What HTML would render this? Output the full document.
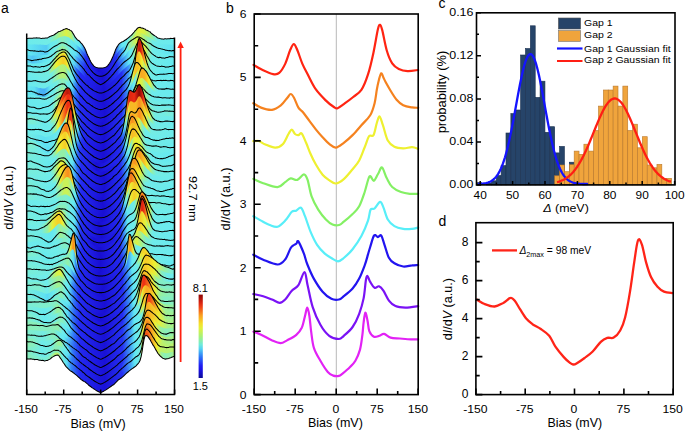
<!DOCTYPE html>
<html><head><meta charset="utf-8"><style>
html,body{margin:0;padding:0;background:#fff;overflow:hidden}
svg{display:block;font-family:"Liberation Sans",sans-serif}
</style></head><body>
<svg width="685" height="432" viewBox="0 0 685 432">
<rect width="685" height="432" fill="#fff"/>
<defs><linearGradient id="g0" gradientUnits="userSpaceOnUse" x1="26.7" y1="0" x2="174.6" y2="0"><stop offset="0.000" stop-color="#6cebec"/><stop offset="0.153" stop-color="#72ece5"/><stop offset="0.200" stop-color="#93f0a6"/><stop offset="0.220" stop-color="#aff17d"/><stop offset="0.267" stop-color="#dcf145"/><stop offset="0.300" stop-color="#bcf26b"/><stop offset="0.327" stop-color="#71ece8"/><stop offset="0.360" stop-color="#63e8f1"/><stop offset="0.380" stop-color="#42a5f6"/><stop offset="0.407" stop-color="#242cf2"/><stop offset="0.487" stop-color="#180ed2"/><stop offset="0.567" stop-color="#1e19e4"/><stop offset="0.593" stop-color="#242ef2"/><stop offset="0.627" stop-color="#52c6f4"/><stop offset="0.647" stop-color="#63e8f2"/><stop offset="0.693" stop-color="#70ecea"/><stop offset="0.727" stop-color="#a6f189"/><stop offset="0.753" stop-color="#e7f139"/><stop offset="0.793" stop-color="#daf146"/><stop offset="0.833" stop-color="#aaf185"/><stop offset="0.867" stop-color="#7bedd5"/><stop offset="0.887" stop-color="#6debec"/><stop offset="1.000" stop-color="#6bebed"/></linearGradient><linearGradient id="g1" gradientUnits="userSpaceOnUse" x1="26.7" y1="0" x2="174.6" y2="0"><stop offset="0.000" stop-color="#64e9f1"/><stop offset="0.087" stop-color="#59d5f3"/><stop offset="0.133" stop-color="#54caf4"/><stop offset="0.160" stop-color="#65e9f0"/><stop offset="0.207" stop-color="#73ece3"/><stop offset="0.240" stop-color="#89efb9"/><stop offset="0.300" stop-color="#6bebed"/><stop offset="0.333" stop-color="#5ee0f2"/><stop offset="0.360" stop-color="#3f9ef6"/><stop offset="0.400" stop-color="#232af1"/><stop offset="0.513" stop-color="#180ed3"/><stop offset="0.607" stop-color="#2531f2"/><stop offset="0.640" stop-color="#3f9df6"/><stop offset="0.667" stop-color="#64e9f1"/><stop offset="0.680" stop-color="#72ece5"/><stop offset="0.693" stop-color="#8eefb0"/><stop offset="0.740" stop-color="#d5f14d"/><stop offset="0.767" stop-color="#d3f14f"/><stop offset="0.807" stop-color="#99f09c"/><stop offset="0.853" stop-color="#6fecea"/><stop offset="0.993" stop-color="#5fe2f2"/><stop offset="1.000" stop-color="#62e8f2"/></linearGradient><linearGradient id="g2" gradientUnits="userSpaceOnUse" x1="26.7" y1="0" x2="174.6" y2="0"><stop offset="0.000" stop-color="#5ddcf3"/><stop offset="0.040" stop-color="#51c5f4"/><stop offset="0.133" stop-color="#64e9f1"/><stop offset="0.187" stop-color="#70ecea"/><stop offset="0.213" stop-color="#88efbb"/><stop offset="0.240" stop-color="#9af09a"/><stop offset="0.273" stop-color="#87eebd"/><stop offset="0.293" stop-color="#6cebec"/><stop offset="0.320" stop-color="#5cdbf3"/><stop offset="0.367" stop-color="#2d62f6"/><stop offset="0.400" stop-color="#2226f0"/><stop offset="0.520" stop-color="#1910d6"/><stop offset="0.613" stop-color="#2535f3"/><stop offset="0.660" stop-color="#42a4f6"/><stop offset="0.693" stop-color="#63e8f2"/><stop offset="0.713" stop-color="#6eebeb"/><stop offset="0.727" stop-color="#93f0a6"/><stop offset="0.740" stop-color="#d7f14a"/><stop offset="0.747" stop-color="#f2f02d"/><stop offset="0.767" stop-color="#f4e02a"/><stop offset="0.793" stop-color="#e5f13b"/><stop offset="0.813" stop-color="#b3f178"/><stop offset="0.847" stop-color="#70ece9"/><stop offset="1.000" stop-color="#66e9f0"/></linearGradient><linearGradient id="g3" gradientUnits="userSpaceOnUse" x1="26.7" y1="0" x2="174.6" y2="0"><stop offset="0.000" stop-color="#65e9f0"/><stop offset="0.160" stop-color="#6cebec"/><stop offset="0.173" stop-color="#76edde"/><stop offset="0.207" stop-color="#b7f172"/><stop offset="0.227" stop-color="#def143"/><stop offset="0.253" stop-color="#f2f02d"/><stop offset="0.267" stop-color="#dbf146"/><stop offset="0.293" stop-color="#77eddd"/><stop offset="0.307" stop-color="#65e9f0"/><stop offset="0.333" stop-color="#2f6ef7"/><stop offset="0.360" stop-color="#242bf2"/><stop offset="0.520" stop-color="#190fd4"/><stop offset="0.640" stop-color="#242cf2"/><stop offset="0.693" stop-color="#40a0f6"/><stop offset="0.707" stop-color="#5fe2f2"/><stop offset="0.720" stop-color="#6eebeb"/><stop offset="0.727" stop-color="#87eebd"/><stop offset="0.740" stop-color="#f0f02f"/><stop offset="0.753" stop-color="#f7ba24"/><stop offset="0.773" stop-color="#f7bb24"/><stop offset="0.800" stop-color="#f0f030"/><stop offset="0.827" stop-color="#8aefb8"/><stop offset="0.840" stop-color="#6fecea"/><stop offset="1.000" stop-color="#65e9f0"/></linearGradient><linearGradient id="g4" gradientUnits="userSpaceOnUse" x1="26.7" y1="0" x2="174.6" y2="0"><stop offset="0.000" stop-color="#6cebec"/><stop offset="0.147" stop-color="#74ece1"/><stop offset="0.180" stop-color="#baf16d"/><stop offset="0.200" stop-color="#eef031"/><stop offset="0.247" stop-color="#f6cc27"/><stop offset="0.267" stop-color="#f4dd2a"/><stop offset="0.273" stop-color="#f2ed2c"/><stop offset="0.287" stop-color="#b2f178"/><stop offset="0.300" stop-color="#76eddf"/><stop offset="0.313" stop-color="#64e9f1"/><stop offset="0.340" stop-color="#2e6af6"/><stop offset="0.367" stop-color="#242bf1"/><stop offset="0.520" stop-color="#190fd4"/><stop offset="0.640" stop-color="#242cf2"/><stop offset="0.687" stop-color="#40a0f6"/><stop offset="0.713" stop-color="#65e9f0"/><stop offset="0.720" stop-color="#6debec"/><stop offset="0.727" stop-color="#8eefaf"/><stop offset="0.733" stop-color="#e8f038"/><stop offset="0.740" stop-color="#f8b724"/><stop offset="0.747" stop-color="#f4631a"/><stop offset="0.753" stop-color="#d82411"/><stop offset="0.760" stop-color="#bd190c"/><stop offset="0.773" stop-color="#dd2611"/><stop offset="0.787" stop-color="#f5711b"/><stop offset="0.807" stop-color="#f3e82c"/><stop offset="0.820" stop-color="#a0f092"/><stop offset="0.833" stop-color="#75ece1"/><stop offset="0.907" stop-color="#65e9f0"/><stop offset="1.000" stop-color="#67eaef"/></linearGradient><linearGradient id="g5" gradientUnits="userSpaceOnUse" x1="26.7" y1="0" x2="174.6" y2="0"><stop offset="0.000" stop-color="#69eaee"/><stop offset="0.167" stop-color="#72ece6"/><stop offset="0.227" stop-color="#b3f178"/><stop offset="0.253" stop-color="#b4f176"/><stop offset="0.267" stop-color="#a1f090"/><stop offset="0.287" stop-color="#72ece6"/><stop offset="0.307" stop-color="#60e4f2"/><stop offset="0.327" stop-color="#368bf7"/><stop offset="0.360" stop-color="#242bf2"/><stop offset="0.527" stop-color="#1910d5"/><stop offset="0.640" stop-color="#242cf2"/><stop offset="0.680" stop-color="#3992f7"/><stop offset="0.693" stop-color="#5ee0f2"/><stop offset="0.707" stop-color="#78edda"/><stop offset="0.720" stop-color="#e1f13f"/><stop offset="0.733" stop-color="#f6c426"/><stop offset="0.753" stop-color="#f7bf25"/><stop offset="0.780" stop-color="#f1f02e"/><stop offset="0.807" stop-color="#8defb2"/><stop offset="0.827" stop-color="#6feceb"/><stop offset="1.000" stop-color="#69eaee"/></linearGradient><linearGradient id="g6" gradientUnits="userSpaceOnUse" x1="26.7" y1="0" x2="174.6" y2="0"><stop offset="0.000" stop-color="#64e9f1"/><stop offset="0.053" stop-color="#5ee0f2"/><stop offset="0.093" stop-color="#49b3f5"/><stop offset="0.120" stop-color="#46adf5"/><stop offset="0.160" stop-color="#64e9f1"/><stop offset="0.207" stop-color="#77eddc"/><stop offset="0.240" stop-color="#8defb1"/><stop offset="0.260" stop-color="#83eec4"/><stop offset="0.273" stop-color="#6feceb"/><stop offset="0.293" stop-color="#63e8f1"/><stop offset="0.327" stop-color="#3073f7"/><stop offset="0.360" stop-color="#242af1"/><stop offset="0.527" stop-color="#1910d5"/><stop offset="0.640" stop-color="#242cf2"/><stop offset="0.693" stop-color="#43a6f6"/><stop offset="0.720" stop-color="#64e9f1"/><stop offset="0.733" stop-color="#71ece8"/><stop offset="0.747" stop-color="#b7f172"/><stop offset="0.753" stop-color="#e9f037"/><stop offset="0.773" stop-color="#f9a721"/><stop offset="0.800" stop-color="#f8b323"/><stop offset="0.827" stop-color="#f3ea2c"/><stop offset="0.847" stop-color="#a9f186"/><stop offset="0.867" stop-color="#77eddc"/><stop offset="0.887" stop-color="#6bebed"/><stop offset="1.000" stop-color="#6aeaed"/></linearGradient><linearGradient id="g7" gradientUnits="userSpaceOnUse" x1="26.7" y1="0" x2="174.6" y2="0"><stop offset="0.000" stop-color="#67e9ef"/><stop offset="0.180" stop-color="#71ece7"/><stop offset="0.240" stop-color="#9ef095"/><stop offset="0.273" stop-color="#81eec8"/><stop offset="0.287" stop-color="#6debeb"/><stop offset="0.300" stop-color="#63e8f1"/><stop offset="0.333" stop-color="#2e6bf6"/><stop offset="0.360" stop-color="#242ef2"/><stop offset="0.513" stop-color="#180fd3"/><stop offset="0.640" stop-color="#242cf2"/><stop offset="0.680" stop-color="#3a92f7"/><stop offset="0.700" stop-color="#63e8f2"/><stop offset="0.713" stop-color="#72ece7"/><stop offset="0.733" stop-color="#d3f14e"/><stop offset="0.747" stop-color="#f2f02d"/><stop offset="0.780" stop-color="#d3f14e"/><stop offset="0.813" stop-color="#88efbb"/><stop offset="0.847" stop-color="#6eebeb"/><stop offset="1.000" stop-color="#69eaee"/></linearGradient><linearGradient id="g8" gradientUnits="userSpaceOnUse" x1="26.7" y1="0" x2="174.6" y2="0"><stop offset="0.000" stop-color="#6aeaed"/><stop offset="0.140" stop-color="#67eaef"/><stop offset="0.173" stop-color="#71ece8"/><stop offset="0.220" stop-color="#a9f186"/><stop offset="0.253" stop-color="#cbf257"/><stop offset="0.273" stop-color="#bef268"/><stop offset="0.300" stop-color="#76edde"/><stop offset="0.313" stop-color="#66e9f0"/><stop offset="0.320" stop-color="#5ad7f3"/><stop offset="0.333" stop-color="#3487f8"/><stop offset="0.367" stop-color="#242af1"/><stop offset="0.527" stop-color="#1910d5"/><stop offset="0.640" stop-color="#2531f2"/><stop offset="0.673" stop-color="#3487f8"/><stop offset="0.687" stop-color="#58d4f3"/><stop offset="0.700" stop-color="#6cebec"/><stop offset="0.707" stop-color="#7dedd0"/><stop offset="0.713" stop-color="#97f09f"/><stop offset="0.720" stop-color="#caf258"/><stop offset="0.727" stop-color="#e9f036"/><stop offset="0.753" stop-color="#f4e02a"/><stop offset="0.773" stop-color="#f1f02e"/><stop offset="0.800" stop-color="#abf182"/><stop offset="0.833" stop-color="#74ece1"/><stop offset="1.000" stop-color="#6bebed"/></linearGradient><linearGradient id="g9" gradientUnits="userSpaceOnUse" x1="26.7" y1="0" x2="174.6" y2="0"><stop offset="0.000" stop-color="#6eebeb"/><stop offset="0.173" stop-color="#70ecea"/><stop offset="0.207" stop-color="#b5f175"/><stop offset="0.227" stop-color="#eff030"/><stop offset="0.267" stop-color="#f6c726"/><stop offset="0.293" stop-color="#f3e22b"/><stop offset="0.300" stop-color="#ecf033"/><stop offset="0.307" stop-color="#cbf257"/><stop offset="0.313" stop-color="#98f09d"/><stop offset="0.320" stop-color="#7cedd2"/><stop offset="0.327" stop-color="#6cebec"/><stop offset="0.333" stop-color="#64e8f1"/><stop offset="0.353" stop-color="#2e6cf6"/><stop offset="0.373" stop-color="#242bf1"/><stop offset="0.520" stop-color="#190fd4"/><stop offset="0.627" stop-color="#232af1"/><stop offset="0.660" stop-color="#3076f7"/><stop offset="0.673" stop-color="#58d3f3"/><stop offset="0.680" stop-color="#6aeaee"/><stop offset="0.687" stop-color="#8aefb7"/><stop offset="0.693" stop-color="#d1f250"/><stop offset="0.700" stop-color="#f4df2a"/><stop offset="0.713" stop-color="#f6c626"/><stop offset="0.740" stop-color="#f7ba24"/><stop offset="0.760" stop-color="#f9961f"/><stop offset="0.807" stop-color="#e7f139"/><stop offset="0.833" stop-color="#8befb5"/><stop offset="0.867" stop-color="#74ece2"/><stop offset="0.920" stop-color="#73ece4"/><stop offset="0.953" stop-color="#78edda"/><stop offset="1.000" stop-color="#74ece3"/></linearGradient><linearGradient id="g10" gradientUnits="userSpaceOnUse" x1="26.7" y1="0" x2="174.6" y2="0"><stop offset="0.000" stop-color="#7bedd5"/><stop offset="0.040" stop-color="#7bedd5"/><stop offset="0.120" stop-color="#6aeaed"/><stop offset="0.153" stop-color="#71ece8"/><stop offset="0.173" stop-color="#90efac"/><stop offset="0.193" stop-color="#e4f13c"/><stop offset="0.220" stop-color="#faa220"/><stop offset="0.247" stop-color="#ef3415"/><stop offset="0.273" stop-color="#bb180c"/><stop offset="0.293" stop-color="#cc1f0f"/><stop offset="0.300" stop-color="#eb2c14"/><stop offset="0.320" stop-color="#f6c426"/><stop offset="0.327" stop-color="#f2f02d"/><stop offset="0.333" stop-color="#a9f186"/><stop offset="0.340" stop-color="#76eddf"/><stop offset="0.347" stop-color="#66e9ef"/><stop offset="0.360" stop-color="#317ff8"/><stop offset="0.373" stop-color="#273cf3"/><stop offset="0.400" stop-color="#2120ed"/><stop offset="0.520" stop-color="#190fd4"/><stop offset="0.633" stop-color="#242ff2"/><stop offset="0.647" stop-color="#2f72f7"/><stop offset="0.653" stop-color="#4fc1f4"/><stop offset="0.660" stop-color="#6cebec"/><stop offset="0.667" stop-color="#b1f17a"/><stop offset="0.673" stop-color="#f5d128"/><stop offset="0.687" stop-color="#f04016"/><stop offset="0.693" stop-color="#de2712"/><stop offset="0.713" stop-color="#e42912"/><stop offset="0.727" stop-color="#ee2d14"/><stop offset="0.760" stop-color="#8f0605"/><stop offset="0.773" stop-color="#aa110a"/><stop offset="0.787" stop-color="#e62a13"/><stop offset="0.813" stop-color="#f7bf25"/><stop offset="0.827" stop-color="#eef032"/><stop offset="0.847" stop-color="#92f0a7"/><stop offset="0.867" stop-color="#71ece8"/><stop offset="1.000" stop-color="#6cebec"/></linearGradient><linearGradient id="g11" gradientUnits="userSpaceOnUse" x1="26.7" y1="0" x2="174.6" y2="0"><stop offset="0.000" stop-color="#6feceb"/><stop offset="0.167" stop-color="#6debec"/><stop offset="0.193" stop-color="#94f0a5"/><stop offset="0.213" stop-color="#f1f02e"/><stop offset="0.247" stop-color="#f7811d"/><stop offset="0.273" stop-color="#ee3014"/><stop offset="0.287" stop-color="#ee2d14"/><stop offset="0.293" stop-color="#f03b16"/><stop offset="0.313" stop-color="#f6ca27"/><stop offset="0.320" stop-color="#e6f13a"/><stop offset="0.327" stop-color="#9af09b"/><stop offset="0.333" stop-color="#6eeceb"/><stop offset="0.340" stop-color="#63e8f1"/><stop offset="0.353" stop-color="#3076f7"/><stop offset="0.373" stop-color="#242bf1"/><stop offset="0.520" stop-color="#190fd4"/><stop offset="0.633" stop-color="#242bf1"/><stop offset="0.653" stop-color="#2d65f6"/><stop offset="0.660" stop-color="#3384f8"/><stop offset="0.667" stop-color="#50c2f4"/><stop offset="0.673" stop-color="#6aeaee"/><stop offset="0.680" stop-color="#8defb2"/><stop offset="0.687" stop-color="#e4f13c"/><stop offset="0.700" stop-color="#f7ba24"/><stop offset="0.740" stop-color="#f8b824"/><stop offset="0.760" stop-color="#f88b1e"/><stop offset="0.780" stop-color="#f9ac22"/><stop offset="0.807" stop-color="#e9f037"/><stop offset="0.827" stop-color="#8eefb0"/><stop offset="0.840" stop-color="#74ece3"/><stop offset="1.000" stop-color="#6debec"/></linearGradient><linearGradient id="g12" gradientUnits="userSpaceOnUse" x1="26.7" y1="0" x2="174.6" y2="0"><stop offset="0.000" stop-color="#74ece2"/><stop offset="0.120" stop-color="#5ee0f2"/><stop offset="0.247" stop-color="#6feceb"/><stop offset="0.253" stop-color="#7bedd4"/><stop offset="0.260" stop-color="#94f0a4"/><stop offset="0.267" stop-color="#d1f250"/><stop offset="0.273" stop-color="#f5d529"/><stop offset="0.293" stop-color="#ed2d14"/><stop offset="0.300" stop-color="#e22812"/><stop offset="0.307" stop-color="#f14c17"/><stop offset="0.313" stop-color="#f9ac22"/><stop offset="0.320" stop-color="#daf146"/><stop offset="0.327" stop-color="#70ece9"/><stop offset="0.333" stop-color="#58d4f3"/><stop offset="0.340" stop-color="#3588f8"/><stop offset="0.360" stop-color="#2636f3"/><stop offset="0.473" stop-color="#1910d5"/><stop offset="0.633" stop-color="#242bf2"/><stop offset="0.647" stop-color="#2b55f5"/><stop offset="0.660" stop-color="#45abf6"/><stop offset="0.667" stop-color="#64e9f1"/><stop offset="0.673" stop-color="#70ecea"/><stop offset="0.680" stop-color="#a1f090"/><stop offset="0.687" stop-color="#f0f02f"/><stop offset="0.700" stop-color="#f9a721"/><stop offset="0.713" stop-color="#f88d1e"/><stop offset="0.740" stop-color="#f7bd25"/><stop offset="0.760" stop-color="#e3f13d"/><stop offset="0.780" stop-color="#8fefad"/><stop offset="0.800" stop-color="#6fecea"/><stop offset="1.000" stop-color="#6eebeb"/></linearGradient><linearGradient id="g13" gradientUnits="userSpaceOnUse" x1="26.7" y1="0" x2="174.6" y2="0"><stop offset="0.000" stop-color="#7cedd2"/><stop offset="0.040" stop-color="#7eedcf"/><stop offset="0.080" stop-color="#6eebeb"/><stop offset="0.147" stop-color="#5dddf3"/><stop offset="0.187" stop-color="#70ecea"/><stop offset="0.200" stop-color="#92f0a7"/><stop offset="0.213" stop-color="#d8f149"/><stop offset="0.220" stop-color="#f2ed2d"/><stop offset="0.260" stop-color="#f67c1c"/><stop offset="0.273" stop-color="#f67a1c"/><stop offset="0.293" stop-color="#f6cc27"/><stop offset="0.300" stop-color="#e9f037"/><stop offset="0.313" stop-color="#77eddd"/><stop offset="0.327" stop-color="#5bdaf3"/><stop offset="0.340" stop-color="#317df8"/><stop offset="0.367" stop-color="#242cf2"/><stop offset="0.520" stop-color="#190fd4"/><stop offset="0.633" stop-color="#242cf2"/><stop offset="0.660" stop-color="#3179f7"/><stop offset="0.673" stop-color="#62e7f2"/><stop offset="0.680" stop-color="#6cebec"/><stop offset="0.687" stop-color="#8eefaf"/><stop offset="0.693" stop-color="#d2f24f"/><stop offset="0.700" stop-color="#f4e02a"/><stop offset="0.713" stop-color="#f7bb24"/><stop offset="0.740" stop-color="#f6cb27"/><stop offset="0.760" stop-color="#ebf034"/><stop offset="0.787" stop-color="#8eefb0"/><stop offset="0.807" stop-color="#74ece1"/><stop offset="1.000" stop-color="#69eaee"/></linearGradient><linearGradient id="g14" gradientUnits="userSpaceOnUse" x1="26.7" y1="0" x2="174.6" y2="0"><stop offset="0.000" stop-color="#7bedd5"/><stop offset="0.140" stop-color="#6aeaee"/><stop offset="0.173" stop-color="#75ede0"/><stop offset="0.193" stop-color="#96f0a0"/><stop offset="0.213" stop-color="#dcf144"/><stop offset="0.227" stop-color="#f3e92c"/><stop offset="0.260" stop-color="#f6cc27"/><stop offset="0.280" stop-color="#e9f037"/><stop offset="0.300" stop-color="#7dedd0"/><stop offset="0.307" stop-color="#6cebec"/><stop offset="0.313" stop-color="#65e9f0"/><stop offset="0.333" stop-color="#3485f8"/><stop offset="0.367" stop-color="#242bf1"/><stop offset="0.527" stop-color="#1910d5"/><stop offset="0.633" stop-color="#242bf2"/><stop offset="0.667" stop-color="#3283f8"/><stop offset="0.687" stop-color="#63e8f2"/><stop offset="0.700" stop-color="#70ecea"/><stop offset="0.720" stop-color="#cef254"/><stop offset="0.733" stop-color="#f2f02d"/><stop offset="0.760" stop-color="#e4f13c"/><stop offset="0.780" stop-color="#c1f263"/><stop offset="0.807" stop-color="#81eec8"/><stop offset="0.847" stop-color="#6cebec"/><stop offset="0.960" stop-color="#67e9ef"/><stop offset="1.000" stop-color="#6debec"/></linearGradient><linearGradient id="g15" gradientUnits="userSpaceOnUse" x1="26.7" y1="0" x2="174.6" y2="0"><stop offset="0.000" stop-color="#74ece2"/><stop offset="0.033" stop-color="#75ede0"/><stop offset="0.167" stop-color="#65e9f0"/><stop offset="0.193" stop-color="#6feceb"/><stop offset="0.220" stop-color="#90efac"/><stop offset="0.253" stop-color="#94f0a5"/><stop offset="0.273" stop-color="#7dedd1"/><stop offset="0.287" stop-color="#6cebec"/><stop offset="0.307" stop-color="#60e4f2"/><stop offset="0.340" stop-color="#2f6ff7"/><stop offset="0.367" stop-color="#242bf2"/><stop offset="0.520" stop-color="#190fd4"/><stop offset="0.640" stop-color="#2530f2"/><stop offset="0.673" stop-color="#3a93f7"/><stop offset="0.693" stop-color="#63e8f1"/><stop offset="0.707" stop-color="#74ece2"/><stop offset="0.713" stop-color="#91f0a9"/><stop offset="0.720" stop-color="#c3f261"/><stop offset="0.727" stop-color="#ebf035"/><stop offset="0.747" stop-color="#f6cc27"/><stop offset="0.787" stop-color="#eef031"/><stop offset="0.813" stop-color="#a5f18b"/><stop offset="0.840" stop-color="#70ecea"/><stop offset="1.000" stop-color="#6aeaed"/></linearGradient><linearGradient id="g16" gradientUnits="userSpaceOnUse" x1="26.7" y1="0" x2="174.6" y2="0"><stop offset="0.000" stop-color="#78eddb"/><stop offset="0.080" stop-color="#76eddf"/><stop offset="0.160" stop-color="#6feceb"/><stop offset="0.193" stop-color="#9ef095"/><stop offset="0.227" stop-color="#e4f13c"/><stop offset="0.253" stop-color="#d3f14e"/><stop offset="0.267" stop-color="#aef17f"/><stop offset="0.287" stop-color="#71ece8"/><stop offset="0.307" stop-color="#63e8f2"/><stop offset="0.340" stop-color="#2f6ff7"/><stop offset="0.367" stop-color="#242cf2"/><stop offset="0.513" stop-color="#180ed3"/><stop offset="0.640" stop-color="#2532f2"/><stop offset="0.673" stop-color="#388ef7"/><stop offset="0.693" stop-color="#60e4f2"/><stop offset="0.707" stop-color="#6debec"/><stop offset="0.713" stop-color="#82eec6"/><stop offset="0.727" stop-color="#dff141"/><stop offset="0.740" stop-color="#f7be25"/><stop offset="0.760" stop-color="#f9921f"/><stop offset="0.793" stop-color="#f7bf25"/><stop offset="0.813" stop-color="#f2eb2c"/><stop offset="0.847" stop-color="#91efaa"/><stop offset="0.873" stop-color="#74ece2"/><stop offset="1.000" stop-color="#6debec"/></linearGradient><linearGradient id="g17" gradientUnits="userSpaceOnUse" x1="26.7" y1="0" x2="174.6" y2="0"><stop offset="0.000" stop-color="#75ede0"/><stop offset="0.167" stop-color="#6eebeb"/><stop offset="0.180" stop-color="#7cedd3"/><stop offset="0.200" stop-color="#aaf185"/><stop offset="0.220" stop-color="#f0f02f"/><stop offset="0.267" stop-color="#f6cc27"/><stop offset="0.287" stop-color="#ecf033"/><stop offset="0.300" stop-color="#9bf09a"/><stop offset="0.307" stop-color="#7cedd3"/><stop offset="0.313" stop-color="#6cebec"/><stop offset="0.320" stop-color="#66e9f0"/><stop offset="0.333" stop-color="#44a8f6"/><stop offset="0.353" stop-color="#2a50f5"/><stop offset="0.367" stop-color="#242bf2"/><stop offset="0.520" stop-color="#180fd3"/><stop offset="0.633" stop-color="#242bf2"/><stop offset="0.660" stop-color="#317bf8"/><stop offset="0.673" stop-color="#60e3f2"/><stop offset="0.680" stop-color="#6beaed"/><stop offset="0.687" stop-color="#87eebd"/><stop offset="0.693" stop-color="#caf258"/><stop offset="0.700" stop-color="#f4df2a"/><stop offset="0.713" stop-color="#faa120"/><stop offset="0.733" stop-color="#f9931f"/><stop offset="0.767" stop-color="#f3e82c"/><stop offset="0.780" stop-color="#c4f260"/><stop offset="0.800" stop-color="#87eebd"/><stop offset="0.833" stop-color="#6eebeb"/><stop offset="1.000" stop-color="#6eebeb"/></linearGradient><linearGradient id="g18" gradientUnits="userSpaceOnUse" x1="26.7" y1="0" x2="174.6" y2="0"><stop offset="0.000" stop-color="#7aedd6"/><stop offset="0.173" stop-color="#68eaef"/><stop offset="0.193" stop-color="#70ece9"/><stop offset="0.213" stop-color="#a7f189"/><stop offset="0.227" stop-color="#e6f13a"/><stop offset="0.260" stop-color="#faa521"/><stop offset="0.280" stop-color="#f88d1e"/><stop offset="0.300" stop-color="#f8b924"/><stop offset="0.307" stop-color="#f4da29"/><stop offset="0.313" stop-color="#dbf145"/><stop offset="0.320" stop-color="#94f0a3"/><stop offset="0.327" stop-color="#6feceb"/><stop offset="0.333" stop-color="#64e8f1"/><stop offset="0.347" stop-color="#327ff8"/><stop offset="0.367" stop-color="#242bf2"/><stop offset="0.513" stop-color="#180ed2"/><stop offset="0.633" stop-color="#242cf2"/><stop offset="0.653" stop-color="#317ef8"/><stop offset="0.667" stop-color="#66e9f0"/><stop offset="0.673" stop-color="#75ede0"/><stop offset="0.687" stop-color="#ebf034"/><stop offset="0.700" stop-color="#f8b624"/><stop offset="0.720" stop-color="#f9a921"/><stop offset="0.753" stop-color="#f2eb2c"/><stop offset="0.767" stop-color="#c8f25a"/><stop offset="0.787" stop-color="#86eec0"/><stop offset="0.807" stop-color="#70ece9"/><stop offset="0.980" stop-color="#69eaee"/><stop offset="1.000" stop-color="#6cebec"/></linearGradient><linearGradient id="g19" gradientUnits="userSpaceOnUse" x1="26.7" y1="0" x2="174.6" y2="0"><stop offset="0.000" stop-color="#7cedd2"/><stop offset="0.080" stop-color="#73ece5"/><stop offset="0.193" stop-color="#73ece4"/><stop offset="0.253" stop-color="#caf257"/><stop offset="0.280" stop-color="#c8f25a"/><stop offset="0.293" stop-color="#abf183"/><stop offset="0.313" stop-color="#6feceb"/><stop offset="0.327" stop-color="#62e8f2"/><stop offset="0.347" stop-color="#2f72f7"/><stop offset="0.367" stop-color="#242ef2"/><stop offset="0.487" stop-color="#180ed2"/><stop offset="0.627" stop-color="#2327f0"/><stop offset="0.633" stop-color="#242bf2"/><stop offset="0.647" stop-color="#2e69f6"/><stop offset="0.660" stop-color="#64e9f1"/><stop offset="0.667" stop-color="#77eddc"/><stop offset="0.673" stop-color="#baf16e"/><stop offset="0.680" stop-color="#f3e32b"/><stop offset="0.693" stop-color="#f88f1e"/><stop offset="0.707" stop-color="#f6761c"/><stop offset="0.753" stop-color="#f3e52b"/><stop offset="0.767" stop-color="#ccf255"/><stop offset="0.780" stop-color="#95f0a2"/><stop offset="0.807" stop-color="#72ece7"/><stop offset="1.000" stop-color="#6bebed"/></linearGradient><linearGradient id="g20" gradientUnits="userSpaceOnUse" x1="26.7" y1="0" x2="174.6" y2="0"><stop offset="0.000" stop-color="#6debec"/><stop offset="0.200" stop-color="#6fecea"/><stop offset="0.233" stop-color="#82eec6"/><stop offset="0.267" stop-color="#7feecc"/><stop offset="0.307" stop-color="#68eaef"/><stop offset="0.320" stop-color="#62e8f2"/><stop offset="0.353" stop-color="#2c5df5"/><stop offset="0.367" stop-color="#242bf2"/><stop offset="0.507" stop-color="#180ed2"/><stop offset="0.633" stop-color="#242cf2"/><stop offset="0.660" stop-color="#3d98f7"/><stop offset="0.667" stop-color="#56cff3"/><stop offset="0.673" stop-color="#66e9f0"/><stop offset="0.680" stop-color="#6fecea"/><stop offset="0.700" stop-color="#e9f037"/><stop offset="0.727" stop-color="#f6cd27"/><stop offset="0.767" stop-color="#e8f037"/><stop offset="0.807" stop-color="#89efb9"/><stop offset="0.833" stop-color="#77eddb"/><stop offset="1.000" stop-color="#6eebeb"/></linearGradient><linearGradient id="g21" gradientUnits="userSpaceOnUse" x1="26.7" y1="0" x2="174.6" y2="0"><stop offset="0.000" stop-color="#75ece1"/><stop offset="0.040" stop-color="#73ece4"/><stop offset="0.180" stop-color="#70ece9"/><stop offset="0.213" stop-color="#8befb6"/><stop offset="0.260" stop-color="#88efbb"/><stop offset="0.293" stop-color="#6eebeb"/><stop offset="0.327" stop-color="#5ee1f2"/><stop offset="0.353" stop-color="#2e67f6"/><stop offset="0.367" stop-color="#2532f2"/><stop offset="0.453" stop-color="#1910d6"/><stop offset="0.587" stop-color="#1d18e2"/><stop offset="0.633" stop-color="#242df2"/><stop offset="0.660" stop-color="#388ff7"/><stop offset="0.680" stop-color="#61e5f2"/><stop offset="0.727" stop-color="#72ece5"/><stop offset="0.740" stop-color="#97f09e"/><stop offset="0.747" stop-color="#c8f25a"/><stop offset="0.753" stop-color="#f3eb2c"/><stop offset="0.773" stop-color="#f99a1f"/><stop offset="0.787" stop-color="#fa9b20"/><stop offset="0.820" stop-color="#f3e92c"/><stop offset="0.833" stop-color="#bbf16c"/><stop offset="0.847" stop-color="#89efb9"/><stop offset="0.860" stop-color="#6fecea"/><stop offset="1.000" stop-color="#6debec"/></linearGradient><linearGradient id="g22" gradientUnits="userSpaceOnUse" x1="26.7" y1="0" x2="174.6" y2="0"><stop offset="0.000" stop-color="#77eddc"/><stop offset="0.127" stop-color="#6fecea"/><stop offset="0.160" stop-color="#8aefb8"/><stop offset="0.200" stop-color="#d4f14d"/><stop offset="0.227" stop-color="#e1f140"/><stop offset="0.247" stop-color="#b9f170"/><stop offset="0.273" stop-color="#7feecc"/><stop offset="0.293" stop-color="#6debec"/><stop offset="0.320" stop-color="#63e8f2"/><stop offset="0.340" stop-color="#42a4f6"/><stop offset="0.367" stop-color="#242cf2"/><stop offset="0.493" stop-color="#180ed2"/><stop offset="0.627" stop-color="#2328f0"/><stop offset="0.640" stop-color="#2843f4"/><stop offset="0.667" stop-color="#4ab5f5"/><stop offset="0.680" stop-color="#62e8f2"/><stop offset="0.727" stop-color="#70ecea"/><stop offset="0.740" stop-color="#8defb2"/><stop offset="0.753" stop-color="#f2ee2d"/><stop offset="0.773" stop-color="#f5701b"/><stop offset="0.780" stop-color="#f36019"/><stop offset="0.793" stop-color="#f67b1c"/><stop offset="0.827" stop-color="#eaf035"/><stop offset="0.847" stop-color="#86eebf"/><stop offset="0.860" stop-color="#6eeceb"/><stop offset="1.000" stop-color="#6aeaee"/></linearGradient><linearGradient id="g23" gradientUnits="userSpaceOnUse" x1="26.7" y1="0" x2="174.6" y2="0"><stop offset="0.000" stop-color="#6eebeb"/><stop offset="0.100" stop-color="#74ece2"/><stop offset="0.140" stop-color="#93f0a5"/><stop offset="0.173" stop-color="#e3f13d"/><stop offset="0.207" stop-color="#f5d228"/><stop offset="0.227" stop-color="#f5d328"/><stop offset="0.240" stop-color="#f2ec2c"/><stop offset="0.267" stop-color="#93f0a6"/><stop offset="0.293" stop-color="#70ecea"/><stop offset="0.320" stop-color="#64e9f1"/><stop offset="0.353" stop-color="#2e67f6"/><stop offset="0.373" stop-color="#2329f1"/><stop offset="0.500" stop-color="#180ed2"/><stop offset="0.633" stop-color="#242bf1"/><stop offset="0.660" stop-color="#3b96f7"/><stop offset="0.680" stop-color="#63e8f2"/><stop offset="0.733" stop-color="#73ece5"/><stop offset="0.740" stop-color="#81eec9"/><stop offset="0.747" stop-color="#a3f18e"/><stop offset="0.753" stop-color="#eaf035"/><stop offset="0.767" stop-color="#f5731b"/><stop offset="0.773" stop-color="#ee2d14"/><stop offset="0.780" stop-color="#d62310"/><stop offset="0.793" stop-color="#ef3515"/><stop offset="0.820" stop-color="#f5d529"/><stop offset="0.827" stop-color="#e8f038"/><stop offset="0.840" stop-color="#8fefad"/><stop offset="0.853" stop-color="#6feceb"/><stop offset="1.000" stop-color="#6aeaee"/></linearGradient><linearGradient id="g24" gradientUnits="userSpaceOnUse" x1="26.7" y1="0" x2="174.6" y2="0"><stop offset="0.000" stop-color="#78edda"/><stop offset="0.167" stop-color="#63e8f1"/><stop offset="0.193" stop-color="#6fecea"/><stop offset="0.227" stop-color="#9df096"/><stop offset="0.267" stop-color="#84eec4"/><stop offset="0.293" stop-color="#6debec"/><stop offset="0.320" stop-color="#62e8f2"/><stop offset="0.353" stop-color="#2b54f5"/><stop offset="0.367" stop-color="#242bf1"/><stop offset="0.500" stop-color="#180ed2"/><stop offset="0.633" stop-color="#242bf1"/><stop offset="0.667" stop-color="#3c98f7"/><stop offset="0.680" stop-color="#5cdbf3"/><stop offset="0.707" stop-color="#6bebed"/><stop offset="0.720" stop-color="#77eddc"/><stop offset="0.733" stop-color="#9ff094"/><stop offset="0.740" stop-color="#c9f259"/><stop offset="0.747" stop-color="#edf033"/><stop offset="0.767" stop-color="#f6cc27"/><stop offset="0.800" stop-color="#e8f037"/><stop offset="0.813" stop-color="#bff266"/><stop offset="0.827" stop-color="#8defb2"/><stop offset="0.847" stop-color="#70ecea"/><stop offset="1.000" stop-color="#68eaef"/></linearGradient><linearGradient id="g25" gradientUnits="userSpaceOnUse" x1="26.7" y1="0" x2="174.6" y2="0"><stop offset="0.000" stop-color="#6aeaed"/><stop offset="0.213" stop-color="#70ece9"/><stop offset="0.253" stop-color="#84eec2"/><stop offset="0.280" stop-color="#79edd8"/><stop offset="0.293" stop-color="#6debec"/><stop offset="0.320" stop-color="#5cdbf3"/><stop offset="0.347" stop-color="#2c5ff6"/><stop offset="0.360" stop-color="#242df2"/><stop offset="0.493" stop-color="#180ed2"/><stop offset="0.633" stop-color="#2328f0"/><stop offset="0.647" stop-color="#2842f4"/><stop offset="0.667" stop-color="#368bf7"/><stop offset="0.680" stop-color="#58d4f3"/><stop offset="0.693" stop-color="#6aeaee"/><stop offset="0.700" stop-color="#6fecea"/><stop offset="0.727" stop-color="#c7f25b"/><stop offset="0.747" stop-color="#daf147"/><stop offset="0.773" stop-color="#aaf184"/><stop offset="0.807" stop-color="#7dedd1"/><stop offset="0.853" stop-color="#6debeb"/><stop offset="1.000" stop-color="#6eebeb"/></linearGradient><linearGradient id="g26" gradientUnits="userSpaceOnUse" x1="26.7" y1="0" x2="174.6" y2="0"><stop offset="0.000" stop-color="#81eec9"/><stop offset="0.060" stop-color="#7bedd5"/><stop offset="0.120" stop-color="#67eaef"/><stop offset="0.273" stop-color="#74ece3"/><stop offset="0.287" stop-color="#aef17f"/><stop offset="0.293" stop-color="#eaf036"/><stop offset="0.313" stop-color="#f9931f"/><stop offset="0.320" stop-color="#f9931f"/><stop offset="0.327" stop-color="#f6c526"/><stop offset="0.333" stop-color="#a1f090"/><stop offset="0.340" stop-color="#60e5f2"/><stop offset="0.347" stop-color="#2f71f7"/><stop offset="0.353" stop-color="#273ff3"/><stop offset="0.367" stop-color="#2328f0"/><stop offset="0.520" stop-color="#180ed3"/><stop offset="0.640" stop-color="#232af1"/><stop offset="0.660" stop-color="#2d64f6"/><stop offset="0.667" stop-color="#3b94f7"/><stop offset="0.673" stop-color="#66e9f0"/><stop offset="0.680" stop-color="#a6f18a"/><stop offset="0.687" stop-color="#f6c927"/><stop offset="0.693" stop-color="#faa020"/><stop offset="0.707" stop-color="#f8b523"/><stop offset="0.720" stop-color="#e2f13e"/><stop offset="0.727" stop-color="#a9f186"/><stop offset="0.733" stop-color="#85eec0"/><stop offset="0.747" stop-color="#6feceb"/><stop offset="1.000" stop-color="#6cebec"/></linearGradient><linearGradient id="g27" gradientUnits="userSpaceOnUse" x1="26.7" y1="0" x2="174.6" y2="0"><stop offset="0.000" stop-color="#78edda"/><stop offset="0.060" stop-color="#73ece3"/><stop offset="0.213" stop-color="#6fecea"/><stop offset="0.280" stop-color="#92f0a8"/><stop offset="0.307" stop-color="#6debec"/><stop offset="0.320" stop-color="#5ad7f3"/><stop offset="0.333" stop-color="#317bf7"/><stop offset="0.353" stop-color="#242cf2"/><stop offset="0.513" stop-color="#180ed2"/><stop offset="0.647" stop-color="#242bf2"/><stop offset="0.687" stop-color="#409ff6"/><stop offset="0.713" stop-color="#63e8f1"/><stop offset="0.740" stop-color="#70ecea"/><stop offset="0.753" stop-color="#96f0a0"/><stop offset="0.767" stop-color="#e5f13b"/><stop offset="0.787" stop-color="#f6cc27"/><stop offset="0.820" stop-color="#f2ee2d"/><stop offset="0.840" stop-color="#b3f177"/><stop offset="0.867" stop-color="#75ede0"/><stop offset="0.973" stop-color="#64e9f1"/><stop offset="1.000" stop-color="#69eaee"/></linearGradient><linearGradient id="g28" gradientUnits="userSpaceOnUse" x1="26.7" y1="0" x2="174.6" y2="0"><stop offset="0.000" stop-color="#7aedd7"/><stop offset="0.167" stop-color="#72ece5"/><stop offset="0.233" stop-color="#8cefb3"/><stop offset="0.253" stop-color="#7cedd3"/><stop offset="0.267" stop-color="#6debec"/><stop offset="0.293" stop-color="#5ee0f2"/><stop offset="0.333" stop-color="#2c5bf5"/><stop offset="0.360" stop-color="#2329f1"/><stop offset="0.527" stop-color="#190fd4"/><stop offset="0.647" stop-color="#242bf1"/><stop offset="0.687" stop-color="#388ff7"/><stop offset="0.713" stop-color="#60e3f2"/><stop offset="0.753" stop-color="#70ecea"/><stop offset="0.767" stop-color="#92f0a7"/><stop offset="0.780" stop-color="#d8f149"/><stop offset="0.787" stop-color="#f3eb2c"/><stop offset="0.807" stop-color="#f6c426"/><stop offset="0.867" stop-color="#f0f02f"/><stop offset="0.933" stop-color="#94f0a5"/><stop offset="0.987" stop-color="#78eddb"/><stop offset="1.000" stop-color="#79edd8"/></linearGradient><linearGradient id="g29" gradientUnits="userSpaceOnUse" x1="26.7" y1="0" x2="174.6" y2="0"><stop offset="0.000" stop-color="#76eddf"/><stop offset="0.140" stop-color="#6feceb"/><stop offset="0.160" stop-color="#83eec4"/><stop offset="0.200" stop-color="#d0f252"/><stop offset="0.227" stop-color="#e2f13e"/><stop offset="0.240" stop-color="#c3f261"/><stop offset="0.267" stop-color="#70ecea"/><stop offset="0.287" stop-color="#62e8f2"/><stop offset="0.313" stop-color="#3384f8"/><stop offset="0.353" stop-color="#242bf2"/><stop offset="0.527" stop-color="#190fd4"/><stop offset="0.653" stop-color="#2532f2"/><stop offset="0.693" stop-color="#3d98f7"/><stop offset="0.720" stop-color="#60e5f2"/><stop offset="0.747" stop-color="#6eebeb"/><stop offset="0.753" stop-color="#79edd8"/><stop offset="0.767" stop-color="#aaf184"/><stop offset="0.773" stop-color="#d4f14d"/><stop offset="0.780" stop-color="#f2ee2d"/><stop offset="0.800" stop-color="#f6cc27"/><stop offset="0.847" stop-color="#f3e12b"/><stop offset="0.867" stop-color="#e6f13a"/><stop offset="0.887" stop-color="#b5f174"/><stop offset="0.913" stop-color="#85eec2"/><stop offset="0.953" stop-color="#6feceb"/><stop offset="1.000" stop-color="#6eeceb"/></linearGradient><linearGradient id="g30" gradientUnits="userSpaceOnUse" x1="26.7" y1="0" x2="174.6" y2="0"><stop offset="0.000" stop-color="#7aedd7"/><stop offset="0.080" stop-color="#80eecc"/><stop offset="0.140" stop-color="#70ecea"/><stop offset="0.213" stop-color="#a4f18c"/><stop offset="0.233" stop-color="#98f09d"/><stop offset="0.260" stop-color="#6feceb"/><stop offset="0.280" stop-color="#63e8f1"/><stop offset="0.320" stop-color="#3077f7"/><stop offset="0.353" stop-color="#242ff2"/><stop offset="0.507" stop-color="#180ed2"/><stop offset="0.647" stop-color="#242df2"/><stop offset="0.700" stop-color="#43a6f6"/><stop offset="0.720" stop-color="#61e6f2"/><stop offset="0.747" stop-color="#70ecea"/><stop offset="0.760" stop-color="#9ff094"/><stop offset="0.767" stop-color="#cff253"/><stop offset="0.773" stop-color="#f2eb2c"/><stop offset="0.793" stop-color="#f7bb24"/><stop offset="0.833" stop-color="#f4e12a"/><stop offset="0.847" stop-color="#e0f140"/><stop offset="0.873" stop-color="#9cf098"/><stop offset="0.900" stop-color="#83eec5"/><stop offset="0.947" stop-color="#81eec9"/><stop offset="1.000" stop-color="#83eec4"/></linearGradient><linearGradient id="g31" gradientUnits="userSpaceOnUse" x1="26.7" y1="0" x2="174.6" y2="0"><stop offset="0.000" stop-color="#77eddc"/><stop offset="0.120" stop-color="#5fe2f2"/><stop offset="0.140" stop-color="#5ad8f3"/><stop offset="0.180" stop-color="#6bebed"/><stop offset="0.207" stop-color="#7cedd3"/><stop offset="0.233" stop-color="#8defb2"/><stop offset="0.267" stop-color="#6cebec"/><stop offset="0.287" stop-color="#5dddf3"/><stop offset="0.320" stop-color="#2f6ef7"/><stop offset="0.360" stop-color="#232af1"/><stop offset="0.527" stop-color="#1910d5"/><stop offset="0.647" stop-color="#242cf2"/><stop offset="0.693" stop-color="#368af8"/><stop offset="0.720" stop-color="#62e8f2"/><stop offset="0.740" stop-color="#6feceb"/><stop offset="0.753" stop-color="#a5f18b"/><stop offset="0.760" stop-color="#d8f149"/><stop offset="0.767" stop-color="#f4de2a"/><stop offset="0.787" stop-color="#faa020"/><stop offset="0.827" stop-color="#f8b824"/><stop offset="0.860" stop-color="#f2f02d"/><stop offset="0.907" stop-color="#95f0a1"/><stop offset="0.953" stop-color="#89efb9"/><stop offset="1.000" stop-color="#8befb6"/></linearGradient><linearGradient id="g32" gradientUnits="userSpaceOnUse" x1="26.7" y1="0" x2="174.6" y2="0"><stop offset="0.000" stop-color="#7bedd5"/><stop offset="0.167" stop-color="#81eec9"/><stop offset="0.207" stop-color="#85eec1"/><stop offset="0.233" stop-color="#6eebeb"/><stop offset="0.273" stop-color="#5ddef3"/><stop offset="0.320" stop-color="#2e69f6"/><stop offset="0.360" stop-color="#232af1"/><stop offset="0.527" stop-color="#1910d6"/><stop offset="0.647" stop-color="#242cf2"/><stop offset="0.700" stop-color="#41a1f6"/><stop offset="0.727" stop-color="#63e8f1"/><stop offset="0.740" stop-color="#6cebec"/><stop offset="0.747" stop-color="#7cedd3"/><stop offset="0.760" stop-color="#f2ed2c"/><stop offset="0.780" stop-color="#f04116"/><stop offset="0.793" stop-color="#ec2c14"/><stop offset="0.827" stop-color="#f67c1c"/><stop offset="0.860" stop-color="#f3e22b"/><stop offset="0.867" stop-color="#f2ef2d"/><stop offset="0.887" stop-color="#b2f179"/><stop offset="0.900" stop-color="#90efad"/><stop offset="0.933" stop-color="#82eec7"/><stop offset="1.000" stop-color="#87eebd"/></linearGradient><linearGradient id="g33" gradientUnits="userSpaceOnUse" x1="26.7" y1="0" x2="174.6" y2="0"><stop offset="0.000" stop-color="#7bedd5"/><stop offset="0.120" stop-color="#68eaef"/><stop offset="0.167" stop-color="#74ece2"/><stop offset="0.207" stop-color="#96f0a0"/><stop offset="0.227" stop-color="#92f0a8"/><stop offset="0.253" stop-color="#6debec"/><stop offset="0.273" stop-color="#60e3f2"/><stop offset="0.313" stop-color="#3073f7"/><stop offset="0.353" stop-color="#242bf1"/><stop offset="0.527" stop-color="#1911d6"/><stop offset="0.647" stop-color="#2534f3"/><stop offset="0.693" stop-color="#368bf7"/><stop offset="0.727" stop-color="#61e5f2"/><stop offset="0.760" stop-color="#71ece8"/><stop offset="0.773" stop-color="#aff17c"/><stop offset="0.780" stop-color="#e1f13f"/><stop offset="0.793" stop-color="#f6c526"/><stop offset="0.813" stop-color="#f9a721"/><stop offset="0.860" stop-color="#f5d228"/><stop offset="0.880" stop-color="#f2ef2d"/><stop offset="0.927" stop-color="#a2f090"/><stop offset="0.973" stop-color="#95f0a3"/><stop offset="1.000" stop-color="#90efad"/></linearGradient><linearGradient id="g34" gradientUnits="userSpaceOnUse" x1="26.7" y1="0" x2="174.6" y2="0"><stop offset="0.000" stop-color="#83eec5"/><stop offset="0.060" stop-color="#79edd9"/><stop offset="0.120" stop-color="#69eaee"/><stop offset="0.193" stop-color="#73ece5"/><stop offset="0.227" stop-color="#8aefb7"/><stop offset="0.247" stop-color="#83eec5"/><stop offset="0.273" stop-color="#6beaed"/><stop offset="0.287" stop-color="#62e8f2"/><stop offset="0.313" stop-color="#3384f8"/><stop offset="0.360" stop-color="#242bf1"/><stop offset="0.527" stop-color="#1911d6"/><stop offset="0.647" stop-color="#2534f3"/><stop offset="0.707" stop-color="#47aff5"/><stop offset="0.727" stop-color="#62e8f2"/><stop offset="0.773" stop-color="#6feceb"/><stop offset="0.787" stop-color="#8cefb3"/><stop offset="0.793" stop-color="#c1f264"/><stop offset="0.800" stop-color="#f3e62b"/><stop offset="0.813" stop-color="#f5711b"/><stop offset="0.820" stop-color="#f14817"/><stop offset="0.833" stop-color="#f04416"/><stop offset="0.893" stop-color="#f3e62b"/><stop offset="0.940" stop-color="#9ff093"/><stop offset="0.987" stop-color="#9cf098"/><stop offset="1.000" stop-color="#9af09a"/></linearGradient><linearGradient id="g35" gradientUnits="userSpaceOnUse" x1="26.7" y1="0" x2="174.6" y2="0"><stop offset="0.000" stop-color="#8befb6"/><stop offset="0.120" stop-color="#85eec2"/><stop offset="0.153" stop-color="#87eebe"/><stop offset="0.213" stop-color="#90efac"/><stop offset="0.240" stop-color="#70ecea"/><stop offset="0.267" stop-color="#63e8f2"/><stop offset="0.320" stop-color="#2f6df7"/><stop offset="0.360" stop-color="#2329f1"/><stop offset="0.527" stop-color="#1911d7"/><stop offset="0.647" stop-color="#2530f2"/><stop offset="0.707" stop-color="#47aff5"/><stop offset="0.733" stop-color="#63e8f1"/><stop offset="0.767" stop-color="#74ece2"/><stop offset="0.780" stop-color="#a4f18d"/><stop offset="0.787" stop-color="#d5f14c"/><stop offset="0.793" stop-color="#f3e62b"/><stop offset="0.813" stop-color="#f9ab22"/><stop offset="0.853" stop-color="#f7c326"/><stop offset="0.893" stop-color="#e8f038"/><stop offset="0.953" stop-color="#a6f18a"/><stop offset="1.000" stop-color="#a6f189"/></linearGradient><linearGradient id="g36" gradientUnits="userSpaceOnUse" x1="26.7" y1="0" x2="174.6" y2="0"><stop offset="0.000" stop-color="#80eeca"/><stop offset="0.113" stop-color="#74ece2"/><stop offset="0.180" stop-color="#88efbb"/><stop offset="0.220" stop-color="#6cebec"/><stop offset="0.253" stop-color="#63e8f2"/><stop offset="0.320" stop-color="#2e67f6"/><stop offset="0.367" stop-color="#2328f0"/><stop offset="0.527" stop-color="#1a11d7"/><stop offset="0.647" stop-color="#2530f2"/><stop offset="0.700" stop-color="#41a3f6"/><stop offset="0.733" stop-color="#62e8f2"/><stop offset="0.760" stop-color="#6feceb"/><stop offset="0.773" stop-color="#9ef095"/><stop offset="0.780" stop-color="#d5f14d"/><stop offset="0.787" stop-color="#f3e22b"/><stop offset="0.800" stop-color="#f9a921"/><stop offset="0.820" stop-color="#faa020"/><stop offset="0.867" stop-color="#f0f02f"/><stop offset="0.907" stop-color="#94f0a4"/><stop offset="0.947" stop-color="#87eebe"/><stop offset="0.987" stop-color="#96f0a1"/><stop offset="1.000" stop-color="#95f0a2"/></linearGradient><linearGradient id="g37" gradientUnits="userSpaceOnUse" x1="26.7" y1="0" x2="174.6" y2="0"><stop offset="0.000" stop-color="#8eefb0"/><stop offset="0.047" stop-color="#86eec0"/><stop offset="0.100" stop-color="#6eeceb"/><stop offset="0.173" stop-color="#75ede0"/><stop offset="0.213" stop-color="#9cf098"/><stop offset="0.233" stop-color="#95f0a1"/><stop offset="0.253" stop-color="#70ece9"/><stop offset="0.280" stop-color="#60e3f2"/><stop offset="0.307" stop-color="#3383f8"/><stop offset="0.360" stop-color="#232af1"/><stop offset="0.527" stop-color="#1a11d7"/><stop offset="0.647" stop-color="#2531f2"/><stop offset="0.713" stop-color="#4ab4f5"/><stop offset="0.733" stop-color="#62e8f2"/><stop offset="0.767" stop-color="#74ece2"/><stop offset="0.773" stop-color="#87eebd"/><stop offset="0.787" stop-color="#e3f13d"/><stop offset="0.800" stop-color="#f8b323"/><stop offset="0.813" stop-color="#f7861d"/><stop offset="0.847" stop-color="#f9a921"/><stop offset="0.887" stop-color="#f0f02f"/><stop offset="0.920" stop-color="#b6f173"/><stop offset="0.980" stop-color="#a3f18e"/><stop offset="1.000" stop-color="#b0f17b"/></linearGradient><linearGradient id="g38" gradientUnits="userSpaceOnUse" x1="26.7" y1="0" x2="174.6" y2="0"><stop offset="0.000" stop-color="#87eebd"/><stop offset="0.107" stop-color="#6eeceb"/><stop offset="0.160" stop-color="#78edda"/><stop offset="0.193" stop-color="#8cefb3"/><stop offset="0.220" stop-color="#85eec0"/><stop offset="0.247" stop-color="#6cebed"/><stop offset="0.273" stop-color="#5dddf3"/><stop offset="0.300" stop-color="#3588f8"/><stop offset="0.360" stop-color="#242bf2"/><stop offset="0.527" stop-color="#1a11d7"/><stop offset="0.640" stop-color="#2531f2"/><stop offset="0.707" stop-color="#47aef5"/><stop offset="0.727" stop-color="#61e6f2"/><stop offset="0.767" stop-color="#73ece4"/><stop offset="0.773" stop-color="#8befb5"/><stop offset="0.780" stop-color="#c6f25d"/><stop offset="0.787" stop-color="#f4de2a"/><stop offset="0.800" stop-color="#f6771c"/><stop offset="0.807" stop-color="#f36019"/><stop offset="0.827" stop-color="#f6761c"/><stop offset="0.880" stop-color="#f2ef2d"/><stop offset="0.907" stop-color="#c0f266"/><stop offset="0.960" stop-color="#b4f177"/><stop offset="0.987" stop-color="#baf16d"/><stop offset="1.000" stop-color="#b5f174"/></linearGradient><linearGradient id="g39" gradientUnits="userSpaceOnUse" x1="26.7" y1="0" x2="174.6" y2="0"><stop offset="0.000" stop-color="#89efb9"/><stop offset="0.113" stop-color="#79edd9"/><stop offset="0.147" stop-color="#7feecd"/><stop offset="0.200" stop-color="#bcf26b"/><stop offset="0.213" stop-color="#bcf26b"/><stop offset="0.240" stop-color="#76edde"/><stop offset="0.267" stop-color="#61e5f2"/><stop offset="0.300" stop-color="#3487f8"/><stop offset="0.360" stop-color="#232af1"/><stop offset="0.527" stop-color="#1a11d7"/><stop offset="0.647" stop-color="#2530f2"/><stop offset="0.707" stop-color="#46acf6"/><stop offset="0.733" stop-color="#62e8f2"/><stop offset="0.760" stop-color="#6eebeb"/><stop offset="0.767" stop-color="#7cedd3"/><stop offset="0.773" stop-color="#a4f18d"/><stop offset="0.780" stop-color="#f2f02d"/><stop offset="0.800" stop-color="#f14c17"/><stop offset="0.820" stop-color="#f25618"/><stop offset="0.873" stop-color="#f3e22b"/><stop offset="0.880" stop-color="#f2f02d"/><stop offset="0.913" stop-color="#99f09c"/><stop offset="0.933" stop-color="#89efba"/><stop offset="0.973" stop-color="#94f0a5"/><stop offset="1.000" stop-color="#a8f187"/></linearGradient></defs>
<path d="M26.7,38.5 27.7,38.4 28.7,38.3 29.7,38.3 30.6,38.3 31.6,38.3 32.6,38.2 33.6,38.0 34.6,38.0 35.6,37.9 36.6,37.8 37.5,37.9 38.5,38.0 39.5,38.0 40.5,38.3 41.5,38.5 42.5,38.3 43.5,38.2 44.4,38.2 45.4,38.0 46.4,38.0 47.4,37.9 48.4,37.4 49.4,36.7 50.4,36.3 51.3,35.9 52.3,35.5 53.3,35.2 54.3,34.7 55.3,34.0 56.3,33.3 57.3,32.6 58.3,31.8 59.2,31.5 60.2,31.2 61.2,30.8 62.2,30.4 63.2,29.7 64.2,29.2 65.2,28.9 66.1,28.6 67.1,28.8 68.1,29.2 69.1,29.5 70.1,30.4 71.1,30.7 72.1,31.8 73.0,33.4 74.0,34.9 75.0,36.9 76.0,38.2 77.0,39.3 78.0,40.3 79.0,40.8 79.9,41.7 80.9,42.8 81.9,43.8 82.9,45.3 83.9,46.8 84.9,48.6 85.9,50.8 86.8,53.2 87.8,55.5 88.8,57.6 89.8,59.8 90.8,61.7 91.8,63.4 92.8,64.7 93.7,65.8 94.7,66.6 95.7,67.2 96.7,67.6 97.7,67.8 98.7,67.9 99.7,68.0 100.7,68.0 101.6,68.0 102.6,67.9 103.6,67.8 104.6,67.6 105.6,67.2 106.6,66.6 107.6,65.8 108.5,64.7 109.5,63.3 110.5,61.7 111.5,59.7 112.5,57.6 113.5,55.3 114.5,52.8 115.4,50.1 116.4,48.0 117.4,46.4 118.4,44.7 119.4,43.7 120.4,42.9 121.4,42.3 122.3,41.8 123.3,41.5 124.3,40.7 125.3,40.0 126.3,39.5 127.3,38.5 128.3,37.9 129.2,37.1 130.2,36.2 131.2,35.4 132.2,34.3 133.2,33.2 134.2,32.0 135.2,30.7 136.1,29.8 137.1,28.7 138.1,27.8 139.1,27.6 140.1,27.4 141.1,27.9 142.1,27.9 143.0,28.2 144.0,28.7 145.0,29.0 146.0,30.0 147.0,30.3 148.0,30.8 149.0,31.4 150.0,31.8 150.9,32.9 151.9,33.8 152.9,34.5 153.9,35.2 154.9,35.9 155.9,36.4 156.9,37.4 157.8,38.0 158.8,38.2 159.8,38.5 160.8,38.7 161.8,39.0 162.8,39.1 163.8,39.2 164.7,38.8 165.7,38.7 166.7,38.9 167.7,38.7 168.7,38.8 169.7,38.8 170.7,38.4 171.6,38.5 172.6,38.4 173.6,38.3 174.6,38.7V480H26.7Z" fill="url(#g0)"/>
<path d="M26.7,44.0 27.7,44.1 28.7,44.3 29.7,44.3 30.6,44.6 31.6,44.5 32.6,44.5 33.6,44.4 34.6,44.3 35.6,44.4 36.6,44.5 37.5,44.5 38.5,44.7 39.5,44.6 40.5,44.6 41.5,44.8 42.5,44.8 43.5,44.8 44.4,45.0 45.4,45.0 46.4,44.9 47.4,44.7 48.4,44.1 49.4,43.4 50.4,42.8 51.3,42.3 52.3,41.6 53.3,41.1 54.3,40.6 55.3,40.0 56.3,39.4 57.3,38.8 58.3,38.1 59.2,37.6 60.2,37.2 61.2,36.7 62.2,36.5 63.2,36.3 64.2,36.1 65.2,36.2 66.1,36.2 67.1,36.7 68.1,37.1 69.1,37.6 70.1,38.4 71.1,38.9 72.1,39.9 73.0,41.0 74.0,42.3 75.0,43.6 76.0,44.5 77.0,45.3 78.0,46.2 79.0,46.8 79.9,47.8 80.9,49.0 81.9,50.1 82.9,51.5 83.9,53.0 84.9,54.6 85.9,56.5 86.8,58.6 87.8,60.5 88.8,62.4 89.8,64.2 90.8,65.9 91.8,67.3 92.8,68.5 93.7,69.5 94.7,70.3 95.7,71.0 96.7,71.4 97.7,71.8 98.7,72.0 99.7,72.1 100.7,72.2 101.6,72.1 102.6,72.0 103.6,71.8 104.6,71.4 105.6,71.0 106.6,70.3 107.6,69.5 108.5,68.5 109.5,67.3 110.5,65.8 111.5,64.2 112.5,62.4 113.5,60.5 114.5,58.5 115.4,56.3 116.4,54.5 117.4,53.0 118.4,51.5 119.4,50.2 120.4,49.3 121.4,48.2 122.3,47.4 123.3,46.8 124.3,45.8 125.3,44.8 126.3,43.4 127.3,41.8 128.3,40.5 129.2,39.6 130.2,38.8 131.2,38.0 132.2,37.1 133.2,36.3 134.2,35.3 135.2,34.4 136.1,33.6 137.1,32.8 138.1,32.4 139.1,32.4 140.1,32.5 141.1,32.9 142.1,33.3 143.0,33.7 144.0,34.2 145.0,34.8 146.0,35.6 147.0,36.2 148.0,36.7 149.0,37.2 150.0,37.7 150.9,38.4 151.9,39.4 152.9,40.0 153.9,40.7 154.9,41.3 155.9,41.8 156.9,42.5 157.8,43.0 158.8,43.3 159.8,43.5 160.8,43.8 161.8,44.0 162.8,44.2 163.8,44.3 164.7,44.3 165.7,44.4 166.7,44.6 167.7,44.6 168.7,44.8 169.7,44.6 170.7,44.5 171.6,44.7 172.6,44.5 173.6,44.5 174.6,44.5V480H26.7Z" fill="url(#g1)"/>
<path d="M26.7,38.5 27.7,38.4 28.7,38.3 29.7,38.3 30.6,38.3 31.6,38.3 32.6,38.2 33.6,38.0 34.6,38.0 35.6,37.9 36.6,37.8 37.5,37.9 38.5,38.0 39.5,38.0 40.5,38.3 41.5,38.5 42.5,38.3 43.5,38.2 44.4,38.2 45.4,38.0 46.4,38.0 47.4,37.9 48.4,37.4 49.4,36.7 50.4,36.3 51.3,35.9 52.3,35.5 53.3,35.2 54.3,34.7 55.3,34.0 56.3,33.3 57.3,32.6 58.3,31.8 59.2,31.5 60.2,31.2 61.2,30.8 62.2,30.4 63.2,29.7 64.2,29.2 65.2,28.9 66.1,28.6 67.1,28.8 68.1,29.2 69.1,29.5 70.1,30.4 71.1,30.7 72.1,31.8 73.0,33.4 74.0,34.9 75.0,36.9 76.0,38.2 77.0,39.3 78.0,40.3 79.0,40.8 79.9,41.7 80.9,42.8 81.9,43.8 82.9,45.3 83.9,46.8 84.9,48.6 85.9,50.8 86.8,53.2 87.8,55.5 88.8,57.6 89.8,59.8 90.8,61.7 91.8,63.4 92.8,64.7 93.7,65.8 94.7,66.6 95.7,67.2 96.7,67.6 97.7,67.8 98.7,67.9 99.7,68.0 100.7,68.0 101.6,68.0 102.6,67.9 103.6,67.8 104.6,67.6 105.6,67.2 106.6,66.6 107.6,65.8 108.5,64.7 109.5,63.3 110.5,61.7 111.5,59.7 112.5,57.6 113.5,55.3 114.5,52.8 115.4,50.1 116.4,48.0 117.4,46.4 118.4,44.7 119.4,43.7 120.4,42.9 121.4,42.3 122.3,41.8 123.3,41.5 124.3,40.7 125.3,40.0 126.3,39.5 127.3,38.5 128.3,37.9 129.2,37.1 130.2,36.2 131.2,35.4 132.2,34.3 133.2,33.2 134.2,32.0 135.2,30.7 136.1,29.8 137.1,28.7 138.1,27.8 139.1,27.6 140.1,27.4 141.1,27.9 142.1,27.9 143.0,28.2 144.0,28.7 145.0,29.0 146.0,30.0 147.0,30.3 148.0,30.8 149.0,31.4 150.0,31.8 150.9,32.9 151.9,33.8 152.9,34.5 153.9,35.2 154.9,35.9 155.9,36.4 156.9,37.4 157.8,38.0 158.8,38.2 159.8,38.5 160.8,38.7 161.8,39.0 162.8,39.1 163.8,39.2 164.7,38.8 165.7,38.7 166.7,38.9 167.7,38.7 168.7,38.8 169.7,38.8 170.7,38.4 171.6,38.5 172.6,38.4 173.6,38.3 174.6,38.7" fill="none" stroke="#000" stroke-width="1.05"/>
<path d="M26.7,49.5 27.7,49.8 28.7,50.2 29.7,50.4 30.6,50.8 31.6,50.8 32.6,50.7 33.6,50.9 34.6,50.7 35.6,51.0 36.6,51.2 37.5,51.2 38.5,51.4 39.5,51.2 40.5,51.0 41.5,51.2 42.5,51.3 43.5,51.4 44.4,51.9 45.4,52.0 46.4,51.8 47.4,51.6 48.4,50.8 49.4,50.1 50.4,49.3 51.3,48.6 52.3,47.8 53.3,47.1 54.3,46.5 55.3,46.0 56.3,45.5 57.3,45.0 58.3,44.4 59.2,43.7 60.2,43.2 61.2,42.7 62.2,42.7 63.2,42.8 64.2,43.1 65.2,43.6 66.1,43.8 67.1,44.5 68.1,45.1 69.1,45.7 70.1,46.3 71.1,47.1 72.1,47.9 73.0,48.7 74.0,49.6 75.0,50.2 76.0,50.7 77.0,51.2 78.0,52.1 79.0,52.7 79.9,54.0 80.9,55.2 81.9,56.3 82.9,57.7 83.9,59.1 84.9,60.7 85.9,62.3 86.8,64.0 87.8,65.5 88.8,67.3 89.8,68.7 90.8,70.0 91.8,71.2 92.8,72.3 93.7,73.2 94.7,74.0 95.7,74.7 96.7,75.3 97.7,75.7 98.7,76.1 99.7,76.3 100.7,76.3 101.6,76.3 102.6,76.1 103.6,75.7 104.6,75.3 105.6,74.7 106.6,74.0 107.6,73.2 108.5,72.3 109.5,71.2 110.5,70.0 111.5,68.7 112.5,67.3 113.5,65.7 114.5,64.1 115.4,62.5 116.4,61.0 117.4,59.7 118.4,58.2 119.4,56.6 120.4,55.6 121.4,54.0 122.3,53.0 123.3,52.1 124.3,50.9 125.3,49.5 126.3,47.3 127.3,45.1 128.3,43.1 129.2,42.2 130.2,41.3 131.2,40.5 132.2,39.9 133.2,39.3 134.2,38.6 135.2,38.0 136.1,37.4 137.1,36.8 138.1,37.0 139.1,37.1 140.1,37.6 141.1,38.0 142.1,38.6 143.0,39.2 144.0,39.7 145.0,40.7 146.0,41.2 147.0,42.1 148.0,42.6 149.0,43.1 150.0,43.5 150.9,44.0 151.9,45.0 152.9,45.5 153.9,46.3 154.9,46.7 155.9,47.2 156.9,47.7 157.8,48.1 158.8,48.5 159.8,48.6 160.8,48.8 161.8,48.9 162.8,49.3 163.8,49.4 164.7,49.8 165.7,50.2 166.7,50.3 167.7,50.5 168.7,50.7 169.7,50.5 170.7,50.7 171.6,50.9 172.6,50.5 173.6,50.6 174.6,50.3V480H26.7Z" fill="url(#g1)"/>
<path d="M26.7,54.4 27.7,54.7 28.7,55.0 29.7,55.2 30.6,55.5 31.6,55.7 32.6,55.5 33.6,55.5 34.6,55.4 35.6,55.4 36.6,55.6 37.5,55.4 38.5,55.5 39.5,55.3 40.5,55.1 41.5,55.2 42.5,55.0 43.5,54.9 44.4,55.1 45.4,55.1 46.4,54.9 47.4,54.7 48.4,54.2 49.4,53.5 50.4,52.9 51.3,52.3 52.3,51.4 53.3,50.7 54.3,50.1 55.3,49.3 56.3,48.7 57.3,48.1 58.3,47.7 59.2,47.2 60.2,46.7 61.2,46.4 62.2,46.0 63.2,46.2 64.2,46.4 65.2,46.8 66.1,47.2 67.1,47.9 68.1,48.7 69.1,49.6 70.1,50.6 71.1,51.6 72.1,52.5 73.0,53.5 74.0,54.4 75.0,55.3 76.0,56.0 77.0,56.7 78.0,57.6 79.0,58.3 79.9,59.5 80.9,60.5 81.9,61.6 82.9,62.9 83.9,64.1 84.9,65.7 85.9,67.2 86.8,68.7 87.8,70.0 88.8,71.1 89.8,72.4 90.8,73.6 91.8,74.7 92.8,75.7 93.7,76.6 94.7,77.5 95.7,78.3 96.7,78.9 97.7,79.5 98.7,80.0 99.7,80.3 100.7,80.5 101.6,80.3 102.6,80.0 103.6,79.5 104.6,78.9 105.6,78.3 106.6,77.5 107.6,76.6 108.5,75.7 109.5,74.7 110.5,73.5 111.5,72.4 112.5,71.1 113.5,69.7 114.5,68.3 115.4,66.9 116.4,65.5 117.4,64.4 118.4,63.2 119.4,61.8 120.4,60.8 121.4,59.5 122.3,58.5 123.3,57.5 124.3,56.4 125.3,55.4 126.3,53.9 127.3,52.5 128.3,51.1 129.2,50.3 130.2,49.3 131.2,48.3 132.2,47.2 133.2,45.7 134.2,44.3 135.2,42.9 136.1,41.5 137.1,40.2 138.1,39.7 139.1,39.4 140.1,39.7 141.1,40.2 142.1,40.7 143.0,41.4 144.0,42.1 145.0,43.1 146.0,43.9 147.0,45.0 148.0,45.8 149.0,46.7 150.0,47.5 150.9,48.4 151.9,49.3 152.9,49.9 153.9,50.7 154.9,51.2 155.9,51.9 156.9,52.4 157.8,52.8 158.8,53.0 159.8,53.0 160.8,53.2 161.8,53.4 162.8,53.6 163.8,53.8 164.7,54.0 165.7,54.0 166.7,54.0 167.7,54.0 168.7,53.8 169.7,53.6 170.7,53.7 171.6,53.8 172.6,53.7 173.6,53.8 174.6,53.8V480H26.7Z" fill="url(#g2)"/>
<path d="M26.7,49.5 27.7,49.8 28.7,50.2 29.7,50.4 30.6,50.8 31.6,50.8 32.6,50.7 33.6,50.9 34.6,50.7 35.6,51.0 36.6,51.2 37.5,51.2 38.5,51.4 39.5,51.2 40.5,51.0 41.5,51.2 42.5,51.3 43.5,51.4 44.4,51.9 45.4,52.0 46.4,51.8 47.4,51.6 48.4,50.8 49.4,50.1 50.4,49.3 51.3,48.6 52.3,47.8 53.3,47.1 54.3,46.5 55.3,46.0 56.3,45.5 57.3,45.0 58.3,44.4 59.2,43.7 60.2,43.2 61.2,42.7 62.2,42.7 63.2,42.8 64.2,43.1 65.2,43.6 66.1,43.8 67.1,44.5 68.1,45.1 69.1,45.7 70.1,46.3 71.1,47.1 72.1,47.9 73.0,48.7 74.0,49.6 75.0,50.2 76.0,50.7 77.0,51.2 78.0,52.1 79.0,52.7 79.9,54.0 80.9,55.2 81.9,56.3 82.9,57.7 83.9,59.1 84.9,60.7 85.9,62.3 86.8,64.0 87.8,65.5 88.8,67.3 89.8,68.7 90.8,70.0 91.8,71.2 92.8,72.3 93.7,73.2 94.7,74.0 95.7,74.7 96.7,75.3 97.7,75.7 98.7,76.1 99.7,76.3 100.7,76.3 101.6,76.3 102.6,76.1 103.6,75.7 104.6,75.3 105.6,74.7 106.6,74.0 107.6,73.2 108.5,72.3 109.5,71.2 110.5,70.0 111.5,68.7 112.5,67.3 113.5,65.7 114.5,64.1 115.4,62.5 116.4,61.0 117.4,59.7 118.4,58.2 119.4,56.6 120.4,55.6 121.4,54.0 122.3,53.0 123.3,52.1 124.3,50.9 125.3,49.5 126.3,47.3 127.3,45.1 128.3,43.1 129.2,42.2 130.2,41.3 131.2,40.5 132.2,39.9 133.2,39.3 134.2,38.6 135.2,38.0 136.1,37.4 137.1,36.8 138.1,37.0 139.1,37.1 140.1,37.6 141.1,38.0 142.1,38.6 143.0,39.2 144.0,39.7 145.0,40.7 146.0,41.2 147.0,42.1 148.0,42.6 149.0,43.1 150.0,43.5 150.9,44.0 151.9,45.0 152.9,45.5 153.9,46.3 154.9,46.7 155.9,47.2 156.9,47.7 157.8,48.1 158.8,48.5 159.8,48.6 160.8,48.8 161.8,48.9 162.8,49.3 163.8,49.4 164.7,49.8 165.7,50.2 166.7,50.3 167.7,50.5 168.7,50.7 169.7,50.5 170.7,50.7 171.6,50.9 172.6,50.5 173.6,50.6 174.6,50.3" fill="none" stroke="#000" stroke-width="1.05"/>
<path d="M26.7,59.2 27.7,59.5 28.7,59.8 29.7,60.0 30.6,60.2 31.6,60.6 32.6,60.4 33.6,60.2 34.6,60.1 35.6,59.9 36.6,59.9 37.5,59.6 38.5,59.6 39.5,59.3 40.5,59.2 41.5,59.2 42.5,58.6 43.5,58.4 44.4,58.3 45.4,58.2 46.4,58.0 47.4,57.8 48.4,57.6 49.4,57.0 50.4,56.5 51.3,56.0 52.3,55.1 53.3,54.4 54.3,53.7 55.3,52.6 56.3,51.9 57.3,51.3 58.3,51.1 59.2,50.8 60.2,50.2 61.2,50.0 62.2,49.4 63.2,49.7 64.2,49.7 65.2,50.0 66.1,50.6 67.1,51.2 68.1,52.3 69.1,53.4 70.1,54.9 71.1,56.0 72.1,57.1 73.0,58.3 74.0,59.3 75.0,60.3 76.0,61.4 77.0,62.2 78.0,63.0 79.0,63.9 79.9,65.0 80.9,65.9 81.9,66.8 82.9,68.1 83.9,69.1 84.9,70.7 85.9,72.0 86.8,73.3 87.8,74.5 88.8,74.9 89.8,76.0 90.8,77.1 91.8,78.1 92.8,79.1 93.7,80.1 94.7,80.9 95.7,81.8 96.7,82.5 97.7,83.2 98.7,83.8 99.7,84.3 100.7,84.6 101.6,84.3 102.6,83.8 103.6,83.2 104.6,82.5 105.6,81.8 106.6,80.9 107.6,80.1 108.5,79.1 109.5,78.1 110.5,77.1 111.5,76.0 112.5,74.9 113.5,73.8 114.5,72.4 115.4,71.4 116.4,70.1 117.4,69.0 118.4,68.2 119.4,67.0 120.4,66.0 121.4,64.9 122.3,63.9 123.3,62.9 124.3,62.0 125.3,61.3 126.3,60.5 127.3,59.9 128.3,59.0 129.2,58.4 130.2,57.3 131.2,56.1 132.2,54.4 133.2,52.1 134.2,50.0 135.2,47.8 136.1,45.6 137.1,43.6 138.1,42.3 139.1,41.6 140.1,41.9 141.1,42.4 142.1,42.8 143.0,43.6 144.0,44.6 145.0,45.5 146.0,46.7 147.0,47.9 148.0,49.0 149.0,50.3 150.0,51.5 150.9,52.7 151.9,53.6 152.9,54.3 153.9,55.1 154.9,55.7 155.9,56.6 156.9,57.1 157.8,57.4 158.8,57.6 159.8,57.4 160.8,57.5 161.8,57.9 162.8,57.9 163.8,58.1 164.7,58.2 165.7,57.8 166.7,57.6 167.7,57.4 168.7,56.9 169.7,56.6 170.7,56.7 171.6,56.8 172.6,56.8 173.6,57.0 174.6,57.3V480H26.7Z" fill="url(#g2)"/>
<path d="M26.7,62.6 27.7,62.6 28.7,62.9 29.7,62.9 30.6,63.1 31.6,63.6 32.6,63.5 33.6,63.5 34.6,63.4 35.6,63.2 36.6,63.4 37.5,63.3 38.5,63.3 39.5,63.3 40.5,63.1 41.5,62.9 42.5,62.6 43.5,62.5 44.4,62.3 45.4,62.1 46.4,61.9 47.4,61.5 48.4,61.2 49.4,60.6 50.4,60.0 51.3,59.2 52.3,58.2 53.3,57.3 54.3,56.4 55.3,55.4 56.3,54.4 57.3,53.7 58.3,53.0 59.2,52.4 60.2,51.8 61.2,51.4 62.2,50.9 63.2,50.8 64.2,50.8 65.2,51.2 66.1,52.1 67.1,53.3 68.1,54.7 69.1,56.2 70.1,58.1 71.1,59.9 72.1,61.5 73.0,63.3 74.0,64.8 75.0,66.1 76.0,67.4 77.0,68.4 78.0,69.4 79.0,70.4 79.9,71.6 80.9,72.7 81.9,73.6 82.9,74.8 83.9,75.8 84.9,77.2 85.9,78.3 86.8,79.3 87.8,80.2 88.8,81.0 89.8,82.0 90.8,82.9 91.8,83.7 92.8,84.6 93.7,85.3 94.7,86.0 95.7,86.7 96.7,87.3 97.7,87.8 98.7,88.3 99.7,88.6 100.7,88.8 101.6,88.6 102.6,88.3 103.6,87.8 104.6,87.3 105.6,86.7 106.6,86.0 107.6,85.3 108.5,84.5 109.5,83.7 110.5,82.9 111.5,82.0 112.5,81.0 113.5,80.0 114.5,79.0 115.4,78.0 116.4,76.9 117.4,75.8 118.4,74.8 119.4,73.6 120.4,72.4 121.4,71.5 122.3,70.5 123.3,69.6 124.3,68.7 125.3,67.7 126.3,66.9 127.3,66.0 128.3,65.3 129.2,64.4 130.2,63.2 131.2,61.7 132.2,59.8 133.2,57.4 134.2,54.8 135.2,52.0 136.1,48.9 137.1,46.0 138.1,44.1 139.1,43.3 140.1,43.5 141.1,44.2 142.1,45.0 143.0,46.1 144.0,47.5 145.0,48.8 146.0,50.3 147.0,51.9 148.0,53.3 149.0,54.8 150.0,56.3 150.9,57.5 151.9,58.4 152.9,59.0 153.9,59.8 154.9,60.4 155.9,61.1 156.9,61.6 157.8,61.8 158.8,61.9 159.8,62.0 160.8,62.0 161.8,62.0 162.8,62.2 163.8,62.3 164.7,62.5 165.7,62.5 166.7,62.3 167.7,62.2 168.7,62.0 169.7,61.6 170.7,61.5 171.6,61.5 172.6,61.3 173.6,61.5 174.6,61.6V480H26.7Z" fill="url(#g3)"/>
<path d="M26.7,59.2 27.7,59.5 28.7,59.8 29.7,60.0 30.6,60.2 31.6,60.6 32.6,60.4 33.6,60.2 34.6,60.1 35.6,59.9 36.6,59.9 37.5,59.6 38.5,59.6 39.5,59.3 40.5,59.2 41.5,59.2 42.5,58.6 43.5,58.4 44.4,58.3 45.4,58.2 46.4,58.0 47.4,57.8 48.4,57.6 49.4,57.0 50.4,56.5 51.3,56.0 52.3,55.1 53.3,54.4 54.3,53.7 55.3,52.6 56.3,51.9 57.3,51.3 58.3,51.1 59.2,50.8 60.2,50.2 61.2,50.0 62.2,49.4 63.2,49.7 64.2,49.7 65.2,50.0 66.1,50.6 67.1,51.2 68.1,52.3 69.1,53.4 70.1,54.9 71.1,56.0 72.1,57.1 73.0,58.3 74.0,59.3 75.0,60.3 76.0,61.4 77.0,62.2 78.0,63.0 79.0,63.9 79.9,65.0 80.9,65.9 81.9,66.8 82.9,68.1 83.9,69.1 84.9,70.7 85.9,72.0 86.8,73.3 87.8,74.5 88.8,74.9 89.8,76.0 90.8,77.1 91.8,78.1 92.8,79.1 93.7,80.1 94.7,80.9 95.7,81.8 96.7,82.5 97.7,83.2 98.7,83.8 99.7,84.3 100.7,84.6 101.6,84.3 102.6,83.8 103.6,83.2 104.6,82.5 105.6,81.8 106.6,80.9 107.6,80.1 108.5,79.1 109.5,78.1 110.5,77.1 111.5,76.0 112.5,74.9 113.5,73.8 114.5,72.4 115.4,71.4 116.4,70.1 117.4,69.0 118.4,68.2 119.4,67.0 120.4,66.0 121.4,64.9 122.3,63.9 123.3,62.9 124.3,62.0 125.3,61.3 126.3,60.5 127.3,59.9 128.3,59.0 129.2,58.4 130.2,57.3 131.2,56.1 132.2,54.4 133.2,52.1 134.2,50.0 135.2,47.8 136.1,45.6 137.1,43.6 138.1,42.3 139.1,41.6 140.1,41.9 141.1,42.4 142.1,42.8 143.0,43.6 144.0,44.6 145.0,45.5 146.0,46.7 147.0,47.9 148.0,49.0 149.0,50.3 150.0,51.5 150.9,52.7 151.9,53.6 152.9,54.3 153.9,55.1 154.9,55.7 155.9,56.6 156.9,57.1 157.8,57.4 158.8,57.6 159.8,57.4 160.8,57.5 161.8,57.9 162.8,57.9 163.8,58.1 164.7,58.2 165.7,57.8 166.7,57.6 167.7,57.4 168.7,56.9 169.7,56.6 170.7,56.7 171.6,56.8 172.6,56.8 173.6,57.0 174.6,57.3" fill="none" stroke="#000" stroke-width="1.05"/>
<path d="M26.7,65.9 27.7,65.7 28.7,65.9 29.7,65.9 30.6,66.1 31.6,66.6 32.6,66.7 33.6,66.9 34.6,66.7 35.6,66.5 36.6,66.8 37.5,67.0 38.5,67.0 39.5,67.2 40.5,67.0 41.5,66.6 42.5,66.5 43.5,66.6 44.4,66.4 45.4,66.0 46.4,65.8 47.4,65.2 48.4,64.8 49.4,64.2 50.4,63.4 51.3,62.3 52.3,61.3 53.3,60.2 54.3,59.1 55.3,58.2 56.3,56.9 57.3,56.0 58.3,55.0 59.2,53.9 60.2,53.4 61.2,52.8 62.2,52.3 63.2,52.0 64.2,52.0 65.2,52.4 66.1,53.6 67.1,55.3 68.1,57.2 69.1,59.1 70.1,61.2 71.1,63.7 72.1,66.0 73.0,68.3 74.0,70.4 75.0,71.9 76.0,73.4 77.0,74.7 78.0,75.8 79.0,77.0 79.9,78.3 80.9,79.4 81.9,80.4 82.9,81.6 83.9,82.6 84.9,83.7 85.9,84.6 86.8,85.3 87.8,86.0 88.8,87.1 89.8,87.9 90.8,88.6 91.8,89.3 92.8,90.0 93.7,90.6 94.7,91.1 95.7,91.6 96.7,92.0 97.7,92.4 98.7,92.7 99.7,92.9 100.7,93.0 101.6,92.9 102.6,92.7 103.6,92.4 104.6,92.0 105.6,91.6 106.6,91.1 107.6,90.6 108.5,90.0 109.5,89.3 110.5,88.7 111.5,87.9 112.5,87.1 113.5,86.1 114.5,85.5 115.4,84.6 116.4,83.7 117.4,82.6 118.4,81.4 119.4,80.2 120.4,78.8 121.4,78.0 122.3,77.1 123.3,76.3 124.3,75.4 125.3,74.2 126.3,73.2 127.3,72.2 128.3,71.5 129.2,70.5 130.2,69.2 131.2,67.2 132.2,65.1 133.2,62.7 134.2,59.5 135.2,56.1 136.1,52.1 137.1,48.5 138.1,45.9 139.1,45.0 140.1,45.2 141.1,45.9 142.1,47.1 143.0,48.6 144.0,50.3 145.0,52.1 146.0,53.9 147.0,55.9 148.0,57.6 149.0,59.3 150.0,61.0 150.9,62.2 151.9,63.1 152.9,63.8 153.9,64.5 154.9,65.0 155.9,65.6 156.9,66.1 157.8,66.2 158.8,66.3 159.8,66.5 160.8,66.4 161.8,66.1 162.8,66.4 163.8,66.4 164.7,66.7 165.7,67.2 166.7,67.1 167.7,67.0 168.7,67.0 169.7,66.6 170.7,66.4 171.6,66.3 172.6,65.8 173.6,65.9 174.6,66.0V480H26.7Z" fill="url(#g3)"/>
<path d="M26.7,68.8 27.7,68.8 28.7,68.7 29.7,68.8 30.6,68.9 31.6,69.1 32.6,69.3 33.6,69.4 34.6,69.4 35.6,69.4 36.6,69.6 37.5,69.7 38.5,69.6 39.5,69.7 40.5,69.6 41.5,69.4 42.5,69.2 43.5,69.1 44.4,69.0 45.4,68.6 46.4,68.4 47.4,67.9 48.4,67.3 49.4,66.6 50.4,65.6 51.3,64.4 52.3,63.3 53.3,62.2 54.3,61.0 55.3,60.0 56.3,58.7 57.3,57.8 58.3,56.8 59.2,55.9 60.2,55.2 61.2,54.7 62.2,54.3 63.2,54.1 64.2,54.1 65.2,54.6 66.1,55.9 67.1,57.6 68.1,59.7 69.1,61.8 70.1,64.2 71.1,66.7 72.1,69.2 73.0,71.4 74.0,73.5 75.0,75.2 76.0,76.8 77.0,78.3 78.0,79.7 79.0,80.9 79.9,82.0 80.9,83.2 81.9,84.3 82.9,85.5 83.9,86.5 84.9,87.6 85.9,88.6 86.8,89.3 87.8,90.2 88.8,91.1 89.8,91.9 90.8,92.7 91.8,93.4 92.8,94.1 93.7,94.7 94.7,95.2 95.7,95.7 96.7,96.2 97.7,96.5 98.7,96.8 99.7,97.0 100.7,97.1 101.6,97.0 102.6,96.8 103.6,96.5 104.6,96.2 105.6,95.7 106.6,95.2 107.6,94.7 108.5,94.1 109.5,93.4 110.5,92.7 111.5,92.0 112.5,91.2 113.5,90.3 114.5,89.5 115.4,88.6 116.4,87.8 117.4,86.7 118.4,85.6 119.4,84.3 120.4,83.1 121.4,82.2 122.3,81.1 123.3,80.3 124.3,79.5 125.3,78.2 126.3,77.2 127.3,76.1 128.3,75.2 129.2,74.3 130.2,73.2 131.2,71.7 132.2,69.7 133.2,67.0 134.2,63.3 135.2,58.6 136.1,53.0 137.1,47.5 138.1,43.2 139.1,41.6 140.1,42.1 141.1,43.4 142.1,45.5 143.0,48.1 144.0,50.8 145.0,53.7 146.0,56.6 147.0,59.4 148.0,61.6 149.0,63.6 150.0,65.4 150.9,66.6 151.9,67.6 152.9,68.4 153.9,69.2 154.9,69.8 155.9,70.3 156.9,70.5 157.8,70.4 158.8,70.4 159.8,70.4 160.8,70.3 161.8,70.2 162.8,70.3 163.8,70.3 164.7,70.5 165.7,70.7 166.7,70.5 167.7,70.3 168.7,70.2 169.7,70.0 170.7,69.9 171.6,69.9 172.6,69.8 173.6,69.8 174.6,69.7V480H26.7Z" fill="url(#g4)"/>
<path d="M26.7,65.9 27.7,65.7 28.7,65.9 29.7,65.9 30.6,66.1 31.6,66.6 32.6,66.7 33.6,66.9 34.6,66.7 35.6,66.5 36.6,66.8 37.5,67.0 38.5,67.0 39.5,67.2 40.5,67.0 41.5,66.6 42.5,66.5 43.5,66.6 44.4,66.4 45.4,66.0 46.4,65.8 47.4,65.2 48.4,64.8 49.4,64.2 50.4,63.4 51.3,62.3 52.3,61.3 53.3,60.2 54.3,59.1 55.3,58.2 56.3,56.9 57.3,56.0 58.3,55.0 59.2,53.9 60.2,53.4 61.2,52.8 62.2,52.3 63.2,52.0 64.2,52.0 65.2,52.4 66.1,53.6 67.1,55.3 68.1,57.2 69.1,59.1 70.1,61.2 71.1,63.7 72.1,66.0 73.0,68.3 74.0,70.4 75.0,71.9 76.0,73.4 77.0,74.7 78.0,75.8 79.0,77.0 79.9,78.3 80.9,79.4 81.9,80.4 82.9,81.6 83.9,82.6 84.9,83.7 85.9,84.6 86.8,85.3 87.8,86.0 88.8,87.1 89.8,87.9 90.8,88.6 91.8,89.3 92.8,90.0 93.7,90.6 94.7,91.1 95.7,91.6 96.7,92.0 97.7,92.4 98.7,92.7 99.7,92.9 100.7,93.0 101.6,92.9 102.6,92.7 103.6,92.4 104.6,92.0 105.6,91.6 106.6,91.1 107.6,90.6 108.5,90.0 109.5,89.3 110.5,88.7 111.5,87.9 112.5,87.1 113.5,86.1 114.5,85.5 115.4,84.6 116.4,83.7 117.4,82.6 118.4,81.4 119.4,80.2 120.4,78.8 121.4,78.0 122.3,77.1 123.3,76.3 124.3,75.4 125.3,74.2 126.3,73.2 127.3,72.2 128.3,71.5 129.2,70.5 130.2,69.2 131.2,67.2 132.2,65.1 133.2,62.7 134.2,59.5 135.2,56.1 136.1,52.1 137.1,48.5 138.1,45.9 139.1,45.0 140.1,45.2 141.1,45.9 142.1,47.1 143.0,48.6 144.0,50.3 145.0,52.1 146.0,53.9 147.0,55.9 148.0,57.6 149.0,59.3 150.0,61.0 150.9,62.2 151.9,63.1 152.9,63.8 153.9,64.5 154.9,65.0 155.9,65.6 156.9,66.1 157.8,66.2 158.8,66.3 159.8,66.5 160.8,66.4 161.8,66.1 162.8,66.4 163.8,66.4 164.7,66.7 165.7,67.2 166.7,67.1 167.7,67.0 168.7,67.0 169.7,66.6 170.7,66.4 171.6,66.3 172.6,65.8 173.6,65.9 174.6,66.0" fill="none" stroke="#000" stroke-width="1.05"/>
<path d="M26.7,71.8 27.7,71.8 28.7,71.5 29.7,71.6 30.6,71.8 31.6,71.7 32.6,71.9 33.6,72.0 34.6,72.2 35.6,72.3 36.6,72.3 37.5,72.3 38.5,72.1 39.5,72.1 40.5,72.2 41.5,72.2 42.5,72.0 43.5,71.6 44.4,71.6 45.4,71.2 46.4,70.9 47.4,70.6 48.4,69.8 49.4,68.9 50.4,67.8 51.3,66.5 52.3,65.3 53.3,64.1 54.3,62.9 55.3,61.7 56.3,60.6 57.3,59.5 58.3,58.6 59.2,57.8 60.2,57.1 61.2,56.6 62.2,56.2 63.2,56.2 64.2,56.3 65.2,56.8 66.1,58.1 67.1,59.9 68.1,62.1 69.1,64.6 70.1,67.2 71.1,69.7 72.1,72.4 73.0,74.6 74.0,76.6 75.0,78.5 76.0,80.2 77.0,82.0 78.0,83.5 79.0,84.8 79.9,85.8 80.9,86.9 81.9,88.1 82.9,89.4 83.9,90.4 84.9,91.6 85.9,92.6 86.8,93.4 87.8,94.4 88.8,95.2 89.8,96.0 90.8,96.8 91.8,97.5 92.8,98.2 93.7,98.8 94.7,99.3 95.7,99.8 96.7,100.3 97.7,100.7 98.7,101.0 99.7,101.2 100.7,101.3 101.6,101.2 102.6,101.0 103.6,100.7 104.6,100.3 105.6,99.8 106.6,99.3 107.6,98.8 108.5,98.2 109.5,97.5 110.5,96.8 111.5,96.0 112.5,95.2 113.5,94.4 114.5,93.4 115.4,92.6 116.4,91.9 117.4,90.8 118.4,89.9 119.4,88.5 120.4,87.3 121.4,86.4 122.3,85.2 123.3,84.3 124.3,83.5 125.3,82.2 126.3,81.1 127.3,80.1 128.3,78.8 129.2,78.1 130.2,77.3 131.2,76.2 132.2,74.3 133.2,71.4 134.2,67.1 135.2,61.0 136.1,53.8 137.1,46.5 138.1,40.5 139.1,38.3 140.1,39.0 141.1,40.9 142.1,44.0 143.0,47.6 144.0,51.3 145.0,55.3 146.0,59.4 147.0,63.0 148.0,65.7 149.0,67.9 150.0,69.8 150.9,70.9 151.9,72.0 152.9,73.1 153.9,73.8 154.9,74.5 155.9,75.0 156.9,74.9 157.8,74.6 158.8,74.5 159.8,74.3 160.8,74.3 161.8,74.3 162.8,74.2 163.8,74.1 164.7,74.2 165.7,74.1 166.7,73.9 167.7,73.7 168.7,73.5 169.7,73.5 170.7,73.5 171.6,73.5 172.6,73.7 173.6,73.6 174.6,73.4V480H26.7Z" fill="url(#g4)"/>
<path d="M26.7,76.4 27.7,76.4 28.7,76.3 29.7,76.4 30.6,76.5 31.6,76.5 32.6,76.4 33.6,76.4 34.6,76.4 35.6,76.4 36.6,76.7 37.5,76.8 38.5,76.9 39.5,77.0 40.5,76.9 41.5,77.1 42.5,77.0 43.5,76.8 44.4,76.7 45.4,76.6 46.4,76.2 47.4,75.8 48.4,75.2 49.4,74.3 50.4,73.4 51.3,72.4 52.3,71.6 53.3,70.5 54.3,69.6 55.3,68.7 56.3,67.7 57.3,67.0 58.3,66.2 59.2,65.5 60.2,65.0 61.2,64.6 62.2,64.3 63.2,64.3 64.2,64.5 65.2,65.0 66.1,66.0 67.1,67.7 68.1,69.5 69.1,71.5 70.1,73.8 71.1,75.9 72.1,78.1 73.0,80.1 74.0,81.7 75.0,83.3 76.0,84.8 77.0,86.4 78.0,88.0 79.0,89.2 79.9,90.4 80.9,91.5 81.9,92.5 82.9,93.7 83.9,94.9 84.9,96.0 85.9,97.0 86.8,98.0 87.8,98.9 88.8,99.3 89.8,100.1 90.8,100.9 91.8,101.6 92.8,102.3 93.7,102.9 94.7,103.5 95.7,104.0 96.7,104.4 97.7,104.8 98.7,105.1 99.7,105.3 100.7,105.4 101.6,105.3 102.6,105.1 103.6,104.8 104.6,104.4 105.6,104.0 106.6,103.5 107.6,102.9 108.5,102.3 109.5,101.7 110.5,100.9 111.5,100.2 112.5,99.4 113.5,98.6 114.5,97.6 115.4,96.7 116.4,96.0 117.4,95.0 118.4,94.1 119.4,92.8 120.4,91.6 121.4,90.5 122.3,89.2 123.3,88.3 124.3,87.4 125.3,86.3 126.3,85.2 127.3,83.9 128.3,82.5 129.2,81.1 130.2,79.2 131.2,76.9 132.2,74.0 133.2,70.6 134.2,66.8 135.2,62.3 136.1,58.2 137.1,54.5 138.1,51.8 139.1,51.2 140.1,52.1 141.1,53.9 142.1,56.3 143.0,59.2 144.0,62.0 145.0,64.7 146.0,67.5 147.0,69.9 148.0,71.8 149.0,73.5 150.0,74.6 150.9,75.4 151.9,76.0 152.9,76.7 153.9,77.3 154.9,77.6 155.9,77.9 156.9,77.7 157.8,77.5 158.8,77.4 159.8,77.4 160.8,77.3 161.8,77.4 162.8,77.4 163.8,77.2 164.7,77.3 165.7,77.2 166.7,77.2 167.7,77.2 168.7,77.1 169.7,77.1 170.7,76.9 171.6,77.0 172.6,77.1 173.6,77.3 174.6,77.3V480H26.7Z" fill="url(#g5)"/>
<path d="M26.7,71.8 27.7,71.8 28.7,71.5 29.7,71.6 30.6,71.8 31.6,71.7 32.6,71.9 33.6,72.0 34.6,72.2 35.6,72.3 36.6,72.3 37.5,72.3 38.5,72.1 39.5,72.1 40.5,72.2 41.5,72.2 42.5,72.0 43.5,71.6 44.4,71.6 45.4,71.2 46.4,70.9 47.4,70.6 48.4,69.8 49.4,68.9 50.4,67.8 51.3,66.5 52.3,65.3 53.3,64.1 54.3,62.9 55.3,61.7 56.3,60.6 57.3,59.5 58.3,58.6 59.2,57.8 60.2,57.1 61.2,56.6 62.2,56.2 63.2,56.2 64.2,56.3 65.2,56.8 66.1,58.1 67.1,59.9 68.1,62.1 69.1,64.6 70.1,67.2 71.1,69.7 72.1,72.4 73.0,74.6 74.0,76.6 75.0,78.5 76.0,80.2 77.0,82.0 78.0,83.5 79.0,84.8 79.9,85.8 80.9,86.9 81.9,88.1 82.9,89.4 83.9,90.4 84.9,91.6 85.9,92.6 86.8,93.4 87.8,94.4 88.8,95.2 89.8,96.0 90.8,96.8 91.8,97.5 92.8,98.2 93.7,98.8 94.7,99.3 95.7,99.8 96.7,100.3 97.7,100.7 98.7,101.0 99.7,101.2 100.7,101.3 101.6,101.2 102.6,101.0 103.6,100.7 104.6,100.3 105.6,99.8 106.6,99.3 107.6,98.8 108.5,98.2 109.5,97.5 110.5,96.8 111.5,96.0 112.5,95.2 113.5,94.4 114.5,93.4 115.4,92.6 116.4,91.9 117.4,90.8 118.4,89.9 119.4,88.5 120.4,87.3 121.4,86.4 122.3,85.2 123.3,84.3 124.3,83.5 125.3,82.2 126.3,81.1 127.3,80.1 128.3,78.8 129.2,78.1 130.2,77.3 131.2,76.2 132.2,74.3 133.2,71.4 134.2,67.1 135.2,61.0 136.1,53.8 137.1,46.5 138.1,40.5 139.1,38.3 140.1,39.0 141.1,40.9 142.1,44.0 143.0,47.6 144.0,51.3 145.0,55.3 146.0,59.4 147.0,63.0 148.0,65.7 149.0,67.9 150.0,69.8 150.9,70.9 151.9,72.0 152.9,73.1 153.9,73.8 154.9,74.5 155.9,75.0 156.9,74.9 157.8,74.6 158.8,74.5 159.8,74.3 160.8,74.3 161.8,74.3 162.8,74.2 163.8,74.1 164.7,74.2 165.7,74.1 166.7,73.9 167.7,73.7 168.7,73.5 169.7,73.5 170.7,73.5 171.6,73.5 172.6,73.7 173.6,73.6 174.6,73.4" fill="none" stroke="#000" stroke-width="1.05"/>
<path d="M26.7,81.1 27.7,81.0 28.7,81.1 29.7,81.1 30.6,81.3 31.6,81.3 32.6,81.0 33.6,80.8 34.6,80.7 35.6,80.6 36.6,81.1 37.5,81.3 38.5,81.6 39.5,81.8 40.5,81.7 41.5,81.9 42.5,82.0 43.5,82.0 44.4,81.9 45.4,81.9 46.4,81.5 47.4,81.1 48.4,80.5 49.4,79.6 50.4,78.9 51.3,78.4 52.3,77.8 53.3,77.0 54.3,76.4 55.3,75.7 56.3,74.9 57.3,74.4 58.3,73.8 59.2,73.2 60.2,72.9 61.2,72.7 62.2,72.5 63.2,72.5 64.2,72.8 65.2,73.2 66.1,73.9 67.1,75.4 68.1,76.9 69.1,78.4 70.1,80.5 71.1,82.2 72.1,83.8 73.0,85.6 74.0,86.9 75.0,88.2 76.0,89.4 77.0,90.8 78.0,92.5 79.0,93.6 79.9,94.9 80.9,96.0 81.9,96.8 82.9,98.1 83.9,99.3 84.9,100.4 85.9,101.5 86.8,102.5 87.8,103.3 88.8,103.5 89.8,104.3 90.8,105.1 91.8,105.8 92.8,106.5 93.7,107.1 94.7,107.6 95.7,108.2 96.7,108.6 97.7,109.0 98.7,109.3 99.7,109.5 100.7,109.6 101.6,109.5 102.6,109.3 103.6,109.0 104.6,108.6 105.6,108.2 106.6,107.6 107.6,107.1 108.5,106.5 109.5,105.8 110.5,105.1 111.5,104.3 112.5,103.5 113.5,102.8 114.5,101.7 115.4,100.9 116.4,100.1 117.4,99.2 118.4,98.2 119.4,97.1 120.4,95.8 121.4,94.6 122.3,93.3 123.3,92.3 124.3,91.4 125.3,90.3 126.3,89.4 127.3,87.8 128.3,86.2 129.2,84.0 130.2,81.1 131.2,77.7 132.2,73.7 133.2,69.8 134.2,66.4 135.2,63.6 136.1,62.6 137.1,62.5 138.1,63.0 139.1,64.1 140.1,65.2 141.1,67.0 142.1,68.7 143.0,70.8 144.0,72.7 145.0,74.1 146.0,75.6 147.0,76.7 148.0,77.9 149.0,79.1 150.0,79.5 150.9,79.8 151.9,79.9 152.9,80.4 153.9,80.7 154.9,80.8 155.9,80.9 156.9,80.6 157.8,80.4 158.8,80.4 159.8,80.5 160.8,80.3 161.8,80.6 162.8,80.5 163.8,80.2 164.7,80.4 165.7,80.3 166.7,80.6 167.7,80.7 168.7,80.8 169.7,80.7 170.7,80.4 171.6,80.5 172.6,80.6 173.6,80.9 174.6,81.1V480H26.7Z" fill="url(#g5)"/>
<path d="M26.7,86.1 27.7,86.1 28.7,86.2 29.7,86.3 30.6,86.3 31.6,86.3 32.6,86.4 33.6,86.4 34.6,86.5 35.6,86.8 36.6,87.1 37.5,87.5 38.5,87.9 39.5,88.0 40.5,88.1 41.5,88.2 42.5,88.5 43.5,88.5 44.4,88.4 45.4,88.2 46.4,87.6 47.4,87.1 48.4,86.5 49.4,85.7 50.4,85.0 51.3,84.3 52.3,83.7 53.3,82.8 54.3,82.3 55.3,81.5 56.3,80.6 57.3,80.3 58.3,79.5 59.2,79.0 60.2,78.7 61.2,78.4 62.2,78.2 63.2,78.2 64.2,78.4 65.2,79.1 66.1,79.9 67.1,81.3 68.1,82.8 69.1,84.1 70.1,85.9 71.1,87.5 72.1,89.2 73.0,90.6 74.0,91.9 75.0,93.1 76.0,94.2 77.0,95.6 78.0,96.9 79.0,98.0 79.9,99.3 80.9,100.3 81.9,101.2 82.9,102.3 83.9,103.4 84.9,104.4 85.9,105.4 86.8,106.5 87.8,107.3 88.8,107.7 89.8,108.5 90.8,109.3 91.8,110.0 92.8,110.6 93.7,111.3 94.7,111.8 95.7,112.3 96.7,112.8 97.7,113.1 98.7,113.4 99.7,113.7 100.7,113.8 101.6,113.7 102.6,113.4 103.6,113.1 104.6,112.8 105.6,112.3 106.6,111.8 107.6,111.2 108.5,110.6 109.5,110.0 110.5,109.3 111.5,108.5 112.5,107.7 113.5,106.8 114.5,105.8 115.4,105.0 116.4,104.0 117.4,103.1 118.4,102.2 119.4,101.1 120.4,100.0 121.4,98.8 122.3,97.5 123.3,96.6 124.3,95.5 125.3,94.6 126.3,93.7 127.3,92.4 128.3,91.1 129.2,89.6 130.2,87.8 131.2,85.6 132.2,83.1 133.2,80.5 134.2,77.7 135.2,75.2 136.1,73.4 137.1,71.7 138.1,70.3 139.1,69.1 140.1,68.1 141.1,67.9 142.1,68.3 143.0,69.5 144.0,70.8 145.0,72.1 146.0,73.4 147.0,74.7 148.0,76.2 149.0,77.7 150.0,78.8 150.9,79.9 151.9,80.9 152.9,81.9 153.9,82.9 154.9,83.5 155.9,84.1 156.9,84.3 157.8,84.5 158.8,84.7 159.8,84.7 160.8,84.7 161.8,84.8 162.8,84.8 163.8,84.6 164.7,84.7 165.7,84.5 166.7,84.5 167.7,84.7 168.7,84.8 169.7,84.8 170.7,84.8 171.6,84.8 172.6,84.9 173.6,85.1 174.6,85.1V480H26.7Z" fill="url(#g6)"/>
<path d="M26.7,81.1 27.7,81.0 28.7,81.1 29.7,81.1 30.6,81.3 31.6,81.3 32.6,81.0 33.6,80.8 34.6,80.7 35.6,80.6 36.6,81.1 37.5,81.3 38.5,81.6 39.5,81.8 40.5,81.7 41.5,81.9 42.5,82.0 43.5,82.0 44.4,81.9 45.4,81.9 46.4,81.5 47.4,81.1 48.4,80.5 49.4,79.6 50.4,78.9 51.3,78.4 52.3,77.8 53.3,77.0 54.3,76.4 55.3,75.7 56.3,74.9 57.3,74.4 58.3,73.8 59.2,73.2 60.2,72.9 61.2,72.7 62.2,72.5 63.2,72.5 64.2,72.8 65.2,73.2 66.1,73.9 67.1,75.4 68.1,76.9 69.1,78.4 70.1,80.5 71.1,82.2 72.1,83.8 73.0,85.6 74.0,86.9 75.0,88.2 76.0,89.4 77.0,90.8 78.0,92.5 79.0,93.6 79.9,94.9 80.9,96.0 81.9,96.8 82.9,98.1 83.9,99.3 84.9,100.4 85.9,101.5 86.8,102.5 87.8,103.3 88.8,103.5 89.8,104.3 90.8,105.1 91.8,105.8 92.8,106.5 93.7,107.1 94.7,107.6 95.7,108.2 96.7,108.6 97.7,109.0 98.7,109.3 99.7,109.5 100.7,109.6 101.6,109.5 102.6,109.3 103.6,109.0 104.6,108.6 105.6,108.2 106.6,107.6 107.6,107.1 108.5,106.5 109.5,105.8 110.5,105.1 111.5,104.3 112.5,103.5 113.5,102.8 114.5,101.7 115.4,100.9 116.4,100.1 117.4,99.2 118.4,98.2 119.4,97.1 120.4,95.8 121.4,94.6 122.3,93.3 123.3,92.3 124.3,91.4 125.3,90.3 126.3,89.4 127.3,87.8 128.3,86.2 129.2,84.0 130.2,81.1 131.2,77.7 132.2,73.7 133.2,69.8 134.2,66.4 135.2,63.6 136.1,62.6 137.1,62.5 138.1,63.0 139.1,64.1 140.1,65.2 141.1,67.0 142.1,68.7 143.0,70.8 144.0,72.7 145.0,74.1 146.0,75.6 147.0,76.7 148.0,77.9 149.0,79.1 150.0,79.5 150.9,79.8 151.9,79.9 152.9,80.4 153.9,80.7 154.9,80.8 155.9,80.9 156.9,80.6 157.8,80.4 158.8,80.4 159.8,80.5 160.8,80.3 161.8,80.6 162.8,80.5 163.8,80.2 164.7,80.4 165.7,80.3 166.7,80.6 167.7,80.7 168.7,80.8 169.7,80.7 170.7,80.4 171.6,80.5 172.6,80.6 173.6,80.9 174.6,81.1" fill="none" stroke="#000" stroke-width="1.05"/>
<path d="M26.7,91.2 27.7,91.2 28.7,91.3 29.7,91.4 30.6,91.2 31.6,91.3 32.6,91.7 33.6,92.0 34.6,92.3 35.6,92.9 36.6,93.1 37.5,93.7 38.5,94.1 39.5,94.1 40.5,94.5 41.5,94.5 42.5,94.9 43.5,95.0 44.4,94.8 45.4,94.5 46.4,93.7 47.4,93.2 48.4,92.5 49.4,91.7 50.4,91.0 51.3,90.2 52.3,89.5 53.3,88.7 54.3,88.1 55.3,87.2 56.3,86.4 57.3,86.1 58.3,85.3 59.2,84.8 60.2,84.4 61.2,84.0 62.2,83.8 63.2,83.9 64.2,84.0 65.2,84.9 66.1,85.9 67.1,87.2 68.1,88.7 69.1,89.9 70.1,91.4 71.1,92.8 72.1,94.5 73.0,95.6 74.0,97.0 75.0,98.0 76.0,98.9 77.0,100.4 78.0,101.3 79.0,102.4 79.9,103.6 80.9,104.6 81.9,105.5 82.9,106.4 83.9,107.4 84.9,108.3 85.9,109.4 86.8,110.5 87.8,111.2 88.8,111.9 89.8,112.7 90.8,113.5 91.8,114.2 92.8,114.8 93.7,115.4 94.7,116.0 95.7,116.5 96.7,116.9 97.7,117.3 98.7,117.6 99.7,117.8 100.7,117.9 101.6,117.8 102.6,117.6 103.6,117.3 104.6,116.9 105.6,116.5 106.6,116.0 107.6,115.4 108.5,114.8 109.5,114.1 110.5,113.4 111.5,112.7 112.5,111.9 113.5,110.9 114.5,109.9 115.4,109.1 116.4,108.0 117.4,107.1 118.4,106.2 119.4,105.1 120.4,104.2 121.4,103.0 122.3,101.8 123.3,100.8 124.3,99.6 125.3,98.9 126.3,98.0 127.3,96.9 128.3,96.0 129.2,95.1 130.2,94.5 131.2,93.5 132.2,92.5 133.2,91.2 134.2,89.1 135.2,86.8 136.1,84.2 137.1,80.9 138.1,77.6 139.1,74.1 140.1,70.9 141.1,68.7 142.1,67.9 143.0,68.3 144.0,68.9 145.0,70.1 146.0,71.1 147.0,72.6 148.0,74.5 149.0,76.3 150.0,78.2 150.9,80.1 151.9,81.8 152.9,83.4 153.9,85.1 154.9,86.2 155.9,87.3 156.9,88.1 157.8,88.6 158.8,89.0 159.8,89.0 160.8,89.0 161.8,89.1 162.8,89.1 163.8,89.1 164.7,89.1 165.7,88.7 166.7,88.4 167.7,88.7 168.7,88.7 169.7,89.0 170.7,89.3 171.6,89.2 172.6,89.1 173.6,89.2 174.6,89.0V480H26.7Z" fill="url(#g6)"/>
<path d="M26.7,94.8 27.7,94.8 28.7,94.7 29.7,94.8 30.6,94.6 31.6,94.7 32.6,95.0 33.6,95.1 34.6,95.4 35.6,95.6 36.6,95.6 37.5,96.0 38.5,96.1 39.5,96.2 40.5,96.5 41.5,96.6 42.5,96.9 43.5,97.1 44.4,97.0 45.4,96.8 46.4,96.3 47.4,95.8 48.4,95.2 49.4,94.6 50.4,93.9 51.3,93.2 52.3,92.5 53.3,91.9 54.3,91.3 55.3,90.6 56.3,89.9 57.3,89.4 58.3,88.7 59.2,88.3 60.2,87.9 61.2,87.4 62.2,87.3 63.2,87.4 64.2,87.6 65.2,88.3 66.1,89.2 67.1,90.3 68.1,91.7 69.1,93.0 70.1,94.7 71.1,96.3 72.1,97.9 73.0,99.2 74.0,100.6 75.0,101.7 76.0,102.9 77.0,104.1 78.0,105.2 79.0,106.4 79.9,107.4 80.9,108.4 81.9,109.3 82.9,110.3 83.9,111.4 84.9,112.3 85.9,113.3 86.8,114.4 87.8,115.2 88.8,116.0 89.8,116.8 90.8,117.6 91.8,118.3 92.8,118.9 93.7,119.6 94.7,120.1 95.7,120.6 96.7,121.1 97.7,121.4 98.7,121.7 99.7,122.0 100.7,122.1 101.6,122.0 102.6,121.7 103.6,121.4 104.6,121.1 105.6,120.6 106.6,120.1 107.6,119.5 108.5,118.9 109.5,118.3 110.5,117.5 111.5,116.8 112.5,116.0 113.5,115.0 114.5,114.0 115.4,113.2 116.4,112.0 117.4,111.0 118.4,110.1 119.4,109.1 120.4,108.1 121.4,107.1 122.3,105.9 123.3,104.9 124.3,103.8 125.3,102.9 126.3,101.7 127.3,100.7 128.3,99.6 129.2,98.3 130.2,97.3 131.2,95.5 132.2,93.8 133.2,91.8 134.2,89.4 135.2,87.1 136.1,85.2 137.1,83.1 138.1,81.5 139.1,80.0 140.1,78.5 141.1,77.9 142.1,77.7 143.0,78.4 144.0,79.2 145.0,80.4 146.0,81.6 147.0,82.6 148.0,84.0 149.0,85.2 150.0,86.4 150.9,87.8 151.9,88.9 152.9,89.9 153.9,91.0 154.9,91.5 155.9,92.2 156.9,92.6 157.8,92.9 158.8,93.0 159.8,93.2 160.8,93.2 161.8,93.4 162.8,93.5 163.8,93.4 164.7,93.4 165.7,93.2 166.7,93.2 167.7,93.3 168.7,93.4 169.7,93.5 170.7,93.5 171.6,93.4 172.6,93.5 173.6,93.5 174.6,93.4V480H26.7Z" fill="url(#g7)"/>
<path d="M26.7,91.2 27.7,91.2 28.7,91.3 29.7,91.4 30.6,91.2 31.6,91.3 32.6,91.7 33.6,92.0 34.6,92.3 35.6,92.9 36.6,93.1 37.5,93.7 38.5,94.1 39.5,94.1 40.5,94.5 41.5,94.5 42.5,94.9 43.5,95.0 44.4,94.8 45.4,94.5 46.4,93.7 47.4,93.2 48.4,92.5 49.4,91.7 50.4,91.0 51.3,90.2 52.3,89.5 53.3,88.7 54.3,88.1 55.3,87.2 56.3,86.4 57.3,86.1 58.3,85.3 59.2,84.8 60.2,84.4 61.2,84.0 62.2,83.8 63.2,83.9 64.2,84.0 65.2,84.9 66.1,85.9 67.1,87.2 68.1,88.7 69.1,89.9 70.1,91.4 71.1,92.8 72.1,94.5 73.0,95.6 74.0,97.0 75.0,98.0 76.0,98.9 77.0,100.4 78.0,101.3 79.0,102.4 79.9,103.6 80.9,104.6 81.9,105.5 82.9,106.4 83.9,107.4 84.9,108.3 85.9,109.4 86.8,110.5 87.8,111.2 88.8,111.9 89.8,112.7 90.8,113.5 91.8,114.2 92.8,114.8 93.7,115.4 94.7,116.0 95.7,116.5 96.7,116.9 97.7,117.3 98.7,117.6 99.7,117.8 100.7,117.9 101.6,117.8 102.6,117.6 103.6,117.3 104.6,116.9 105.6,116.5 106.6,116.0 107.6,115.4 108.5,114.8 109.5,114.1 110.5,113.4 111.5,112.7 112.5,111.9 113.5,110.9 114.5,109.9 115.4,109.1 116.4,108.0 117.4,107.1 118.4,106.2 119.4,105.1 120.4,104.2 121.4,103.0 122.3,101.8 123.3,100.8 124.3,99.6 125.3,98.9 126.3,98.0 127.3,96.9 128.3,96.0 129.2,95.1 130.2,94.5 131.2,93.5 132.2,92.5 133.2,91.2 134.2,89.1 135.2,86.8 136.1,84.2 137.1,80.9 138.1,77.6 139.1,74.1 140.1,70.9 141.1,68.7 142.1,67.9 143.0,68.3 144.0,68.9 145.0,70.1 146.0,71.1 147.0,72.6 148.0,74.5 149.0,76.3 150.0,78.2 150.9,80.1 151.9,81.8 152.9,83.4 153.9,85.1 154.9,86.2 155.9,87.3 156.9,88.1 157.8,88.6 158.8,89.0 159.8,89.0 160.8,89.0 161.8,89.1 162.8,89.1 163.8,89.1 164.7,89.1 165.7,88.7 166.7,88.4 167.7,88.7 168.7,88.7 169.7,89.0 170.7,89.3 171.6,89.2 172.6,89.1 173.6,89.2 174.6,89.0" fill="none" stroke="#000" stroke-width="1.05"/>
<path d="M26.7,98.4 27.7,98.3 28.7,98.2 29.7,98.2 30.6,98.0 31.6,98.2 32.6,98.2 33.6,98.2 34.6,98.5 35.6,98.3 36.6,98.2 37.5,98.3 38.5,98.2 39.5,98.3 40.5,98.5 41.5,98.8 42.5,98.9 43.5,99.1 44.4,99.3 45.4,99.1 46.4,98.9 47.4,98.4 48.4,97.8 49.4,97.4 50.4,96.8 51.3,96.2 52.3,95.6 53.3,95.1 54.3,94.5 55.3,93.9 56.3,93.3 57.3,92.6 58.3,92.2 59.2,91.8 60.2,91.3 61.2,90.9 62.2,90.8 63.2,90.8 64.2,91.2 65.2,91.8 66.1,92.4 67.1,93.4 68.1,94.8 69.1,96.2 70.1,98.1 71.1,99.8 72.1,101.2 73.0,102.9 74.0,104.2 75.0,105.5 76.0,106.9 77.0,107.9 78.0,109.2 79.0,110.3 79.9,111.1 80.9,112.3 81.9,113.2 82.9,114.3 83.9,115.4 84.9,116.4 85.9,117.3 86.8,118.2 87.8,119.1 88.8,120.1 89.8,120.9 90.8,121.7 91.8,122.4 92.8,123.1 93.7,123.7 94.7,124.2 95.7,124.8 96.7,125.2 97.7,125.6 98.7,125.9 99.7,126.1 100.7,126.2 101.6,126.1 102.6,125.9 103.6,125.6 104.6,125.2 105.6,124.7 106.6,124.2 107.6,123.7 108.5,123.0 109.5,122.4 110.5,121.6 111.5,120.9 112.5,120.1 113.5,119.0 114.5,118.2 115.4,117.3 116.4,116.1 117.4,114.9 118.4,114.1 119.4,113.1 120.4,112.0 121.4,111.3 122.3,110.0 123.3,108.9 124.3,108.0 125.3,106.8 126.3,105.5 127.3,104.4 128.3,103.1 129.2,101.5 130.2,100.0 131.2,97.6 132.2,95.1 133.2,92.4 134.2,89.8 135.2,87.5 136.1,86.1 137.1,85.2 138.1,85.3 139.1,85.9 140.1,86.2 141.1,87.0 142.1,87.4 143.0,88.5 144.0,89.5 145.0,90.7 146.0,92.0 147.0,92.7 148.0,93.6 149.0,94.2 150.0,94.7 150.9,95.5 151.9,96.0 152.9,96.3 153.9,96.8 154.9,96.9 155.9,97.0 156.9,97.2 157.8,97.1 158.8,97.1 159.8,97.4 160.8,97.5 161.8,97.7 162.8,97.9 163.8,97.7 164.7,97.7 165.7,97.7 166.7,97.9 167.7,98.0 168.7,98.0 169.7,98.1 170.7,97.7 171.6,97.7 172.6,97.9 173.6,97.8 174.6,97.8V480H26.7Z" fill="url(#g7)"/>
<path d="M26.7,102.1 27.7,102.1 28.7,102.2 29.7,102.5 30.6,102.5 31.6,102.7 32.6,102.8 33.6,102.7 34.6,103.0 35.6,103.2 36.6,103.3 37.5,103.5 38.5,103.5 39.5,103.5 40.5,103.4 41.5,103.5 42.5,103.3 43.5,103.3 44.4,103.3 45.4,103.1 46.4,102.8 47.4,102.5 48.4,102.0 49.4,101.5 50.4,100.9 51.3,100.2 52.3,99.5 53.3,98.9 54.3,98.3 55.3,97.6 56.3,97.1 57.3,96.4 58.3,95.7 59.2,95.1 60.2,94.5 61.2,94.1 62.2,93.9 63.2,93.8 64.2,93.8 65.2,94.2 66.1,94.5 67.1,95.3 68.1,96.4 69.1,97.7 70.1,99.5 71.1,101.3 72.1,103.2 73.0,105.1 74.0,106.8 75.0,108.5 76.0,110.1 77.0,111.4 78.0,112.7 79.0,113.9 79.9,115.0 80.9,116.3 81.9,117.4 82.9,118.3 83.9,119.4 84.9,120.4 85.9,121.4 86.8,122.3 87.8,123.2 88.8,124.2 89.8,125.0 90.8,125.8 91.8,126.5 92.8,127.2 93.7,127.8 94.7,128.4 95.7,128.9 96.7,129.3 97.7,129.7 98.7,130.1 99.7,130.3 100.7,130.4 101.6,130.3 102.6,130.1 103.6,129.7 104.6,129.3 105.6,128.9 106.6,128.4 107.6,127.8 108.5,127.2 109.5,126.5 110.5,125.7 111.5,125.0 112.5,124.1 113.5,123.2 114.5,122.2 115.4,121.2 116.4,120.2 117.4,119.1 118.4,118.2 119.4,117.2 120.4,116.1 121.4,115.2 122.3,114.1 123.3,113.0 124.3,112.0 125.3,110.7 126.3,109.4 127.3,108.0 128.3,106.3 129.2,104.5 130.2,102.5 131.2,99.8 132.2,97.3 133.2,94.4 134.2,92.0 135.2,90.0 136.1,88.8 137.1,88.5 138.1,88.6 139.1,89.2 140.1,89.5 141.1,90.3 142.1,91.0 143.0,92.1 144.0,93.3 145.0,94.5 146.0,95.7 147.0,96.6 148.0,97.4 149.0,98.3 150.0,98.9 150.9,99.6 151.9,100.1 152.9,100.5 153.9,100.9 154.9,100.9 155.9,101.1 156.9,101.2 157.8,101.2 158.8,101.3 159.8,101.4 160.8,101.4 161.8,101.4 162.8,101.5 163.8,101.3 164.7,101.4 165.7,101.4 166.7,101.4 167.7,101.4 168.7,101.4 169.7,101.5 170.7,101.4 171.6,101.5 172.6,101.6 173.6,101.6 174.6,101.6V480H26.7Z" fill="url(#g8)"/>
<path d="M26.7,98.4 27.7,98.3 28.7,98.2 29.7,98.2 30.6,98.0 31.6,98.2 32.6,98.2 33.6,98.2 34.6,98.5 35.6,98.3 36.6,98.2 37.5,98.3 38.5,98.2 39.5,98.3 40.5,98.5 41.5,98.8 42.5,98.9 43.5,99.1 44.4,99.3 45.4,99.1 46.4,98.9 47.4,98.4 48.4,97.8 49.4,97.4 50.4,96.8 51.3,96.2 52.3,95.6 53.3,95.1 54.3,94.5 55.3,93.9 56.3,93.3 57.3,92.6 58.3,92.2 59.2,91.8 60.2,91.3 61.2,90.9 62.2,90.8 63.2,90.8 64.2,91.2 65.2,91.8 66.1,92.4 67.1,93.4 68.1,94.8 69.1,96.2 70.1,98.1 71.1,99.8 72.1,101.2 73.0,102.9 74.0,104.2 75.0,105.5 76.0,106.9 77.0,107.9 78.0,109.2 79.0,110.3 79.9,111.1 80.9,112.3 81.9,113.2 82.9,114.3 83.9,115.4 84.9,116.4 85.9,117.3 86.8,118.2 87.8,119.1 88.8,120.1 89.8,120.9 90.8,121.7 91.8,122.4 92.8,123.1 93.7,123.7 94.7,124.2 95.7,124.8 96.7,125.2 97.7,125.6 98.7,125.9 99.7,126.1 100.7,126.2 101.6,126.1 102.6,125.9 103.6,125.6 104.6,125.2 105.6,124.7 106.6,124.2 107.6,123.7 108.5,123.0 109.5,122.4 110.5,121.6 111.5,120.9 112.5,120.1 113.5,119.0 114.5,118.2 115.4,117.3 116.4,116.1 117.4,114.9 118.4,114.1 119.4,113.1 120.4,112.0 121.4,111.3 122.3,110.0 123.3,108.9 124.3,108.0 125.3,106.8 126.3,105.5 127.3,104.4 128.3,103.1 129.2,101.5 130.2,100.0 131.2,97.6 132.2,95.1 133.2,92.4 134.2,89.8 135.2,87.5 136.1,86.1 137.1,85.2 138.1,85.3 139.1,85.9 140.1,86.2 141.1,87.0 142.1,87.4 143.0,88.5 144.0,89.5 145.0,90.7 146.0,92.0 147.0,92.7 148.0,93.6 149.0,94.2 150.0,94.7 150.9,95.5 151.9,96.0 152.9,96.3 153.9,96.8 154.9,96.9 155.9,97.0 156.9,97.2 157.8,97.1 158.8,97.1 159.8,97.4 160.8,97.5 161.8,97.7 162.8,97.9 163.8,97.7 164.7,97.7 165.7,97.7 166.7,97.9 167.7,98.0 168.7,98.0 169.7,98.1 170.7,97.7 171.6,97.7 172.6,97.9 173.6,97.8 174.6,97.8" fill="none" stroke="#000" stroke-width="1.05"/>
<path d="M26.7,105.7 27.7,105.9 28.7,106.3 29.7,106.9 30.6,107.0 31.6,107.2 32.6,107.3 33.6,107.2 34.6,107.6 35.6,108.0 36.6,108.5 37.5,108.7 38.5,108.8 39.5,108.7 40.5,108.4 41.5,108.2 42.5,107.8 43.5,107.4 44.4,107.3 45.4,107.1 46.4,106.8 47.4,106.6 48.4,106.2 49.4,105.6 50.4,105.0 51.3,104.3 52.3,103.5 53.3,102.7 54.3,102.1 55.3,101.3 56.3,100.8 57.3,100.2 58.3,99.2 59.2,98.4 60.2,97.8 61.2,97.3 62.2,97.1 63.2,96.7 64.2,96.4 65.2,96.5 66.1,96.6 67.1,97.1 68.1,98.1 69.1,99.3 70.1,101.0 71.1,102.9 72.1,105.1 73.0,107.2 74.0,109.4 75.0,111.5 76.0,113.3 77.0,114.8 78.0,116.1 79.0,117.6 79.9,118.9 80.9,120.3 81.9,121.6 82.9,122.4 83.9,123.3 84.9,124.4 85.9,125.5 86.8,126.4 87.8,127.3 88.8,128.2 89.8,129.1 90.8,129.8 91.8,130.6 92.8,131.3 93.7,131.9 94.7,132.5 95.7,133.0 96.7,133.5 97.7,133.9 98.7,134.2 99.7,134.4 100.7,134.6 101.6,134.4 102.6,134.2 103.6,133.9 104.6,133.5 105.6,133.0 106.6,132.5 107.6,131.9 108.5,131.3 109.5,130.6 110.5,129.8 111.5,129.0 112.5,128.2 113.5,127.4 114.5,126.3 115.4,125.2 116.4,124.4 117.4,123.3 118.4,122.3 119.4,121.2 120.4,120.1 121.4,119.2 122.3,118.2 123.3,117.1 124.3,116.1 125.3,114.6 126.3,113.3 127.3,111.5 128.3,109.6 129.2,107.5 130.2,105.0 131.2,102.1 132.2,99.5 133.2,96.4 134.2,94.2 135.2,92.6 136.1,91.6 137.1,91.7 138.1,91.8 139.1,92.4 140.1,92.8 141.1,93.6 142.1,94.6 143.0,95.7 144.0,97.2 145.0,98.3 146.0,99.4 147.0,100.4 148.0,101.3 149.0,102.3 150.0,103.1 150.9,103.7 151.9,104.3 152.9,104.7 153.9,105.0 154.9,105.0 155.9,105.2 156.9,105.2 157.8,105.2 158.8,105.5 159.8,105.4 160.8,105.3 161.8,105.1 162.8,105.1 163.8,105.0 164.7,105.1 165.7,105.1 166.7,104.9 167.7,104.9 168.7,104.7 169.7,104.9 170.7,105.1 171.6,105.2 172.6,105.3 173.6,105.4 174.6,105.3V480H26.7Z" fill="url(#g8)"/>
<path d="M26.7,109.1 27.7,109.3 28.7,109.4 29.7,109.8 30.6,109.9 31.6,110.1 32.6,110.2 33.6,110.2 34.6,110.4 35.6,110.6 36.6,110.8 37.5,111.1 38.5,111.3 39.5,111.3 40.5,111.2 41.5,111.1 42.5,110.8 43.5,110.6 44.4,110.6 45.4,110.6 46.4,110.5 47.4,110.4 48.4,109.9 49.4,109.5 50.4,108.9 51.3,108.4 52.3,107.7 53.3,106.7 54.3,105.9 55.3,104.9 56.3,103.9 57.3,103.1 58.3,102.0 59.2,100.9 60.2,99.9 61.2,99.0 62.2,98.4 63.2,97.8 64.2,97.3 65.2,97.1 66.1,96.9 67.1,97.3 68.1,98.0 69.1,99.0 70.1,100.7 71.1,102.6 72.1,104.9 73.0,107.5 74.0,110.0 75.0,112.5 76.0,114.8 77.0,116.8 78.0,118.7 79.0,120.5 79.9,122.2 80.9,123.7 81.9,125.0 82.9,126.1 83.9,127.1 84.9,128.2 85.9,129.3 86.8,130.3 87.8,131.4 88.8,132.2 89.8,133.1 90.8,133.9 91.8,134.6 92.8,135.3 93.7,136.0 94.7,136.6 95.7,137.1 96.7,137.6 97.7,138.0 98.7,138.4 99.7,138.6 100.7,138.7 101.6,138.6 102.6,138.4 103.6,138.0 104.6,137.6 105.6,137.1 106.6,136.6 107.6,136.0 108.5,135.3 109.5,134.6 110.5,133.9 111.5,133.1 112.5,132.2 113.5,131.6 114.5,130.6 115.4,129.4 116.4,128.5 117.4,127.3 118.4,126.2 119.4,125.0 120.4,123.8 121.4,122.7 122.3,121.6 123.3,120.6 124.3,119.4 125.3,117.6 126.3,115.6 127.3,112.8 128.3,109.3 129.2,105.9 130.2,102.5 131.2,99.9 132.2,98.3 133.2,96.8 134.2,95.7 135.2,94.7 136.1,93.7 137.1,93.0 138.1,92.4 139.1,92.2 140.1,92.7 141.1,93.8 142.1,95.0 143.0,96.5 144.0,98.1 145.0,99.6 146.0,101.0 147.0,102.4 148.0,103.7 149.0,105.0 150.0,106.1 150.9,106.7 151.9,107.4 152.9,107.8 153.9,108.0 154.9,108.2 155.9,108.5 156.9,108.7 157.8,108.8 158.8,108.8 159.8,108.7 160.8,108.6 161.8,108.4 162.8,108.3 163.8,108.1 164.7,107.9 165.7,108.0 166.7,108.0 167.7,108.0 168.7,108.0 169.7,108.0 170.7,108.1 171.6,108.2 172.6,108.3 173.6,108.4 174.6,108.4V480H26.7Z" fill="url(#g9)"/>
<path d="M26.7,105.7 27.7,105.9 28.7,106.3 29.7,106.9 30.6,107.0 31.6,107.2 32.6,107.3 33.6,107.2 34.6,107.6 35.6,108.0 36.6,108.5 37.5,108.7 38.5,108.8 39.5,108.7 40.5,108.4 41.5,108.2 42.5,107.8 43.5,107.4 44.4,107.3 45.4,107.1 46.4,106.8 47.4,106.6 48.4,106.2 49.4,105.6 50.4,105.0 51.3,104.3 52.3,103.5 53.3,102.7 54.3,102.1 55.3,101.3 56.3,100.8 57.3,100.2 58.3,99.2 59.2,98.4 60.2,97.8 61.2,97.3 62.2,97.1 63.2,96.7 64.2,96.4 65.2,96.5 66.1,96.6 67.1,97.1 68.1,98.1 69.1,99.3 70.1,101.0 71.1,102.9 72.1,105.1 73.0,107.2 74.0,109.4 75.0,111.5 76.0,113.3 77.0,114.8 78.0,116.1 79.0,117.6 79.9,118.9 80.9,120.3 81.9,121.6 82.9,122.4 83.9,123.3 84.9,124.4 85.9,125.5 86.8,126.4 87.8,127.3 88.8,128.2 89.8,129.1 90.8,129.8 91.8,130.6 92.8,131.3 93.7,131.9 94.7,132.5 95.7,133.0 96.7,133.5 97.7,133.9 98.7,134.2 99.7,134.4 100.7,134.6 101.6,134.4 102.6,134.2 103.6,133.9 104.6,133.5 105.6,133.0 106.6,132.5 107.6,131.9 108.5,131.3 109.5,130.6 110.5,129.8 111.5,129.0 112.5,128.2 113.5,127.4 114.5,126.3 115.4,125.2 116.4,124.4 117.4,123.3 118.4,122.3 119.4,121.2 120.4,120.1 121.4,119.2 122.3,118.2 123.3,117.1 124.3,116.1 125.3,114.6 126.3,113.3 127.3,111.5 128.3,109.6 129.2,107.5 130.2,105.0 131.2,102.1 132.2,99.5 133.2,96.4 134.2,94.2 135.2,92.6 136.1,91.6 137.1,91.7 138.1,91.8 139.1,92.4 140.1,92.8 141.1,93.6 142.1,94.6 143.0,95.7 144.0,97.2 145.0,98.3 146.0,99.4 147.0,100.4 148.0,101.3 149.0,102.3 150.0,103.1 150.9,103.7 151.9,104.3 152.9,104.7 153.9,105.0 154.9,105.0 155.9,105.2 156.9,105.2 157.8,105.2 158.8,105.5 159.8,105.4 160.8,105.3 161.8,105.1 162.8,105.1 163.8,105.0 164.7,105.1 165.7,105.1 166.7,104.9 167.7,104.9 168.7,104.7 169.7,104.9 170.7,105.1 171.6,105.2 172.6,105.3 173.6,105.4 174.6,105.3" fill="none" stroke="#000" stroke-width="1.05"/>
<path d="M26.7,112.6 27.7,112.7 28.7,112.6 29.7,112.7 30.6,112.8 31.6,113.1 32.6,113.2 33.6,113.2 34.6,113.2 35.6,113.2 36.6,113.2 37.5,113.5 38.5,113.7 39.5,113.9 40.5,114.1 41.5,114.0 42.5,113.9 43.5,113.8 44.4,114.0 45.4,114.0 46.4,114.1 47.4,114.1 48.4,113.7 49.4,113.4 50.4,112.9 51.3,112.4 52.3,111.9 53.3,110.8 54.3,109.7 55.3,108.5 56.3,107.1 57.3,106.0 58.3,104.8 59.2,103.4 60.2,102.1 61.2,100.8 62.2,99.7 63.2,98.8 64.2,98.1 65.2,97.6 66.1,97.3 67.1,97.5 68.1,97.9 69.1,98.7 70.1,100.3 71.1,102.3 72.1,104.7 73.0,107.7 74.0,110.6 75.0,113.4 76.0,116.3 77.0,118.7 78.0,121.2 79.0,123.4 79.9,125.5 80.9,127.1 81.9,128.5 82.9,129.8 83.9,130.8 84.9,132.0 85.9,133.1 86.8,134.3 87.8,135.5 88.8,136.3 89.8,137.1 90.8,137.9 91.8,138.7 92.8,139.4 93.7,140.1 94.7,140.7 95.7,141.2 96.7,141.7 97.7,142.2 98.7,142.5 99.7,142.8 100.7,142.9 101.6,142.8 102.6,142.5 103.6,142.2 104.6,141.7 105.6,141.2 106.6,140.7 107.6,140.1 108.5,139.4 109.5,138.7 110.5,137.9 111.5,137.1 112.5,136.2 113.5,135.8 114.5,134.8 115.4,133.6 116.4,132.5 117.4,131.2 118.4,130.0 119.4,128.7 120.4,127.4 121.4,126.2 122.3,125.1 123.3,124.1 124.3,122.7 125.3,120.6 126.3,117.9 127.3,114.1 128.3,109.1 129.2,104.2 130.2,100.0 131.2,97.6 132.2,97.2 133.2,97.2 134.2,97.2 135.2,96.9 136.1,95.8 137.1,94.3 138.1,92.9 139.1,92.1 140.1,92.6 141.1,93.9 142.1,95.4 143.0,97.2 144.0,99.0 145.0,100.9 146.0,102.7 147.0,104.5 148.0,106.1 149.0,107.6 150.0,109.0 150.9,109.8 151.9,110.5 152.9,110.9 153.9,111.0 154.9,111.5 155.9,111.8 156.9,112.1 157.8,112.3 158.8,112.2 159.8,112.1 160.8,111.9 161.8,111.8 162.8,111.6 163.8,111.2 164.7,110.8 165.7,111.0 166.7,111.0 167.7,111.0 168.7,111.2 169.7,111.1 170.7,111.2 171.6,111.2 172.6,111.2 173.6,111.4 174.6,111.5V480H26.7Z" fill="url(#g9)"/>
<path d="M26.7,115.8 27.7,115.8 28.7,115.7 29.7,115.6 30.6,115.8 31.6,116.0 32.6,116.1 33.6,116.2 34.6,116.2 35.6,116.5 36.6,116.5 37.5,116.8 38.5,117.1 39.5,117.3 40.5,117.5 41.5,117.7 42.5,117.9 43.5,117.8 44.4,118.1 45.4,118.1 46.4,118.0 47.4,117.9 48.4,117.2 49.4,116.7 50.4,116.0 51.3,115.3 52.3,114.4 53.3,112.9 54.3,111.5 55.3,109.8 56.3,107.9 57.3,106.2 58.3,104.4 59.2,102.4 60.2,100.7 61.2,98.8 62.2,97.3 63.2,95.8 64.2,94.6 65.2,93.6 66.1,92.9 67.1,92.8 68.1,92.9 69.1,93.5 70.1,94.9 71.1,97.1 72.1,100.2 73.0,104.0 74.0,108.0 75.0,111.8 76.0,115.7 77.0,119.2 78.0,122.4 79.0,125.4 79.9,128.0 80.9,130.0 81.9,131.8 82.9,133.3 83.9,134.6 84.9,135.9 85.9,137.3 86.8,138.4 87.8,139.6 88.8,140.3 89.8,141.2 90.8,142.0 91.8,142.8 92.8,143.5 93.7,144.2 94.7,144.8 95.7,145.4 96.7,145.9 97.7,146.3 98.7,146.7 99.7,146.9 100.7,147.0 101.6,146.9 102.6,146.7 103.6,146.3 104.6,145.9 105.6,145.4 106.6,144.8 107.6,144.2 108.5,143.5 109.5,142.8 110.5,142.0 111.5,141.2 112.5,140.4 113.5,139.8 114.5,138.9 115.4,137.9 116.4,136.7 117.4,135.3 118.4,134.2 119.4,133.0 120.4,131.7 121.4,130.2 122.3,128.2 123.3,125.6 124.3,122.1 125.3,117.6 126.3,112.3 127.3,106.7 128.3,101.4 129.2,97.6 130.2,95.1 131.2,94.1 132.2,94.3 133.2,94.6 134.2,94.7 135.2,94.1 136.1,92.7 137.1,90.9 138.1,89.2 139.1,88.3 140.1,88.8 141.1,90.3 142.1,92.1 143.0,94.4 144.0,96.8 145.0,99.4 146.0,102.1 147.0,104.6 148.0,107.0 149.0,109.1 150.0,110.8 150.9,112.2 151.9,113.6 152.9,114.6 153.9,115.0 154.9,115.8 155.9,116.1 156.9,116.5 157.8,116.8 158.8,116.7 159.8,116.8 160.8,116.8 161.8,116.8 162.8,116.7 163.8,116.3 164.7,116.0 165.7,116.0 166.7,116.1 167.7,116.0 168.7,116.2 169.7,116.2 170.7,116.3 171.6,116.4 172.6,116.4 173.6,116.4 174.6,116.5V480H26.7Z" fill="url(#g10)"/>
<path d="M26.7,112.6 27.7,112.7 28.7,112.6 29.7,112.7 30.6,112.8 31.6,113.1 32.6,113.2 33.6,113.2 34.6,113.2 35.6,113.2 36.6,113.2 37.5,113.5 38.5,113.7 39.5,113.9 40.5,114.1 41.5,114.0 42.5,113.9 43.5,113.8 44.4,114.0 45.4,114.0 46.4,114.1 47.4,114.1 48.4,113.7 49.4,113.4 50.4,112.9 51.3,112.4 52.3,111.9 53.3,110.8 54.3,109.7 55.3,108.5 56.3,107.1 57.3,106.0 58.3,104.8 59.2,103.4 60.2,102.1 61.2,100.8 62.2,99.7 63.2,98.8 64.2,98.1 65.2,97.6 66.1,97.3 67.1,97.5 68.1,97.9 69.1,98.7 70.1,100.3 71.1,102.3 72.1,104.7 73.0,107.7 74.0,110.6 75.0,113.4 76.0,116.3 77.0,118.7 78.0,121.2 79.0,123.4 79.9,125.5 80.9,127.1 81.9,128.5 82.9,129.8 83.9,130.8 84.9,132.0 85.9,133.1 86.8,134.3 87.8,135.5 88.8,136.3 89.8,137.1 90.8,137.9 91.8,138.7 92.8,139.4 93.7,140.1 94.7,140.7 95.7,141.2 96.7,141.7 97.7,142.2 98.7,142.5 99.7,142.8 100.7,142.9 101.6,142.8 102.6,142.5 103.6,142.2 104.6,141.7 105.6,141.2 106.6,140.7 107.6,140.1 108.5,139.4 109.5,138.7 110.5,137.9 111.5,137.1 112.5,136.2 113.5,135.8 114.5,134.8 115.4,133.6 116.4,132.5 117.4,131.2 118.4,130.0 119.4,128.7 120.4,127.4 121.4,126.2 122.3,125.1 123.3,124.1 124.3,122.7 125.3,120.6 126.3,117.9 127.3,114.1 128.3,109.1 129.2,104.2 130.2,100.0 131.2,97.6 132.2,97.2 133.2,97.2 134.2,97.2 135.2,96.9 136.1,95.8 137.1,94.3 138.1,92.9 139.1,92.1 140.1,92.6 141.1,93.9 142.1,95.4 143.0,97.2 144.0,99.0 145.0,100.9 146.0,102.7 147.0,104.5 148.0,106.1 149.0,107.6 150.0,109.0 150.9,109.8 151.9,110.5 152.9,110.9 153.9,111.0 154.9,111.5 155.9,111.8 156.9,112.1 157.8,112.3 158.8,112.2 159.8,112.1 160.8,111.9 161.8,111.8 162.8,111.6 163.8,111.2 164.7,110.8 165.7,111.0 166.7,111.0 167.7,111.0 168.7,111.2 169.7,111.1 170.7,111.2 171.6,111.2 172.6,111.2 173.6,111.4 174.6,111.5" fill="none" stroke="#000" stroke-width="1.05"/>
<path d="M26.7,119.1 27.7,118.8 28.7,118.9 29.7,118.6 30.6,118.8 31.6,118.8 32.6,119.0 33.6,119.2 34.6,119.3 35.6,119.8 36.6,119.9 37.5,120.1 38.5,120.5 39.5,120.7 40.5,120.9 41.5,121.3 42.5,121.8 43.5,121.8 44.4,122.3 45.4,122.2 46.4,121.9 47.4,121.6 48.4,120.7 49.4,120.1 50.4,119.1 51.3,118.1 52.3,116.8 53.3,115.0 54.3,113.3 55.3,111.2 56.3,108.8 57.3,106.5 58.3,104.0 59.2,101.4 60.2,99.3 61.2,96.9 62.2,94.8 63.2,92.8 64.2,91.0 65.2,89.6 66.1,88.5 67.1,88.0 68.1,87.9 69.1,88.2 70.1,89.4 71.1,92.0 72.1,95.7 73.0,100.2 74.0,105.3 75.0,110.2 76.0,115.1 77.0,119.6 78.0,123.6 79.0,127.4 79.9,130.4 80.9,132.9 81.9,135.1 82.9,136.8 83.9,138.3 84.9,139.9 85.9,141.4 86.8,142.5 87.8,143.7 88.8,144.4 89.8,145.3 90.8,146.1 91.8,146.9 92.8,147.7 93.7,148.3 94.7,149.0 95.7,149.5 96.7,150.0 97.7,150.5 98.7,150.8 99.7,151.1 100.7,151.2 101.6,151.1 102.6,150.8 103.6,150.5 104.6,150.0 105.6,149.5 106.6,149.0 107.6,148.4 108.5,147.7 109.5,147.0 110.5,146.2 111.5,145.4 112.5,144.5 113.5,143.7 114.5,142.9 115.4,142.1 116.4,140.8 117.4,139.4 118.4,138.4 119.4,137.2 120.4,136.0 121.4,134.2 122.3,131.3 123.3,127.1 124.3,121.5 125.3,114.6 126.3,106.7 127.3,99.3 128.3,93.7 129.2,90.9 130.2,90.3 131.2,90.7 132.2,91.4 133.2,92.0 134.2,92.2 135.2,91.2 136.1,89.5 137.1,87.5 138.1,85.4 139.1,84.5 140.1,85.0 141.1,86.7 142.1,88.9 143.0,91.5 144.0,94.6 145.0,97.8 146.0,101.5 147.0,104.7 148.0,107.9 149.0,110.5 150.0,112.7 150.9,114.6 151.9,116.6 152.9,118.2 153.9,119.0 154.9,120.1 155.9,120.3 156.9,120.8 157.8,121.2 158.8,121.1 159.8,121.6 160.8,121.6 161.8,121.8 162.8,121.8 163.8,121.5 164.7,121.2 165.7,121.1 166.7,121.1 167.7,121.0 168.7,121.2 169.7,121.3 170.7,121.4 171.6,121.5 172.6,121.6 173.6,121.4 174.6,121.5V480H26.7Z" fill="url(#g10)"/>
<path d="M26.7,124.0 27.7,124.0 28.7,124.2 29.7,124.1 30.6,124.2 31.6,124.3 32.6,124.3 33.6,124.4 34.6,124.4 35.6,124.6 36.6,124.7 37.5,124.8 38.5,124.9 39.5,125.1 40.5,125.3 41.5,125.6 42.5,126.0 43.5,126.2 44.4,126.7 45.4,126.8 46.4,126.6 47.4,126.4 48.4,125.9 49.4,125.4 50.4,124.7 51.3,123.8 52.3,122.5 53.3,121.1 54.3,119.6 55.3,118.0 56.3,115.9 57.3,113.7 58.3,111.3 59.2,108.7 60.2,106.6 61.2,104.2 62.2,102.1 63.2,99.9 64.2,98.0 65.2,96.4 66.1,95.1 67.1,94.4 68.1,94.1 69.1,94.4 70.1,95.5 71.1,98.5 72.1,102.4 73.0,107.2 74.0,112.3 75.0,117.3 76.0,122.1 77.0,126.3 78.0,130.2 79.0,133.4 79.9,136.0 80.9,138.2 81.9,140.1 82.9,141.9 83.9,143.2 84.9,144.6 85.9,145.8 86.8,146.7 87.8,147.8 88.8,148.6 89.8,149.5 90.8,150.3 91.8,151.1 92.8,151.8 93.7,152.5 94.7,153.1 95.7,153.7 96.7,154.2 97.7,154.6 98.7,155.0 99.7,155.2 100.7,155.4 101.6,155.2 102.6,155.0 103.6,154.6 104.6,154.2 105.6,153.7 106.6,153.1 107.6,152.5 108.5,151.8 109.5,151.1 110.5,150.3 111.5,149.5 112.5,148.7 113.5,147.9 114.5,147.0 115.4,146.0 116.4,144.9 117.4,143.6 118.4,142.6 119.4,141.5 120.4,140.6 121.4,139.0 122.3,136.9 123.3,133.8 124.3,130.0 125.3,125.0 126.3,118.8 127.3,112.4 128.3,106.6 129.2,102.7 130.2,101.3 131.2,101.2 132.2,101.6 133.2,102.2 134.2,102.5 135.2,102.0 136.1,100.9 137.1,99.2 138.1,97.1 139.1,96.2 140.1,96.5 141.1,98.0 142.1,99.9 143.0,102.2 144.0,104.8 145.0,107.3 146.0,110.3 147.0,113.0 148.0,115.6 149.0,117.9 150.0,119.7 150.9,121.4 151.9,122.7 152.9,123.8 153.9,124.3 154.9,124.9 155.9,125.1 156.9,125.4 157.8,125.6 158.8,125.5 159.8,125.7 160.8,125.8 161.8,125.8 162.8,125.6 163.8,125.3 164.7,125.0 165.7,124.9 166.7,125.1 167.7,125.2 168.7,125.4 169.7,125.4 170.7,125.5 171.6,125.4 172.6,125.5 173.6,125.5 174.6,125.5V480H26.7Z" fill="url(#g11)"/>
<path d="M26.7,119.1 27.7,118.8 28.7,118.9 29.7,118.6 30.6,118.8 31.6,118.8 32.6,119.0 33.6,119.2 34.6,119.3 35.6,119.8 36.6,119.9 37.5,120.1 38.5,120.5 39.5,120.7 40.5,120.9 41.5,121.3 42.5,121.8 43.5,121.8 44.4,122.3 45.4,122.2 46.4,121.9 47.4,121.6 48.4,120.7 49.4,120.1 50.4,119.1 51.3,118.1 52.3,116.8 53.3,115.0 54.3,113.3 55.3,111.2 56.3,108.8 57.3,106.5 58.3,104.0 59.2,101.4 60.2,99.3 61.2,96.9 62.2,94.8 63.2,92.8 64.2,91.0 65.2,89.6 66.1,88.5 67.1,88.0 68.1,87.9 69.1,88.2 70.1,89.4 71.1,92.0 72.1,95.7 73.0,100.2 74.0,105.3 75.0,110.2 76.0,115.1 77.0,119.6 78.0,123.6 79.0,127.4 79.9,130.4 80.9,132.9 81.9,135.1 82.9,136.8 83.9,138.3 84.9,139.9 85.9,141.4 86.8,142.5 87.8,143.7 88.8,144.4 89.8,145.3 90.8,146.1 91.8,146.9 92.8,147.7 93.7,148.3 94.7,149.0 95.7,149.5 96.7,150.0 97.7,150.5 98.7,150.8 99.7,151.1 100.7,151.2 101.6,151.1 102.6,150.8 103.6,150.5 104.6,150.0 105.6,149.5 106.6,149.0 107.6,148.4 108.5,147.7 109.5,147.0 110.5,146.2 111.5,145.4 112.5,144.5 113.5,143.7 114.5,142.9 115.4,142.1 116.4,140.8 117.4,139.4 118.4,138.4 119.4,137.2 120.4,136.0 121.4,134.2 122.3,131.3 123.3,127.1 124.3,121.5 125.3,114.6 126.3,106.7 127.3,99.3 128.3,93.7 129.2,90.9 130.2,90.3 131.2,90.7 132.2,91.4 133.2,92.0 134.2,92.2 135.2,91.2 136.1,89.5 137.1,87.5 138.1,85.4 139.1,84.5 140.1,85.0 141.1,86.7 142.1,88.9 143.0,91.5 144.0,94.6 145.0,97.8 146.0,101.5 147.0,104.7 148.0,107.9 149.0,110.5 150.0,112.7 150.9,114.6 151.9,116.6 152.9,118.2 153.9,119.0 154.9,120.1 155.9,120.3 156.9,120.8 157.8,121.2 158.8,121.1 159.8,121.6 160.8,121.6 161.8,121.8 162.8,121.8 163.8,121.5 164.7,121.2 165.7,121.1 166.7,121.1 167.7,121.0 168.7,121.2 169.7,121.3 170.7,121.4 171.6,121.5 172.6,121.6 173.6,121.4 174.6,121.5" fill="none" stroke="#000" stroke-width="1.05"/>
<path d="M26.7,128.9 27.7,129.2 28.7,129.5 29.7,129.6 30.6,129.6 31.6,129.7 32.6,129.6 33.6,129.6 34.6,129.6 35.6,129.3 36.6,129.5 37.5,129.5 38.5,129.4 39.5,129.6 40.5,129.6 41.5,129.8 42.5,130.3 43.5,130.6 44.4,131.1 45.4,131.4 46.4,131.4 47.4,131.2 48.4,131.2 49.4,130.8 50.4,130.4 51.3,129.5 52.3,128.2 53.3,127.2 54.3,125.9 55.3,124.8 56.3,123.1 57.3,121.0 58.3,118.6 59.2,116.1 60.2,113.9 61.2,111.5 62.2,109.4 63.2,107.1 64.2,104.9 65.2,103.2 66.1,101.8 67.1,100.8 68.1,100.4 69.1,100.5 70.1,101.6 71.1,105.0 72.1,109.2 73.0,114.2 74.0,119.4 75.0,124.3 76.0,129.1 77.0,133.1 78.0,136.8 79.0,139.4 79.9,141.5 80.9,143.5 81.9,145.1 82.9,146.9 83.9,148.1 84.9,149.2 85.9,150.2 86.8,150.9 87.8,151.8 88.8,152.8 89.8,153.6 90.8,154.5 91.8,155.2 92.8,156.0 93.7,156.7 94.7,157.3 95.7,157.8 96.7,158.3 97.7,158.8 98.7,159.1 99.7,159.4 100.7,159.5 101.6,159.4 102.6,159.1 103.6,158.8 104.6,158.4 105.6,157.9 106.6,157.3 107.6,156.7 108.5,156.0 109.5,155.3 110.5,154.5 111.5,153.7 112.5,152.8 113.5,152.1 114.5,151.0 115.4,150.0 116.4,149.0 117.4,147.8 118.4,146.8 119.4,145.9 120.4,145.1 121.4,143.8 122.3,142.5 123.3,140.6 124.3,138.4 125.3,135.4 126.3,130.8 127.3,125.5 128.3,119.5 129.2,114.6 130.2,112.4 131.2,111.6 132.2,111.7 133.2,112.4 134.2,112.9 135.2,112.9 136.1,112.3 137.1,110.8 138.1,108.9 139.1,107.9 140.1,107.9 141.1,109.4 142.1,110.9 143.0,112.8 144.0,115.0 145.0,116.8 146.0,119.2 147.0,121.3 148.0,123.4 149.0,125.4 150.0,126.8 150.9,128.1 151.9,128.9 152.9,129.3 153.9,129.6 154.9,129.6 155.9,129.9 156.9,129.9 157.8,130.0 158.8,130.0 159.8,129.7 160.8,129.9 161.8,129.8 162.8,129.4 163.8,129.2 164.7,128.8 165.7,128.8 166.7,129.2 167.7,129.4 168.7,129.6 169.7,129.5 170.7,129.5 171.6,129.4 172.6,129.4 173.6,129.7 174.6,129.5V480H26.7Z" fill="url(#g11)"/>
<path d="M26.7,132.7 27.7,132.9 28.7,133.3 29.7,133.6 30.6,133.9 31.6,134.1 32.6,134.2 33.6,134.3 34.6,134.4 35.6,134.5 36.6,134.7 37.5,134.7 38.5,134.8 39.5,135.0 40.5,135.1 41.5,135.3 42.5,135.8 43.5,136.2 44.4,136.7 45.4,137.0 46.4,136.9 47.4,136.8 48.4,136.6 49.4,136.2 50.4,135.9 51.3,135.3 52.3,134.5 53.3,133.8 54.3,133.1 55.3,132.4 56.3,131.2 57.3,129.9 58.3,128.6 59.2,127.2 60.2,126.2 61.2,125.0 62.2,123.7 63.2,122.2 64.2,120.3 65.2,118.1 66.1,115.5 67.1,112.3 68.1,109.2 69.1,106.6 70.1,105.2 71.1,106.4 72.1,110.2 73.0,116.7 74.0,124.0 75.0,130.6 76.0,136.0 77.0,139.8 78.0,142.9 79.0,145.0 79.9,146.8 80.9,148.4 81.9,149.7 82.9,151.1 83.9,152.2 84.9,153.3 85.9,154.3 86.8,155.0 87.8,156.0 88.8,156.9 89.8,157.8 90.8,158.6 91.8,159.4 92.8,160.2 93.7,160.8 94.7,161.5 95.7,162.0 96.7,162.5 97.7,162.9 98.7,163.3 99.7,163.6 100.7,163.7 101.6,163.6 102.6,163.3 103.6,162.9 104.6,162.5 105.6,162.0 106.6,161.5 107.6,160.9 108.5,160.2 109.5,159.5 110.5,158.7 111.5,157.9 112.5,157.0 113.5,156.2 114.5,155.2 115.4,154.3 116.4,153.3 117.4,152.2 118.4,151.2 119.4,150.1 120.4,149.1 121.4,147.9 122.3,146.2 123.3,144.1 124.3,141.6 125.3,138.3 126.3,133.9 127.3,128.8 128.3,123.3 129.2,118.4 130.2,115.5 131.2,114.2 132.2,114.1 133.2,114.6 134.2,115.2 135.2,116.1 136.1,116.7 137.1,117.1 138.1,117.3 139.1,117.9 140.1,119.1 141.1,120.6 142.1,122.2 143.0,124.0 144.0,125.6 145.0,126.9 146.0,128.3 147.0,129.4 148.0,130.6 149.0,131.8 150.0,132.8 150.9,133.7 151.9,134.2 152.9,134.6 153.9,134.8 154.9,134.9 155.9,135.3 156.9,135.1 157.8,135.3 158.8,135.2 159.8,134.9 160.8,134.8 161.8,134.6 162.8,134.4 163.8,134.2 164.7,133.9 165.7,133.7 166.7,133.8 167.7,134.0 168.7,134.0 169.7,133.8 170.7,133.9 171.6,133.7 172.6,133.7 173.6,133.9 174.6,133.6V480H26.7Z" fill="url(#g12)"/>
<path d="M26.7,128.9 27.7,129.2 28.7,129.5 29.7,129.6 30.6,129.6 31.6,129.7 32.6,129.6 33.6,129.6 34.6,129.6 35.6,129.3 36.6,129.5 37.5,129.5 38.5,129.4 39.5,129.6 40.5,129.6 41.5,129.8 42.5,130.3 43.5,130.6 44.4,131.1 45.4,131.4 46.4,131.4 47.4,131.2 48.4,131.2 49.4,130.8 50.4,130.4 51.3,129.5 52.3,128.2 53.3,127.2 54.3,125.9 55.3,124.8 56.3,123.1 57.3,121.0 58.3,118.6 59.2,116.1 60.2,113.9 61.2,111.5 62.2,109.4 63.2,107.1 64.2,104.9 65.2,103.2 66.1,101.8 67.1,100.8 68.1,100.4 69.1,100.5 70.1,101.6 71.1,105.0 72.1,109.2 73.0,114.2 74.0,119.4 75.0,124.3 76.0,129.1 77.0,133.1 78.0,136.8 79.0,139.4 79.9,141.5 80.9,143.5 81.9,145.1 82.9,146.9 83.9,148.1 84.9,149.2 85.9,150.2 86.8,150.9 87.8,151.8 88.8,152.8 89.8,153.6 90.8,154.5 91.8,155.2 92.8,156.0 93.7,156.7 94.7,157.3 95.7,157.8 96.7,158.3 97.7,158.8 98.7,159.1 99.7,159.4 100.7,159.5 101.6,159.4 102.6,159.1 103.6,158.8 104.6,158.4 105.6,157.9 106.6,157.3 107.6,156.7 108.5,156.0 109.5,155.3 110.5,154.5 111.5,153.7 112.5,152.8 113.5,152.1 114.5,151.0 115.4,150.0 116.4,149.0 117.4,147.8 118.4,146.8 119.4,145.9 120.4,145.1 121.4,143.8 122.3,142.5 123.3,140.6 124.3,138.4 125.3,135.4 126.3,130.8 127.3,125.5 128.3,119.5 129.2,114.6 130.2,112.4 131.2,111.6 132.2,111.7 133.2,112.4 134.2,112.9 135.2,112.9 136.1,112.3 137.1,110.8 138.1,108.9 139.1,107.9 140.1,107.9 141.1,109.4 142.1,110.9 143.0,112.8 144.0,115.0 145.0,116.8 146.0,119.2 147.0,121.3 148.0,123.4 149.0,125.4 150.0,126.8 150.9,128.1 151.9,128.9 152.9,129.3 153.9,129.6 154.9,129.6 155.9,129.9 156.9,129.9 157.8,130.0 158.8,130.0 159.8,129.7 160.8,129.9 161.8,129.8 162.8,129.4 163.8,129.2 164.7,128.8 165.7,128.8 166.7,129.2 167.7,129.4 168.7,129.6 169.7,129.5 170.7,129.5 171.6,129.4 172.6,129.4 173.6,129.7 174.6,129.5" fill="none" stroke="#000" stroke-width="1.05"/>
<path d="M26.7,136.4 27.7,136.5 28.7,137.1 29.7,137.6 30.6,138.2 31.6,138.6 32.6,138.8 33.6,139.1 34.6,139.2 35.6,139.6 36.6,139.9 37.5,140.0 38.5,140.2 39.5,140.4 40.5,140.6 41.5,140.8 42.5,141.4 43.5,141.8 44.4,142.2 45.4,142.5 46.4,142.3 47.4,142.4 48.4,142.0 49.4,141.6 50.4,141.4 51.3,141.1 52.3,140.7 53.3,140.5 54.3,140.4 55.3,140.0 56.3,139.4 57.3,138.8 58.3,138.6 59.2,138.3 60.2,138.5 61.2,138.5 62.2,137.9 63.2,137.3 64.2,135.6 65.2,133.1 66.1,129.2 67.1,123.9 68.1,118.1 69.1,112.6 70.1,108.7 71.1,107.8 72.1,111.3 73.0,119.2 74.0,128.5 75.0,136.8 76.0,142.8 77.0,146.5 78.0,149.0 79.0,150.7 79.9,152.1 80.9,153.2 81.9,154.2 82.9,155.4 83.9,156.3 84.9,157.4 85.9,158.5 86.8,159.1 87.8,160.1 88.8,161.1 89.8,162.0 90.8,162.8 91.8,163.6 92.8,164.3 93.7,165.0 94.7,165.6 95.7,166.2 96.7,166.7 97.7,167.1 98.7,167.5 99.7,167.7 100.7,167.8 101.6,167.7 102.6,167.5 103.6,167.1 104.6,166.7 105.6,166.2 106.6,165.6 107.6,165.0 108.5,164.4 109.5,163.6 110.5,162.9 111.5,162.1 112.5,161.2 113.5,160.2 114.5,159.4 115.4,158.6 116.4,157.6 117.4,156.6 118.4,155.6 119.4,154.3 120.4,153.2 121.4,151.9 122.3,150.0 123.3,147.7 124.3,144.8 125.3,141.1 126.3,137.0 127.3,132.2 128.3,127.0 129.2,122.2 130.2,118.7 131.2,116.8 132.2,116.4 133.2,116.9 134.2,117.6 135.2,119.2 136.1,121.1 137.1,123.4 138.1,125.8 139.1,127.9 140.1,130.2 141.1,131.8 142.1,133.6 143.0,135.2 144.0,136.2 145.0,137.1 146.0,137.5 147.0,137.5 148.0,137.7 149.0,138.2 150.0,138.8 150.9,139.2 151.9,139.6 152.9,139.9 153.9,140.1 154.9,140.1 155.9,140.6 156.9,140.4 157.8,140.5 158.8,140.5 159.8,140.0 160.8,139.8 161.8,139.5 162.8,139.3 163.8,139.1 164.7,138.9 165.7,138.5 166.7,138.4 167.7,138.5 168.7,138.4 169.7,138.1 170.7,138.2 171.6,138.0 172.6,137.9 173.6,138.2 174.6,137.7V480H26.7Z" fill="url(#g12)"/>
<path d="M26.7,140.1 27.7,140.2 28.7,140.4 29.7,140.5 30.6,140.8 31.6,141.0 32.6,141.2 33.6,141.5 34.6,141.8 35.6,142.1 36.6,142.5 37.5,142.7 38.5,143.1 39.5,143.3 40.5,143.7 41.5,144.2 42.5,144.8 43.5,145.3 44.4,145.7 45.4,146.1 46.4,146.4 47.4,146.6 48.4,146.4 49.4,146.0 50.4,145.6 51.3,144.9 52.3,144.3 53.3,143.6 54.3,142.8 55.3,141.7 56.3,140.5 57.3,139.1 58.3,137.8 59.2,136.6 60.2,135.4 61.2,134.2 62.2,132.8 63.2,131.5 64.2,129.9 65.2,128.2 66.1,126.1 67.1,123.5 68.1,121.3 69.1,120.0 70.1,119.9 71.1,121.8 72.1,125.7 73.0,131.8 74.0,138.3 75.0,143.8 76.0,148.2 77.0,151.0 78.0,153.1 79.0,154.7 79.9,156.1 80.9,157.2 81.9,158.3 82.9,159.3 83.9,160.3 84.9,161.3 85.9,162.5 86.8,163.4 87.8,164.4 88.8,165.3 89.8,166.2 90.8,167.0 91.8,167.8 92.8,168.5 93.7,169.2 94.7,169.8 95.7,170.4 96.7,170.9 97.7,171.3 98.7,171.6 99.7,171.9 100.7,172.0 101.6,171.9 102.6,171.6 103.6,171.3 104.6,170.9 105.6,170.4 106.6,169.8 107.6,169.2 108.5,168.6 109.5,167.8 110.5,167.1 111.5,166.3 112.5,165.4 113.5,164.3 114.5,163.4 115.4,162.7 116.4,161.8 117.4,160.7 118.4,159.8 119.4,158.5 120.4,157.2 121.4,156.1 122.3,154.3 123.3,152.4 124.3,150.3 125.3,147.2 126.3,143.6 127.3,139.3 128.3,134.5 129.2,129.8 130.2,126.0 131.2,123.7 132.2,122.8 133.2,122.9 134.2,123.5 135.2,124.6 136.1,126.1 137.1,127.9 138.1,129.8 139.1,131.8 140.1,133.7 141.1,135.3 142.1,137.0 143.0,138.6 144.0,139.7 145.0,140.7 146.0,141.1 147.0,141.4 148.0,141.4 149.0,141.8 150.0,142.2 150.9,142.5 151.9,142.9 152.9,143.0 153.9,143.1 154.9,143.0 155.9,143.2 156.9,143.2 157.8,143.4 158.8,143.5 159.8,143.5 160.8,143.4 161.8,143.2 162.8,143.1 163.8,142.9 164.7,142.9 165.7,142.7 166.7,142.7 167.7,143.0 168.7,143.0 169.7,143.0 170.7,143.0 171.6,142.8 172.6,142.7 173.6,142.8 174.6,142.6V480H26.7Z" fill="url(#g13)"/>
<path d="M26.7,136.4 27.7,136.5 28.7,137.1 29.7,137.6 30.6,138.2 31.6,138.6 32.6,138.8 33.6,139.1 34.6,139.2 35.6,139.6 36.6,139.9 37.5,140.0 38.5,140.2 39.5,140.4 40.5,140.6 41.5,140.8 42.5,141.4 43.5,141.8 44.4,142.2 45.4,142.5 46.4,142.3 47.4,142.4 48.4,142.0 49.4,141.6 50.4,141.4 51.3,141.1 52.3,140.7 53.3,140.5 54.3,140.4 55.3,140.0 56.3,139.4 57.3,138.8 58.3,138.6 59.2,138.3 60.2,138.5 61.2,138.5 62.2,137.9 63.2,137.3 64.2,135.6 65.2,133.1 66.1,129.2 67.1,123.9 68.1,118.1 69.1,112.6 70.1,108.7 71.1,107.8 72.1,111.3 73.0,119.2 74.0,128.5 75.0,136.8 76.0,142.8 77.0,146.5 78.0,149.0 79.0,150.7 79.9,152.1 80.9,153.2 81.9,154.2 82.9,155.4 83.9,156.3 84.9,157.4 85.9,158.5 86.8,159.1 87.8,160.1 88.8,161.1 89.8,162.0 90.8,162.8 91.8,163.6 92.8,164.3 93.7,165.0 94.7,165.6 95.7,166.2 96.7,166.7 97.7,167.1 98.7,167.5 99.7,167.7 100.7,167.8 101.6,167.7 102.6,167.5 103.6,167.1 104.6,166.7 105.6,166.2 106.6,165.6 107.6,165.0 108.5,164.4 109.5,163.6 110.5,162.9 111.5,162.1 112.5,161.2 113.5,160.2 114.5,159.4 115.4,158.6 116.4,157.6 117.4,156.6 118.4,155.6 119.4,154.3 120.4,153.2 121.4,151.9 122.3,150.0 123.3,147.7 124.3,144.8 125.3,141.1 126.3,137.0 127.3,132.2 128.3,127.0 129.2,122.2 130.2,118.7 131.2,116.8 132.2,116.4 133.2,116.9 134.2,117.6 135.2,119.2 136.1,121.1 137.1,123.4 138.1,125.8 139.1,127.9 140.1,130.2 141.1,131.8 142.1,133.6 143.0,135.2 144.0,136.2 145.0,137.1 146.0,137.5 147.0,137.5 148.0,137.7 149.0,138.2 150.0,138.8 150.9,139.2 151.9,139.6 152.9,139.9 153.9,140.1 154.9,140.1 155.9,140.6 156.9,140.4 157.8,140.5 158.8,140.5 159.8,140.0 160.8,139.8 161.8,139.5 162.8,139.3 163.8,139.1 164.7,138.9 165.7,138.5 166.7,138.4 167.7,138.5 168.7,138.4 169.7,138.1 170.7,138.2 171.6,138.0 172.6,137.9 173.6,138.2 174.6,137.7" fill="none" stroke="#000" stroke-width="1.05"/>
<path d="M26.7,143.9 27.7,143.8 28.7,143.7 29.7,143.5 30.6,143.4 31.6,143.5 32.6,143.7 33.6,144.0 34.6,144.3 35.6,144.7 36.6,145.2 37.5,145.5 38.5,146.0 39.5,146.3 40.5,146.9 41.5,147.6 42.5,148.2 43.5,148.8 44.4,149.3 45.4,149.8 46.4,150.4 47.4,150.8 48.4,150.7 49.4,150.3 50.4,149.7 51.3,148.7 52.3,147.9 53.3,146.7 54.3,145.2 55.3,143.5 56.3,141.6 57.3,139.4 58.3,137.0 59.2,134.8 60.2,132.2 61.2,129.9 62.2,127.6 63.2,125.7 64.2,124.2 65.2,123.3 66.1,123.0 67.1,123.2 68.1,124.6 69.1,127.4 70.1,131.1 71.1,135.8 72.1,140.1 73.0,144.5 74.0,148.1 75.0,150.9 76.0,153.5 77.0,155.5 78.0,157.2 79.0,158.8 79.9,160.0 80.9,161.2 81.9,162.3 82.9,163.2 83.9,164.3 84.9,165.3 85.9,166.5 86.8,167.6 87.8,168.7 88.8,169.6 89.8,170.4 90.8,171.2 91.8,172.0 92.8,172.7 93.7,173.4 94.7,174.0 95.7,174.6 96.7,175.0 97.7,175.5 98.7,175.8 99.7,176.0 100.7,176.2 101.6,176.0 102.6,175.8 103.6,175.5 104.6,175.0 105.6,174.6 106.6,174.0 107.6,173.4 108.5,172.8 109.5,172.0 110.5,171.3 111.5,170.5 112.5,169.6 113.5,168.4 114.5,167.4 115.4,166.7 116.4,166.0 117.4,164.9 118.4,164.0 119.4,162.8 120.4,161.3 121.4,160.2 122.3,158.7 123.3,157.1 124.3,155.8 125.3,153.4 126.3,150.2 127.3,146.5 128.3,142.0 129.2,137.4 130.2,133.4 131.2,130.5 132.2,129.2 133.2,128.9 134.2,129.3 135.2,129.9 136.1,131.0 137.1,132.5 138.1,133.9 139.1,135.6 140.1,137.3 141.1,138.8 142.1,140.5 143.0,142.0 144.0,143.3 145.0,144.2 146.0,144.7 147.0,145.2 148.0,145.2 149.0,145.4 150.0,145.7 150.9,145.8 151.9,146.2 152.9,146.0 153.9,146.1 154.9,145.9 155.9,145.8 156.9,146.1 157.8,146.3 158.8,146.6 159.8,146.9 160.8,147.1 161.8,146.9 162.8,146.8 163.8,146.6 164.7,146.8 165.7,146.8 166.7,146.9 167.7,147.5 168.7,147.5 169.7,147.8 170.7,147.7 171.6,147.5 172.6,147.5 173.6,147.3 174.6,147.5V480H26.7Z" fill="url(#g13)"/>
<path d="M26.7,148.1 27.7,148.2 28.7,148.2 29.7,148.1 30.6,148.2 31.6,148.3 32.6,148.4 33.6,148.7 34.6,148.8 35.6,149.0 36.6,149.4 37.5,149.7 38.5,150.1 39.5,150.4 40.5,150.8 41.5,151.3 42.5,151.7 43.5,152.1 44.4,152.5 45.4,152.8 46.4,153.1 47.4,153.2 48.4,153.2 49.4,152.8 50.4,152.2 51.3,151.4 52.3,150.4 53.3,149.2 54.3,148.0 55.3,146.5 56.3,144.8 57.3,143.0 58.3,141.0 59.2,139.3 60.2,137.4 61.2,135.6 62.2,134.1 63.2,132.7 64.2,131.7 65.2,131.4 66.1,131.7 67.1,132.6 68.1,134.4 69.1,137.0 70.1,140.1 71.1,143.9 72.1,147.6 73.0,150.9 74.0,154.0 75.0,156.2 76.0,158.4 77.0,160.0 78.0,161.5 79.0,162.9 79.9,164.2 80.9,165.6 81.9,166.9 82.9,168.0 83.9,168.9 84.9,169.8 85.9,170.9 86.8,171.8 87.8,172.9 88.8,173.8 89.8,174.7 90.8,175.5 91.8,176.2 92.8,176.9 93.7,177.6 94.7,178.2 95.7,178.8 96.7,179.2 97.7,179.6 98.7,180.0 99.7,180.2 100.7,180.3 101.6,180.2 102.6,180.0 103.6,179.6 104.6,179.2 105.6,178.8 106.6,178.2 107.6,177.6 108.5,177.0 109.5,176.3 110.5,175.5 111.5,174.7 112.5,173.9 113.5,172.6 114.5,171.6 115.4,170.9 116.4,170.3 117.4,169.2 118.4,168.2 119.4,166.9 120.4,165.5 121.4,164.4 122.3,163.0 123.3,161.7 124.3,160.4 125.3,158.4 126.3,156.2 127.3,153.4 128.3,150.1 129.2,146.7 130.2,143.4 131.2,140.6 132.2,138.7 133.2,137.5 134.2,136.7 135.2,136.7 136.1,137.1 137.1,137.9 138.1,139.1 139.1,140.1 140.1,141.3 141.1,142.4 142.1,143.7 143.0,145.1 144.0,146.4 145.0,147.4 146.0,148.2 147.0,148.8 148.0,149.0 149.0,149.3 150.0,149.6 150.9,150.0 151.9,150.5 152.9,151.0 153.9,151.4 154.9,151.5 155.9,151.8 156.9,152.1 157.8,152.3 158.8,152.6 159.8,152.8 160.8,152.9 161.8,152.8 162.8,152.8 163.8,152.5 164.7,152.5 165.7,152.4 166.7,152.1 167.7,152.4 168.7,152.1 169.7,152.0 170.7,151.9 171.6,151.5 172.6,151.4 173.6,151.1 174.6,151.0V480H26.7Z" fill="url(#g14)"/>
<path d="M26.7,143.9 27.7,143.8 28.7,143.7 29.7,143.5 30.6,143.4 31.6,143.5 32.6,143.7 33.6,144.0 34.6,144.3 35.6,144.7 36.6,145.2 37.5,145.5 38.5,146.0 39.5,146.3 40.5,146.9 41.5,147.6 42.5,148.2 43.5,148.8 44.4,149.3 45.4,149.8 46.4,150.4 47.4,150.8 48.4,150.7 49.4,150.3 50.4,149.7 51.3,148.7 52.3,147.9 53.3,146.7 54.3,145.2 55.3,143.5 56.3,141.6 57.3,139.4 58.3,137.0 59.2,134.8 60.2,132.2 61.2,129.9 62.2,127.6 63.2,125.7 64.2,124.2 65.2,123.3 66.1,123.0 67.1,123.2 68.1,124.6 69.1,127.4 70.1,131.1 71.1,135.8 72.1,140.1 73.0,144.5 74.0,148.1 75.0,150.9 76.0,153.5 77.0,155.5 78.0,157.2 79.0,158.8 79.9,160.0 80.9,161.2 81.9,162.3 82.9,163.2 83.9,164.3 84.9,165.3 85.9,166.5 86.8,167.6 87.8,168.7 88.8,169.6 89.8,170.4 90.8,171.2 91.8,172.0 92.8,172.7 93.7,173.4 94.7,174.0 95.7,174.6 96.7,175.0 97.7,175.5 98.7,175.8 99.7,176.0 100.7,176.2 101.6,176.0 102.6,175.8 103.6,175.5 104.6,175.0 105.6,174.6 106.6,174.0 107.6,173.4 108.5,172.8 109.5,172.0 110.5,171.3 111.5,170.5 112.5,169.6 113.5,168.4 114.5,167.4 115.4,166.7 116.4,166.0 117.4,164.9 118.4,164.0 119.4,162.8 120.4,161.3 121.4,160.2 122.3,158.7 123.3,157.1 124.3,155.8 125.3,153.4 126.3,150.2 127.3,146.5 128.3,142.0 129.2,137.4 130.2,133.4 131.2,130.5 132.2,129.2 133.2,128.9 134.2,129.3 135.2,129.9 136.1,131.0 137.1,132.5 138.1,133.9 139.1,135.6 140.1,137.3 141.1,138.8 142.1,140.5 143.0,142.0 144.0,143.3 145.0,144.2 146.0,144.7 147.0,145.2 148.0,145.2 149.0,145.4 150.0,145.7 150.9,145.8 151.9,146.2 152.9,146.0 153.9,146.1 154.9,145.9 155.9,145.8 156.9,146.1 157.8,146.3 158.8,146.6 159.8,146.9 160.8,147.1 161.8,146.9 162.8,146.8 163.8,146.6 164.7,146.8 165.7,146.8 166.7,146.9 167.7,147.5 168.7,147.5 169.7,147.8 170.7,147.7 171.6,147.5 172.6,147.5 173.6,147.3 174.6,147.5" fill="none" stroke="#000" stroke-width="1.05"/>
<path d="M26.7,152.3 27.7,152.6 28.7,152.7 29.7,152.8 30.6,153.0 31.6,153.1 32.6,153.2 33.6,153.3 34.6,153.3 35.6,153.4 36.6,153.7 37.5,154.0 38.5,154.3 39.5,154.5 40.5,154.6 41.5,154.9 42.5,155.2 43.5,155.4 44.4,155.7 45.4,155.8 46.4,155.8 47.4,155.7 48.4,155.7 49.4,155.4 50.4,154.6 51.3,154.1 52.3,153.0 53.3,151.7 54.3,150.8 55.3,149.5 56.3,148.0 57.3,146.7 58.3,145.0 59.2,143.7 60.2,142.7 61.2,141.4 62.2,140.7 63.2,139.8 64.2,139.3 65.2,139.5 66.1,140.4 67.1,142.0 68.1,144.1 69.1,146.7 70.1,149.0 71.1,152.1 72.1,155.0 73.0,157.4 74.0,159.9 75.0,161.6 76.0,163.3 77.0,164.5 78.0,165.8 79.0,167.0 79.9,168.3 80.9,170.1 81.9,171.5 82.9,172.8 83.9,173.6 84.9,174.4 85.9,175.2 86.8,176.1 87.8,177.2 88.8,178.0 89.8,178.9 90.8,179.7 91.8,180.5 92.8,181.2 93.7,181.8 94.7,182.4 95.7,183.0 96.7,183.4 97.7,183.8 98.7,184.1 99.7,184.4 100.7,184.5 101.6,184.4 102.6,184.1 103.6,183.8 104.6,183.4 105.6,183.0 106.6,182.4 107.6,181.8 108.5,181.2 109.5,180.5 110.5,179.7 111.5,178.9 112.5,178.1 113.5,176.7 114.5,175.8 115.4,175.1 116.4,174.5 117.4,173.5 118.4,172.4 119.4,171.1 120.4,169.8 121.4,168.6 122.3,167.3 123.3,166.3 124.3,165.0 125.3,163.4 126.3,162.1 127.3,160.4 128.3,158.2 129.2,156.1 130.2,153.5 131.2,150.7 132.2,148.3 133.2,146.1 134.2,144.2 135.2,143.5 136.1,143.2 137.1,143.4 138.1,144.2 139.1,144.5 140.1,145.2 141.1,146.1 142.1,146.9 143.0,148.2 144.0,149.4 145.0,150.5 146.0,151.7 147.0,152.3 148.0,152.8 149.0,153.2 150.0,153.5 150.9,154.2 151.9,154.9 152.9,156.0 153.9,156.6 154.9,157.1 155.9,157.9 156.9,158.1 157.8,158.4 158.8,158.6 159.8,158.7 160.8,158.6 161.8,158.6 162.8,158.7 163.8,158.3 164.7,158.2 165.7,158.0 166.7,157.4 167.7,157.2 168.7,156.6 169.7,156.3 170.7,156.1 171.6,155.6 172.6,155.3 173.6,154.9 174.6,154.6V480H26.7Z" fill="url(#g14)"/>
<path d="M26.7,156.9 27.7,156.9 28.7,157.0 29.7,157.0 30.6,157.0 31.6,157.2 32.6,157.6 33.6,157.8 34.6,158.0 35.6,158.2 36.6,158.4 37.5,158.9 38.5,159.2 39.5,159.5 40.5,159.8 41.5,160.2 42.5,160.6 43.5,160.9 44.4,161.2 45.4,161.2 46.4,161.4 47.4,161.4 48.4,161.2 49.4,161.1 50.4,160.5 51.3,160.0 52.3,159.1 53.3,157.9 54.3,157.0 55.3,155.8 56.3,154.4 57.3,153.3 58.3,152.0 59.2,151.1 60.2,150.4 61.2,149.7 62.2,149.3 63.2,148.8 64.2,148.7 65.2,148.9 66.1,149.8 67.1,151.2 68.1,152.9 69.1,154.9 70.1,156.8 71.1,158.9 72.1,161.0 73.0,162.8 74.0,164.8 75.0,166.2 76.0,167.6 77.0,168.8 78.0,169.9 79.0,171.3 79.9,172.6 80.9,174.1 81.9,175.4 82.9,176.4 83.9,177.5 84.9,178.3 85.9,179.2 86.8,180.2 87.8,181.2 88.8,182.3 89.8,183.2 90.8,184.0 91.8,184.7 92.8,185.4 93.7,186.1 94.7,186.7 95.7,187.2 96.7,187.6 97.7,188.0 98.7,188.3 99.7,188.5 100.7,188.6 101.6,188.5 102.6,188.3 103.6,188.0 104.6,187.6 105.6,187.2 106.6,186.7 107.6,186.1 108.5,185.4 109.5,184.8 110.5,184.0 111.5,183.2 112.5,182.4 113.5,181.2 114.5,180.4 115.4,179.4 116.4,178.6 117.4,177.7 118.4,176.5 119.4,175.5 120.4,174.2 121.4,173.0 122.3,171.9 123.3,170.7 124.3,169.3 125.3,167.9 126.3,166.5 127.3,165.0 128.3,163.2 129.2,161.2 130.2,158.8 131.2,156.0 132.2,153.3 133.2,150.6 134.2,148.2 135.2,146.7 136.1,145.7 137.1,145.6 138.1,145.9 139.1,146.2 140.1,147.0 141.1,147.8 142.1,148.8 143.0,150.2 144.0,151.4 145.0,152.5 146.0,153.6 147.0,154.6 148.0,155.5 149.0,156.4 150.0,157.1 150.9,158.0 151.9,158.9 152.9,159.6 153.9,160.2 154.9,160.7 155.9,161.1 156.9,161.3 157.8,161.6 158.8,161.7 159.8,161.9 160.8,162.2 161.8,162.3 162.8,162.5 163.8,162.3 164.7,162.2 165.7,162.1 166.7,161.6 167.7,161.6 168.7,161.2 169.7,161.0 170.7,160.9 171.6,160.5 172.6,160.2 173.6,159.7 174.6,159.3V480H26.7Z" fill="url(#g15)"/>
<path d="M26.7,152.3 27.7,152.6 28.7,152.7 29.7,152.8 30.6,153.0 31.6,153.1 32.6,153.2 33.6,153.3 34.6,153.3 35.6,153.4 36.6,153.7 37.5,154.0 38.5,154.3 39.5,154.5 40.5,154.6 41.5,154.9 42.5,155.2 43.5,155.4 44.4,155.7 45.4,155.8 46.4,155.8 47.4,155.7 48.4,155.7 49.4,155.4 50.4,154.6 51.3,154.1 52.3,153.0 53.3,151.7 54.3,150.8 55.3,149.5 56.3,148.0 57.3,146.7 58.3,145.0 59.2,143.7 60.2,142.7 61.2,141.4 62.2,140.7 63.2,139.8 64.2,139.3 65.2,139.5 66.1,140.4 67.1,142.0 68.1,144.1 69.1,146.7 70.1,149.0 71.1,152.1 72.1,155.0 73.0,157.4 74.0,159.9 75.0,161.6 76.0,163.3 77.0,164.5 78.0,165.8 79.0,167.0 79.9,168.3 80.9,170.1 81.9,171.5 82.9,172.8 83.9,173.6 84.9,174.4 85.9,175.2 86.8,176.1 87.8,177.2 88.8,178.0 89.8,178.9 90.8,179.7 91.8,180.5 92.8,181.2 93.7,181.8 94.7,182.4 95.7,183.0 96.7,183.4 97.7,183.8 98.7,184.1 99.7,184.4 100.7,184.5 101.6,184.4 102.6,184.1 103.6,183.8 104.6,183.4 105.6,183.0 106.6,182.4 107.6,181.8 108.5,181.2 109.5,180.5 110.5,179.7 111.5,178.9 112.5,178.1 113.5,176.7 114.5,175.8 115.4,175.1 116.4,174.5 117.4,173.5 118.4,172.4 119.4,171.1 120.4,169.8 121.4,168.6 122.3,167.3 123.3,166.3 124.3,165.0 125.3,163.4 126.3,162.1 127.3,160.4 128.3,158.2 129.2,156.1 130.2,153.5 131.2,150.7 132.2,148.3 133.2,146.1 134.2,144.2 135.2,143.5 136.1,143.2 137.1,143.4 138.1,144.2 139.1,144.5 140.1,145.2 141.1,146.1 142.1,146.9 143.0,148.2 144.0,149.4 145.0,150.5 146.0,151.7 147.0,152.3 148.0,152.8 149.0,153.2 150.0,153.5 150.9,154.2 151.9,154.9 152.9,156.0 153.9,156.6 154.9,157.1 155.9,157.9 156.9,158.1 157.8,158.4 158.8,158.6 159.8,158.7 160.8,158.6 161.8,158.6 162.8,158.7 163.8,158.3 164.7,158.2 165.7,158.0 166.7,157.4 167.7,157.2 168.7,156.6 169.7,156.3 170.7,156.1 171.6,155.6 172.6,155.3 173.6,154.9 174.6,154.6" fill="none" stroke="#000" stroke-width="1.05"/>
<path d="M26.7,161.4 27.7,161.3 28.7,161.4 29.7,161.1 30.6,161.0 31.6,161.3 32.6,162.0 33.6,162.3 34.6,162.7 35.6,163.1 36.6,163.2 37.5,163.8 38.5,164.1 39.5,164.5 40.5,164.9 41.5,165.6 42.5,166.0 43.5,166.4 44.4,166.8 45.4,166.7 46.4,167.0 47.4,167.0 48.4,166.8 49.4,166.8 50.4,166.3 51.3,165.8 52.3,165.3 53.3,164.0 54.3,163.2 55.3,162.1 56.3,160.8 57.3,160.0 58.3,159.0 59.2,158.4 60.2,158.2 61.2,158.1 62.2,157.9 63.2,157.8 64.2,158.0 65.2,158.4 66.1,159.3 67.1,160.4 68.1,161.7 69.1,163.1 70.1,164.6 71.1,165.8 72.1,167.0 73.0,168.3 74.0,169.6 75.0,170.8 76.0,172.0 77.0,173.1 78.0,174.0 79.0,175.6 79.9,176.9 80.9,178.2 81.9,179.4 82.9,180.1 83.9,181.4 84.9,182.2 85.9,183.3 86.8,184.3 87.8,185.2 88.8,186.6 89.8,187.4 90.8,188.2 91.8,189.0 92.8,189.7 93.7,190.3 94.7,190.9 95.7,191.4 96.7,191.8 97.7,192.2 98.7,192.5 99.7,192.7 100.7,192.8 101.6,192.7 102.6,192.5 103.6,192.2 104.6,191.8 105.6,191.4 106.6,190.9 107.6,190.3 108.5,189.7 109.5,189.0 110.5,188.3 111.5,187.5 112.5,186.6 113.5,185.7 114.5,184.9 115.4,183.7 116.4,182.8 117.4,181.9 118.4,180.7 119.4,179.8 120.4,178.7 121.4,177.5 122.3,176.5 123.3,175.1 124.3,173.7 125.3,172.3 126.3,171.0 127.3,169.6 128.3,168.3 129.2,166.3 130.2,164.1 131.2,161.4 132.2,158.3 133.2,155.1 134.2,152.3 135.2,149.9 136.1,148.2 137.1,147.8 138.1,147.6 139.1,147.9 140.1,148.8 141.1,149.6 142.1,150.7 143.0,152.1 144.0,153.3 145.0,154.5 146.0,155.6 147.0,156.9 148.0,158.1 149.0,159.6 150.0,160.8 150.9,161.8 151.9,162.8 152.9,163.2 153.9,163.8 154.9,164.2 155.9,164.3 156.9,164.5 157.8,164.7 158.8,164.8 159.8,165.2 160.8,165.7 161.8,166.0 162.8,166.4 163.8,166.3 164.7,166.2 165.7,166.3 166.7,165.9 167.7,165.9 168.7,165.7 169.7,165.8 170.7,165.8 171.6,165.5 172.6,165.1 173.6,164.5 174.6,164.0V480H26.7Z" fill="url(#g15)"/>
<path d="M26.7,165.4 27.7,165.2 28.7,165.2 29.7,165.0 30.6,165.0 31.6,165.1 32.6,165.6 33.6,165.7 34.6,165.9 35.6,166.1 36.6,166.2 37.5,166.5 38.5,166.8 39.5,167.2 40.5,167.6 41.5,168.1 42.5,168.6 43.5,168.8 44.4,169.2 45.4,169.1 46.4,169.2 47.4,169.2 48.4,169.0 49.4,168.8 50.4,168.4 51.3,167.7 52.3,167.0 53.3,165.9 54.3,164.9 55.3,163.9 56.3,162.8 57.3,162.0 58.3,160.9 59.2,160.2 60.2,159.6 61.2,159.5 62.2,159.5 63.2,159.6 64.2,160.2 65.2,160.9 66.1,162.0 67.1,163.5 68.1,164.9 69.1,166.6 70.1,168.0 71.1,169.4 72.1,170.9 73.0,172.2 74.0,173.8 75.0,174.9 76.0,176.1 77.0,177.3 78.0,178.2 79.0,179.8 79.9,180.9 80.9,182.3 81.9,183.6 82.9,184.5 83.9,185.7 84.9,186.5 85.9,187.5 86.8,188.6 87.8,189.7 88.8,190.9 89.8,191.7 90.8,192.5 91.8,193.3 92.8,193.9 93.7,194.6 94.7,195.1 95.7,195.6 96.7,196.1 97.7,196.4 98.7,196.7 99.7,196.9 100.7,197.0 101.6,196.9 102.6,196.7 103.6,196.4 104.6,196.1 105.6,195.6 106.6,195.1 107.6,194.6 108.5,194.0 109.5,193.3 110.5,192.6 111.5,191.8 112.5,190.9 113.5,190.0 114.5,189.2 115.4,188.2 116.4,187.1 117.4,186.1 118.4,184.8 119.4,183.8 120.4,182.7 121.4,181.6 122.3,180.5 123.3,179.4 124.3,177.8 125.3,176.5 126.3,175.3 127.3,173.9 128.3,172.6 129.2,170.8 130.2,168.8 131.2,166.3 132.2,163.2 133.2,160.0 134.2,156.9 135.2,153.8 136.1,151.4 137.1,149.9 138.1,149.0 139.1,149.0 140.1,149.5 141.1,150.2 142.1,151.2 143.0,152.6 144.0,153.9 145.0,155.4 146.0,156.7 147.0,158.2 148.0,159.8 149.0,161.3 150.0,162.6 150.9,163.7 151.9,164.7 152.9,165.5 153.9,166.2 154.9,166.7 155.9,167.0 156.9,167.3 157.8,167.5 158.8,167.8 159.8,168.0 160.8,168.3 161.8,168.6 162.8,168.8 163.8,168.9 164.7,168.9 165.7,168.9 166.7,168.7 167.7,168.8 168.7,168.8 169.7,168.6 170.7,168.6 171.6,168.3 172.6,168.1 173.6,167.9 174.6,167.6V480H26.7Z" fill="url(#g16)"/>
<path d="M26.7,161.4 27.7,161.3 28.7,161.4 29.7,161.1 30.6,161.0 31.6,161.3 32.6,162.0 33.6,162.3 34.6,162.7 35.6,163.1 36.6,163.2 37.5,163.8 38.5,164.1 39.5,164.5 40.5,164.9 41.5,165.6 42.5,166.0 43.5,166.4 44.4,166.8 45.4,166.7 46.4,167.0 47.4,167.0 48.4,166.8 49.4,166.8 50.4,166.3 51.3,165.8 52.3,165.3 53.3,164.0 54.3,163.2 55.3,162.1 56.3,160.8 57.3,160.0 58.3,159.0 59.2,158.4 60.2,158.2 61.2,158.1 62.2,157.9 63.2,157.8 64.2,158.0 65.2,158.4 66.1,159.3 67.1,160.4 68.1,161.7 69.1,163.1 70.1,164.6 71.1,165.8 72.1,167.0 73.0,168.3 74.0,169.6 75.0,170.8 76.0,172.0 77.0,173.1 78.0,174.0 79.0,175.6 79.9,176.9 80.9,178.2 81.9,179.4 82.9,180.1 83.9,181.4 84.9,182.2 85.9,183.3 86.8,184.3 87.8,185.2 88.8,186.6 89.8,187.4 90.8,188.2 91.8,189.0 92.8,189.7 93.7,190.3 94.7,190.9 95.7,191.4 96.7,191.8 97.7,192.2 98.7,192.5 99.7,192.7 100.7,192.8 101.6,192.7 102.6,192.5 103.6,192.2 104.6,191.8 105.6,191.4 106.6,190.9 107.6,190.3 108.5,189.7 109.5,189.0 110.5,188.3 111.5,187.5 112.5,186.6 113.5,185.7 114.5,184.9 115.4,183.7 116.4,182.8 117.4,181.9 118.4,180.7 119.4,179.8 120.4,178.7 121.4,177.5 122.3,176.5 123.3,175.1 124.3,173.7 125.3,172.3 126.3,171.0 127.3,169.6 128.3,168.3 129.2,166.3 130.2,164.1 131.2,161.4 132.2,158.3 133.2,155.1 134.2,152.3 135.2,149.9 136.1,148.2 137.1,147.8 138.1,147.6 139.1,147.9 140.1,148.8 141.1,149.6 142.1,150.7 143.0,152.1 144.0,153.3 145.0,154.5 146.0,155.6 147.0,156.9 148.0,158.1 149.0,159.6 150.0,160.8 150.9,161.8 151.9,162.8 152.9,163.2 153.9,163.8 154.9,164.2 155.9,164.3 156.9,164.5 157.8,164.7 158.8,164.8 159.8,165.2 160.8,165.7 161.8,166.0 162.8,166.4 163.8,166.3 164.7,166.2 165.7,166.3 166.7,165.9 167.7,165.9 168.7,165.7 169.7,165.8 170.7,165.8 171.6,165.5 172.6,165.1 173.6,164.5 174.6,164.0" fill="none" stroke="#000" stroke-width="1.05"/>
<path d="M26.7,169.3 27.7,169.2 28.7,169.0 29.7,168.9 30.6,169.0 31.6,169.0 32.6,169.2 33.6,169.2 34.6,169.2 35.6,169.0 36.6,169.2 37.5,169.2 38.5,169.5 39.5,170.0 40.5,170.3 41.5,170.7 42.5,171.1 43.5,171.3 44.4,171.6 45.4,171.6 46.4,171.4 47.4,171.4 48.4,171.1 49.4,170.9 50.4,170.5 51.3,169.7 52.3,168.8 53.3,167.7 54.3,166.5 55.3,165.7 56.3,164.7 57.3,163.9 58.3,162.8 59.2,162.0 60.2,161.1 61.2,160.9 62.2,161.1 63.2,161.4 64.2,162.3 65.2,163.3 66.1,164.7 67.1,166.5 68.1,168.0 69.1,170.0 70.1,171.4 71.1,173.0 72.1,174.9 73.0,176.2 74.0,177.9 75.0,179.0 76.0,180.3 77.0,181.5 78.0,182.5 79.0,183.9 79.9,184.9 80.9,186.3 81.9,187.7 82.9,188.9 83.9,190.1 84.9,190.8 85.9,191.8 86.8,193.0 87.8,194.2 88.8,195.2 89.8,196.0 90.8,196.8 91.8,197.6 92.8,198.2 93.7,198.8 94.7,199.4 95.7,199.9 96.7,200.3 97.7,200.6 98.7,200.9 99.7,201.0 100.7,201.1 101.6,201.0 102.6,200.9 103.6,200.6 104.6,200.3 105.6,199.9 106.6,199.4 107.6,198.8 108.5,198.2 109.5,197.6 110.5,196.9 111.5,196.1 112.5,195.2 113.5,194.3 114.5,193.5 115.4,192.6 116.4,191.4 117.4,190.3 118.4,188.9 119.4,187.7 120.4,186.8 121.4,185.7 122.3,184.5 123.3,183.6 124.3,182.0 125.3,180.7 126.3,179.5 127.3,178.1 128.3,177.0 129.2,175.3 130.2,173.5 131.2,171.1 132.2,168.2 133.2,165.0 134.2,161.5 135.2,157.7 136.1,154.5 137.1,151.9 138.1,150.4 139.1,150.0 140.1,150.1 141.1,150.8 142.1,151.7 143.0,153.2 144.0,154.6 145.0,156.2 146.0,157.8 147.0,159.6 148.0,161.4 149.0,162.9 150.0,164.5 150.9,165.5 151.9,166.7 152.9,167.7 153.9,168.5 154.9,169.2 155.9,169.7 156.9,170.0 157.8,170.2 158.8,170.7 159.8,170.8 160.8,170.9 161.8,171.3 162.8,171.3 163.8,171.6 164.7,171.6 165.7,171.6 166.7,171.6 167.7,171.7 168.7,171.8 169.7,171.5 170.7,171.3 171.6,171.2 172.6,171.1 173.6,171.4 174.6,171.2V480H26.7Z" fill="url(#g16)"/>
<path d="M26.7,173.6 27.7,173.6 28.7,173.5 29.7,173.5 30.6,173.6 31.6,173.8 32.6,174.0 33.6,174.3 34.6,174.4 35.6,174.5 36.6,174.7 37.5,174.7 38.5,175.0 39.5,175.3 40.5,175.6 41.5,176.0 42.5,176.2 43.5,176.4 44.4,176.6 45.4,176.6 46.4,176.6 47.4,176.5 48.4,176.1 49.4,175.8 50.4,175.3 51.3,174.5 52.3,173.6 53.3,172.5 54.3,171.3 55.3,170.1 56.3,169.0 57.3,167.8 58.3,166.4 59.2,165.3 60.2,164.2 61.2,163.7 62.2,163.4 63.2,163.2 64.2,163.6 65.2,163.9 66.1,164.6 67.1,165.9 68.1,167.3 69.1,169.4 70.1,171.5 71.1,173.6 72.1,176.0 73.0,178.0 74.0,180.0 75.0,181.8 76.0,183.4 77.0,185.0 78.0,186.4 79.0,187.9 79.9,189.1 80.9,190.5 81.9,191.8 82.9,193.1 83.9,194.3 84.9,195.3 85.9,196.3 86.8,197.4 87.8,198.5 88.8,199.5 89.8,200.3 90.8,201.1 91.8,201.9 92.8,202.5 93.7,203.1 94.7,203.6 95.7,204.1 96.7,204.5 97.7,204.8 98.7,205.1 99.7,205.2 100.7,205.3 101.6,205.2 102.6,205.1 103.6,204.8 104.6,204.5 105.6,204.1 106.6,203.7 107.6,203.1 108.5,202.5 109.5,201.9 110.5,201.2 111.5,200.4 112.5,199.6 113.5,198.7 114.5,197.7 115.4,196.7 116.4,195.7 117.4,194.6 118.4,193.3 119.4,192.0 120.4,190.8 121.4,189.5 122.3,188.3 123.3,187.1 124.3,185.4 125.3,183.6 126.3,181.6 127.3,179.2 128.3,176.5 129.2,173.3 130.2,170.0 131.2,166.8 132.2,163.9 133.2,161.7 134.2,159.8 135.2,158.1 136.1,156.9 137.1,156.3 138.1,156.6 139.1,157.5 140.1,158.8 141.1,160.2 142.1,161.7 143.0,163.3 144.0,164.7 145.0,166.1 146.0,167.3 147.0,168.4 148.0,169.6 149.0,170.6 150.0,171.8 150.9,172.7 151.9,173.6 152.9,174.2 153.9,174.7 154.9,175.2 155.9,175.4 156.9,175.8 157.8,176.0 158.8,176.3 159.8,176.4 160.8,176.4 161.8,176.6 162.8,176.5 163.8,176.5 164.7,176.4 165.7,176.4 166.7,176.4 167.7,176.4 168.7,176.3 169.7,175.9 170.7,175.7 171.6,175.5 172.6,175.5 173.6,175.5 174.6,175.2V480H26.7Z" fill="url(#g17)"/>
<path d="M26.7,169.3 27.7,169.2 28.7,169.0 29.7,168.9 30.6,169.0 31.6,169.0 32.6,169.2 33.6,169.2 34.6,169.2 35.6,169.0 36.6,169.2 37.5,169.2 38.5,169.5 39.5,170.0 40.5,170.3 41.5,170.7 42.5,171.1 43.5,171.3 44.4,171.6 45.4,171.6 46.4,171.4 47.4,171.4 48.4,171.1 49.4,170.9 50.4,170.5 51.3,169.7 52.3,168.8 53.3,167.7 54.3,166.5 55.3,165.7 56.3,164.7 57.3,163.9 58.3,162.8 59.2,162.0 60.2,161.1 61.2,160.9 62.2,161.1 63.2,161.4 64.2,162.3 65.2,163.3 66.1,164.7 67.1,166.5 68.1,168.0 69.1,170.0 70.1,171.4 71.1,173.0 72.1,174.9 73.0,176.2 74.0,177.9 75.0,179.0 76.0,180.3 77.0,181.5 78.0,182.5 79.0,183.9 79.9,184.9 80.9,186.3 81.9,187.7 82.9,188.9 83.9,190.1 84.9,190.8 85.9,191.8 86.8,193.0 87.8,194.2 88.8,195.2 89.8,196.0 90.8,196.8 91.8,197.6 92.8,198.2 93.7,198.8 94.7,199.4 95.7,199.9 96.7,200.3 97.7,200.6 98.7,200.9 99.7,201.0 100.7,201.1 101.6,201.0 102.6,200.9 103.6,200.6 104.6,200.3 105.6,199.9 106.6,199.4 107.6,198.8 108.5,198.2 109.5,197.6 110.5,196.9 111.5,196.1 112.5,195.2 113.5,194.3 114.5,193.5 115.4,192.6 116.4,191.4 117.4,190.3 118.4,188.9 119.4,187.7 120.4,186.8 121.4,185.7 122.3,184.5 123.3,183.6 124.3,182.0 125.3,180.7 126.3,179.5 127.3,178.1 128.3,177.0 129.2,175.3 130.2,173.5 131.2,171.1 132.2,168.2 133.2,165.0 134.2,161.5 135.2,157.7 136.1,154.5 137.1,151.9 138.1,150.4 139.1,150.0 140.1,150.1 141.1,150.8 142.1,151.7 143.0,153.2 144.0,154.6 145.0,156.2 146.0,157.8 147.0,159.6 148.0,161.4 149.0,162.9 150.0,164.5 150.9,165.5 151.9,166.7 152.9,167.7 153.9,168.5 154.9,169.2 155.9,169.7 156.9,170.0 157.8,170.2 158.8,170.7 159.8,170.8 160.8,170.9 161.8,171.3 162.8,171.3 163.8,171.6 164.7,171.6 165.7,171.6 166.7,171.6 167.7,171.7 168.7,171.8 169.7,171.5 170.7,171.3 171.6,171.2 172.6,171.1 173.6,171.4 174.6,171.2" fill="none" stroke="#000" stroke-width="1.05"/>
<path d="M26.7,177.9 27.7,178.0 28.7,178.1 29.7,178.1 30.6,178.2 31.6,178.6 32.6,178.8 33.6,179.4 34.6,179.7 35.6,179.9 36.6,180.2 37.5,180.2 38.5,180.5 39.5,180.7 40.5,181.0 41.5,181.3 42.5,181.3 43.5,181.5 44.4,181.7 45.4,181.6 46.4,181.8 47.4,181.6 48.4,181.1 49.4,180.7 50.4,180.1 51.3,179.3 52.3,178.3 53.3,177.2 54.3,176.0 55.3,174.6 56.3,173.3 57.3,171.7 58.3,170.1 59.2,168.6 60.2,167.3 61.2,166.5 62.2,165.7 63.2,165.1 64.2,164.9 65.2,164.4 66.1,164.4 67.1,165.3 68.1,166.5 69.1,168.9 70.1,171.6 71.1,174.2 72.1,177.2 73.0,179.9 74.0,182.2 75.0,184.5 76.0,186.6 77.0,188.5 78.0,190.4 79.0,191.9 79.9,193.3 80.9,194.7 81.9,196.0 82.9,197.3 83.9,198.5 84.9,199.8 85.9,200.8 86.8,201.9 87.8,202.8 88.8,203.8 89.8,204.7 90.8,205.4 91.8,206.2 92.8,206.8 93.7,207.4 94.7,207.9 95.7,208.3 96.7,208.7 97.7,209.0 98.7,209.2 99.7,209.4 100.7,209.4 101.6,209.4 102.6,209.2 103.6,209.0 104.6,208.7 105.6,208.4 106.6,207.9 107.6,207.4 108.5,206.8 109.5,206.2 110.5,205.5 111.5,204.7 112.5,203.9 113.5,203.0 114.5,201.9 115.4,200.9 116.4,200.0 117.4,198.9 118.4,197.7 119.4,196.2 120.4,194.7 121.4,193.4 122.3,192.1 123.3,190.6 124.3,188.9 125.3,186.6 126.3,183.7 127.3,180.4 128.3,176.0 129.2,171.3 130.2,166.6 131.2,162.4 132.2,159.5 133.2,158.4 134.2,158.2 135.2,158.4 136.1,159.3 137.1,160.7 138.1,162.7 139.1,165.0 140.1,167.5 141.1,169.6 142.1,171.7 143.0,173.3 144.0,174.7 145.0,176.0 146.0,176.7 147.0,177.2 148.0,177.7 149.0,178.3 150.0,179.1 150.9,179.8 151.9,180.5 152.9,180.7 153.9,180.9 154.9,181.2 155.9,181.2 156.9,181.5 157.8,181.7 158.8,181.8 159.8,182.0 160.8,181.9 161.8,182.0 162.8,181.8 163.8,181.4 164.7,181.2 165.7,181.2 166.7,181.2 167.7,181.1 168.7,180.8 169.7,180.3 170.7,180.1 171.6,179.8 172.6,179.8 173.6,179.6 174.6,179.3V480H26.7Z" fill="url(#g17)"/>
<path d="M26.7,181.8 27.7,182.0 28.7,181.9 29.7,182.0 30.6,182.0 31.6,182.1 32.6,182.4 33.6,182.7 34.6,183.0 35.6,183.2 36.6,183.4 37.5,183.5 38.5,184.0 39.5,184.3 40.5,184.9 41.5,185.2 42.5,185.3 43.5,185.6 44.4,185.8 45.4,186.2 46.4,186.5 47.4,186.5 48.4,186.3 49.4,185.9 50.4,185.4 51.3,184.8 52.3,184.0 53.3,183.0 54.3,181.9 55.3,180.6 56.3,179.3 57.3,177.7 58.3,175.9 59.2,174.2 60.2,172.4 61.2,171.1 62.2,169.6 63.2,168.2 64.2,167.4 65.2,166.4 66.1,165.9 67.1,166.1 68.1,166.4 69.1,167.8 70.1,169.9 71.1,172.3 72.1,175.7 73.0,179.1 74.0,182.6 75.0,185.9 76.0,188.9 77.0,191.5 78.0,193.7 79.0,195.6 79.9,197.3 80.9,198.9 81.9,200.3 82.9,201.7 83.9,203.0 84.9,204.2 85.9,205.2 86.8,206.3 87.8,207.2 88.8,208.1 89.8,209.0 90.8,209.8 91.8,210.5 92.8,211.1 93.7,211.7 94.7,212.2 95.7,212.6 96.7,212.9 97.7,213.2 98.7,213.4 99.7,213.6 100.7,213.6 101.6,213.6 102.6,213.4 103.6,213.2 104.6,212.9 105.6,212.6 106.6,212.2 107.6,211.7 108.5,211.1 109.5,210.5 110.5,209.8 111.5,209.0 112.5,208.2 113.5,207.3 114.5,206.3 115.4,205.2 116.4,204.2 117.4,203.1 118.4,201.8 119.4,200.4 120.4,198.8 121.4,197.3 122.3,195.7 123.3,193.8 124.3,191.5 125.3,188.5 126.3,185.0 127.3,181.0 128.3,176.6 129.2,172.3 130.2,168.4 131.2,165.6 132.2,164.0 133.2,163.6 134.2,163.9 135.2,164.7 136.1,165.9 137.1,167.5 138.1,169.4 139.1,171.6 140.1,173.6 141.1,175.6 142.1,177.4 143.0,178.9 144.0,180.2 145.0,181.1 146.0,181.7 147.0,182.1 148.0,182.5 149.0,183.0 150.0,183.5 150.9,184.1 151.9,184.5 152.9,184.8 153.9,185.1 154.9,185.5 155.9,185.8 156.9,186.2 157.8,186.3 158.8,186.4 159.8,186.7 160.8,186.7 161.8,186.8 162.8,186.5 163.8,186.2 164.7,186.0 165.7,185.7 166.7,185.7 167.7,185.5 168.7,185.3 169.7,184.9 170.7,184.6 171.6,184.5 172.6,184.2 173.6,184.1 174.6,183.8V480H26.7Z" fill="url(#g18)"/>
<path d="M26.7,177.9 27.7,178.0 28.7,178.1 29.7,178.1 30.6,178.2 31.6,178.6 32.6,178.8 33.6,179.4 34.6,179.7 35.6,179.9 36.6,180.2 37.5,180.2 38.5,180.5 39.5,180.7 40.5,181.0 41.5,181.3 42.5,181.3 43.5,181.5 44.4,181.7 45.4,181.6 46.4,181.8 47.4,181.6 48.4,181.1 49.4,180.7 50.4,180.1 51.3,179.3 52.3,178.3 53.3,177.2 54.3,176.0 55.3,174.6 56.3,173.3 57.3,171.7 58.3,170.1 59.2,168.6 60.2,167.3 61.2,166.5 62.2,165.7 63.2,165.1 64.2,164.9 65.2,164.4 66.1,164.4 67.1,165.3 68.1,166.5 69.1,168.9 70.1,171.6 71.1,174.2 72.1,177.2 73.0,179.9 74.0,182.2 75.0,184.5 76.0,186.6 77.0,188.5 78.0,190.4 79.0,191.9 79.9,193.3 80.9,194.7 81.9,196.0 82.9,197.3 83.9,198.5 84.9,199.8 85.9,200.8 86.8,201.9 87.8,202.8 88.8,203.8 89.8,204.7 90.8,205.4 91.8,206.2 92.8,206.8 93.7,207.4 94.7,207.9 95.7,208.3 96.7,208.7 97.7,209.0 98.7,209.2 99.7,209.4 100.7,209.4 101.6,209.4 102.6,209.2 103.6,209.0 104.6,208.7 105.6,208.4 106.6,207.9 107.6,207.4 108.5,206.8 109.5,206.2 110.5,205.5 111.5,204.7 112.5,203.9 113.5,203.0 114.5,201.9 115.4,200.9 116.4,200.0 117.4,198.9 118.4,197.7 119.4,196.2 120.4,194.7 121.4,193.4 122.3,192.1 123.3,190.6 124.3,188.9 125.3,186.6 126.3,183.7 127.3,180.4 128.3,176.0 129.2,171.3 130.2,166.6 131.2,162.4 132.2,159.5 133.2,158.4 134.2,158.2 135.2,158.4 136.1,159.3 137.1,160.7 138.1,162.7 139.1,165.0 140.1,167.5 141.1,169.6 142.1,171.7 143.0,173.3 144.0,174.7 145.0,176.0 146.0,176.7 147.0,177.2 148.0,177.7 149.0,178.3 150.0,179.1 150.9,179.8 151.9,180.5 152.9,180.7 153.9,180.9 154.9,181.2 155.9,181.2 156.9,181.5 157.8,181.7 158.8,181.8 159.8,182.0 160.8,181.9 161.8,182.0 162.8,181.8 163.8,181.4 164.7,181.2 165.7,181.2 166.7,181.2 167.7,181.1 168.7,180.8 169.7,180.3 170.7,180.1 171.6,179.8 172.6,179.8 173.6,179.6 174.6,179.3" fill="none" stroke="#000" stroke-width="1.05"/>
<path d="M26.7,185.7 27.7,185.9 28.7,185.8 29.7,185.8 30.6,185.8 31.6,185.7 32.6,185.9 33.6,186.1 34.6,186.3 35.6,186.5 36.6,186.7 37.5,186.8 38.5,187.5 39.5,188.0 40.5,188.7 41.5,189.2 42.5,189.4 43.5,189.7 44.4,190.0 45.4,190.9 46.4,191.3 47.4,191.3 48.4,191.5 49.4,191.1 50.4,190.8 51.3,190.4 52.3,189.7 53.3,188.7 54.3,187.8 55.3,186.7 56.3,185.3 57.3,183.7 58.3,181.8 59.2,179.8 60.2,177.6 61.2,175.7 62.2,173.5 63.2,171.4 64.2,169.9 65.2,168.3 66.1,167.3 67.1,166.8 68.1,166.3 69.1,166.8 70.1,168.2 71.1,170.5 72.1,174.2 73.0,178.4 74.0,182.9 75.0,187.3 76.0,191.2 77.0,194.5 78.0,197.0 79.0,199.4 79.9,201.2 80.9,203.1 81.9,204.6 82.9,206.0 83.9,207.5 84.9,208.5 85.9,209.6 86.8,210.8 87.8,211.6 88.8,212.4 89.8,213.3 90.8,214.1 91.8,214.8 92.8,215.4 93.7,215.9 94.7,216.4 95.7,216.8 96.7,217.2 97.7,217.4 98.7,217.6 99.7,217.7 100.7,217.8 101.6,217.7 102.6,217.6 103.6,217.4 104.6,217.2 105.6,216.8 106.6,216.4 107.6,216.0 108.5,215.4 109.5,214.8 110.5,214.1 111.5,213.3 112.5,212.5 113.5,211.5 114.5,210.6 115.4,209.6 116.4,208.5 117.4,207.2 118.4,205.9 119.4,204.5 120.4,202.9 121.4,201.2 122.3,199.4 123.3,197.0 124.3,194.0 125.3,190.5 126.3,186.2 127.3,181.7 128.3,177.2 129.2,173.3 130.2,170.2 131.2,168.8 132.2,168.5 133.2,168.7 134.2,169.7 135.2,171.0 136.1,172.6 137.1,174.4 138.1,176.2 139.1,178.2 140.1,179.8 141.1,181.5 142.1,183.2 143.0,184.5 144.0,185.7 145.0,186.1 146.0,186.7 147.0,187.0 148.0,187.3 149.0,187.7 150.0,187.8 150.9,188.3 151.9,188.5 152.9,188.8 153.9,189.3 154.9,189.8 155.9,190.4 156.9,190.8 157.8,191.0 158.8,191.1 159.8,191.4 160.8,191.4 161.8,191.5 162.8,191.3 163.8,190.9 164.7,190.7 165.7,190.3 166.7,190.2 167.7,189.8 168.7,189.8 169.7,189.4 170.7,189.1 171.6,189.2 172.6,188.6 173.6,188.5 174.6,188.3V480H26.7Z" fill="url(#g18)"/>
<path d="M26.7,189.7 27.7,189.9 28.7,189.9 29.7,189.9 30.6,189.8 31.6,189.8 32.6,190.0 33.6,190.0 34.6,190.2 35.6,190.3 36.6,190.4 37.5,190.8 38.5,191.1 39.5,191.5 40.5,191.9 41.5,192.1 42.5,192.5 43.5,192.8 44.4,193.3 45.4,193.8 46.4,194.2 47.4,194.3 48.4,194.4 49.4,194.3 50.4,194.0 51.3,193.6 52.3,193.1 53.3,192.4 54.3,191.5 55.3,190.7 56.3,189.6 57.3,188.5 58.3,187.0 59.2,185.6 60.2,184.2 61.2,182.7 62.2,181.5 63.2,180.1 64.2,178.9 65.2,178.0 66.1,177.3 67.1,177.1 68.1,177.2 69.1,177.8 70.1,179.0 71.1,181.0 72.1,183.8 73.0,187.0 74.0,190.4 75.0,193.7 76.0,196.7 77.0,199.4 78.0,201.6 79.0,203.6 79.9,205.2 80.9,207.0 81.9,208.6 82.9,210.0 83.9,211.6 84.9,212.7 85.9,213.7 86.8,215.0 87.8,215.9 88.8,216.7 89.8,217.6 90.8,218.4 91.8,219.1 92.8,219.7 93.7,220.2 94.7,220.7 95.7,221.1 96.7,221.4 97.7,221.6 98.7,221.8 99.7,221.9 100.7,221.9 101.6,221.9 102.6,221.8 103.6,221.6 104.6,221.4 105.6,221.1 106.6,220.7 107.6,220.2 108.5,219.7 109.5,219.1 110.5,218.4 111.5,217.6 112.5,216.8 113.5,215.9 114.5,214.9 115.4,213.9 116.4,212.7 117.4,211.5 118.4,210.2 119.4,208.8 120.4,207.1 121.4,205.3 122.3,203.1 123.3,200.2 124.3,196.7 125.3,192.4 126.3,187.6 127.3,182.6 128.3,177.8 129.2,174.0 130.2,171.7 131.2,170.8 132.2,171.0 133.2,171.8 134.2,173.0 135.2,174.5 136.1,176.3 137.1,178.1 138.1,180.0 139.1,182.1 140.1,183.8 141.1,185.6 142.1,187.2 143.0,188.4 144.0,189.6 145.0,190.1 146.0,190.8 147.0,191.2 148.0,191.4 149.0,191.7 150.0,191.7 150.9,191.9 151.9,191.9 152.9,192.2 153.9,192.5 154.9,192.8 155.9,193.1 156.9,193.3 157.8,193.4 158.8,193.5 159.8,193.8 160.8,193.8 161.8,193.7 162.8,193.6 163.8,193.4 164.7,193.4 165.7,193.3 166.7,193.3 167.7,193.2 168.7,193.2 169.7,193.2 170.7,193.0 171.6,193.1 172.6,192.8 173.6,192.7 174.6,192.5V480H26.7Z" fill="url(#g19)"/>
<path d="M26.7,185.7 27.7,185.9 28.7,185.8 29.7,185.8 30.6,185.8 31.6,185.7 32.6,185.9 33.6,186.1 34.6,186.3 35.6,186.5 36.6,186.7 37.5,186.8 38.5,187.5 39.5,188.0 40.5,188.7 41.5,189.2 42.5,189.4 43.5,189.7 44.4,190.0 45.4,190.9 46.4,191.3 47.4,191.3 48.4,191.5 49.4,191.1 50.4,190.8 51.3,190.4 52.3,189.7 53.3,188.7 54.3,187.8 55.3,186.7 56.3,185.3 57.3,183.7 58.3,181.8 59.2,179.8 60.2,177.6 61.2,175.7 62.2,173.5 63.2,171.4 64.2,169.9 65.2,168.3 66.1,167.3 67.1,166.8 68.1,166.3 69.1,166.8 70.1,168.2 71.1,170.5 72.1,174.2 73.0,178.4 74.0,182.9 75.0,187.3 76.0,191.2 77.0,194.5 78.0,197.0 79.0,199.4 79.9,201.2 80.9,203.1 81.9,204.6 82.9,206.0 83.9,207.5 84.9,208.5 85.9,209.6 86.8,210.8 87.8,211.6 88.8,212.4 89.8,213.3 90.8,214.1 91.8,214.8 92.8,215.4 93.7,215.9 94.7,216.4 95.7,216.8 96.7,217.2 97.7,217.4 98.7,217.6 99.7,217.7 100.7,217.8 101.6,217.7 102.6,217.6 103.6,217.4 104.6,217.2 105.6,216.8 106.6,216.4 107.6,216.0 108.5,215.4 109.5,214.8 110.5,214.1 111.5,213.3 112.5,212.5 113.5,211.5 114.5,210.6 115.4,209.6 116.4,208.5 117.4,207.2 118.4,205.9 119.4,204.5 120.4,202.9 121.4,201.2 122.3,199.4 123.3,197.0 124.3,194.0 125.3,190.5 126.3,186.2 127.3,181.7 128.3,177.2 129.2,173.3 130.2,170.2 131.2,168.8 132.2,168.5 133.2,168.7 134.2,169.7 135.2,171.0 136.1,172.6 137.1,174.4 138.1,176.2 139.1,178.2 140.1,179.8 141.1,181.5 142.1,183.2 143.0,184.5 144.0,185.7 145.0,186.1 146.0,186.7 147.0,187.0 148.0,187.3 149.0,187.7 150.0,187.8 150.9,188.3 151.9,188.5 152.9,188.8 153.9,189.3 154.9,189.8 155.9,190.4 156.9,190.8 157.8,191.0 158.8,191.1 159.8,191.4 160.8,191.4 161.8,191.5 162.8,191.3 163.8,190.9 164.7,190.7 165.7,190.3 166.7,190.2 167.7,189.8 168.7,189.8 169.7,189.4 170.7,189.1 171.6,189.2 172.6,188.6 173.6,188.5 174.6,188.3" fill="none" stroke="#000" stroke-width="1.05"/>
<path d="M26.7,193.8 27.7,193.9 28.7,194.0 29.7,193.9 30.6,193.8 31.6,194.0 32.6,194.1 33.6,193.9 34.6,194.1 35.6,194.1 36.6,194.1 37.5,194.8 38.5,194.8 39.5,195.0 40.5,195.2 41.5,195.1 42.5,195.6 43.5,195.9 44.4,196.5 45.4,196.8 46.4,197.2 47.4,197.3 48.4,197.4 49.4,197.4 50.4,197.2 51.3,196.9 52.3,196.4 53.3,196.0 54.3,195.2 55.3,194.8 56.3,194.0 57.3,193.2 58.3,192.3 59.2,191.5 60.2,190.8 61.2,189.8 62.2,189.4 63.2,188.8 64.2,187.9 65.2,187.7 66.1,187.4 67.1,187.4 68.1,188.1 69.1,188.8 70.1,189.8 71.1,191.5 72.1,193.4 73.0,195.5 74.0,197.8 75.0,200.0 76.0,202.3 77.0,204.2 78.0,206.2 79.0,207.9 79.9,209.2 80.9,210.9 81.9,212.5 82.9,214.0 83.9,215.7 84.9,216.9 85.9,217.8 86.8,219.2 87.8,220.3 88.8,221.0 89.8,221.9 90.8,222.7 91.8,223.4 92.8,224.0 93.7,224.5 94.7,224.9 95.7,225.3 96.7,225.6 97.7,225.8 98.7,226.0 99.7,226.1 100.7,226.1 101.6,226.1 102.6,226.0 103.6,225.8 104.6,225.6 105.6,225.3 106.6,224.9 107.6,224.5 108.5,224.0 109.5,223.4 110.5,222.7 111.5,221.9 112.5,221.1 113.5,220.2 114.5,219.1 115.4,218.1 116.4,216.8 117.4,215.8 118.4,214.5 119.4,213.1 120.4,211.3 121.4,209.4 122.3,206.8 123.3,203.3 124.3,199.3 125.3,194.3 126.3,188.9 127.3,183.6 128.3,178.4 129.2,174.8 130.2,173.1 131.2,172.8 132.2,173.5 133.2,174.8 134.2,176.3 135.2,178.0 136.1,180.1 137.1,181.8 138.1,183.8 139.1,186.0 140.1,187.8 141.1,189.6 142.1,191.2 143.0,192.4 144.0,193.5 145.0,194.1 146.0,194.9 147.0,195.3 148.0,195.5 149.0,195.7 150.0,195.5 150.9,195.5 151.9,195.3 152.9,195.5 153.9,195.7 154.9,195.7 155.9,195.9 156.9,195.8 157.8,195.8 158.8,195.9 159.8,196.3 160.8,196.2 161.8,195.9 162.8,196.0 163.8,195.9 164.7,196.1 165.7,196.3 166.7,196.4 167.7,196.5 168.7,196.6 169.7,196.9 170.7,196.9 171.6,197.0 172.6,197.0 173.6,196.8 174.6,196.8V480H26.7Z" fill="url(#g19)"/>
<path d="M26.7,199.1 27.7,199.4 28.7,199.7 29.7,199.9 30.6,200.0 31.6,200.2 32.6,200.1 33.6,200.1 34.6,200.2 35.6,200.2 36.6,200.3 37.5,200.7 38.5,200.8 39.5,200.9 40.5,200.7 41.5,200.7 42.5,201.0 43.5,201.2 44.4,201.6 45.4,201.7 46.4,201.8 47.4,201.8 48.4,201.9 49.4,201.9 50.4,201.6 51.3,201.3 52.3,200.9 53.3,200.5 54.3,199.9 55.3,199.4 56.3,198.8 57.3,198.1 58.3,197.3 59.2,196.6 60.2,196.1 61.2,195.6 62.2,195.4 63.2,195.1 64.2,194.6 65.2,194.6 66.1,194.6 67.1,194.8 68.1,195.4 69.1,196.0 70.1,197.0 71.1,198.2 72.1,199.8 73.0,201.3 74.0,203.1 75.0,204.9 76.0,206.7 77.0,208.5 78.0,210.3 79.0,211.9 79.9,213.4 80.9,215.3 81.9,216.8 82.9,218.2 83.9,219.9 84.9,221.0 85.9,222.1 86.8,223.5 87.8,224.4 88.8,225.3 89.8,226.2 90.8,226.9 91.8,227.6 92.8,228.2 93.7,228.7 94.7,229.2 95.7,229.5 96.7,229.8 97.7,230.0 98.7,230.1 99.7,230.2 100.7,230.2 101.6,230.2 102.6,230.1 103.6,230.0 104.6,229.8 105.6,229.5 106.6,229.2 107.6,228.7 108.5,228.2 109.5,227.6 110.5,227.0 111.5,226.2 112.5,225.4 113.5,224.4 114.5,223.3 115.4,222.2 116.4,221.0 117.4,219.8 118.4,218.4 119.4,217.0 120.4,215.4 121.4,213.7 122.3,211.5 123.3,208.7 124.3,205.8 125.3,202.0 126.3,197.9 127.3,193.6 128.3,189.3 129.2,185.9 130.2,183.6 131.2,182.3 132.2,182.0 133.2,182.1 134.2,182.8 135.2,183.8 136.1,185.1 137.1,186.4 138.1,187.8 139.1,189.5 140.1,190.9 141.1,192.4 142.1,193.9 143.0,195.0 144.0,196.1 145.0,197.1 146.0,197.8 147.0,198.5 148.0,198.9 149.0,199.0 150.0,199.1 150.9,199.1 151.9,198.8 152.9,199.0 153.9,199.0 154.9,199.1 155.9,199.4 156.9,199.4 157.8,199.3 158.8,199.4 159.8,199.5 160.8,199.6 161.8,199.7 162.8,199.8 163.8,199.8 164.7,199.9 165.7,200.0 166.7,200.3 167.7,200.3 168.7,200.6 169.7,200.8 170.7,200.6 171.6,200.6 172.6,200.6 173.6,200.4 174.6,200.4V480H26.7Z" fill="url(#g20)"/>
<path d="M26.7,193.8 27.7,193.9 28.7,194.0 29.7,193.9 30.6,193.8 31.6,194.0 32.6,194.1 33.6,193.9 34.6,194.1 35.6,194.1 36.6,194.1 37.5,194.8 38.5,194.8 39.5,195.0 40.5,195.2 41.5,195.1 42.5,195.6 43.5,195.9 44.4,196.5 45.4,196.8 46.4,197.2 47.4,197.3 48.4,197.4 49.4,197.4 50.4,197.2 51.3,196.9 52.3,196.4 53.3,196.0 54.3,195.2 55.3,194.8 56.3,194.0 57.3,193.2 58.3,192.3 59.2,191.5 60.2,190.8 61.2,189.8 62.2,189.4 63.2,188.8 64.2,187.9 65.2,187.7 66.1,187.4 67.1,187.4 68.1,188.1 69.1,188.8 70.1,189.8 71.1,191.5 72.1,193.4 73.0,195.5 74.0,197.8 75.0,200.0 76.0,202.3 77.0,204.2 78.0,206.2 79.0,207.9 79.9,209.2 80.9,210.9 81.9,212.5 82.9,214.0 83.9,215.7 84.9,216.9 85.9,217.8 86.8,219.2 87.8,220.3 88.8,221.0 89.8,221.9 90.8,222.7 91.8,223.4 92.8,224.0 93.7,224.5 94.7,224.9 95.7,225.3 96.7,225.6 97.7,225.8 98.7,226.0 99.7,226.1 100.7,226.1 101.6,226.1 102.6,226.0 103.6,225.8 104.6,225.6 105.6,225.3 106.6,224.9 107.6,224.5 108.5,224.0 109.5,223.4 110.5,222.7 111.5,221.9 112.5,221.1 113.5,220.2 114.5,219.1 115.4,218.1 116.4,216.8 117.4,215.8 118.4,214.5 119.4,213.1 120.4,211.3 121.4,209.4 122.3,206.8 123.3,203.3 124.3,199.3 125.3,194.3 126.3,188.9 127.3,183.6 128.3,178.4 129.2,174.8 130.2,173.1 131.2,172.8 132.2,173.5 133.2,174.8 134.2,176.3 135.2,178.0 136.1,180.1 137.1,181.8 138.1,183.8 139.1,186.0 140.1,187.8 141.1,189.6 142.1,191.2 143.0,192.4 144.0,193.5 145.0,194.1 146.0,194.9 147.0,195.3 148.0,195.5 149.0,195.7 150.0,195.5 150.9,195.5 151.9,195.3 152.9,195.5 153.9,195.7 154.9,195.7 155.9,195.9 156.9,195.8 157.8,195.8 158.8,195.9 159.8,196.3 160.8,196.2 161.8,195.9 162.8,196.0 163.8,195.9 164.7,196.1 165.7,196.3 166.7,196.4 167.7,196.5 168.7,196.6 169.7,196.9 170.7,196.9 171.6,197.0 172.6,197.0 173.6,196.8 174.6,196.8" fill="none" stroke="#000" stroke-width="1.05"/>
<path d="M26.7,204.4 27.7,204.9 28.7,205.3 29.7,205.8 30.6,206.2 31.6,206.4 32.6,206.2 33.6,206.2 34.6,206.2 35.6,206.3 36.6,206.5 37.5,206.6 38.5,206.7 39.5,206.8 40.5,206.3 41.5,206.3 42.5,206.5 43.5,206.4 44.4,206.6 45.4,206.6 46.4,206.4 47.4,206.3 48.4,206.5 49.4,206.4 50.4,206.0 51.3,205.8 52.3,205.3 53.3,205.0 54.3,204.6 55.3,204.1 56.3,203.6 57.3,202.9 58.3,202.3 59.2,201.8 60.2,201.4 61.2,201.5 62.2,201.3 63.2,201.4 64.2,201.3 65.2,201.5 66.1,201.8 67.1,202.2 68.1,202.8 69.1,203.1 70.1,204.1 71.1,204.9 72.1,206.2 73.0,207.2 74.0,208.4 75.0,209.8 76.0,211.1 77.0,212.8 78.0,214.4 79.0,216.0 79.9,217.6 80.9,219.6 81.9,221.0 82.9,222.4 83.9,224.1 84.9,225.1 85.9,226.4 86.8,227.7 87.8,228.5 88.8,229.6 89.8,230.4 90.8,231.2 91.8,231.9 92.8,232.5 93.7,233.0 94.7,233.4 95.7,233.7 96.7,234.0 97.7,234.2 98.7,234.3 99.7,234.4 100.7,234.4 101.6,234.4 102.6,234.3 103.6,234.2 104.6,234.0 105.6,233.7 106.6,233.4 107.6,233.0 108.5,232.5 109.5,231.9 110.5,231.2 111.5,230.5 112.5,229.6 113.5,228.5 114.5,227.4 115.4,226.3 116.4,225.1 117.4,223.9 118.4,222.4 119.4,221.0 120.4,219.4 121.4,217.9 122.3,216.3 123.3,214.1 124.3,212.3 125.3,209.6 126.3,206.9 127.3,203.6 128.3,200.1 129.2,197.1 130.2,194.1 131.2,191.8 132.2,190.4 133.2,189.4 134.2,189.4 135.2,189.6 136.1,190.2 137.1,191.1 138.1,191.9 139.1,193.1 140.1,194.1 141.1,195.2 142.1,196.6 143.0,197.7 144.0,198.7 145.0,200.0 146.0,200.7 147.0,201.6 148.0,202.2 149.0,202.4 150.0,202.6 150.9,202.6 151.9,202.4 152.9,202.4 153.9,202.4 154.9,202.5 155.9,202.9 156.9,202.9 157.8,202.7 158.8,202.8 159.8,202.8 160.8,203.0 161.8,203.4 162.8,203.6 163.8,203.7 164.7,203.8 165.7,203.8 166.7,204.2 167.7,204.2 168.7,204.6 169.7,204.6 170.7,204.4 171.6,204.2 172.6,204.2 173.6,204.0 174.6,204.1V480H26.7Z" fill="url(#g20)"/>
<path d="M26.7,207.8 27.7,208.0 28.7,208.1 29.7,208.4 30.6,208.6 31.6,208.8 32.6,208.8 33.6,209.0 34.6,209.2 35.6,209.4 36.6,209.8 37.5,210.0 38.5,210.3 39.5,210.5 40.5,210.5 41.5,210.5 42.5,210.5 43.5,210.4 44.4,210.4 45.4,210.2 46.4,210.3 47.4,210.1 48.4,210.0 49.4,209.8 50.4,209.3 51.3,209.2 52.3,208.7 53.3,208.3 54.3,207.8 55.3,207.2 56.3,206.6 57.3,206.0 58.3,205.6 59.2,205.2 60.2,205.1 61.2,205.3 62.2,205.0 63.2,205.1 64.2,205.2 65.2,205.3 66.1,205.9 67.1,206.4 68.1,207.0 69.1,207.5 70.1,208.3 71.1,209.1 72.1,210.2 73.0,211.1 74.0,212.2 75.0,213.4 76.0,214.9 77.0,216.5 78.0,218.2 79.0,219.8 79.9,221.5 80.9,223.5 81.9,225.1 82.9,226.8 83.9,228.3 84.9,229.4 85.9,230.7 86.8,231.8 87.8,232.8 88.8,233.8 89.8,234.7 90.8,235.5 91.8,236.1 92.8,236.7 93.7,237.2 94.7,237.6 95.7,237.9 96.7,238.2 97.7,238.4 98.7,238.5 99.7,238.5 100.7,238.6 101.6,238.5 102.6,238.5 103.6,238.4 104.6,238.2 105.6,237.9 106.6,237.6 107.6,237.2 108.5,236.7 109.5,236.1 110.5,235.5 111.5,234.7 112.5,233.9 113.5,232.8 114.5,231.7 115.4,230.6 116.4,229.3 117.4,228.1 118.4,226.6 119.4,225.1 120.4,223.5 121.4,222.0 122.3,220.4 123.3,218.5 124.3,216.7 125.3,214.6 126.3,212.6 127.3,210.2 128.3,208.0 129.2,206.1 130.2,204.2 131.2,202.9 132.2,201.9 133.2,201.0 134.2,200.4 135.2,199.6 136.1,198.9 137.1,197.9 138.1,196.5 139.1,195.4 140.1,194.2 141.1,193.7 142.1,194.2 143.0,195.0 144.0,196.1 145.0,197.4 146.0,198.7 147.0,200.1 148.0,201.5 149.0,202.9 150.0,204.0 150.9,205.1 151.9,205.7 152.9,206.5 153.9,207.2 154.9,207.7 155.9,208.4 156.9,208.6 157.8,208.7 158.8,208.8 159.8,208.7 160.8,208.7 161.8,208.9 162.8,208.9 163.8,209.2 164.7,209.1 165.7,209.2 166.7,209.3 167.7,209.1 168.7,209.2 169.7,209.2 170.7,208.9 171.6,208.8 172.6,208.7 173.6,208.4 174.6,208.4V480H26.7Z" fill="url(#g21)"/>
<path d="M26.7,204.4 27.7,204.9 28.7,205.3 29.7,205.8 30.6,206.2 31.6,206.4 32.6,206.2 33.6,206.2 34.6,206.2 35.6,206.3 36.6,206.5 37.5,206.6 38.5,206.7 39.5,206.8 40.5,206.3 41.5,206.3 42.5,206.5 43.5,206.4 44.4,206.6 45.4,206.6 46.4,206.4 47.4,206.3 48.4,206.5 49.4,206.4 50.4,206.0 51.3,205.8 52.3,205.3 53.3,205.0 54.3,204.6 55.3,204.1 56.3,203.6 57.3,202.9 58.3,202.3 59.2,201.8 60.2,201.4 61.2,201.5 62.2,201.3 63.2,201.4 64.2,201.3 65.2,201.5 66.1,201.8 67.1,202.2 68.1,202.8 69.1,203.1 70.1,204.1 71.1,204.9 72.1,206.2 73.0,207.2 74.0,208.4 75.0,209.8 76.0,211.1 77.0,212.8 78.0,214.4 79.0,216.0 79.9,217.6 80.9,219.6 81.9,221.0 82.9,222.4 83.9,224.1 84.9,225.1 85.9,226.4 86.8,227.7 87.8,228.5 88.8,229.6 89.8,230.4 90.8,231.2 91.8,231.9 92.8,232.5 93.7,233.0 94.7,233.4 95.7,233.7 96.7,234.0 97.7,234.2 98.7,234.3 99.7,234.4 100.7,234.4 101.6,234.4 102.6,234.3 103.6,234.2 104.6,234.0 105.6,233.7 106.6,233.4 107.6,233.0 108.5,232.5 109.5,231.9 110.5,231.2 111.5,230.5 112.5,229.6 113.5,228.5 114.5,227.4 115.4,226.3 116.4,225.1 117.4,223.9 118.4,222.4 119.4,221.0 120.4,219.4 121.4,217.9 122.3,216.3 123.3,214.1 124.3,212.3 125.3,209.6 126.3,206.9 127.3,203.6 128.3,200.1 129.2,197.1 130.2,194.1 131.2,191.8 132.2,190.4 133.2,189.4 134.2,189.4 135.2,189.6 136.1,190.2 137.1,191.1 138.1,191.9 139.1,193.1 140.1,194.1 141.1,195.2 142.1,196.6 143.0,197.7 144.0,198.7 145.0,200.0 146.0,200.7 147.0,201.6 148.0,202.2 149.0,202.4 150.0,202.6 150.9,202.6 151.9,202.4 152.9,202.4 153.9,202.4 154.9,202.5 155.9,202.9 156.9,202.9 157.8,202.7 158.8,202.8 159.8,202.8 160.8,203.0 161.8,203.4 162.8,203.6 163.8,203.7 164.7,203.8 165.7,203.8 166.7,204.2 167.7,204.2 168.7,204.6 169.7,204.6 170.7,204.4 171.6,204.2 172.6,204.2 173.6,204.0 174.6,204.1" fill="none" stroke="#000" stroke-width="1.05"/>
<path d="M26.7,211.2 27.7,211.1 28.7,210.9 29.7,210.9 30.6,211.0 31.6,211.2 32.6,211.4 33.6,211.9 34.6,212.1 35.6,212.6 36.6,213.0 37.5,213.4 38.5,213.9 39.5,214.3 40.5,214.7 41.5,214.7 42.5,214.5 43.5,214.4 44.4,214.1 45.4,213.8 46.4,214.1 47.4,213.8 48.4,213.5 49.4,213.3 50.4,212.6 51.3,212.6 52.3,212.2 53.3,211.7 54.3,211.0 55.3,210.2 56.3,209.6 57.3,209.0 58.3,208.9 59.2,208.6 60.2,208.7 61.2,209.1 62.2,208.7 63.2,208.9 64.2,209.0 65.2,209.2 66.1,210.0 67.1,210.5 68.1,211.2 69.1,211.8 70.1,212.4 71.1,213.4 72.1,214.1 73.0,215.0 74.0,216.0 75.0,217.1 76.0,218.7 77.0,220.2 78.0,221.9 79.0,223.6 79.9,225.3 80.9,227.3 81.9,229.3 82.9,231.2 83.9,232.6 84.9,233.8 85.9,235.0 86.8,235.8 87.8,237.1 88.8,238.1 89.8,238.9 90.8,239.7 91.8,240.4 92.8,240.9 93.7,241.4 94.7,241.8 95.7,242.1 96.7,242.4 97.7,242.5 98.7,242.7 99.7,242.7 100.7,242.7 101.6,242.7 102.6,242.7 103.6,242.5 104.6,242.4 105.6,242.1 106.6,241.8 107.6,241.4 108.5,240.9 109.5,240.4 110.5,239.7 111.5,239.0 112.5,238.1 113.5,237.0 114.5,236.0 115.4,234.8 116.4,233.5 117.4,232.3 118.4,230.8 119.4,229.2 120.4,227.7 121.4,226.1 122.3,224.6 123.3,222.8 124.3,221.1 125.3,219.5 126.3,218.2 127.3,216.9 128.3,215.9 129.2,215.2 130.2,214.4 131.2,214.0 132.2,213.4 133.2,212.6 134.2,211.5 135.2,209.7 136.1,207.6 137.1,204.7 138.1,201.1 139.1,197.7 140.1,194.3 141.1,192.2 142.1,191.7 143.0,192.4 144.0,193.4 145.0,194.8 146.0,196.6 147.0,198.5 148.0,200.9 149.0,203.4 150.0,205.5 150.9,207.6 151.9,209.1 152.9,210.6 153.9,211.9 154.9,213.0 155.9,214.0 156.9,214.4 157.8,214.7 158.8,214.8 159.8,214.6 160.8,214.5 161.8,214.4 162.8,214.3 163.8,214.7 164.7,214.5 165.7,214.6 166.7,214.4 167.7,214.0 168.7,213.9 169.7,213.8 170.7,213.5 171.6,213.4 172.6,213.2 173.6,212.7 174.6,212.8V480H26.7Z" fill="url(#g21)"/>
<path d="M26.7,215.3 27.7,215.3 28.7,215.3 29.7,215.2 30.6,215.3 31.6,215.4 32.6,215.6 33.6,216.1 34.6,216.3 35.6,216.6 36.6,216.8 37.5,216.9 38.5,217.2 39.5,217.3 40.5,217.5 41.5,217.5 42.5,217.4 43.5,217.3 44.4,217.2 45.4,217.0 46.4,217.0 47.4,216.7 48.4,216.1 49.4,215.7 50.4,215.0 51.3,214.5 52.3,213.9 53.3,213.2 54.3,212.3 55.3,211.6 56.3,210.9 57.3,210.3 58.3,210.1 59.2,209.8 60.2,210.0 61.2,210.4 62.2,210.8 63.2,211.4 64.2,212.0 65.2,212.8 66.1,213.7 67.1,214.5 68.1,215.3 69.1,216.0 70.1,216.7 71.1,217.7 72.1,218.5 73.0,219.4 74.0,220.4 75.0,221.4 76.0,222.8 77.0,224.3 78.0,226.1 79.0,227.9 79.9,229.8 80.9,231.8 81.9,233.6 82.9,235.4 83.9,236.5 84.9,237.7 85.9,238.8 86.8,239.9 87.8,241.3 88.8,242.3 89.8,243.2 90.8,243.9 91.8,244.6 92.8,245.1 93.7,245.6 94.7,246.0 95.7,246.3 96.7,246.5 97.7,246.7 98.7,246.8 99.7,246.9 100.7,246.9 101.6,246.9 102.6,246.8 103.6,246.7 104.6,246.5 105.6,246.3 106.6,246.0 107.6,245.6 108.5,245.2 109.5,244.6 110.5,243.9 111.5,243.2 112.5,242.4 113.5,241.3 114.5,240.3 115.4,239.0 116.4,237.7 117.4,236.4 118.4,235.0 119.4,233.5 120.4,231.9 121.4,230.2 122.3,228.4 123.3,226.8 124.3,225.1 125.3,223.5 126.3,222.3 127.3,220.9 128.3,220.0 129.2,219.2 130.2,218.5 131.2,218.0 132.2,217.4 133.2,216.6 134.2,215.8 135.2,214.3 136.1,212.3 137.1,209.3 138.1,205.5 139.1,201.4 140.1,197.4 141.1,194.8 142.1,193.9 143.0,194.4 144.0,195.7 145.0,197.5 146.0,199.5 147.0,201.9 148.0,204.4 149.0,207.0 150.0,209.4 150.9,211.5 151.9,213.4 152.9,215.0 153.9,216.3 154.9,217.4 155.9,218.2 156.9,218.7 157.8,218.9 158.8,218.9 159.8,218.7 160.8,218.5 161.8,218.5 162.8,218.3 163.8,218.4 164.7,218.3 165.7,218.2 166.7,218.0 167.7,217.8 168.7,217.7 169.7,217.7 170.7,217.8 171.6,217.9 172.6,217.9 173.6,217.7 174.6,217.6V480H26.7Z" fill="url(#g22)"/>
<path d="M26.7,211.2 27.7,211.1 28.7,210.9 29.7,210.9 30.6,211.0 31.6,211.2 32.6,211.4 33.6,211.9 34.6,212.1 35.6,212.6 36.6,213.0 37.5,213.4 38.5,213.9 39.5,214.3 40.5,214.7 41.5,214.7 42.5,214.5 43.5,214.4 44.4,214.1 45.4,213.8 46.4,214.1 47.4,213.8 48.4,213.5 49.4,213.3 50.4,212.6 51.3,212.6 52.3,212.2 53.3,211.7 54.3,211.0 55.3,210.2 56.3,209.6 57.3,209.0 58.3,208.9 59.2,208.6 60.2,208.7 61.2,209.1 62.2,208.7 63.2,208.9 64.2,209.0 65.2,209.2 66.1,210.0 67.1,210.5 68.1,211.2 69.1,211.8 70.1,212.4 71.1,213.4 72.1,214.1 73.0,215.0 74.0,216.0 75.0,217.1 76.0,218.7 77.0,220.2 78.0,221.9 79.0,223.6 79.9,225.3 80.9,227.3 81.9,229.3 82.9,231.2 83.9,232.6 84.9,233.8 85.9,235.0 86.8,235.8 87.8,237.1 88.8,238.1 89.8,238.9 90.8,239.7 91.8,240.4 92.8,240.9 93.7,241.4 94.7,241.8 95.7,242.1 96.7,242.4 97.7,242.5 98.7,242.7 99.7,242.7 100.7,242.7 101.6,242.7 102.6,242.7 103.6,242.5 104.6,242.4 105.6,242.1 106.6,241.8 107.6,241.4 108.5,240.9 109.5,240.4 110.5,239.7 111.5,239.0 112.5,238.1 113.5,237.0 114.5,236.0 115.4,234.8 116.4,233.5 117.4,232.3 118.4,230.8 119.4,229.2 120.4,227.7 121.4,226.1 122.3,224.6 123.3,222.8 124.3,221.1 125.3,219.5 126.3,218.2 127.3,216.9 128.3,215.9 129.2,215.2 130.2,214.4 131.2,214.0 132.2,213.4 133.2,212.6 134.2,211.5 135.2,209.7 136.1,207.6 137.1,204.7 138.1,201.1 139.1,197.7 140.1,194.3 141.1,192.2 142.1,191.7 143.0,192.4 144.0,193.4 145.0,194.8 146.0,196.6 147.0,198.5 148.0,200.9 149.0,203.4 150.0,205.5 150.9,207.6 151.9,209.1 152.9,210.6 153.9,211.9 154.9,213.0 155.9,214.0 156.9,214.4 157.8,214.7 158.8,214.8 159.8,214.6 160.8,214.5 161.8,214.4 162.8,214.3 163.8,214.7 164.7,214.5 165.7,214.6 166.7,214.4 167.7,214.0 168.7,213.9 169.7,213.8 170.7,213.5 171.6,213.4 172.6,213.2 173.6,212.7 174.6,212.8" fill="none" stroke="#000" stroke-width="1.05"/>
<path d="M26.7,219.3 27.7,219.4 28.7,219.6 29.7,219.4 30.6,219.6 31.6,219.6 32.6,219.7 33.6,220.3 34.6,220.5 35.6,220.6 36.6,220.7 37.5,220.4 38.5,220.4 39.5,220.4 40.5,220.3 41.5,220.3 42.5,220.3 43.5,220.3 44.4,220.2 45.4,220.2 46.4,219.9 47.4,219.5 48.4,218.7 49.4,218.0 50.4,217.3 51.3,216.4 52.3,215.7 53.3,214.7 54.3,213.6 55.3,213.0 56.3,212.2 57.3,211.6 58.3,211.2 59.2,210.9 60.2,211.3 61.2,211.8 62.2,212.9 63.2,214.0 64.2,215.0 65.2,216.4 66.1,217.5 67.1,218.4 68.1,219.4 69.1,220.2 70.1,221.0 71.1,221.9 72.1,222.9 73.0,223.7 74.0,224.8 75.0,225.8 76.0,226.9 77.0,228.4 78.0,230.2 79.0,232.2 79.9,234.2 80.9,236.2 81.9,237.9 82.9,239.6 83.9,240.5 84.9,241.7 85.9,242.7 86.8,243.9 87.8,245.4 88.8,246.5 89.8,247.4 90.8,248.1 91.8,248.8 92.8,249.4 93.7,249.8 94.7,250.2 95.7,250.5 96.7,250.7 97.7,250.9 98.7,251.0 99.7,251.0 100.7,251.0 101.6,251.0 102.6,251.0 103.6,250.9 104.6,250.7 105.6,250.5 106.6,250.2 107.6,249.8 108.5,249.4 109.5,248.8 110.5,248.2 111.5,247.4 112.5,246.6 113.5,245.5 114.5,244.5 115.4,243.3 116.4,241.9 117.4,240.5 118.4,239.2 119.4,237.9 120.4,236.2 121.4,234.4 122.3,232.3 123.3,230.7 124.3,229.1 125.3,227.6 126.3,226.3 127.3,225.0 128.3,224.0 129.2,223.3 130.2,222.6 131.2,222.0 132.2,221.4 133.2,220.7 134.2,220.2 135.2,218.9 136.1,217.0 137.1,213.8 138.1,209.8 139.1,205.1 140.1,200.4 141.1,197.3 142.1,196.0 143.0,196.5 144.0,198.1 145.0,200.1 146.0,202.4 147.0,205.4 148.0,207.9 149.0,210.6 150.0,213.4 150.9,215.3 151.9,217.7 152.9,219.4 153.9,220.6 154.9,221.8 155.9,222.4 156.9,223.0 157.8,223.1 158.8,223.1 159.8,222.9 160.8,222.5 161.8,222.6 162.8,222.4 163.8,222.1 164.7,222.1 165.7,221.8 166.7,221.6 167.7,221.7 168.7,221.5 169.7,221.6 170.7,222.2 171.6,222.3 172.6,222.6 173.6,222.6 174.6,222.3V480H26.7Z" fill="url(#g22)"/>
<path d="M26.7,224.2 27.7,224.3 28.7,224.6 29.7,224.5 30.6,224.6 31.6,224.8 32.6,224.8 33.6,225.1 34.6,225.2 35.6,225.2 36.6,225.3 37.5,225.1 38.5,224.9 39.5,224.6 40.5,224.4 41.5,224.1 42.5,224.0 43.5,223.7 44.4,223.5 45.4,223.0 46.4,222.6 47.4,222.1 48.4,221.1 49.4,220.4 50.4,219.4 51.3,218.4 52.3,217.6 53.3,216.6 54.3,215.7 55.3,214.9 56.3,214.0 57.3,213.3 58.3,212.8 59.2,212.6 60.2,213.2 61.2,214.0 62.2,215.4 63.2,216.9 64.2,218.3 65.2,219.8 66.1,221.1 67.1,222.1 68.1,223.0 69.1,223.9 70.1,224.7 71.1,225.5 72.1,226.6 73.0,227.6 74.0,228.6 75.0,230.0 76.0,231.2 77.0,232.7 78.0,234.5 79.0,236.2 79.9,238.1 80.9,239.9 81.9,241.7 82.9,243.4 83.9,244.7 84.9,246.2 85.9,247.2 86.8,248.4 87.8,249.7 88.8,250.8 89.8,251.6 90.8,252.3 91.8,253.0 92.8,253.5 93.7,254.0 94.7,254.4 95.7,254.7 96.7,254.9 97.7,255.0 98.7,255.1 99.7,255.2 100.7,255.2 101.6,255.2 102.6,255.1 103.6,255.0 104.6,254.9 105.6,254.7 106.6,254.4 107.6,254.0 108.5,253.6 109.5,253.0 110.5,252.4 111.5,251.6 112.5,250.8 113.5,249.8 114.5,248.7 115.4,247.6 116.4,246.1 117.4,244.9 118.4,243.6 119.4,242.1 120.4,240.5 121.4,238.7 122.3,236.8 123.3,235.1 124.3,233.2 125.3,231.7 126.3,230.3 127.3,229.0 128.3,228.3 129.2,227.5 130.2,226.9 131.2,226.4 132.2,225.7 133.2,225.3 134.2,224.6 135.2,223.5 136.1,221.8 137.1,218.7 138.1,214.4 139.1,208.7 140.1,203.1 141.1,198.8 142.1,197.2 143.0,197.9 144.0,199.5 145.0,201.9 146.0,204.9 147.0,208.3 148.0,211.6 149.0,214.8 150.0,217.8 150.9,220.2 151.9,222.5 152.9,224.1 153.9,225.2 154.9,226.1 155.9,226.5 156.9,227.0 157.8,227.1 158.8,227.1 159.8,227.1 160.8,227.0 161.8,227.2 162.8,227.0 163.8,226.8 164.7,226.7 165.7,226.5 166.7,226.4 167.7,226.3 168.7,226.2 169.7,226.1 170.7,226.3 171.6,226.4 172.6,226.5 173.6,226.6 174.6,226.5V480H26.7Z" fill="url(#g23)"/>
<path d="M26.7,219.3 27.7,219.4 28.7,219.6 29.7,219.4 30.6,219.6 31.6,219.6 32.6,219.7 33.6,220.3 34.6,220.5 35.6,220.6 36.6,220.7 37.5,220.4 38.5,220.4 39.5,220.4 40.5,220.3 41.5,220.3 42.5,220.3 43.5,220.3 44.4,220.2 45.4,220.2 46.4,219.9 47.4,219.5 48.4,218.7 49.4,218.0 50.4,217.3 51.3,216.4 52.3,215.7 53.3,214.7 54.3,213.6 55.3,213.0 56.3,212.2 57.3,211.6 58.3,211.2 59.2,210.9 60.2,211.3 61.2,211.8 62.2,212.9 63.2,214.0 64.2,215.0 65.2,216.4 66.1,217.5 67.1,218.4 68.1,219.4 69.1,220.2 70.1,221.0 71.1,221.9 72.1,222.9 73.0,223.7 74.0,224.8 75.0,225.8 76.0,226.9 77.0,228.4 78.0,230.2 79.0,232.2 79.9,234.2 80.9,236.2 81.9,237.9 82.9,239.6 83.9,240.5 84.9,241.7 85.9,242.7 86.8,243.9 87.8,245.4 88.8,246.5 89.8,247.4 90.8,248.1 91.8,248.8 92.8,249.4 93.7,249.8 94.7,250.2 95.7,250.5 96.7,250.7 97.7,250.9 98.7,251.0 99.7,251.0 100.7,251.0 101.6,251.0 102.6,251.0 103.6,250.9 104.6,250.7 105.6,250.5 106.6,250.2 107.6,249.8 108.5,249.4 109.5,248.8 110.5,248.2 111.5,247.4 112.5,246.6 113.5,245.5 114.5,244.5 115.4,243.3 116.4,241.9 117.4,240.5 118.4,239.2 119.4,237.9 120.4,236.2 121.4,234.4 122.3,232.3 123.3,230.7 124.3,229.1 125.3,227.6 126.3,226.3 127.3,225.0 128.3,224.0 129.2,223.3 130.2,222.6 131.2,222.0 132.2,221.4 133.2,220.7 134.2,220.2 135.2,218.9 136.1,217.0 137.1,213.8 138.1,209.8 139.1,205.1 140.1,200.4 141.1,197.3 142.1,196.0 143.0,196.5 144.0,198.1 145.0,200.1 146.0,202.4 147.0,205.4 148.0,207.9 149.0,210.6 150.0,213.4 150.9,215.3 151.9,217.7 152.9,219.4 153.9,220.6 154.9,221.8 155.9,222.4 156.9,223.0 157.8,223.1 158.8,223.1 159.8,222.9 160.8,222.5 161.8,222.6 162.8,222.4 163.8,222.1 164.7,222.1 165.7,221.8 166.7,221.6 167.7,221.7 168.7,221.5 169.7,221.6 170.7,222.2 171.6,222.3 172.6,222.6 173.6,222.6 174.6,222.3" fill="none" stroke="#000" stroke-width="1.05"/>
<path d="M26.7,229.0 27.7,229.1 28.7,229.6 29.7,229.7 30.6,229.6 31.6,230.0 32.6,229.9 33.6,229.9 34.6,229.9 35.6,229.9 36.6,229.8 37.5,229.8 38.5,229.5 39.5,228.9 40.5,228.4 41.5,227.9 42.5,227.6 43.5,227.1 44.4,226.7 45.4,225.9 46.4,225.3 47.4,224.6 48.4,223.4 49.4,222.7 50.4,221.5 51.3,220.4 52.3,219.4 53.3,218.5 54.3,217.7 55.3,216.8 56.3,215.9 57.3,215.0 58.3,214.4 59.2,214.2 60.2,215.1 61.2,216.2 62.2,217.9 63.2,219.9 64.2,221.6 65.2,223.3 66.1,224.7 67.1,225.8 68.1,226.6 69.1,227.6 70.1,228.4 71.1,229.0 72.1,230.3 73.0,231.5 74.0,232.5 75.0,234.2 76.0,235.5 77.0,236.9 78.0,238.8 79.0,240.3 79.9,241.9 80.9,243.7 81.9,245.6 82.9,247.3 83.9,248.9 84.9,250.6 85.9,251.7 86.8,252.8 87.8,253.9 88.8,255.0 89.8,255.8 90.8,256.5 91.8,257.2 92.8,257.7 93.7,258.2 94.7,258.6 95.7,258.8 96.7,259.1 97.7,259.2 98.7,259.3 99.7,259.3 100.7,259.4 101.6,259.3 102.6,259.3 103.6,259.2 104.6,259.1 105.6,258.8 106.6,258.6 107.6,258.2 108.5,257.7 109.5,257.2 110.5,256.6 111.5,255.8 112.5,255.0 113.5,254.1 114.5,252.9 115.4,251.9 116.4,250.4 117.4,249.2 118.4,248.0 119.4,246.4 120.4,244.9 121.4,242.9 122.3,241.2 123.3,239.5 124.3,237.4 125.3,235.9 126.3,234.2 127.3,233.1 128.3,232.6 129.2,231.7 130.2,231.3 131.2,230.8 132.2,230.1 133.2,229.8 134.2,229.1 135.2,228.1 136.1,226.5 137.1,223.6 138.1,218.9 139.1,212.4 140.1,205.8 141.1,200.3 142.1,198.4 143.0,199.3 144.0,201.0 145.0,203.7 146.0,207.4 147.0,211.3 148.0,215.3 149.0,219.1 150.0,222.3 150.9,225.1 151.9,227.2 152.9,228.9 153.9,229.8 154.9,230.4 155.9,230.7 156.9,231.0 157.8,231.1 158.8,231.2 159.8,231.4 160.8,231.5 161.8,231.7 162.8,231.7 163.8,231.6 164.7,231.3 165.7,231.2 166.7,231.2 167.7,230.9 168.7,230.8 169.7,230.6 170.7,230.5 171.6,230.5 172.6,230.4 173.6,230.6 174.6,230.6V480H26.7Z" fill="url(#g23)"/>
<path d="M26.7,232.4 27.7,232.5 28.7,232.8 29.7,232.8 30.6,232.7 31.6,232.9 32.6,232.9 33.6,233.0 34.6,233.1 35.6,233.1 36.6,233.2 37.5,233.3 38.5,233.2 39.5,233.1 40.5,233.0 41.5,233.0 42.5,233.3 43.5,233.3 44.4,233.3 45.4,233.3 46.4,233.2 47.4,233.2 48.4,232.8 49.4,232.4 50.4,231.6 51.3,230.8 52.3,229.8 53.3,228.8 54.3,227.9 55.3,226.8 56.3,225.8 57.3,224.7 58.3,224.0 59.2,223.5 60.2,223.7 61.2,224.4 62.2,225.3 63.2,226.5 64.2,227.6 65.2,228.6 66.1,229.7 67.1,230.7 68.1,231.3 69.1,232.3 70.1,233.1 71.1,233.8 72.1,235.0 73.0,236.0 74.0,237.0 75.0,238.5 76.0,240.0 77.0,241.5 78.0,243.5 79.0,245.1 79.9,246.7 80.9,248.4 81.9,250.1 82.9,251.8 83.9,253.4 84.9,254.9 85.9,256.0 86.8,257.1 87.8,258.2 88.8,259.2 89.8,260.0 90.8,260.7 91.8,261.4 92.8,261.9 93.7,262.3 94.7,262.7 95.7,263.0 96.7,263.2 97.7,263.4 98.7,263.5 99.7,263.5 100.7,263.5 101.6,263.5 102.6,263.5 103.6,263.4 104.6,263.2 105.6,263.0 106.6,262.7 107.6,262.3 108.5,261.9 109.5,261.4 110.5,260.8 111.5,260.0 112.5,259.2 113.5,258.2 114.5,256.9 115.4,255.8 116.4,254.5 117.4,253.3 118.4,252.2 119.4,250.6 120.4,249.0 121.4,247.3 122.3,245.6 123.3,244.1 124.3,242.3 125.3,240.7 126.3,239.2 127.3,237.7 128.3,236.8 129.2,235.9 130.2,235.2 131.2,234.6 132.2,233.8 133.2,232.9 134.2,231.7 135.2,230.1 136.1,228.1 137.1,225.3 138.1,221.9 139.1,217.8 140.1,214.3 141.1,211.6 142.1,211.0 143.0,212.1 144.0,213.4 145.0,215.6 146.0,218.1 147.0,220.8 148.0,223.6 149.0,226.4 150.0,228.4 150.9,230.4 151.9,232.0 152.9,233.1 153.9,233.9 154.9,234.4 155.9,234.6 156.9,234.9 157.8,235.0 158.8,235.1 159.8,235.3 160.8,235.3 161.8,235.5 162.8,235.5 163.8,235.5 164.7,235.4 165.7,235.5 166.7,235.5 167.7,235.4 168.7,235.5 169.7,235.4 170.7,235.4 171.6,235.4 172.6,235.3 173.6,235.2 174.6,235.1V480H26.7Z" fill="url(#g24)"/>
<path d="M26.7,229.0 27.7,229.1 28.7,229.6 29.7,229.7 30.6,229.6 31.6,230.0 32.6,229.9 33.6,229.9 34.6,229.9 35.6,229.9 36.6,229.8 37.5,229.8 38.5,229.5 39.5,228.9 40.5,228.4 41.5,227.9 42.5,227.6 43.5,227.1 44.4,226.7 45.4,225.9 46.4,225.3 47.4,224.6 48.4,223.4 49.4,222.7 50.4,221.5 51.3,220.4 52.3,219.4 53.3,218.5 54.3,217.7 55.3,216.8 56.3,215.9 57.3,215.0 58.3,214.4 59.2,214.2 60.2,215.1 61.2,216.2 62.2,217.9 63.2,219.9 64.2,221.6 65.2,223.3 66.1,224.7 67.1,225.8 68.1,226.6 69.1,227.6 70.1,228.4 71.1,229.0 72.1,230.3 73.0,231.5 74.0,232.5 75.0,234.2 76.0,235.5 77.0,236.9 78.0,238.8 79.0,240.3 79.9,241.9 80.9,243.7 81.9,245.6 82.9,247.3 83.9,248.9 84.9,250.6 85.9,251.7 86.8,252.8 87.8,253.9 88.8,255.0 89.8,255.8 90.8,256.5 91.8,257.2 92.8,257.7 93.7,258.2 94.7,258.6 95.7,258.8 96.7,259.1 97.7,259.2 98.7,259.3 99.7,259.3 100.7,259.4 101.6,259.3 102.6,259.3 103.6,259.2 104.6,259.1 105.6,258.8 106.6,258.6 107.6,258.2 108.5,257.7 109.5,257.2 110.5,256.6 111.5,255.8 112.5,255.0 113.5,254.1 114.5,252.9 115.4,251.9 116.4,250.4 117.4,249.2 118.4,248.0 119.4,246.4 120.4,244.9 121.4,242.9 122.3,241.2 123.3,239.5 124.3,237.4 125.3,235.9 126.3,234.2 127.3,233.1 128.3,232.6 129.2,231.7 130.2,231.3 131.2,230.8 132.2,230.1 133.2,229.8 134.2,229.1 135.2,228.1 136.1,226.5 137.1,223.6 138.1,218.9 139.1,212.4 140.1,205.8 141.1,200.3 142.1,198.4 143.0,199.3 144.0,201.0 145.0,203.7 146.0,207.4 147.0,211.3 148.0,215.3 149.0,219.1 150.0,222.3 150.9,225.1 151.9,227.2 152.9,228.9 153.9,229.8 154.9,230.4 155.9,230.7 156.9,231.0 157.8,231.1 158.8,231.2 159.8,231.4 160.8,231.5 161.8,231.7 162.8,231.7 163.8,231.6 164.7,231.3 165.7,231.2 166.7,231.2 167.7,230.9 168.7,230.8 169.7,230.6 170.7,230.5 171.6,230.5 172.6,230.4 173.6,230.6 174.6,230.6" fill="none" stroke="#000" stroke-width="1.05"/>
<path d="M26.7,235.8 27.7,235.9 28.7,235.9 29.7,236.0 30.6,235.7 31.6,235.8 32.6,235.9 33.6,236.1 34.6,236.3 35.6,236.4 36.6,236.6 37.5,236.8 38.5,237.0 39.5,237.3 40.5,237.7 41.5,238.0 42.5,238.9 43.5,239.4 44.4,239.9 45.4,240.8 46.4,241.0 47.4,241.7 48.4,242.1 49.4,242.0 50.4,241.7 51.3,241.3 52.3,240.3 53.3,239.2 54.3,238.0 55.3,236.9 56.3,235.6 57.3,234.5 58.3,233.6 59.2,232.7 60.2,232.3 61.2,232.5 62.2,232.7 63.2,233.0 64.2,233.6 65.2,233.8 66.1,234.6 67.1,235.5 68.1,236.0 69.1,237.0 70.1,237.8 71.1,238.7 72.1,239.8 73.0,240.6 74.0,241.6 75.0,242.8 76.0,244.5 77.0,246.2 78.0,248.2 79.0,249.9 79.9,251.4 80.9,253.2 81.9,254.7 82.9,256.4 83.9,257.9 84.9,259.1 85.9,260.4 86.8,261.5 87.8,262.5 88.8,263.4 89.8,264.2 90.8,264.9 91.8,265.5 92.8,266.1 93.7,266.5 94.7,266.9 95.7,267.2 96.7,267.4 97.7,267.5 98.7,267.6 99.7,267.7 100.7,267.7 101.6,267.7 102.6,267.6 103.6,267.5 104.6,267.4 105.6,267.2 106.6,266.9 107.6,266.5 108.5,266.1 109.5,265.5 110.5,264.9 111.5,264.2 112.5,263.4 113.5,262.2 114.5,260.9 115.4,259.7 116.4,258.6 117.4,257.5 118.4,256.4 119.4,254.9 120.4,253.2 121.4,251.8 122.3,250.0 123.3,248.8 124.3,247.3 125.3,245.6 126.3,244.2 127.3,242.3 128.3,241.0 129.2,240.0 130.2,239.2 131.2,238.4 132.2,237.5 133.2,235.9 134.2,234.2 135.2,232.2 136.1,229.6 137.1,227.1 138.1,224.8 139.1,223.2 140.1,222.7 141.1,222.9 142.1,223.7 143.0,224.8 144.0,225.9 145.0,227.4 146.0,228.9 147.0,230.2 148.0,231.9 149.0,233.6 150.0,234.5 150.9,235.8 151.9,236.7 152.9,237.2 153.9,237.9 154.9,238.3 155.9,238.5 156.9,238.7 157.8,238.9 158.8,238.9 159.8,239.2 160.8,239.2 161.8,239.2 162.8,239.4 163.8,239.5 164.7,239.4 165.7,239.9 166.7,239.8 167.7,239.9 168.7,240.3 169.7,240.2 170.7,240.4 171.6,240.3 172.6,240.2 173.6,239.9 174.6,239.6V480H26.7Z" fill="url(#g24)"/>
<path d="M26.7,241.5 27.7,241.7 28.7,241.9 29.7,242.0 30.6,242.0 31.6,241.7 32.6,241.6 33.6,241.6 34.6,241.5 35.6,241.5 36.6,241.4 37.5,241.4 38.5,241.6 39.5,241.8 40.5,242.2 41.5,242.5 42.5,243.1 43.5,243.5 44.4,243.9 45.4,244.4 46.4,244.5 47.4,244.9 48.4,245.0 49.4,245.1 50.4,244.8 51.3,244.3 52.3,243.7 53.3,243.0 54.3,242.1 55.3,241.5 56.3,240.7 57.3,239.8 58.3,239.3 59.2,238.5 60.2,238.1 61.2,238.0 62.2,237.9 63.2,237.9 64.2,238.2 65.2,238.3 66.1,238.8 67.1,239.5 68.1,240.0 69.1,241.0 70.1,241.9 71.1,242.8 72.1,243.9 73.0,244.9 74.0,246.1 75.0,247.4 76.0,249.1 77.0,250.9 78.0,252.9 79.0,254.7 79.9,256.2 80.9,257.8 81.9,259.2 82.9,260.8 83.9,262.3 84.9,263.5 85.9,264.6 86.8,265.5 87.8,266.5 88.8,267.6 89.8,268.4 90.8,269.1 91.8,269.7 92.8,270.2 93.7,270.6 94.7,271.0 95.7,271.3 96.7,271.5 97.7,271.7 98.7,271.8 99.7,271.8 100.7,271.8 101.6,271.8 102.6,271.8 103.6,271.7 104.6,271.5 105.6,271.3 106.6,271.0 107.6,270.6 108.5,270.2 109.5,269.7 110.5,269.1 111.5,268.4 112.5,267.6 113.5,266.5 114.5,265.4 115.4,264.4 116.4,263.2 117.4,262.2 118.4,261.0 119.4,259.5 120.4,258.0 121.4,256.4 122.3,254.7 123.3,253.3 124.3,251.8 125.3,250.1 126.3,248.5 127.3,246.7 128.3,245.0 129.2,243.6 130.2,242.2 131.2,240.8 132.2,239.4 133.2,237.7 134.2,236.1 135.2,234.6 136.1,233.1 137.1,231.9 138.1,231.0 139.1,230.7 140.1,230.8 141.1,231.4 142.1,232.2 143.0,233.2 144.0,234.2 145.0,235.2 146.0,236.3 147.0,237.2 148.0,238.1 149.0,239.2 150.0,239.7 150.9,240.4 151.9,241.1 152.9,241.6 153.9,241.9 154.9,242.3 155.9,242.3 156.9,242.2 157.8,242.4 158.8,242.5 159.8,242.6 160.8,242.6 161.8,242.7 162.8,242.7 163.8,242.8 164.7,242.7 165.7,242.8 166.7,242.8 167.7,242.7 168.7,243.0 169.7,243.0 170.7,243.2 171.6,243.2 172.6,243.2 173.6,243.0 174.6,242.7V480H26.7Z" fill="url(#g25)"/>
<path d="M26.7,235.8 27.7,235.9 28.7,235.9 29.7,236.0 30.6,235.7 31.6,235.8 32.6,235.9 33.6,236.1 34.6,236.3 35.6,236.4 36.6,236.6 37.5,236.8 38.5,237.0 39.5,237.3 40.5,237.7 41.5,238.0 42.5,238.9 43.5,239.4 44.4,239.9 45.4,240.8 46.4,241.0 47.4,241.7 48.4,242.1 49.4,242.0 50.4,241.7 51.3,241.3 52.3,240.3 53.3,239.2 54.3,238.0 55.3,236.9 56.3,235.6 57.3,234.5 58.3,233.6 59.2,232.7 60.2,232.3 61.2,232.5 62.2,232.7 63.2,233.0 64.2,233.6 65.2,233.8 66.1,234.6 67.1,235.5 68.1,236.0 69.1,237.0 70.1,237.8 71.1,238.7 72.1,239.8 73.0,240.6 74.0,241.6 75.0,242.8 76.0,244.5 77.0,246.2 78.0,248.2 79.0,249.9 79.9,251.4 80.9,253.2 81.9,254.7 82.9,256.4 83.9,257.9 84.9,259.1 85.9,260.4 86.8,261.5 87.8,262.5 88.8,263.4 89.8,264.2 90.8,264.9 91.8,265.5 92.8,266.1 93.7,266.5 94.7,266.9 95.7,267.2 96.7,267.4 97.7,267.5 98.7,267.6 99.7,267.7 100.7,267.7 101.6,267.7 102.6,267.6 103.6,267.5 104.6,267.4 105.6,267.2 106.6,266.9 107.6,266.5 108.5,266.1 109.5,265.5 110.5,264.9 111.5,264.2 112.5,263.4 113.5,262.2 114.5,260.9 115.4,259.7 116.4,258.6 117.4,257.5 118.4,256.4 119.4,254.9 120.4,253.2 121.4,251.8 122.3,250.0 123.3,248.8 124.3,247.3 125.3,245.6 126.3,244.2 127.3,242.3 128.3,241.0 129.2,240.0 130.2,239.2 131.2,238.4 132.2,237.5 133.2,235.9 134.2,234.2 135.2,232.2 136.1,229.6 137.1,227.1 138.1,224.8 139.1,223.2 140.1,222.7 141.1,222.9 142.1,223.7 143.0,224.8 144.0,225.9 145.0,227.4 146.0,228.9 147.0,230.2 148.0,231.9 149.0,233.6 150.0,234.5 150.9,235.8 151.9,236.7 152.9,237.2 153.9,237.9 154.9,238.3 155.9,238.5 156.9,238.7 157.8,238.9 158.8,238.9 159.8,239.2 160.8,239.2 161.8,239.2 162.8,239.4 163.8,239.5 164.7,239.4 165.7,239.9 166.7,239.8 167.7,239.9 168.7,240.3 169.7,240.2 170.7,240.4 171.6,240.3 172.6,240.2 173.6,239.9 174.6,239.6" fill="none" stroke="#000" stroke-width="1.05"/>
<path d="M26.7,247.1 27.7,247.5 28.7,247.9 29.7,248.1 30.6,248.2 31.6,247.7 32.6,247.3 33.6,247.1 34.6,246.8 35.6,246.7 36.6,246.2 37.5,246.1 38.5,246.1 39.5,246.4 40.5,246.7 41.5,246.9 42.5,247.4 43.5,247.6 44.4,247.9 45.4,248.0 46.4,248.0 47.4,248.1 48.4,248.0 49.4,248.1 50.4,248.0 51.3,247.4 52.3,247.1 53.3,246.8 54.3,246.1 55.3,246.1 56.3,245.7 57.3,245.2 58.3,245.0 59.2,244.4 60.2,243.9 61.2,243.6 62.2,243.2 63.2,242.9 64.2,242.8 65.2,242.8 66.1,243.0 67.1,243.5 68.1,244.0 69.1,245.0 70.1,246.0 71.1,246.9 72.1,248.1 73.0,249.3 74.0,250.6 75.0,252.1 76.0,253.8 77.0,255.6 78.0,257.5 79.0,259.5 79.9,260.9 80.9,262.4 81.9,263.7 82.9,265.2 83.9,266.7 84.9,267.8 85.9,268.8 86.8,269.6 87.8,270.5 88.8,271.8 89.8,272.5 90.8,273.2 91.8,273.8 92.8,274.3 93.7,274.8 94.7,275.1 95.7,275.4 96.7,275.7 97.7,275.8 98.7,275.9 99.7,276.0 100.7,276.0 101.6,276.0 102.6,275.9 103.6,275.8 104.6,275.7 105.6,275.4 106.6,275.1 107.6,274.8 108.5,274.3 109.5,273.8 110.5,273.2 111.5,272.6 112.5,271.8 113.5,270.8 114.5,269.9 115.4,269.0 116.4,267.8 117.4,266.9 118.4,265.6 119.4,264.1 120.4,262.7 121.4,261.1 122.3,259.5 123.3,257.9 124.3,256.4 125.3,254.6 126.3,252.7 127.3,251.0 128.3,249.1 129.2,247.3 130.2,245.3 131.2,243.2 132.2,241.4 133.2,239.5 134.2,238.1 135.2,237.0 136.1,236.6 137.1,236.7 138.1,237.1 139.1,238.1 140.1,238.9 141.1,239.8 142.1,240.7 143.0,241.6 144.0,242.4 145.0,243.1 146.0,243.6 147.0,244.1 148.0,244.4 149.0,244.7 150.0,245.0 150.9,245.0 151.9,245.4 152.9,245.9 153.9,245.8 154.9,246.2 155.9,246.1 156.9,245.7 157.8,246.0 158.8,246.0 159.8,245.9 160.8,246.1 161.8,246.1 162.8,246.1 163.8,246.2 164.7,245.9 165.7,245.7 166.7,245.7 167.7,245.6 168.7,245.7 169.7,245.9 170.7,246.0 171.6,246.1 172.6,246.2 173.6,246.0 174.6,245.9V480H26.7Z" fill="url(#g25)"/>
<path d="M26.7,249.3 27.7,249.8 28.7,249.9 29.7,249.9 30.6,250.0 31.6,249.6 32.6,249.4 33.6,249.5 34.6,249.4 35.6,249.4 36.6,249.5 37.5,249.4 38.5,249.6 39.5,249.9 40.5,250.4 41.5,250.8 42.5,251.3 43.5,251.7 44.4,252.1 45.4,252.5 46.4,252.8 47.4,253.0 48.4,253.0 49.4,253.1 50.4,253.1 51.3,252.8 52.3,252.5 53.3,252.3 54.3,251.6 55.3,251.5 56.3,251.1 57.3,250.6 58.3,250.5 59.2,249.9 60.2,249.5 61.2,249.2 62.2,248.8 63.2,248.5 64.2,248.6 65.2,248.4 66.1,248.4 67.1,248.2 68.1,247.4 69.1,246.4 70.1,244.9 71.1,243.4 72.1,242.0 73.0,241.3 74.0,242.0 75.0,245.3 76.0,251.2 77.0,257.0 78.0,261.0 79.0,263.7 79.9,265.4 80.9,266.8 81.9,268.2 82.9,269.6 83.9,271.1 84.9,272.4 85.9,273.3 86.8,274.1 87.8,275.0 88.8,275.9 89.8,276.7 90.8,277.3 91.8,277.9 92.8,278.4 93.7,278.9 94.7,279.3 95.7,279.6 96.7,279.8 97.7,280.0 98.7,280.1 99.7,280.1 100.7,280.2 101.6,280.1 102.6,280.1 103.6,280.0 104.6,279.8 105.6,279.6 106.6,279.3 107.6,278.9 108.5,278.5 109.5,277.9 110.5,277.4 111.5,276.7 112.5,275.9 113.5,275.1 114.5,274.2 115.4,273.2 116.4,272.0 117.4,271.0 118.4,269.8 119.4,268.5 120.4,267.1 121.4,265.6 122.3,264.1 123.3,262.5 124.3,260.9 125.3,258.5 126.3,254.8 127.3,249.7 128.3,244.0 129.2,240.8 130.2,239.9 131.2,239.9 132.2,241.1 133.2,242.0 134.2,243.1 135.2,244.0 136.1,244.6 137.1,245.2 138.1,245.6 139.1,246.1 140.1,246.5 141.1,247.0 142.1,247.5 143.0,248.0 144.0,248.4 145.0,248.7 146.0,248.9 147.0,249.0 148.0,249.1 149.0,249.2 150.0,249.3 150.9,249.3 151.9,249.6 152.9,250.0 153.9,250.1 154.9,250.4 155.9,250.3 156.9,250.2 157.8,250.3 158.8,250.3 159.8,250.2 160.8,250.3 161.8,250.4 162.8,250.3 163.8,250.6 164.7,250.5 165.7,250.4 166.7,250.6 167.7,250.6 168.7,250.7 169.7,250.8 170.7,250.8 171.6,250.9 172.6,250.7 173.6,250.6 174.6,250.3V480H26.7Z" fill="url(#g26)"/>
<path d="M26.7,247.1 27.7,247.5 28.7,247.9 29.7,248.1 30.6,248.2 31.6,247.7 32.6,247.3 33.6,247.1 34.6,246.8 35.6,246.7 36.6,246.2 37.5,246.1 38.5,246.1 39.5,246.4 40.5,246.7 41.5,246.9 42.5,247.4 43.5,247.6 44.4,247.9 45.4,248.0 46.4,248.0 47.4,248.1 48.4,248.0 49.4,248.1 50.4,248.0 51.3,247.4 52.3,247.1 53.3,246.8 54.3,246.1 55.3,246.1 56.3,245.7 57.3,245.2 58.3,245.0 59.2,244.4 60.2,243.9 61.2,243.6 62.2,243.2 63.2,242.9 64.2,242.8 65.2,242.8 66.1,243.0 67.1,243.5 68.1,244.0 69.1,245.0 70.1,246.0 71.1,246.9 72.1,248.1 73.0,249.3 74.0,250.6 75.0,252.1 76.0,253.8 77.0,255.6 78.0,257.5 79.0,259.5 79.9,260.9 80.9,262.4 81.9,263.7 82.9,265.2 83.9,266.7 84.9,267.8 85.9,268.8 86.8,269.6 87.8,270.5 88.8,271.8 89.8,272.5 90.8,273.2 91.8,273.8 92.8,274.3 93.7,274.8 94.7,275.1 95.7,275.4 96.7,275.7 97.7,275.8 98.7,275.9 99.7,276.0 100.7,276.0 101.6,276.0 102.6,275.9 103.6,275.8 104.6,275.7 105.6,275.4 106.6,275.1 107.6,274.8 108.5,274.3 109.5,273.8 110.5,273.2 111.5,272.6 112.5,271.8 113.5,270.8 114.5,269.9 115.4,269.0 116.4,267.8 117.4,266.9 118.4,265.6 119.4,264.1 120.4,262.7 121.4,261.1 122.3,259.5 123.3,257.9 124.3,256.4 125.3,254.6 126.3,252.7 127.3,251.0 128.3,249.1 129.2,247.3 130.2,245.3 131.2,243.2 132.2,241.4 133.2,239.5 134.2,238.1 135.2,237.0 136.1,236.6 137.1,236.7 138.1,237.1 139.1,238.1 140.1,238.9 141.1,239.8 142.1,240.7 143.0,241.6 144.0,242.4 145.0,243.1 146.0,243.6 147.0,244.1 148.0,244.4 149.0,244.7 150.0,245.0 150.9,245.0 151.9,245.4 152.9,245.9 153.9,245.8 154.9,246.2 155.9,246.1 156.9,245.7 157.8,246.0 158.8,246.0 159.8,245.9 160.8,246.1 161.8,246.1 162.8,246.1 163.8,246.2 164.7,245.9 165.7,245.7 166.7,245.7 167.7,245.6 168.7,245.7 169.7,245.9 170.7,246.0 171.6,246.1 172.6,246.2 173.6,246.0 174.6,245.9" fill="none" stroke="#000" stroke-width="1.05"/>
<path d="M26.7,251.5 27.7,252.0 28.7,251.9 29.7,251.8 30.6,251.8 31.6,251.5 32.6,251.5 33.6,251.9 34.6,251.9 35.6,252.2 36.6,252.7 37.5,252.7 38.5,253.1 39.5,253.5 40.5,254.0 41.5,254.7 42.5,255.2 43.5,255.8 44.4,256.4 45.4,256.9 46.4,257.6 47.4,257.9 48.4,258.1 49.4,258.1 50.4,258.2 51.3,258.3 52.3,257.9 53.3,257.8 54.3,257.1 55.3,256.8 56.3,256.5 57.3,256.1 58.3,256.1 59.2,255.4 60.2,255.0 61.2,254.8 62.2,254.4 63.2,254.1 64.2,254.4 65.2,254.1 66.1,253.9 67.1,252.9 68.1,250.8 69.1,247.9 70.1,243.9 71.1,240.0 72.1,236.0 73.0,233.3 74.0,233.3 75.0,238.4 76.0,248.6 77.0,258.5 78.0,264.5 79.0,268.0 79.9,269.8 80.9,271.1 81.9,272.6 82.9,274.0 83.9,275.5 84.9,276.9 85.9,277.8 86.8,278.5 87.8,279.5 88.8,280.0 89.8,280.8 90.8,281.4 91.8,282.0 92.8,282.6 93.7,283.0 94.7,283.4 95.7,283.7 96.7,283.9 97.7,284.1 98.7,284.2 99.7,284.3 100.7,284.3 101.6,284.3 102.6,284.2 103.6,284.1 104.6,283.9 105.6,283.7 106.6,283.4 107.6,283.0 108.5,282.6 109.5,282.1 110.5,281.5 111.5,280.8 112.5,280.1 113.5,279.4 114.5,278.5 115.4,277.4 116.4,276.2 117.4,275.0 118.4,273.9 119.4,272.9 120.4,271.6 121.4,270.2 122.3,268.7 123.3,267.2 124.3,265.4 125.3,262.4 126.3,256.9 127.3,248.4 128.3,238.9 129.2,234.3 130.2,234.4 131.2,236.6 132.2,240.8 133.2,244.5 134.2,248.2 135.2,251.1 136.1,252.7 137.1,253.7 138.1,254.1 139.1,254.1 140.1,254.1 141.1,254.2 142.1,254.2 143.0,254.4 144.0,254.4 145.0,254.3 146.0,254.2 147.0,254.0 148.0,253.8 149.0,253.7 150.0,253.7 150.9,253.7 151.9,253.8 152.9,254.1 153.9,254.3 154.9,254.5 155.9,254.6 156.9,254.7 157.8,254.6 158.8,254.5 159.8,254.4 160.8,254.4 161.8,254.6 162.8,254.5 163.8,254.9 164.7,255.1 165.7,255.1 166.7,255.5 167.7,255.6 168.7,255.8 169.7,255.7 170.7,255.6 171.6,255.6 172.6,255.2 173.6,255.1 174.6,254.8V480H26.7Z" fill="url(#g26)"/>
<path d="M26.7,256.2 27.7,256.4 28.7,256.3 29.7,256.3 30.6,256.2 31.6,256.0 32.6,256.2 33.6,256.4 34.6,256.4 35.6,256.7 36.6,257.0 37.5,257.2 38.5,257.5 39.5,257.9 40.5,258.4 41.5,258.8 42.5,259.3 43.5,259.8 44.4,260.2 45.4,260.6 46.4,260.9 47.4,261.1 48.4,261.1 49.4,261.3 50.4,261.4 51.3,261.3 52.3,261.2 53.3,260.8 54.3,260.3 55.3,260.1 56.3,259.6 57.3,259.3 58.3,259.0 59.2,258.4 60.2,258.0 61.2,257.6 62.2,257.2 63.2,256.8 64.2,256.7 65.2,256.4 66.1,256.1 67.1,255.6 68.1,254.4 69.1,253.2 70.1,251.8 71.1,250.4 72.1,249.4 73.0,249.2 74.0,250.4 75.0,254.1 76.0,260.4 77.0,266.3 78.0,270.3 79.0,272.8 79.9,274.5 80.9,275.9 81.9,277.0 82.9,278.3 83.9,279.6 84.9,280.8 85.9,281.9 86.8,282.7 87.8,283.6 88.8,284.1 89.8,284.9 90.8,285.5 91.8,286.1 92.8,286.6 93.7,287.1 94.7,287.5 95.7,287.8 96.7,288.0 97.7,288.2 98.7,288.4 99.7,288.5 100.7,288.5 101.6,288.5 102.6,288.4 103.6,288.2 104.6,288.0 105.6,287.8 106.6,287.5 107.6,287.1 108.5,286.6 109.5,286.1 110.5,285.5 111.5,284.9 112.5,284.2 113.5,283.5 114.5,282.6 115.4,281.6 116.4,280.4 117.4,279.3 118.4,278.2 119.4,277.1 120.4,276.0 121.4,274.6 122.3,273.3 123.3,271.9 124.3,270.3 125.3,268.1 126.3,264.8 127.3,259.9 128.3,254.6 129.2,251.8 130.2,251.3 131.2,251.9 132.2,253.5 133.2,254.9 134.2,256.2 135.2,257.2 136.1,257.1 137.1,256.8 138.1,255.9 139.1,254.6 140.1,253.3 141.1,252.3 142.1,251.4 143.0,251.0 144.0,251.0 145.0,251.2 146.0,251.6 147.0,252.0 148.0,252.6 149.0,253.3 150.0,254.0 150.9,254.8 151.9,255.6 152.9,256.4 153.9,257.1 154.9,257.8 155.9,258.4 156.9,258.7 157.8,258.9 158.8,259.0 159.8,259.2 160.8,259.4 161.8,259.6 162.8,259.7 163.8,260.0 164.7,260.1 165.7,260.2 166.7,260.6 167.7,260.6 168.7,260.9 169.7,260.9 170.7,260.7 171.6,260.4 172.6,260.2 173.6,259.8 174.6,259.5V480H26.7Z" fill="url(#g27)"/>
<path d="M26.7,251.5 27.7,252.0 28.7,251.9 29.7,251.8 30.6,251.8 31.6,251.5 32.6,251.5 33.6,251.9 34.6,251.9 35.6,252.2 36.6,252.7 37.5,252.7 38.5,253.1 39.5,253.5 40.5,254.0 41.5,254.7 42.5,255.2 43.5,255.8 44.4,256.4 45.4,256.9 46.4,257.6 47.4,257.9 48.4,258.1 49.4,258.1 50.4,258.2 51.3,258.3 52.3,257.9 53.3,257.8 54.3,257.1 55.3,256.8 56.3,256.5 57.3,256.1 58.3,256.1 59.2,255.4 60.2,255.0 61.2,254.8 62.2,254.4 63.2,254.1 64.2,254.4 65.2,254.1 66.1,253.9 67.1,252.9 68.1,250.8 69.1,247.9 70.1,243.9 71.1,240.0 72.1,236.0 73.0,233.3 74.0,233.3 75.0,238.4 76.0,248.6 77.0,258.5 78.0,264.5 79.0,268.0 79.9,269.8 80.9,271.1 81.9,272.6 82.9,274.0 83.9,275.5 84.9,276.9 85.9,277.8 86.8,278.5 87.8,279.5 88.8,280.0 89.8,280.8 90.8,281.4 91.8,282.0 92.8,282.6 93.7,283.0 94.7,283.4 95.7,283.7 96.7,283.9 97.7,284.1 98.7,284.2 99.7,284.3 100.7,284.3 101.6,284.3 102.6,284.2 103.6,284.1 104.6,283.9 105.6,283.7 106.6,283.4 107.6,283.0 108.5,282.6 109.5,282.1 110.5,281.5 111.5,280.8 112.5,280.1 113.5,279.4 114.5,278.5 115.4,277.4 116.4,276.2 117.4,275.0 118.4,273.9 119.4,272.9 120.4,271.6 121.4,270.2 122.3,268.7 123.3,267.2 124.3,265.4 125.3,262.4 126.3,256.9 127.3,248.4 128.3,238.9 129.2,234.3 130.2,234.4 131.2,236.6 132.2,240.8 133.2,244.5 134.2,248.2 135.2,251.1 136.1,252.7 137.1,253.7 138.1,254.1 139.1,254.1 140.1,254.1 141.1,254.2 142.1,254.2 143.0,254.4 144.0,254.4 145.0,254.3 146.0,254.2 147.0,254.0 148.0,253.8 149.0,253.7 150.0,253.7 150.9,253.7 151.9,253.8 152.9,254.1 153.9,254.3 154.9,254.5 155.9,254.6 156.9,254.7 157.8,254.6 158.8,254.5 159.8,254.4 160.8,254.4 161.8,254.6 162.8,254.5 163.8,254.9 164.7,255.1 165.7,255.1 166.7,255.5 167.7,255.6 168.7,255.8 169.7,255.7 170.7,255.6 171.6,255.6 172.6,255.2 173.6,255.1 174.6,254.8" fill="none" stroke="#000" stroke-width="1.05"/>
<path d="M26.7,260.8 27.7,260.8 28.7,260.7 29.7,260.7 30.6,260.7 31.6,260.5 32.6,260.9 33.6,260.9 34.6,260.9 35.6,261.3 36.6,261.4 37.5,261.7 38.5,262.0 39.5,262.3 40.5,262.7 41.5,262.8 42.5,263.4 43.5,263.7 44.4,264.0 45.4,264.2 46.4,264.3 47.4,264.4 48.4,264.2 49.4,264.6 50.4,264.5 51.3,264.4 52.3,264.6 53.3,263.9 54.3,263.6 55.3,263.3 56.3,262.8 57.3,262.5 58.3,261.9 59.2,261.3 60.2,260.9 61.2,260.4 62.2,260.0 63.2,259.5 64.2,259.1 65.2,258.7 66.1,258.3 67.1,258.3 68.1,258.1 69.1,258.5 70.1,259.6 71.1,260.9 72.1,262.8 73.0,265.1 74.0,267.5 75.0,269.7 76.0,272.2 77.0,274.1 78.0,276.1 79.0,277.6 79.9,279.1 80.9,280.6 81.9,281.3 82.9,282.5 83.9,283.7 84.9,284.7 85.9,286.0 86.8,286.9 87.8,287.6 88.8,288.2 89.8,288.9 90.8,289.6 91.8,290.2 92.8,290.7 93.7,291.2 94.7,291.6 95.7,291.9 96.7,292.2 97.7,292.4 98.7,292.5 99.7,292.6 100.7,292.6 101.6,292.6 102.6,292.5 103.6,292.4 104.6,292.2 105.6,291.9 106.6,291.6 107.6,291.2 108.5,290.7 109.5,290.2 110.5,289.6 111.5,289.0 112.5,288.3 113.5,287.5 114.5,286.7 115.4,285.7 116.4,284.7 117.4,283.6 118.4,282.5 119.4,281.4 120.4,280.4 121.4,279.0 122.3,277.9 123.3,276.6 124.3,275.2 125.3,273.9 126.3,272.7 127.3,271.4 128.3,270.2 129.2,269.3 130.2,268.2 131.2,267.1 132.2,266.3 133.2,265.3 134.2,264.2 135.2,263.2 136.1,261.6 137.1,259.8 138.1,257.7 139.1,255.2 140.1,252.6 141.1,250.3 142.1,248.6 143.0,247.6 144.0,247.6 145.0,248.0 146.0,249.0 147.0,250.1 148.0,251.4 149.0,253.0 150.0,254.3 150.9,255.9 151.9,257.4 152.9,258.7 153.9,260.0 154.9,261.1 155.9,262.1 156.9,262.8 157.8,263.2 158.8,263.5 159.8,264.0 160.8,264.3 161.8,264.5 162.8,264.8 163.8,265.0 164.7,265.1 165.7,265.3 166.7,265.7 167.7,265.7 168.7,265.9 169.7,266.0 170.7,265.7 171.6,265.3 172.6,265.1 173.6,264.5 174.6,264.1V480H26.7Z" fill="url(#g27)"/>
<path d="M26.7,264.8 27.7,264.8 28.7,264.9 29.7,264.8 30.6,264.9 31.6,264.9 32.6,265.2 33.6,265.1 34.6,265.1 35.6,265.4 36.6,265.4 37.5,265.6 38.5,265.8 39.5,265.9 40.5,266.2 41.5,266.4 42.5,266.7 43.5,266.8 44.4,267.0 45.4,267.2 46.4,267.3 47.4,267.3 48.4,267.3 49.4,267.3 50.4,267.2 51.3,267.1 52.3,266.9 53.3,266.4 54.3,266.2 55.3,265.8 56.3,265.3 57.3,265.1 58.3,264.6 59.2,264.2 60.2,263.9 61.2,263.7 62.2,263.6 63.2,263.6 64.2,263.9 65.2,264.2 66.1,264.7 67.1,265.3 68.1,265.7 69.1,266.5 70.1,267.5 71.1,268.7 72.1,270.1 73.0,271.8 74.0,273.6 75.0,275.4 76.0,277.4 77.0,279.0 78.0,280.6 79.0,281.9 79.9,283.2 80.9,284.5 81.9,285.5 82.9,286.8 83.9,287.9 84.9,288.9 85.9,289.9 86.8,290.7 87.8,291.4 88.8,292.2 89.8,292.9 90.8,293.6 91.8,294.2 92.8,294.7 93.7,295.2 94.7,295.6 95.7,296.0 96.7,296.3 97.7,296.5 98.7,296.7 99.7,296.8 100.7,296.8 101.6,296.8 102.6,296.7 103.6,296.5 104.6,296.3 105.6,296.0 106.6,295.6 107.6,295.2 108.5,294.7 109.5,294.2 110.5,293.6 111.5,293.0 112.5,292.2 113.5,291.6 114.5,290.8 115.4,290.0 116.4,289.0 117.4,287.9 118.4,286.7 119.4,285.7 120.4,284.6 121.4,283.2 122.3,282.2 123.3,280.8 124.3,279.6 125.3,278.5 126.3,277.1 127.3,275.9 128.3,274.8 129.2,273.7 130.2,272.6 131.2,271.6 132.2,270.8 133.2,269.9 134.2,269.0 135.2,268.1 136.1,266.8 137.1,265.5 138.1,263.8 139.1,261.8 140.1,259.5 141.1,257.2 142.1,255.2 143.0,253.5 144.0,252.5 145.0,251.9 146.0,252.0 147.0,252.7 148.0,253.5 149.0,254.5 150.0,255.4 150.9,256.5 151.9,257.6 152.9,258.5 153.9,259.6 154.9,260.6 155.9,261.5 156.9,262.3 157.8,262.9 158.8,263.3 159.8,263.9 160.8,264.4 161.8,264.7 162.8,265.2 163.8,265.4 164.7,265.6 165.7,266.0 166.7,266.3 167.7,266.4 168.7,266.8 169.7,267.1 170.7,267.1 171.6,267.0 172.6,267.1 173.6,266.7 174.6,266.6V480H26.7Z" fill="url(#g28)"/>
<path d="M26.7,260.8 27.7,260.8 28.7,260.7 29.7,260.7 30.6,260.7 31.6,260.5 32.6,260.9 33.6,260.9 34.6,260.9 35.6,261.3 36.6,261.4 37.5,261.7 38.5,262.0 39.5,262.3 40.5,262.7 41.5,262.8 42.5,263.4 43.5,263.7 44.4,264.0 45.4,264.2 46.4,264.3 47.4,264.4 48.4,264.2 49.4,264.6 50.4,264.5 51.3,264.4 52.3,264.6 53.3,263.9 54.3,263.6 55.3,263.3 56.3,262.8 57.3,262.5 58.3,261.9 59.2,261.3 60.2,260.9 61.2,260.4 62.2,260.0 63.2,259.5 64.2,259.1 65.2,258.7 66.1,258.3 67.1,258.3 68.1,258.1 69.1,258.5 70.1,259.6 71.1,260.9 72.1,262.8 73.0,265.1 74.0,267.5 75.0,269.7 76.0,272.2 77.0,274.1 78.0,276.1 79.0,277.6 79.9,279.1 80.9,280.6 81.9,281.3 82.9,282.5 83.9,283.7 84.9,284.7 85.9,286.0 86.8,286.9 87.8,287.6 88.8,288.2 89.8,288.9 90.8,289.6 91.8,290.2 92.8,290.7 93.7,291.2 94.7,291.6 95.7,291.9 96.7,292.2 97.7,292.4 98.7,292.5 99.7,292.6 100.7,292.6 101.6,292.6 102.6,292.5 103.6,292.4 104.6,292.2 105.6,291.9 106.6,291.6 107.6,291.2 108.5,290.7 109.5,290.2 110.5,289.6 111.5,289.0 112.5,288.3 113.5,287.5 114.5,286.7 115.4,285.7 116.4,284.7 117.4,283.6 118.4,282.5 119.4,281.4 120.4,280.4 121.4,279.0 122.3,277.9 123.3,276.6 124.3,275.2 125.3,273.9 126.3,272.7 127.3,271.4 128.3,270.2 129.2,269.3 130.2,268.2 131.2,267.1 132.2,266.3 133.2,265.3 134.2,264.2 135.2,263.2 136.1,261.6 137.1,259.8 138.1,257.7 139.1,255.2 140.1,252.6 141.1,250.3 142.1,248.6 143.0,247.6 144.0,247.6 145.0,248.0 146.0,249.0 147.0,250.1 148.0,251.4 149.0,253.0 150.0,254.3 150.9,255.9 151.9,257.4 152.9,258.7 153.9,260.0 154.9,261.1 155.9,262.1 156.9,262.8 157.8,263.2 158.8,263.5 159.8,264.0 160.8,264.3 161.8,264.5 162.8,264.8 163.8,265.0 164.7,265.1 165.7,265.3 166.7,265.7 167.7,265.7 168.7,265.9 169.7,266.0 170.7,265.7 171.6,265.3 172.6,265.1 173.6,264.5 174.6,264.1" fill="none" stroke="#000" stroke-width="1.05"/>
<path d="M26.7,268.9 27.7,268.8 28.7,269.0 29.7,268.9 30.6,269.1 31.6,269.3 32.6,269.4 33.6,269.3 34.6,269.3 35.6,269.5 36.6,269.4 37.5,269.5 38.5,269.6 39.5,269.6 40.5,269.8 41.5,269.9 42.5,269.9 43.5,269.9 44.4,270.0 45.4,270.1 46.4,270.4 47.4,270.3 48.4,270.3 49.4,270.1 50.4,269.8 51.3,269.7 52.3,269.2 53.3,268.9 54.3,268.8 55.3,268.3 56.3,267.9 57.3,267.6 58.3,267.3 59.2,267.0 60.2,267.0 61.2,267.0 62.2,267.2 63.2,267.7 64.2,268.7 65.2,269.8 66.1,271.1 67.1,272.3 68.1,273.3 69.1,274.5 70.1,275.3 71.1,276.5 72.1,277.4 73.0,278.4 74.0,279.8 75.0,281.1 76.0,282.7 77.0,283.9 78.0,285.1 79.0,286.1 79.9,287.2 80.9,288.5 81.9,289.6 82.9,291.1 83.9,292.2 84.9,293.0 85.9,293.9 86.8,294.5 87.8,295.3 88.8,296.2 89.8,296.9 90.8,297.6 91.8,298.2 92.8,298.7 93.7,299.2 94.7,299.7 95.7,300.0 96.7,300.4 97.7,300.6 98.7,300.8 99.7,300.9 100.7,301.0 101.6,300.9 102.6,300.8 103.6,300.6 104.6,300.4 105.6,300.0 106.6,299.7 107.6,299.2 108.5,298.8 109.5,298.2 110.5,297.6 111.5,296.9 112.5,296.2 113.5,295.7 114.5,295.0 115.4,294.3 116.4,293.2 117.4,292.2 118.4,291.0 119.4,289.9 120.4,288.9 121.4,287.4 122.3,286.5 123.3,285.0 124.3,284.1 125.3,283.1 126.3,281.6 127.3,280.5 128.3,279.3 129.2,278.1 130.2,276.9 131.2,276.1 132.2,275.2 133.2,274.5 134.2,273.7 135.2,272.9 136.1,272.1 137.1,271.1 138.1,269.9 139.1,268.3 140.1,266.3 141.1,264.1 142.1,261.8 143.0,259.3 144.0,257.3 145.0,255.8 146.0,255.0 147.0,255.3 148.0,255.5 149.0,256.0 150.0,256.6 150.9,257.1 151.9,257.7 152.9,258.3 153.9,259.3 154.9,260.1 155.9,260.9 156.9,261.8 157.8,262.6 158.8,263.1 159.8,263.9 160.8,264.5 161.8,265.0 162.8,265.5 163.8,265.8 164.7,266.2 165.7,266.7 166.7,267.0 167.7,267.2 168.7,267.6 169.7,268.1 170.7,268.4 171.6,268.8 172.6,269.2 173.6,268.9 174.6,269.0V480H26.7Z" fill="url(#g28)"/>
<path d="M26.7,273.3 27.7,273.3 28.7,273.4 29.7,273.5 30.6,273.7 31.6,274.0 32.6,274.2 33.6,274.1 34.6,274.1 35.6,274.3 36.6,274.2 37.5,274.5 38.5,274.7 39.5,274.9 40.5,275.0 41.5,275.0 42.5,275.0 43.5,274.9 44.4,274.9 45.4,274.9 46.4,274.7 47.4,274.5 48.4,274.2 49.4,273.6 50.4,273.0 51.3,272.4 52.3,271.7 53.3,271.1 54.3,270.5 55.3,269.9 56.3,269.3 57.3,268.8 58.3,268.4 59.2,268.2 60.2,268.2 61.2,268.7 62.2,269.4 63.2,270.5 64.2,271.8 65.2,273.2 66.1,274.7 67.1,276.0 68.1,277.4 69.1,278.9 70.1,280.0 71.1,281.3 72.1,282.3 73.0,283.3 74.0,284.5 75.0,285.7 76.0,287.1 77.0,288.2 78.0,289.4 79.0,290.3 79.9,291.3 80.9,292.6 81.9,293.6 82.9,295.0 83.9,296.0 84.9,297.0 85.9,298.0 86.8,298.7 87.8,299.5 88.8,300.2 89.8,300.9 90.8,301.6 91.8,302.2 92.8,302.7 93.7,303.2 94.7,303.7 95.7,304.1 96.7,304.4 97.7,304.7 98.7,304.9 99.7,305.1 100.7,305.1 101.6,305.1 102.6,304.9 103.6,304.7 104.6,304.4 105.6,304.1 106.6,303.7 107.6,303.3 108.5,302.7 109.5,302.2 110.5,301.6 111.5,300.9 112.5,300.2 113.5,299.7 114.5,299.1 115.4,298.2 116.4,297.2 117.4,296.2 118.4,295.0 119.4,294.0 120.4,292.9 121.4,291.7 122.3,290.7 123.3,289.4 124.3,288.4 125.3,287.3 126.3,286.0 127.3,285.0 128.3,283.8 129.2,282.6 130.2,281.5 131.2,280.6 132.2,279.7 133.2,279.0 134.2,278.2 135.2,277.2 136.1,276.2 137.1,275.1 138.1,273.6 139.1,271.7 140.1,269.7 141.1,267.2 142.1,264.9 143.0,262.7 144.0,260.9 145.0,260.1 146.0,259.6 147.0,259.7 148.0,259.9 149.0,260.2 150.0,261.0 150.9,261.5 151.9,262.2 152.9,262.9 153.9,263.8 154.9,264.6 155.9,265.6 156.9,266.4 157.8,267.5 158.8,268.3 159.8,269.1 160.8,270.0 161.8,270.5 162.8,271.1 163.8,271.5 164.7,271.9 165.7,272.4 166.7,272.7 167.7,272.9 168.7,273.3 169.7,273.5 170.7,273.8 171.6,274.0 172.6,274.1 173.6,273.9 174.6,273.9V480H26.7Z" fill="url(#g29)"/>
<path d="M26.7,268.9 27.7,268.8 28.7,269.0 29.7,268.9 30.6,269.1 31.6,269.3 32.6,269.4 33.6,269.3 34.6,269.3 35.6,269.5 36.6,269.4 37.5,269.5 38.5,269.6 39.5,269.6 40.5,269.8 41.5,269.9 42.5,269.9 43.5,269.9 44.4,270.0 45.4,270.1 46.4,270.4 47.4,270.3 48.4,270.3 49.4,270.1 50.4,269.8 51.3,269.7 52.3,269.2 53.3,268.9 54.3,268.8 55.3,268.3 56.3,267.9 57.3,267.6 58.3,267.3 59.2,267.0 60.2,267.0 61.2,267.0 62.2,267.2 63.2,267.7 64.2,268.7 65.2,269.8 66.1,271.1 67.1,272.3 68.1,273.3 69.1,274.5 70.1,275.3 71.1,276.5 72.1,277.4 73.0,278.4 74.0,279.8 75.0,281.1 76.0,282.7 77.0,283.9 78.0,285.1 79.0,286.1 79.9,287.2 80.9,288.5 81.9,289.6 82.9,291.1 83.9,292.2 84.9,293.0 85.9,293.9 86.8,294.5 87.8,295.3 88.8,296.2 89.8,296.9 90.8,297.6 91.8,298.2 92.8,298.7 93.7,299.2 94.7,299.7 95.7,300.0 96.7,300.4 97.7,300.6 98.7,300.8 99.7,300.9 100.7,301.0 101.6,300.9 102.6,300.8 103.6,300.6 104.6,300.4 105.6,300.0 106.6,299.7 107.6,299.2 108.5,298.8 109.5,298.2 110.5,297.6 111.5,296.9 112.5,296.2 113.5,295.7 114.5,295.0 115.4,294.3 116.4,293.2 117.4,292.2 118.4,291.0 119.4,289.9 120.4,288.9 121.4,287.4 122.3,286.5 123.3,285.0 124.3,284.1 125.3,283.1 126.3,281.6 127.3,280.5 128.3,279.3 129.2,278.1 130.2,276.9 131.2,276.1 132.2,275.2 133.2,274.5 134.2,273.7 135.2,272.9 136.1,272.1 137.1,271.1 138.1,269.9 139.1,268.3 140.1,266.3 141.1,264.1 142.1,261.8 143.0,259.3 144.0,257.3 145.0,255.8 146.0,255.0 147.0,255.3 148.0,255.5 149.0,256.0 150.0,256.6 150.9,257.1 151.9,257.7 152.9,258.3 153.9,259.3 154.9,260.1 155.9,260.9 156.9,261.8 157.8,262.6 158.8,263.1 159.8,263.9 160.8,264.5 161.8,265.0 162.8,265.5 163.8,265.8 164.7,266.2 165.7,266.7 166.7,267.0 167.7,267.2 168.7,267.6 169.7,268.1 170.7,268.4 171.6,268.8 172.6,269.2 173.6,268.9 174.6,269.0" fill="none" stroke="#000" stroke-width="1.05"/>
<path d="M26.7,277.7 27.7,277.8 28.7,277.8 29.7,278.1 30.6,278.4 31.6,278.7 32.6,278.9 33.6,278.8 34.6,279.0 35.6,279.0 36.6,279.0 37.5,279.4 38.5,279.8 39.5,280.1 40.5,280.3 41.5,280.2 42.5,280.1 43.5,280.0 44.4,279.8 45.4,279.6 46.4,279.1 47.4,278.6 48.4,278.0 49.4,277.1 50.4,276.2 51.3,275.0 52.3,274.1 53.3,273.2 54.3,272.2 55.3,271.5 56.3,270.7 57.3,270.0 58.3,269.5 59.2,269.3 60.2,269.4 61.2,270.4 62.2,271.6 63.2,273.2 64.2,274.9 65.2,276.5 66.1,278.3 67.1,279.8 68.1,281.5 69.1,283.3 70.1,284.7 71.1,286.1 72.1,287.2 73.0,288.2 74.0,289.2 75.0,290.3 76.0,291.5 77.0,292.5 78.0,293.6 79.0,294.5 79.9,295.4 80.9,296.6 81.9,297.5 82.9,298.9 83.9,299.9 84.9,300.9 85.9,302.2 86.8,302.8 87.8,303.7 88.8,304.1 89.8,304.9 90.8,305.5 91.8,306.2 92.8,306.7 93.7,307.3 94.7,307.7 95.7,308.2 96.7,308.5 97.7,308.8 98.7,309.0 99.7,309.2 100.7,309.3 101.6,309.2 102.6,309.0 103.6,308.8 104.6,308.5 105.6,308.2 106.6,307.7 107.6,307.3 108.5,306.7 109.5,306.2 110.5,305.5 111.5,304.9 112.5,304.1 113.5,303.6 114.5,303.1 115.4,302.1 116.4,301.1 117.4,300.2 118.4,299.1 119.4,298.1 120.4,297.0 121.4,296.0 122.3,295.0 123.3,293.9 124.3,292.7 125.3,291.5 126.3,290.4 127.3,289.6 128.3,288.4 129.2,287.2 130.2,286.0 131.2,285.2 132.2,284.3 133.2,283.4 134.2,282.6 135.2,281.4 136.1,280.3 137.1,279.0 138.1,277.3 139.1,275.1 140.1,273.1 141.1,270.4 142.1,268.0 143.0,266.1 144.0,264.5 145.0,264.3 146.0,264.1 147.0,264.2 148.0,264.3 149.0,264.5 150.0,265.3 150.9,265.9 151.9,266.6 152.9,267.5 153.9,268.3 154.9,269.1 155.9,270.4 156.9,271.1 157.8,272.4 158.8,273.5 159.8,274.4 160.8,275.5 161.8,276.1 162.8,276.7 163.8,277.2 164.7,277.6 165.7,278.0 166.7,278.4 167.7,278.6 168.7,278.9 169.7,278.9 170.7,279.1 171.6,279.1 172.6,279.1 173.6,278.8 174.6,278.8V480H26.7Z" fill="url(#g29)"/>
<path d="M26.7,281.6 27.7,281.6 28.7,281.6 29.7,281.7 30.6,281.9 31.6,281.9 32.6,281.9 33.6,281.9 34.6,281.8 35.6,281.9 36.6,281.9 37.5,282.2 38.5,282.4 39.5,282.6 40.5,282.8 41.5,282.9 42.5,283.1 43.5,283.2 44.4,283.2 45.4,283.0 46.4,282.9 47.4,282.6 48.4,282.2 49.4,281.6 50.4,280.8 51.3,280.0 52.3,279.3 53.3,278.5 54.3,277.8 55.3,277.1 56.3,276.5 57.3,275.9 58.3,275.6 59.2,275.4 60.2,275.6 61.2,276.4 62.2,277.5 63.2,278.9 64.2,280.3 65.2,281.7 66.1,283.3 67.1,284.8 68.1,286.4 69.1,287.9 70.1,289.2 71.1,290.5 72.1,291.4 73.0,292.2 74.0,293.3 75.0,294.3 76.0,295.5 77.0,296.6 78.0,297.5 79.0,298.5 79.9,299.4 80.9,300.5 81.9,301.5 82.9,302.7 83.9,303.8 84.9,304.7 85.9,305.9 86.8,306.7 87.8,307.6 88.8,308.1 89.8,308.8 90.8,309.5 91.8,310.1 92.8,310.7 93.7,311.3 94.7,311.8 95.7,312.2 96.7,312.6 97.7,312.9 98.7,313.2 99.7,313.4 100.7,313.4 101.6,313.4 102.6,313.2 103.6,312.9 104.6,312.6 105.6,312.2 106.6,311.8 107.6,311.3 108.5,310.7 109.5,310.1 110.5,309.5 111.5,308.8 112.5,308.1 113.5,307.4 114.5,306.8 115.4,305.8 116.4,304.9 117.4,304.0 118.4,302.9 119.4,301.9 120.4,300.9 121.4,299.7 122.3,298.8 123.3,297.9 124.3,296.7 125.3,295.7 126.3,294.6 127.3,293.6 128.3,292.5 129.2,291.4 130.2,290.4 131.2,289.4 132.2,288.4 133.2,287.6 134.2,286.7 135.2,285.5 136.1,284.4 137.1,282.8 138.1,281.0 139.1,278.6 140.1,276.1 141.1,273.2 142.1,270.5 143.0,268.8 144.0,267.6 145.0,267.5 146.0,267.8 147.0,268.0 148.0,268.5 149.0,269.2 150.0,270.1 150.9,271.1 151.9,272.3 152.9,273.4 153.9,274.4 154.9,275.3 155.9,276.3 156.9,277.0 157.8,278.1 158.8,278.9 159.8,279.5 160.8,280.2 161.8,280.5 162.8,280.9 163.8,281.2 164.7,281.4 165.7,281.5 166.7,281.6 167.7,281.6 168.7,281.8 169.7,281.9 170.7,282.0 171.6,282.1 172.6,281.9 173.6,281.7 174.6,281.7V480H26.7Z" fill="url(#g30)"/>
<path d="M26.7,277.7 27.7,277.8 28.7,277.8 29.7,278.1 30.6,278.4 31.6,278.7 32.6,278.9 33.6,278.8 34.6,279.0 35.6,279.0 36.6,279.0 37.5,279.4 38.5,279.8 39.5,280.1 40.5,280.3 41.5,280.2 42.5,280.1 43.5,280.0 44.4,279.8 45.4,279.6 46.4,279.1 47.4,278.6 48.4,278.0 49.4,277.1 50.4,276.2 51.3,275.0 52.3,274.1 53.3,273.2 54.3,272.2 55.3,271.5 56.3,270.7 57.3,270.0 58.3,269.5 59.2,269.3 60.2,269.4 61.2,270.4 62.2,271.6 63.2,273.2 64.2,274.9 65.2,276.5 66.1,278.3 67.1,279.8 68.1,281.5 69.1,283.3 70.1,284.7 71.1,286.1 72.1,287.2 73.0,288.2 74.0,289.2 75.0,290.3 76.0,291.5 77.0,292.5 78.0,293.6 79.0,294.5 79.9,295.4 80.9,296.6 81.9,297.5 82.9,298.9 83.9,299.9 84.9,300.9 85.9,302.2 86.8,302.8 87.8,303.7 88.8,304.1 89.8,304.9 90.8,305.5 91.8,306.2 92.8,306.7 93.7,307.3 94.7,307.7 95.7,308.2 96.7,308.5 97.7,308.8 98.7,309.0 99.7,309.2 100.7,309.3 101.6,309.2 102.6,309.0 103.6,308.8 104.6,308.5 105.6,308.2 106.6,307.7 107.6,307.3 108.5,306.7 109.5,306.2 110.5,305.5 111.5,304.9 112.5,304.1 113.5,303.6 114.5,303.1 115.4,302.1 116.4,301.1 117.4,300.2 118.4,299.1 119.4,298.1 120.4,297.0 121.4,296.0 122.3,295.0 123.3,293.9 124.3,292.7 125.3,291.5 126.3,290.4 127.3,289.6 128.3,288.4 129.2,287.2 130.2,286.0 131.2,285.2 132.2,284.3 133.2,283.4 134.2,282.6 135.2,281.4 136.1,280.3 137.1,279.0 138.1,277.3 139.1,275.1 140.1,273.1 141.1,270.4 142.1,268.0 143.0,266.1 144.0,264.5 145.0,264.3 146.0,264.1 147.0,264.2 148.0,264.3 149.0,264.5 150.0,265.3 150.9,265.9 151.9,266.6 152.9,267.5 153.9,268.3 154.9,269.1 155.9,270.4 156.9,271.1 157.8,272.4 158.8,273.5 159.8,274.4 160.8,275.5 161.8,276.1 162.8,276.7 163.8,277.2 164.7,277.6 165.7,278.0 166.7,278.4 167.7,278.6 168.7,278.9 169.7,278.9 170.7,279.1 171.6,279.1 172.6,279.1 173.6,278.8 174.6,278.8" fill="none" stroke="#000" stroke-width="1.05"/>
<path d="M26.7,285.6 27.7,285.4 28.7,285.3 29.7,285.2 30.6,285.4 31.6,285.2 32.6,284.9 33.6,284.9 34.6,284.6 35.6,284.7 36.6,284.9 37.5,284.9 38.5,285.0 39.5,285.1 40.5,285.3 41.5,285.7 42.5,286.0 43.5,286.3 44.4,286.6 45.4,286.5 46.4,286.7 47.4,286.6 48.4,286.4 49.4,286.1 50.4,285.4 51.3,284.9 52.3,284.4 53.3,283.8 54.3,283.3 55.3,282.8 56.3,282.3 57.3,281.9 58.3,281.7 59.2,281.6 60.2,281.9 61.2,282.5 62.2,283.4 63.2,284.6 64.2,285.7 65.2,287.0 66.1,288.4 67.1,289.8 68.1,291.3 69.1,292.6 70.1,293.8 71.1,294.8 72.1,295.6 73.0,296.3 74.0,297.4 75.0,298.3 76.0,299.5 77.0,300.8 78.0,301.4 79.0,302.4 79.9,303.4 80.9,304.4 81.9,305.6 82.9,306.6 83.9,307.7 84.9,308.6 85.9,309.6 86.8,310.6 87.8,311.6 88.8,312.0 89.8,312.8 90.8,313.4 91.8,314.1 92.8,314.7 93.7,315.3 94.7,315.8 95.7,316.2 96.7,316.6 97.7,317.0 98.7,317.3 99.7,317.5 100.7,317.6 101.6,317.5 102.6,317.3 103.6,317.0 104.6,316.6 105.6,316.2 106.6,315.8 107.6,315.3 108.5,314.7 109.5,314.1 110.5,313.4 111.5,312.7 112.5,312.0 113.5,311.1 114.5,310.4 115.4,309.4 116.4,308.8 117.4,307.9 118.4,306.8 119.4,305.7 120.4,304.7 121.4,303.4 122.3,302.6 123.3,301.9 124.3,300.8 125.3,299.9 126.3,298.7 127.3,297.6 128.3,296.7 129.2,295.6 130.2,294.8 131.2,293.6 132.2,292.6 133.2,291.7 134.2,290.7 135.2,289.7 136.1,288.5 137.1,286.7 138.1,284.6 139.1,282.1 140.1,279.1 141.1,276.1 142.1,273.1 143.0,271.5 144.0,270.6 145.0,270.8 146.0,271.5 147.0,271.8 148.0,272.8 149.0,273.9 150.0,274.9 150.9,276.3 151.9,277.9 152.9,279.3 153.9,280.5 154.9,281.5 155.9,282.2 156.9,282.9 157.8,283.8 158.8,284.3 159.8,284.6 160.8,284.8 161.8,284.9 162.8,285.1 163.8,285.2 164.7,285.2 165.7,285.0 166.7,284.8 167.7,284.7 168.7,284.7 169.7,284.9 170.7,284.9 171.6,285.1 172.6,284.8 173.6,284.6 174.6,284.6V480H26.7Z" fill="url(#g30)"/>
<path d="M26.7,289.9 27.7,289.8 28.7,289.9 29.7,289.9 30.6,289.9 31.6,289.9 32.6,289.8 33.6,289.8 34.6,290.0 35.6,290.2 36.6,290.5 37.5,290.8 38.5,291.0 39.5,291.4 40.5,291.7 41.5,292.1 42.5,292.6 43.5,293.0 44.4,293.4 45.4,293.6 46.4,293.8 47.4,293.7 48.4,293.3 49.4,292.9 50.4,292.3 51.3,291.6 52.3,291.0 53.3,290.3 54.3,289.4 55.3,288.8 56.3,288.3 57.3,287.8 58.3,287.4 59.2,287.0 60.2,286.9 61.2,287.2 62.2,287.9 63.2,288.9 64.2,289.8 65.2,291.0 66.1,292.4 67.1,293.7 68.1,295.2 69.1,296.6 70.1,297.6 71.1,298.9 72.1,299.7 73.0,300.7 74.0,301.8 75.0,302.9 76.0,304.1 77.0,305.0 78.0,305.6 79.0,306.6 79.9,307.5 80.9,308.7 81.9,309.9 82.9,310.9 83.9,311.9 84.9,312.7 85.9,313.6 86.8,314.5 87.8,315.5 88.8,316.0 89.8,316.7 90.8,317.4 91.8,318.1 92.8,318.7 93.7,319.3 94.7,319.8 95.7,320.3 96.7,320.7 97.7,321.1 98.7,321.4 99.7,321.6 100.7,321.8 101.6,321.6 102.6,321.4 103.6,321.1 104.6,320.7 105.6,320.3 106.6,319.8 107.6,319.3 108.5,318.7 109.5,318.0 110.5,317.4 111.5,316.7 112.5,315.9 113.5,315.1 114.5,314.3 115.4,313.5 116.4,312.8 117.4,311.9 118.4,310.9 119.4,309.9 120.4,308.7 121.4,307.7 122.3,306.8 123.3,305.9 124.3,304.8 125.3,303.8 126.3,302.8 127.3,301.9 128.3,301.1 129.2,300.1 130.2,299.0 131.2,297.9 132.2,296.7 133.2,295.8 134.2,294.7 135.2,293.4 136.1,291.9 137.1,289.8 138.1,287.3 139.1,284.4 140.1,281.0 141.1,277.8 142.1,275.1 143.0,273.7 144.0,273.3 145.0,273.5 146.0,273.9 147.0,274.3 148.0,275.1 149.0,276.3 150.0,277.4 150.9,278.9 151.9,280.2 152.9,281.6 153.9,282.7 154.9,283.7 155.9,284.6 156.9,285.3 157.8,286.3 158.8,286.9 159.8,287.5 160.8,287.9 161.8,288.1 162.8,288.4 163.8,288.5 164.7,288.5 165.7,288.6 166.7,288.4 167.7,288.5 168.7,288.4 169.7,288.4 170.7,288.6 171.6,288.6 172.6,288.5 173.6,288.5 174.6,288.3V480H26.7Z" fill="url(#g31)"/>
<path d="M26.7,285.6 27.7,285.4 28.7,285.3 29.7,285.2 30.6,285.4 31.6,285.2 32.6,284.9 33.6,284.9 34.6,284.6 35.6,284.7 36.6,284.9 37.5,284.9 38.5,285.0 39.5,285.1 40.5,285.3 41.5,285.7 42.5,286.0 43.5,286.3 44.4,286.6 45.4,286.5 46.4,286.7 47.4,286.6 48.4,286.4 49.4,286.1 50.4,285.4 51.3,284.9 52.3,284.4 53.3,283.8 54.3,283.3 55.3,282.8 56.3,282.3 57.3,281.9 58.3,281.7 59.2,281.6 60.2,281.9 61.2,282.5 62.2,283.4 63.2,284.6 64.2,285.7 65.2,287.0 66.1,288.4 67.1,289.8 68.1,291.3 69.1,292.6 70.1,293.8 71.1,294.8 72.1,295.6 73.0,296.3 74.0,297.4 75.0,298.3 76.0,299.5 77.0,300.8 78.0,301.4 79.0,302.4 79.9,303.4 80.9,304.4 81.9,305.6 82.9,306.6 83.9,307.7 84.9,308.6 85.9,309.6 86.8,310.6 87.8,311.6 88.8,312.0 89.8,312.8 90.8,313.4 91.8,314.1 92.8,314.7 93.7,315.3 94.7,315.8 95.7,316.2 96.7,316.6 97.7,317.0 98.7,317.3 99.7,317.5 100.7,317.6 101.6,317.5 102.6,317.3 103.6,317.0 104.6,316.6 105.6,316.2 106.6,315.8 107.6,315.3 108.5,314.7 109.5,314.1 110.5,313.4 111.5,312.7 112.5,312.0 113.5,311.1 114.5,310.4 115.4,309.4 116.4,308.8 117.4,307.9 118.4,306.8 119.4,305.7 120.4,304.7 121.4,303.4 122.3,302.6 123.3,301.9 124.3,300.8 125.3,299.9 126.3,298.7 127.3,297.6 128.3,296.7 129.2,295.6 130.2,294.8 131.2,293.6 132.2,292.6 133.2,291.7 134.2,290.7 135.2,289.7 136.1,288.5 137.1,286.7 138.1,284.6 139.1,282.1 140.1,279.1 141.1,276.1 142.1,273.1 143.0,271.5 144.0,270.6 145.0,270.8 146.0,271.5 147.0,271.8 148.0,272.8 149.0,273.9 150.0,274.9 150.9,276.3 151.9,277.9 152.9,279.3 153.9,280.5 154.9,281.5 155.9,282.2 156.9,282.9 157.8,283.8 158.8,284.3 159.8,284.6 160.8,284.8 161.8,284.9 162.8,285.1 163.8,285.2 164.7,285.2 165.7,285.0 166.7,284.8 167.7,284.7 168.7,284.7 169.7,284.9 170.7,284.9 171.6,285.1 172.6,284.8 173.6,284.6 174.6,284.6" fill="none" stroke="#000" stroke-width="1.05"/>
<path d="M26.7,294.2 27.7,294.2 28.7,294.5 29.7,294.5 30.6,294.4 31.6,294.6 32.6,294.8 33.6,294.7 34.6,295.3 35.6,295.7 36.6,296.1 37.5,296.7 38.5,297.0 39.5,297.7 40.5,298.2 41.5,298.5 42.5,299.3 43.5,299.6 44.4,300.2 45.4,300.7 46.4,300.9 47.4,300.7 48.4,300.2 49.4,299.7 50.4,299.1 51.3,298.3 52.3,297.5 53.3,296.7 54.3,295.5 55.3,294.9 56.3,294.3 57.3,293.7 58.3,293.1 59.2,292.5 60.2,292.0 61.2,291.9 62.2,292.5 63.2,293.1 64.2,294.0 65.2,295.0 66.1,296.4 67.1,297.6 68.1,299.2 69.1,300.5 70.1,301.4 71.1,302.9 72.1,303.7 73.0,305.1 74.0,306.3 75.0,307.4 76.0,308.6 77.0,309.2 78.0,309.9 79.0,310.8 79.9,311.7 80.9,312.9 81.9,314.1 82.9,315.2 83.9,316.1 84.9,316.9 85.9,317.6 86.8,318.4 87.8,319.3 88.8,319.9 89.8,320.7 90.8,321.4 91.8,322.0 92.8,322.7 93.7,323.3 94.7,323.8 95.7,324.3 96.7,324.8 97.7,325.2 98.7,325.5 99.7,325.8 100.7,325.9 101.6,325.8 102.6,325.5 103.6,325.2 104.6,324.8 105.6,324.3 106.6,323.8 107.6,323.3 108.5,322.7 109.5,322.0 110.5,321.3 111.5,320.6 112.5,319.9 113.5,319.0 114.5,318.2 115.4,317.7 116.4,316.9 117.4,315.9 118.4,315.0 119.4,314.1 120.4,312.8 121.4,312.0 122.3,311.1 123.3,309.8 124.3,308.9 125.3,307.7 126.3,306.8 127.3,306.2 128.3,305.5 129.2,304.5 130.2,303.2 131.2,302.1 132.2,300.9 133.2,299.8 134.2,298.6 135.2,297.1 136.1,295.2 137.1,292.9 138.1,290.0 139.1,286.8 140.1,282.9 141.1,279.5 142.1,277.2 143.0,275.9 144.0,276.0 145.0,276.2 146.0,276.3 147.0,276.7 148.0,277.5 149.0,278.7 150.0,279.9 150.9,281.5 151.9,282.6 152.9,283.8 153.9,284.9 154.9,285.9 155.9,286.9 156.9,287.7 157.8,288.8 158.8,289.6 159.8,290.4 160.8,291.0 161.8,291.3 162.8,291.7 163.8,291.8 164.7,291.9 165.7,292.2 166.7,292.1 167.7,292.3 168.7,292.1 169.7,291.9 170.7,292.3 171.6,292.1 172.6,292.3 173.6,292.4 174.6,292.1V480H26.7Z" fill="url(#g31)"/>
<path d="M26.7,298.1 27.7,298.1 28.7,298.3 29.7,298.3 30.6,298.2 31.6,298.4 32.6,298.4 33.6,298.3 34.6,298.6 35.6,298.8 36.6,299.0 37.5,299.3 38.5,299.4 39.5,299.7 40.5,300.0 41.5,300.2 42.5,300.6 43.5,300.8 44.4,301.1 45.4,301.4 46.4,301.4 47.4,301.2 48.4,300.9 49.4,300.6 50.4,300.3 51.3,299.9 52.3,299.4 53.3,299.0 54.3,298.2 55.3,297.8 56.3,297.5 57.3,297.4 58.3,297.4 59.2,297.4 60.2,297.6 61.2,297.9 62.2,298.6 63.2,299.4 64.2,300.2 65.2,301.1 66.1,302.2 67.1,303.2 68.1,304.4 69.1,305.4 70.1,306.4 71.1,307.6 72.1,308.5 73.0,309.6 74.0,310.7 75.0,311.6 76.0,312.7 77.0,313.4 78.0,314.1 79.0,315.0 79.9,316.0 80.9,317.0 81.9,318.1 82.9,319.1 83.9,319.9 84.9,320.8 85.9,321.6 86.8,322.4 87.8,323.3 88.8,323.9 89.8,324.7 90.8,325.4 91.8,326.1 92.8,326.7 93.7,327.3 94.7,327.9 95.7,328.4 96.7,328.9 97.7,329.3 98.7,329.6 99.7,329.9 100.7,330.1 101.6,329.9 102.6,329.6 103.6,329.3 104.6,328.9 105.6,328.4 106.6,327.9 107.6,327.3 108.5,326.7 109.5,326.0 110.5,325.3 111.5,324.6 112.5,323.9 113.5,323.1 114.5,322.1 115.4,321.5 116.4,320.6 117.4,319.8 118.4,318.8 119.4,317.9 120.4,316.8 121.4,315.9 122.3,315.2 123.3,314.1 124.3,313.2 125.3,312.0 126.3,311.0 127.3,310.2 128.3,309.3 129.2,308.5 130.2,307.5 131.2,306.4 132.2,305.4 133.2,304.3 134.2,303.2 135.2,301.7 136.1,299.9 137.1,297.5 138.1,294.0 139.1,289.8 140.1,284.9 141.1,280.3 142.1,277.0 143.0,275.6 144.0,275.5 145.0,276.0 146.0,276.6 147.0,277.4 148.0,278.7 149.0,280.1 150.0,281.6 150.9,283.5 151.9,285.1 152.9,286.9 153.9,288.3 154.9,289.5 155.9,290.9 156.9,291.9 157.8,293.2 158.8,294.3 159.8,295.2 160.8,295.9 161.8,296.1 162.8,296.4 163.8,296.5 164.7,296.6 165.7,296.9 166.7,296.7 167.7,296.9 168.7,296.7 169.7,296.6 170.7,296.8 171.6,296.6 172.6,296.7 173.6,296.6 174.6,296.4V480H26.7Z" fill="url(#g32)"/>
<path d="M26.7,294.2 27.7,294.2 28.7,294.5 29.7,294.5 30.6,294.4 31.6,294.6 32.6,294.8 33.6,294.7 34.6,295.3 35.6,295.7 36.6,296.1 37.5,296.7 38.5,297.0 39.5,297.7 40.5,298.2 41.5,298.5 42.5,299.3 43.5,299.6 44.4,300.2 45.4,300.7 46.4,300.9 47.4,300.7 48.4,300.2 49.4,299.7 50.4,299.1 51.3,298.3 52.3,297.5 53.3,296.7 54.3,295.5 55.3,294.9 56.3,294.3 57.3,293.7 58.3,293.1 59.2,292.5 60.2,292.0 61.2,291.9 62.2,292.5 63.2,293.1 64.2,294.0 65.2,295.0 66.1,296.4 67.1,297.6 68.1,299.2 69.1,300.5 70.1,301.4 71.1,302.9 72.1,303.7 73.0,305.1 74.0,306.3 75.0,307.4 76.0,308.6 77.0,309.2 78.0,309.9 79.0,310.8 79.9,311.7 80.9,312.9 81.9,314.1 82.9,315.2 83.9,316.1 84.9,316.9 85.9,317.6 86.8,318.4 87.8,319.3 88.8,319.9 89.8,320.7 90.8,321.4 91.8,322.0 92.8,322.7 93.7,323.3 94.7,323.8 95.7,324.3 96.7,324.8 97.7,325.2 98.7,325.5 99.7,325.8 100.7,325.9 101.6,325.8 102.6,325.5 103.6,325.2 104.6,324.8 105.6,324.3 106.6,323.8 107.6,323.3 108.5,322.7 109.5,322.0 110.5,321.3 111.5,320.6 112.5,319.9 113.5,319.0 114.5,318.2 115.4,317.7 116.4,316.9 117.4,315.9 118.4,315.0 119.4,314.1 120.4,312.8 121.4,312.0 122.3,311.1 123.3,309.8 124.3,308.9 125.3,307.7 126.3,306.8 127.3,306.2 128.3,305.5 129.2,304.5 130.2,303.2 131.2,302.1 132.2,300.9 133.2,299.8 134.2,298.6 135.2,297.1 136.1,295.2 137.1,292.9 138.1,290.0 139.1,286.8 140.1,282.9 141.1,279.5 142.1,277.2 143.0,275.9 144.0,276.0 145.0,276.2 146.0,276.3 147.0,276.7 148.0,277.5 149.0,278.7 150.0,279.9 150.9,281.5 151.9,282.6 152.9,283.8 153.9,284.9 154.9,285.9 155.9,286.9 156.9,287.7 157.8,288.8 158.8,289.6 159.8,290.4 160.8,291.0 161.8,291.3 162.8,291.7 163.8,291.8 164.7,291.9 165.7,292.2 166.7,292.1 167.7,292.3 168.7,292.1 169.7,291.9 170.7,292.3 171.6,292.1 172.6,292.3 173.6,292.4 174.6,292.1" fill="none" stroke="#000" stroke-width="1.05"/>
<path d="M26.7,302.1 27.7,302.1 28.7,302.1 29.7,302.1 30.6,302.1 31.6,302.1 32.6,302.0 33.6,302.0 34.6,301.8 35.6,302.0 36.6,302.0 37.5,301.9 38.5,301.9 39.5,301.7 40.5,301.7 41.5,301.9 42.5,302.0 43.5,302.1 44.4,302.1 45.4,302.0 46.4,301.9 47.4,301.6 48.4,301.6 49.4,301.4 50.4,301.5 51.3,301.5 52.3,301.3 53.3,301.3 54.3,300.8 55.3,300.7 56.3,300.7 57.3,301.1 58.3,301.8 59.2,302.4 60.2,303.2 61.2,303.9 62.2,304.7 63.2,305.6 64.2,306.3 65.2,307.2 66.1,308.0 67.1,308.7 68.1,309.6 69.1,310.4 70.1,311.4 71.1,312.3 72.1,313.3 73.0,314.1 74.0,315.0 75.0,315.8 76.0,316.7 77.0,317.6 78.0,318.4 79.0,319.3 79.9,320.3 80.9,321.1 81.9,322.1 82.9,323.0 83.9,323.8 84.9,324.6 85.9,325.6 86.8,326.4 87.8,327.3 88.8,327.9 89.8,328.7 90.8,329.4 91.8,330.1 92.8,330.7 93.7,331.3 94.7,331.9 95.7,332.4 96.7,332.9 97.7,333.4 98.7,333.8 99.7,334.1 100.7,334.2 101.6,334.1 102.6,333.8 103.6,333.4 104.6,332.9 105.6,332.4 106.6,331.9 107.6,331.3 108.5,330.7 109.5,330.0 110.5,329.3 111.5,328.6 112.5,327.9 113.5,327.2 114.5,326.1 115.4,325.4 116.4,324.3 117.4,323.6 118.4,322.7 119.4,321.8 120.4,320.9 121.4,319.8 122.3,319.2 123.3,318.3 124.3,317.5 125.3,316.3 126.3,315.1 127.3,314.1 128.3,313.2 129.2,312.5 130.2,311.7 131.2,310.7 132.2,309.8 133.2,308.7 134.2,307.7 135.2,306.3 136.1,304.6 137.1,302.0 138.1,297.9 139.1,292.9 140.1,286.8 141.1,281.0 142.1,276.8 143.0,275.2 144.0,275.0 145.0,275.7 146.0,276.9 147.0,278.1 148.0,279.9 149.0,281.4 150.0,283.4 150.9,285.6 151.9,287.6 152.9,290.0 153.9,291.7 154.9,293.2 155.9,294.9 156.9,296.1 157.8,297.6 158.8,299.1 159.8,299.9 160.8,300.8 161.8,300.9 162.8,301.0 163.8,301.2 164.7,301.4 165.7,301.5 166.7,301.4 167.7,301.4 168.7,301.3 169.7,301.3 170.7,301.3 171.6,301.1 172.6,301.0 173.6,300.9 174.6,300.8V480H26.7Z" fill="url(#g32)"/>
<path d="M26.7,306.3 27.7,306.3 28.7,306.4 29.7,306.4 30.6,306.4 31.6,306.4 32.6,306.5 33.6,306.7 34.6,306.8 35.6,307.0 36.6,307.3 37.5,307.5 38.5,307.8 39.5,308.0 40.5,308.0 41.5,308.2 42.5,308.2 43.5,308.1 44.4,308.3 45.4,308.2 46.4,307.9 47.4,307.5 48.4,307.2 49.4,306.9 50.4,306.6 51.3,306.3 52.3,305.9 53.3,305.4 54.3,304.9 55.3,304.5 56.3,304.2 57.3,304.3 58.3,304.6 59.2,305.0 60.2,305.6 61.2,306.4 62.2,307.2 63.2,308.2 64.2,309.4 65.2,310.5 66.1,311.6 67.1,312.8 68.1,313.6 69.1,314.6 70.1,315.6 71.1,316.5 72.1,317.5 73.0,318.4 74.0,319.2 75.0,319.9 76.0,320.8 77.0,321.8 78.0,322.7 79.0,323.7 79.9,324.6 80.9,325.5 81.9,326.3 82.9,327.1 83.9,327.9 84.9,328.7 85.9,329.7 86.8,330.5 87.8,331.3 88.8,332.0 89.8,332.7 90.8,333.4 91.8,334.1 92.8,334.8 93.7,335.4 94.7,336.0 95.7,336.5 96.7,337.0 97.7,337.5 98.7,337.9 99.7,338.2 100.7,338.4 101.6,338.2 102.6,337.9 103.6,337.5 104.6,337.0 105.6,336.5 106.6,336.0 107.6,335.4 108.5,334.7 109.5,334.1 110.5,333.4 111.5,332.7 112.5,331.9 113.5,331.3 114.5,330.2 115.4,329.3 116.4,328.4 117.4,327.5 118.4,326.6 119.4,325.8 120.4,324.8 121.4,323.8 122.3,323.1 123.3,322.4 124.3,321.5 125.3,320.5 126.3,319.6 127.3,318.5 128.3,317.6 129.2,316.8 130.2,315.8 131.2,314.9 132.2,314.0 133.2,313.1 134.2,312.2 135.2,311.0 136.1,309.8 137.1,308.1 138.1,305.4 139.1,302.1 140.1,297.9 141.1,293.5 142.1,289.8 143.0,287.4 144.0,285.9 145.0,285.2 146.0,285.2 147.0,285.7 148.0,286.6 149.0,287.6 150.0,288.9 150.9,290.4 151.9,291.9 152.9,293.5 153.9,294.9 154.9,296.3 155.9,297.7 156.9,298.8 157.8,300.1 158.8,301.3 159.8,302.2 160.8,303.1 161.8,303.4 162.8,303.8 163.8,304.0 164.7,304.3 165.7,304.5 166.7,304.5 167.7,304.5 168.7,304.4 169.7,304.5 170.7,304.5 171.6,304.4 172.6,304.5 173.6,304.5 174.6,304.5V480H26.7Z" fill="url(#g33)"/>
<path d="M26.7,302.1 27.7,302.1 28.7,302.1 29.7,302.1 30.6,302.1 31.6,302.1 32.6,302.0 33.6,302.0 34.6,301.8 35.6,302.0 36.6,302.0 37.5,301.9 38.5,301.9 39.5,301.7 40.5,301.7 41.5,301.9 42.5,302.0 43.5,302.1 44.4,302.1 45.4,302.0 46.4,301.9 47.4,301.6 48.4,301.6 49.4,301.4 50.4,301.5 51.3,301.5 52.3,301.3 53.3,301.3 54.3,300.8 55.3,300.7 56.3,300.7 57.3,301.1 58.3,301.8 59.2,302.4 60.2,303.2 61.2,303.9 62.2,304.7 63.2,305.6 64.2,306.3 65.2,307.2 66.1,308.0 67.1,308.7 68.1,309.6 69.1,310.4 70.1,311.4 71.1,312.3 72.1,313.3 73.0,314.1 74.0,315.0 75.0,315.8 76.0,316.7 77.0,317.6 78.0,318.4 79.0,319.3 79.9,320.3 80.9,321.1 81.9,322.1 82.9,323.0 83.9,323.8 84.9,324.6 85.9,325.6 86.8,326.4 87.8,327.3 88.8,327.9 89.8,328.7 90.8,329.4 91.8,330.1 92.8,330.7 93.7,331.3 94.7,331.9 95.7,332.4 96.7,332.9 97.7,333.4 98.7,333.8 99.7,334.1 100.7,334.2 101.6,334.1 102.6,333.8 103.6,333.4 104.6,332.9 105.6,332.4 106.6,331.9 107.6,331.3 108.5,330.7 109.5,330.0 110.5,329.3 111.5,328.6 112.5,327.9 113.5,327.2 114.5,326.1 115.4,325.4 116.4,324.3 117.4,323.6 118.4,322.7 119.4,321.8 120.4,320.9 121.4,319.8 122.3,319.2 123.3,318.3 124.3,317.5 125.3,316.3 126.3,315.1 127.3,314.1 128.3,313.2 129.2,312.5 130.2,311.7 131.2,310.7 132.2,309.8 133.2,308.7 134.2,307.7 135.2,306.3 136.1,304.6 137.1,302.0 138.1,297.9 139.1,292.9 140.1,286.8 141.1,281.0 142.1,276.8 143.0,275.2 144.0,275.0 145.0,275.7 146.0,276.9 147.0,278.1 148.0,279.9 149.0,281.4 150.0,283.4 150.9,285.6 151.9,287.6 152.9,290.0 153.9,291.7 154.9,293.2 155.9,294.9 156.9,296.1 157.8,297.6 158.8,299.1 159.8,299.9 160.8,300.8 161.8,300.9 162.8,301.0 163.8,301.2 164.7,301.4 165.7,301.5 166.7,301.4 167.7,301.4 168.7,301.3 169.7,301.3 170.7,301.3 171.6,301.1 172.6,301.0 173.6,300.9 174.6,300.8" fill="none" stroke="#000" stroke-width="1.05"/>
<path d="M26.7,310.4 27.7,310.6 28.7,310.7 29.7,310.7 30.6,310.7 31.6,310.8 32.6,311.0 33.6,311.4 34.6,311.7 35.6,312.1 36.6,312.6 37.5,313.0 38.5,313.7 39.5,314.4 40.5,314.2 41.5,314.4 42.5,314.4 43.5,314.2 44.4,314.6 45.4,314.4 46.4,313.9 47.4,313.4 48.4,312.9 49.4,312.4 50.4,311.7 51.3,311.1 52.3,310.4 53.3,309.4 54.3,309.1 55.3,308.3 56.3,307.7 57.3,307.6 58.3,307.4 59.2,307.6 60.2,308.0 61.2,308.9 62.2,309.7 63.2,310.8 64.2,312.6 65.2,313.8 66.1,315.3 67.1,316.8 68.1,317.7 69.1,318.7 70.1,319.8 71.1,320.7 72.1,321.8 73.0,322.6 74.0,323.3 75.0,324.0 76.0,324.9 77.0,325.9 78.0,327.0 79.0,328.2 79.9,328.9 80.9,329.8 81.9,330.5 82.9,331.3 83.9,332.1 84.9,332.7 85.9,333.7 86.8,334.5 87.8,335.4 88.8,336.0 89.8,336.8 90.8,337.5 91.8,338.2 92.8,338.8 93.7,339.4 94.7,340.0 95.7,340.6 96.7,341.1 97.7,341.6 98.7,342.0 99.7,342.3 100.7,342.6 101.6,342.3 102.6,342.0 103.6,341.6 104.6,341.1 105.6,340.6 106.6,340.0 107.6,339.4 108.5,338.8 109.5,338.1 110.5,337.4 111.5,336.7 112.5,335.9 113.5,335.4 114.5,334.4 115.4,333.2 116.4,332.4 117.4,331.4 118.4,330.4 119.4,329.7 120.4,328.7 121.4,327.7 122.3,327.0 123.3,326.4 124.3,325.5 125.3,324.6 126.3,324.0 127.3,322.9 128.3,322.0 129.2,321.1 130.2,320.0 131.2,319.1 132.2,318.2 133.2,317.4 134.2,316.7 135.2,315.8 136.1,315.1 137.1,314.2 138.1,312.9 139.1,311.4 140.1,309.0 141.1,306.0 142.1,302.8 143.0,299.5 144.0,296.7 145.0,294.7 146.0,293.6 147.0,293.4 148.0,293.4 149.0,293.8 150.0,294.4 150.9,295.1 151.9,296.2 152.9,297.0 153.9,298.1 154.9,299.4 155.9,300.4 156.9,301.5 157.8,302.7 158.8,303.5 159.8,304.5 160.8,305.4 161.8,305.8 162.8,306.5 163.8,306.9 164.7,307.2 165.7,307.5 166.7,307.5 167.7,307.6 168.7,307.5 169.7,307.7 170.7,307.7 171.6,307.7 172.6,308.0 173.6,308.0 174.6,308.2V480H26.7Z" fill="url(#g33)"/>
<path d="M26.7,314.1 27.7,314.2 28.7,314.3 29.7,314.2 30.6,314.3 31.6,314.4 32.6,314.6 33.6,314.9 34.6,315.2 35.6,315.5 36.6,316.0 37.5,316.3 38.5,316.9 39.5,317.2 40.5,317.5 41.5,317.9 42.5,318.1 43.5,318.2 44.4,318.5 45.4,318.4 46.4,318.2 47.4,318.1 48.4,317.9 49.4,317.6 50.4,317.2 51.3,316.6 52.3,316.0 53.3,315.1 54.3,314.6 55.3,314.0 56.3,313.2 57.3,312.9 58.3,312.6 59.2,312.4 60.2,312.6 61.2,313.1 62.2,313.5 63.2,314.4 64.2,315.6 65.2,316.6 66.1,317.9 67.1,319.3 68.1,320.5 69.1,321.7 70.1,323.1 71.1,324.2 72.1,325.3 73.0,326.2 74.0,327.1 75.0,327.9 76.0,328.8 77.0,329.9 78.0,330.7 79.0,331.9 79.9,332.7 80.9,333.7 81.9,334.5 82.9,335.2 83.9,336.1 84.9,336.8 85.9,337.8 86.8,338.6 87.8,339.5 88.8,340.1 89.8,340.8 90.8,341.5 91.8,342.2 92.8,342.9 93.7,343.5 94.7,344.1 95.7,344.7 96.7,345.2 97.7,345.7 98.7,346.1 99.7,346.5 100.7,346.7 101.6,346.5 102.6,346.1 103.6,345.7 104.6,345.2 105.6,344.7 106.6,344.1 107.6,343.5 108.5,342.9 109.5,342.2 110.5,341.5 111.5,340.7 112.5,340.0 113.5,339.5 114.5,338.8 115.4,337.6 116.4,336.8 117.4,335.6 118.4,334.7 119.4,333.8 120.4,332.9 121.4,332.0 122.3,331.2 123.3,330.6 124.3,329.5 125.3,328.6 126.3,327.7 127.3,326.7 128.3,325.9 129.2,325.1 130.2,324.3 131.2,323.4 132.2,322.4 133.2,321.7 134.2,320.8 135.2,320.0 136.1,319.4 137.1,318.7 138.1,317.9 139.1,316.8 140.1,315.3 141.1,313.2 142.1,310.9 143.0,308.2 144.0,305.0 145.0,301.7 146.0,298.2 147.0,295.3 148.0,293.7 149.0,293.5 150.0,294.1 150.9,294.9 151.9,296.1 152.9,297.5 153.9,298.9 154.9,300.5 155.9,302.0 156.9,303.5 157.8,305.0 158.8,306.1 159.8,307.4 160.8,308.5 161.8,309.3 162.8,310.1 163.8,310.6 164.7,311.1 165.7,311.4 166.7,311.6 167.7,311.5 168.7,311.5 169.7,311.7 170.7,311.6 171.6,311.8 172.6,311.8 173.6,311.7 174.6,311.9V480H26.7Z" fill="url(#g34)"/>
<path d="M26.7,310.4 27.7,310.6 28.7,310.7 29.7,310.7 30.6,310.7 31.6,310.8 32.6,311.0 33.6,311.4 34.6,311.7 35.6,312.1 36.6,312.6 37.5,313.0 38.5,313.7 39.5,314.4 40.5,314.2 41.5,314.4 42.5,314.4 43.5,314.2 44.4,314.6 45.4,314.4 46.4,313.9 47.4,313.4 48.4,312.9 49.4,312.4 50.4,311.7 51.3,311.1 52.3,310.4 53.3,309.4 54.3,309.1 55.3,308.3 56.3,307.7 57.3,307.6 58.3,307.4 59.2,307.6 60.2,308.0 61.2,308.9 62.2,309.7 63.2,310.8 64.2,312.6 65.2,313.8 66.1,315.3 67.1,316.8 68.1,317.7 69.1,318.7 70.1,319.8 71.1,320.7 72.1,321.8 73.0,322.6 74.0,323.3 75.0,324.0 76.0,324.9 77.0,325.9 78.0,327.0 79.0,328.2 79.9,328.9 80.9,329.8 81.9,330.5 82.9,331.3 83.9,332.1 84.9,332.7 85.9,333.7 86.8,334.5 87.8,335.4 88.8,336.0 89.8,336.8 90.8,337.5 91.8,338.2 92.8,338.8 93.7,339.4 94.7,340.0 95.7,340.6 96.7,341.1 97.7,341.6 98.7,342.0 99.7,342.3 100.7,342.6 101.6,342.3 102.6,342.0 103.6,341.6 104.6,341.1 105.6,340.6 106.6,340.0 107.6,339.4 108.5,338.8 109.5,338.1 110.5,337.4 111.5,336.7 112.5,335.9 113.5,335.4 114.5,334.4 115.4,333.2 116.4,332.4 117.4,331.4 118.4,330.4 119.4,329.7 120.4,328.7 121.4,327.7 122.3,327.0 123.3,326.4 124.3,325.5 125.3,324.6 126.3,324.0 127.3,322.9 128.3,322.0 129.2,321.1 130.2,320.0 131.2,319.1 132.2,318.2 133.2,317.4 134.2,316.7 135.2,315.8 136.1,315.1 137.1,314.2 138.1,312.9 139.1,311.4 140.1,309.0 141.1,306.0 142.1,302.8 143.0,299.5 144.0,296.7 145.0,294.7 146.0,293.6 147.0,293.4 148.0,293.4 149.0,293.8 150.0,294.4 150.9,295.1 151.9,296.2 152.9,297.0 153.9,298.1 154.9,299.4 155.9,300.4 156.9,301.5 157.8,302.7 158.8,303.5 159.8,304.5 160.8,305.4 161.8,305.8 162.8,306.5 163.8,306.9 164.7,307.2 165.7,307.5 166.7,307.5 167.7,307.6 168.7,307.5 169.7,307.7 170.7,307.7 171.6,307.7 172.6,308.0 173.6,308.0 174.6,308.2" fill="none" stroke="#000" stroke-width="1.05"/>
<path d="M26.7,317.9 27.7,317.9 28.7,317.9 29.7,317.7 30.6,317.9 31.6,318.1 32.6,318.1 33.6,318.5 34.6,318.6 35.6,319.0 36.6,319.3 37.5,319.5 38.5,320.0 39.5,320.1 40.5,320.7 41.5,321.4 42.5,321.7 43.5,322.2 44.4,322.5 45.4,322.5 46.4,322.6 47.4,322.8 48.4,322.8 49.4,322.8 50.4,322.7 51.3,322.1 52.3,321.6 53.3,320.8 54.3,320.1 55.3,319.6 56.3,318.8 57.3,318.2 58.3,317.8 59.2,317.2 60.2,317.1 61.2,317.3 62.2,317.3 63.2,317.9 64.2,318.6 65.2,319.4 66.1,320.5 67.1,321.8 68.1,323.2 69.1,324.8 70.1,326.4 71.1,327.8 72.1,328.8 73.0,329.8 74.0,330.9 75.0,331.8 76.0,332.7 77.0,333.8 78.0,334.5 79.0,335.6 79.9,336.5 80.9,337.6 81.9,338.6 82.9,339.2 83.9,340.1 84.9,341.0 85.9,342.0 86.8,342.7 87.8,343.5 88.8,344.2 89.8,344.9 90.8,345.6 91.8,346.3 92.8,347.0 93.7,347.6 94.7,348.2 95.7,348.8 96.7,349.3 97.7,349.8 98.7,350.3 99.7,350.6 100.7,350.9 101.6,350.6 102.6,350.3 103.6,349.8 104.6,349.3 105.6,348.8 106.6,348.2 107.6,347.6 108.5,346.9 109.5,346.3 110.5,345.5 111.5,344.8 112.5,344.1 113.5,343.7 114.5,343.1 115.4,342.0 116.4,341.1 117.4,339.9 118.4,338.9 119.4,337.9 120.4,337.2 121.4,336.4 122.3,335.3 123.3,334.8 124.3,333.6 125.3,332.5 126.3,331.4 127.3,330.5 128.3,329.8 129.2,329.2 130.2,328.7 131.2,327.7 132.2,326.7 133.2,325.9 134.2,324.9 135.2,324.2 136.1,323.7 137.1,323.2 138.1,322.8 139.1,322.2 140.1,321.5 141.1,320.4 142.1,319.0 143.0,316.9 144.0,313.3 145.0,308.8 146.0,302.8 147.0,297.2 148.0,294.0 149.0,293.3 150.0,293.7 150.9,294.8 151.9,296.1 152.9,297.9 153.9,299.7 154.9,301.7 155.9,303.7 156.9,305.5 157.8,307.3 158.8,308.8 159.8,310.4 160.8,311.6 161.8,312.8 162.8,313.8 163.8,314.3 164.7,315.0 165.7,315.3 166.7,315.7 167.7,315.4 168.7,315.5 169.7,315.7 170.7,315.5 171.6,315.8 172.6,315.5 173.6,315.4 174.6,315.6V480H26.7Z" fill="url(#g34)"/>
<path d="M26.7,321.6 27.7,321.6 28.7,321.5 29.7,321.4 30.6,321.5 31.6,321.6 32.6,321.7 33.6,321.9 34.6,321.9 35.6,322.1 36.6,322.3 37.5,322.5 38.5,322.8 39.5,322.9 40.5,323.1 41.5,323.4 42.5,323.7 43.5,323.9 44.4,324.2 45.4,324.4 46.4,324.5 47.4,324.5 48.4,324.4 49.4,324.3 50.4,324.1 51.3,323.7 52.3,323.3 53.3,322.9 54.3,322.5 55.3,322.3 56.3,321.8 57.3,321.4 58.3,321.3 59.2,321.4 60.2,321.8 61.2,322.2 62.2,322.8 63.2,323.6 64.2,324.4 65.2,325.5 66.1,326.7 67.1,327.9 68.1,329.2 69.1,330.4 70.1,331.5 71.1,332.5 72.1,333.5 73.0,334.4 74.0,335.3 75.0,336.2 76.0,337.0 77.0,338.0 78.0,338.9 79.0,339.9 79.9,340.9 80.9,341.9 81.9,342.7 82.9,343.5 83.9,344.2 84.9,345.0 85.9,345.8 86.8,346.5 87.8,347.4 88.8,348.2 89.8,349.0 90.8,349.7 91.8,350.4 92.8,351.1 93.7,351.7 94.7,352.3 95.7,352.9 96.7,353.5 97.7,354.0 98.7,354.4 99.7,354.8 100.7,355.0 101.6,354.8 102.6,354.4 103.6,354.0 104.6,353.4 105.6,352.9 106.6,352.3 107.6,351.7 108.5,351.0 109.5,350.3 110.5,349.6 111.5,348.9 112.5,348.1 113.5,347.6 114.5,347.0 115.4,345.9 116.4,345.0 117.4,344.0 118.4,343.0 119.4,342.2 120.4,341.3 121.4,340.5 122.3,339.6 123.3,338.8 124.3,337.7 125.3,336.6 126.3,335.6 127.3,334.8 128.3,334.0 129.2,333.3 130.2,332.7 131.2,331.8 132.2,330.9 133.2,330.1 134.2,329.3 135.2,328.6 136.1,328.0 137.1,327.3 138.1,326.6 139.1,325.7 140.1,324.7 141.1,323.1 142.1,321.2 143.0,318.6 144.0,315.2 145.0,311.5 146.0,307.3 147.0,303.8 148.0,302.1 149.0,301.8 150.0,302.2 150.9,303.1 151.9,304.2 152.9,305.5 153.9,306.8 154.9,308.1 155.9,309.7 156.9,311.1 157.8,312.5 158.8,313.9 159.8,315.0 160.8,316.0 161.8,317.0 162.8,317.6 163.8,318.1 164.7,318.8 165.7,319.1 166.7,319.3 167.7,319.3 168.7,319.5 169.7,319.6 170.7,319.5 171.6,319.7 172.6,319.5 173.6,319.4 174.6,319.4V480H26.7Z" fill="url(#g35)"/>
<path d="M26.7,317.9 27.7,317.9 28.7,317.9 29.7,317.7 30.6,317.9 31.6,318.1 32.6,318.1 33.6,318.5 34.6,318.6 35.6,319.0 36.6,319.3 37.5,319.5 38.5,320.0 39.5,320.1 40.5,320.7 41.5,321.4 42.5,321.7 43.5,322.2 44.4,322.5 45.4,322.5 46.4,322.6 47.4,322.8 48.4,322.8 49.4,322.8 50.4,322.7 51.3,322.1 52.3,321.6 53.3,320.8 54.3,320.1 55.3,319.6 56.3,318.8 57.3,318.2 58.3,317.8 59.2,317.2 60.2,317.1 61.2,317.3 62.2,317.3 63.2,317.9 64.2,318.6 65.2,319.4 66.1,320.5 67.1,321.8 68.1,323.2 69.1,324.8 70.1,326.4 71.1,327.8 72.1,328.8 73.0,329.8 74.0,330.9 75.0,331.8 76.0,332.7 77.0,333.8 78.0,334.5 79.0,335.6 79.9,336.5 80.9,337.6 81.9,338.6 82.9,339.2 83.9,340.1 84.9,341.0 85.9,342.0 86.8,342.7 87.8,343.5 88.8,344.2 89.8,344.9 90.8,345.6 91.8,346.3 92.8,347.0 93.7,347.6 94.7,348.2 95.7,348.8 96.7,349.3 97.7,349.8 98.7,350.3 99.7,350.6 100.7,350.9 101.6,350.6 102.6,350.3 103.6,349.8 104.6,349.3 105.6,348.8 106.6,348.2 107.6,347.6 108.5,346.9 109.5,346.3 110.5,345.5 111.5,344.8 112.5,344.1 113.5,343.7 114.5,343.1 115.4,342.0 116.4,341.1 117.4,339.9 118.4,338.9 119.4,337.9 120.4,337.2 121.4,336.4 122.3,335.3 123.3,334.8 124.3,333.6 125.3,332.5 126.3,331.4 127.3,330.5 128.3,329.8 129.2,329.2 130.2,328.7 131.2,327.7 132.2,326.7 133.2,325.9 134.2,324.9 135.2,324.2 136.1,323.7 137.1,323.2 138.1,322.8 139.1,322.2 140.1,321.5 141.1,320.4 142.1,319.0 143.0,316.9 144.0,313.3 145.0,308.8 146.0,302.8 147.0,297.2 148.0,294.0 149.0,293.3 150.0,293.7 150.9,294.8 151.9,296.1 152.9,297.9 153.9,299.7 154.9,301.7 155.9,303.7 156.9,305.5 157.8,307.3 158.8,308.8 159.8,310.4 160.8,311.6 161.8,312.8 162.8,313.8 163.8,314.3 164.7,315.0 165.7,315.3 166.7,315.7 167.7,315.4 168.7,315.5 169.7,315.7 170.7,315.5 171.6,315.8 172.6,315.5 173.6,315.4 174.6,315.6" fill="none" stroke="#000" stroke-width="1.05"/>
<path d="M26.7,325.4 27.7,325.3 28.7,325.2 29.7,325.1 30.6,325.0 31.6,325.1 32.6,325.2 33.6,325.3 34.6,325.2 35.6,325.2 36.6,325.3 37.5,325.4 38.5,325.5 39.5,325.7 40.5,325.5 41.5,325.5 42.5,325.6 43.5,325.7 44.4,326.0 45.4,326.3 46.4,326.4 47.4,326.2 48.4,326.1 49.4,325.8 50.4,325.5 51.3,325.2 52.3,325.0 53.3,325.0 54.3,324.9 55.3,324.9 56.3,324.7 57.3,324.6 58.3,324.8 59.2,325.6 60.2,326.5 61.2,327.2 62.2,328.3 63.2,329.3 64.2,330.2 65.2,331.6 66.1,333.0 67.1,334.0 68.1,335.1 69.1,336.0 70.1,336.6 71.1,337.2 72.1,338.1 73.0,338.9 74.0,339.7 75.0,340.7 76.0,341.3 77.0,342.2 78.0,343.4 79.0,344.2 79.9,345.3 80.9,346.2 81.9,346.9 82.9,347.8 83.9,348.4 84.9,349.1 85.9,349.7 86.8,350.4 87.8,351.3 88.8,352.3 89.8,353.1 90.8,353.8 91.8,354.5 92.8,355.1 93.7,355.8 94.7,356.4 95.7,357.0 96.7,357.6 97.7,358.1 98.7,358.5 99.7,358.9 100.7,359.2 101.6,358.9 102.6,358.5 103.6,358.1 104.6,357.6 105.6,357.0 106.6,356.4 107.6,355.8 108.5,355.1 109.5,354.4 110.5,353.7 111.5,353.0 112.5,352.2 113.5,351.5 114.5,350.8 115.4,349.8 116.4,348.9 117.4,348.1 118.4,347.1 119.4,346.5 120.4,345.5 121.4,344.7 122.3,343.9 123.3,342.8 124.3,341.9 125.3,340.7 126.3,339.9 127.3,339.1 128.3,338.3 129.2,337.5 130.2,336.7 131.2,336.0 132.2,335.1 133.2,334.3 134.2,333.6 135.2,332.9 136.1,332.2 137.1,331.5 138.1,330.4 139.1,329.2 140.1,327.8 141.1,325.8 142.1,323.4 143.0,320.3 144.0,317.1 145.0,314.3 146.0,311.8 147.0,310.5 148.0,310.1 149.0,310.2 150.0,310.7 150.9,311.5 151.9,312.2 152.9,313.1 153.9,313.9 154.9,314.6 155.9,315.7 156.9,316.6 157.8,317.6 158.8,318.9 159.8,319.7 160.8,320.3 161.8,321.1 162.8,321.5 163.8,321.8 164.7,322.5 165.7,322.8 166.7,322.9 167.7,323.3 168.7,323.4 169.7,323.4 170.7,323.6 171.6,323.6 172.6,323.4 173.6,323.3 174.6,323.2V480H26.7Z" fill="url(#g35)"/>
<path d="M26.7,330.1 27.7,330.1 28.7,330.0 29.7,330.1 30.6,330.1 31.6,330.1 32.6,330.2 33.6,330.2 34.6,330.2 35.6,330.4 36.6,330.6 37.5,330.7 38.5,330.8 39.5,330.9 40.5,330.9 41.5,330.8 42.5,330.9 43.5,330.9 44.4,330.9 45.4,331.0 46.4,330.8 47.4,330.7 48.4,330.4 49.4,330.1 50.4,329.9 51.3,329.6 52.3,329.5 53.3,329.5 54.3,329.6 55.3,329.9 56.3,330.0 57.3,330.4 58.3,330.9 59.2,331.8 60.2,332.7 61.2,333.3 62.2,334.3 63.2,335.0 64.2,335.8 65.2,336.9 66.1,337.7 67.1,338.6 68.1,339.5 69.1,340.2 70.1,341.1 71.1,341.7 72.1,342.6 73.0,343.4 74.0,344.0 75.0,344.9 76.0,345.5 77.0,346.4 78.0,347.3 79.0,348.1 79.9,349.3 80.9,350.1 81.9,351.2 82.9,352.1 83.9,352.7 84.9,353.3 85.9,353.9 86.8,354.7 87.8,355.4 88.8,356.4 89.8,357.2 90.8,357.9 91.8,358.6 92.8,359.3 93.7,359.9 94.7,360.5 95.7,361.1 96.7,361.7 97.7,362.2 98.7,362.7 99.7,363.1 100.7,363.4 101.6,363.1 102.6,362.7 103.6,362.2 104.6,361.7 105.6,361.1 106.6,360.5 107.6,359.9 108.5,359.2 109.5,358.5 110.5,357.8 111.5,357.1 112.5,356.3 113.5,355.6 114.5,354.9 115.4,353.9 116.4,353.0 117.4,352.0 118.4,351.2 119.4,350.5 120.4,349.6 121.4,348.9 122.3,348.1 123.3,347.2 124.3,346.2 125.3,345.2 126.3,344.3 127.3,343.3 128.3,342.6 129.2,341.7 130.2,340.8 131.2,340.1 132.2,339.3 133.2,338.6 134.2,338.0 135.2,337.2 136.1,336.5 137.1,335.5 138.1,334.4 139.1,333.1 140.1,331.3 141.1,328.9 142.1,326.0 143.0,322.6 144.0,319.1 145.0,316.4 146.0,314.6 147.0,313.8 148.0,313.8 149.0,314.2 150.0,314.8 150.9,316.0 151.9,317.1 152.9,318.4 153.9,319.6 154.9,320.6 155.9,321.9 156.9,322.9 157.8,323.9 158.8,325.1 159.8,325.8 160.8,326.5 161.8,327.2 162.8,327.5 163.8,327.9 164.7,328.2 165.7,328.5 166.7,328.5 167.7,328.4 168.7,328.3 169.7,328.1 170.7,328.1 171.6,328.1 172.6,328.0 173.6,328.0 174.6,327.9V480H26.7Z" fill="url(#g36)"/>
<path d="M26.7,325.4 27.7,325.3 28.7,325.2 29.7,325.1 30.6,325.0 31.6,325.1 32.6,325.2 33.6,325.3 34.6,325.2 35.6,325.2 36.6,325.3 37.5,325.4 38.5,325.5 39.5,325.7 40.5,325.5 41.5,325.5 42.5,325.6 43.5,325.7 44.4,326.0 45.4,326.3 46.4,326.4 47.4,326.2 48.4,326.1 49.4,325.8 50.4,325.5 51.3,325.2 52.3,325.0 53.3,325.0 54.3,324.9 55.3,324.9 56.3,324.7 57.3,324.6 58.3,324.8 59.2,325.6 60.2,326.5 61.2,327.2 62.2,328.3 63.2,329.3 64.2,330.2 65.2,331.6 66.1,333.0 67.1,334.0 68.1,335.1 69.1,336.0 70.1,336.6 71.1,337.2 72.1,338.1 73.0,338.9 74.0,339.7 75.0,340.7 76.0,341.3 77.0,342.2 78.0,343.4 79.0,344.2 79.9,345.3 80.9,346.2 81.9,346.9 82.9,347.8 83.9,348.4 84.9,349.1 85.9,349.7 86.8,350.4 87.8,351.3 88.8,352.3 89.8,353.1 90.8,353.8 91.8,354.5 92.8,355.1 93.7,355.8 94.7,356.4 95.7,357.0 96.7,357.6 97.7,358.1 98.7,358.5 99.7,358.9 100.7,359.2 101.6,358.9 102.6,358.5 103.6,358.1 104.6,357.6 105.6,357.0 106.6,356.4 107.6,355.8 108.5,355.1 109.5,354.4 110.5,353.7 111.5,353.0 112.5,352.2 113.5,351.5 114.5,350.8 115.4,349.8 116.4,348.9 117.4,348.1 118.4,347.1 119.4,346.5 120.4,345.5 121.4,344.7 122.3,343.9 123.3,342.8 124.3,341.9 125.3,340.7 126.3,339.9 127.3,339.1 128.3,338.3 129.2,337.5 130.2,336.7 131.2,336.0 132.2,335.1 133.2,334.3 134.2,333.6 135.2,332.9 136.1,332.2 137.1,331.5 138.1,330.4 139.1,329.2 140.1,327.8 141.1,325.8 142.1,323.4 143.0,320.3 144.0,317.1 145.0,314.3 146.0,311.8 147.0,310.5 148.0,310.1 149.0,310.2 150.0,310.7 150.9,311.5 151.9,312.2 152.9,313.1 153.9,313.9 154.9,314.6 155.9,315.7 156.9,316.6 157.8,317.6 158.8,318.9 159.8,319.7 160.8,320.3 161.8,321.1 162.8,321.5 163.8,321.8 164.7,322.5 165.7,322.8 166.7,322.9 167.7,323.3 168.7,323.4 169.7,323.4 170.7,323.6 171.6,323.6 172.6,323.4 173.6,323.3 174.6,323.2" fill="none" stroke="#000" stroke-width="1.05"/>
<path d="M26.7,334.8 27.7,334.9 28.7,334.9 29.7,335.1 30.6,335.2 31.6,335.1 32.6,335.2 33.6,335.2 34.6,335.2 35.6,335.6 36.6,335.9 37.5,335.9 38.5,336.2 39.5,336.2 40.5,336.2 41.5,336.1 42.5,336.2 43.5,336.1 44.4,335.8 45.4,335.7 46.4,335.3 47.4,335.1 48.4,334.8 49.4,334.4 50.4,334.3 51.3,334.0 52.3,334.0 53.3,334.0 54.3,334.2 55.3,334.8 56.3,335.3 57.3,336.2 58.3,337.0 59.2,338.0 60.2,338.8 61.2,339.4 62.2,340.3 63.2,340.8 64.2,341.3 65.2,342.2 66.1,342.4 67.1,343.1 68.1,343.9 69.1,344.5 70.1,345.6 71.1,346.2 72.1,347.1 73.0,347.9 74.0,348.4 75.0,349.1 76.0,349.6 77.0,350.6 78.0,351.1 79.0,352.0 79.9,353.2 80.9,354.1 81.9,355.4 82.9,356.4 83.9,357.0 84.9,357.5 85.9,358.1 86.8,359.1 87.8,359.6 88.8,360.6 89.8,361.3 90.8,362.0 91.8,362.7 92.8,363.4 93.7,364.0 94.7,364.7 95.7,365.3 96.7,365.8 97.7,366.4 98.7,366.8 99.7,367.2 100.7,367.5 101.6,367.2 102.6,366.8 103.6,366.3 104.6,365.8 105.6,365.3 106.6,364.6 107.6,364.0 108.5,363.3 109.5,362.7 110.5,361.9 111.5,361.2 112.5,360.5 113.5,359.8 114.5,359.0 115.4,358.0 116.4,357.1 117.4,356.0 118.4,355.3 119.4,354.6 120.4,353.8 121.4,353.1 122.3,352.3 123.3,351.5 124.3,350.6 125.3,349.7 126.3,348.7 127.3,347.5 128.3,346.8 129.2,345.9 130.2,344.9 131.2,344.2 132.2,343.4 133.2,342.9 134.2,342.4 135.2,341.5 136.1,340.7 137.1,339.6 138.1,338.3 139.1,337.0 140.1,334.8 141.1,332.1 142.1,328.6 143.0,324.9 144.0,321.0 145.0,318.5 146.0,317.5 147.0,317.2 148.0,317.5 149.0,318.2 150.0,319.0 150.9,320.5 151.9,322.1 152.9,323.6 153.9,325.3 154.9,326.7 155.9,328.1 156.9,329.2 157.8,330.1 158.8,331.2 159.8,331.9 160.8,332.7 161.8,333.2 162.8,333.5 163.8,333.9 164.7,334.0 165.7,334.1 166.7,334.1 167.7,333.6 168.7,333.2 169.7,332.8 170.7,332.6 171.6,332.6 172.6,332.6 173.6,332.7 174.6,332.6V480H26.7Z" fill="url(#g36)"/>
<path d="M26.7,338.2 27.7,338.3 28.7,338.4 29.7,338.5 30.6,338.5 31.6,338.5 32.6,338.6 33.6,338.9 34.6,339.0 35.6,339.4 36.6,339.6 37.5,339.8 38.5,340.2 39.5,340.5 40.5,340.7 41.5,340.8 42.5,340.8 43.5,341.0 44.4,341.0 45.4,341.1 46.4,340.9 47.4,340.6 48.4,340.5 49.4,340.1 50.4,339.9 51.3,339.5 52.3,339.2 53.3,338.8 54.3,338.5 55.3,338.5 56.3,338.3 57.3,338.5 58.3,338.7 59.2,339.1 60.2,339.6 61.2,340.1 62.2,341.1 63.2,341.9 64.2,343.0 65.2,344.2 66.1,344.9 67.1,346.0 68.1,347.0 69.1,348.0 70.1,349.2 71.1,350.0 72.1,350.9 73.0,351.6 74.0,352.3 75.0,353.2 76.0,353.9 77.0,354.9 78.0,355.6 79.0,356.4 79.9,357.5 80.9,358.3 81.9,359.5 82.9,360.3 83.9,361.0 84.9,361.6 85.9,362.3 86.8,363.1 87.8,363.6 88.8,364.7 89.8,365.4 90.8,366.1 91.8,366.8 92.8,367.5 93.7,368.2 94.7,368.8 95.7,369.4 96.7,370.0 97.7,370.5 98.7,371.0 99.7,371.4 100.7,371.7 101.6,371.4 102.6,371.0 103.6,370.5 104.6,370.0 105.6,369.4 106.6,368.8 107.6,368.1 108.5,367.5 109.5,366.8 110.5,366.1 111.5,365.3 112.5,364.6 113.5,363.8 114.5,363.1 115.4,362.2 116.4,361.4 117.4,360.4 118.4,359.5 119.4,358.8 120.4,357.9 121.4,357.1 122.3,356.4 123.3,355.5 124.3,354.7 125.3,353.8 126.3,352.9 127.3,351.9 128.3,350.9 129.2,350.1 130.2,349.3 131.2,348.5 132.2,347.9 133.2,347.2 134.2,346.5 135.2,345.6 136.1,344.7 137.1,343.7 138.1,342.7 139.1,341.5 140.1,339.6 141.1,337.2 142.1,334.0 143.0,330.4 144.0,326.5 145.0,323.2 146.0,321.4 147.0,320.5 148.0,320.7 149.0,321.2 150.0,321.8 150.9,323.1 151.9,324.5 152.9,325.9 153.9,327.4 154.9,328.8 155.9,330.3 156.9,331.4 157.8,332.6 158.8,333.8 159.8,334.6 160.8,335.4 161.8,335.9 162.8,336.2 163.8,336.6 164.7,336.8 165.7,336.9 166.7,337.0 167.7,336.8 168.7,336.6 169.7,336.4 170.7,336.3 171.6,336.3 172.6,336.1 173.6,336.1 174.6,336.0V480H26.7Z" fill="url(#g37)"/>
<path d="M26.7,334.8 27.7,334.9 28.7,334.9 29.7,335.1 30.6,335.2 31.6,335.1 32.6,335.2 33.6,335.2 34.6,335.2 35.6,335.6 36.6,335.9 37.5,335.9 38.5,336.2 39.5,336.2 40.5,336.2 41.5,336.1 42.5,336.2 43.5,336.1 44.4,335.8 45.4,335.7 46.4,335.3 47.4,335.1 48.4,334.8 49.4,334.4 50.4,334.3 51.3,334.0 52.3,334.0 53.3,334.0 54.3,334.2 55.3,334.8 56.3,335.3 57.3,336.2 58.3,337.0 59.2,338.0 60.2,338.8 61.2,339.4 62.2,340.3 63.2,340.8 64.2,341.3 65.2,342.2 66.1,342.4 67.1,343.1 68.1,343.9 69.1,344.5 70.1,345.6 71.1,346.2 72.1,347.1 73.0,347.9 74.0,348.4 75.0,349.1 76.0,349.6 77.0,350.6 78.0,351.1 79.0,352.0 79.9,353.2 80.9,354.1 81.9,355.4 82.9,356.4 83.9,357.0 84.9,357.5 85.9,358.1 86.8,359.1 87.8,359.6 88.8,360.6 89.8,361.3 90.8,362.0 91.8,362.7 92.8,363.4 93.7,364.0 94.7,364.7 95.7,365.3 96.7,365.8 97.7,366.4 98.7,366.8 99.7,367.2 100.7,367.5 101.6,367.2 102.6,366.8 103.6,366.3 104.6,365.8 105.6,365.3 106.6,364.6 107.6,364.0 108.5,363.3 109.5,362.7 110.5,361.9 111.5,361.2 112.5,360.5 113.5,359.8 114.5,359.0 115.4,358.0 116.4,357.1 117.4,356.0 118.4,355.3 119.4,354.6 120.4,353.8 121.4,353.1 122.3,352.3 123.3,351.5 124.3,350.6 125.3,349.7 126.3,348.7 127.3,347.5 128.3,346.8 129.2,345.9 130.2,344.9 131.2,344.2 132.2,343.4 133.2,342.9 134.2,342.4 135.2,341.5 136.1,340.7 137.1,339.6 138.1,338.3 139.1,337.0 140.1,334.8 141.1,332.1 142.1,328.6 143.0,324.9 144.0,321.0 145.0,318.5 146.0,317.5 147.0,317.2 148.0,317.5 149.0,318.2 150.0,319.0 150.9,320.5 151.9,322.1 152.9,323.6 153.9,325.3 154.9,326.7 155.9,328.1 156.9,329.2 157.8,330.1 158.8,331.2 159.8,331.9 160.8,332.7 161.8,333.2 162.8,333.5 163.8,333.9 164.7,334.0 165.7,334.1 166.7,334.1 167.7,333.6 168.7,333.2 169.7,332.8 170.7,332.6 171.6,332.6 172.6,332.6 173.6,332.7 174.6,332.6" fill="none" stroke="#000" stroke-width="1.05"/>
<path d="M26.7,341.7 27.7,341.6 28.7,342.0 29.7,341.8 30.6,341.8 31.6,341.9 32.6,342.1 33.6,342.6 34.6,342.8 35.6,343.2 36.6,343.4 37.5,343.7 38.5,344.3 39.5,344.8 40.5,345.3 41.5,345.4 42.5,345.4 43.5,345.9 44.4,346.1 45.4,346.5 46.4,346.5 47.4,346.2 48.4,346.2 49.4,345.8 50.4,345.6 51.3,345.1 52.3,344.3 53.3,343.7 54.3,342.9 55.3,342.2 56.3,341.3 57.3,340.7 58.3,340.5 59.2,340.3 60.2,340.3 61.2,340.9 62.2,341.9 63.2,343.0 64.2,344.8 65.2,346.3 66.1,347.4 67.1,348.8 68.1,350.1 69.1,351.5 70.1,352.8 71.1,353.8 72.1,354.8 73.0,355.3 74.0,356.2 75.0,357.4 76.0,358.1 77.0,359.3 78.0,360.0 79.0,360.9 79.9,361.8 80.9,362.6 81.9,363.6 82.9,364.1 83.9,365.0 84.9,365.7 85.9,366.5 86.8,367.1 87.8,367.6 88.8,368.8 89.8,369.5 90.8,370.2 91.8,370.9 92.8,371.6 93.7,372.3 94.7,372.9 95.7,373.5 96.7,374.1 97.7,374.6 98.7,375.1 99.7,375.5 100.7,375.8 101.6,375.5 102.6,375.1 103.6,374.6 104.6,374.1 105.6,373.5 106.6,372.9 107.6,372.2 108.5,371.6 109.5,370.9 110.5,370.2 111.5,369.4 112.5,368.7 113.5,367.8 114.5,367.1 115.4,366.3 116.4,365.6 117.4,364.8 118.4,363.7 119.4,362.9 120.4,362.0 121.4,361.2 122.3,360.5 123.3,359.5 124.3,358.7 125.3,357.8 126.3,357.0 127.3,356.2 128.3,355.0 129.2,354.3 130.2,353.6 131.2,352.8 132.2,352.4 133.2,351.5 134.2,350.6 135.2,349.7 136.1,348.7 137.1,347.9 138.1,347.1 139.1,346.0 140.1,344.4 141.1,342.4 142.1,339.4 143.0,335.9 144.0,331.9 145.0,327.9 146.0,325.3 147.0,323.8 148.0,323.9 149.0,324.3 150.0,324.7 150.9,325.7 151.9,326.8 152.9,328.2 153.9,329.6 154.9,331.0 155.9,332.4 156.9,333.7 157.8,335.0 158.8,336.3 159.8,337.2 160.8,338.1 161.8,338.7 162.8,338.9 163.8,339.3 164.7,339.6 165.7,339.6 166.7,339.9 167.7,339.9 168.7,340.0 169.7,340.0 170.7,340.1 171.6,340.1 172.6,339.6 173.6,339.6 174.6,339.3V480H26.7Z" fill="url(#g37)"/>
<path d="M26.7,346.2 27.7,346.3 28.7,346.6 29.7,346.4 30.6,346.5 31.6,346.6 32.6,346.8 33.6,347.3 34.6,347.4 35.6,347.7 36.6,347.9 37.5,348.2 38.5,348.7 39.5,349.1 40.5,349.4 41.5,349.5 42.5,349.5 43.5,349.8 44.4,350.2 45.4,350.4 46.4,350.2 47.4,349.8 48.4,349.5 49.4,349.1 50.4,348.9 51.3,348.3 52.3,347.7 53.3,347.1 54.3,346.5 55.3,346.2 56.3,345.8 57.3,345.4 58.3,345.4 59.2,345.6 60.2,345.9 61.2,346.6 62.2,347.8 63.2,348.9 64.2,350.4 65.2,351.6 66.1,352.6 67.1,353.8 68.1,354.9 69.1,356.3 70.1,357.3 71.1,358.3 72.1,359.1 73.0,359.7 74.0,360.6 75.0,361.5 76.0,362.3 77.0,363.3 78.0,364.0 79.0,364.8 79.9,365.7 80.9,366.5 81.9,367.4 82.9,368.2 83.9,369.0 84.9,369.8 85.9,370.7 86.8,371.3 87.8,372.0 88.8,372.9 89.8,373.6 90.8,374.3 91.8,375.1 92.8,375.7 93.7,376.4 94.7,377.0 95.7,377.6 96.7,378.2 97.7,378.8 98.7,379.3 99.7,379.7 100.7,380.0 101.6,379.7 102.6,379.3 103.6,378.8 104.6,378.2 105.6,377.6 106.6,377.0 107.6,376.4 108.5,375.7 109.5,375.0 110.5,374.3 111.5,373.5 112.5,372.8 113.5,372.0 114.5,371.1 115.4,370.5 116.4,369.8 117.4,368.9 118.4,367.8 119.4,366.8 120.4,365.9 121.4,365.0 122.3,364.3 123.3,363.5 124.3,362.6 125.3,361.7 126.3,360.8 127.3,359.9 128.3,358.9 129.2,358.4 130.2,357.7 131.2,356.9 132.2,356.3 133.2,355.3 134.2,354.4 135.2,353.6 136.1,352.7 137.1,352.0 138.1,351.3 139.1,350.2 140.1,348.6 141.1,346.3 142.1,342.8 143.0,338.5 144.0,333.7 145.0,329.4 146.0,327.2 147.0,326.5 148.0,326.9 149.0,327.6 150.0,328.4 150.9,329.6 151.9,331.0 152.9,332.6 153.9,334.0 154.9,335.6 155.9,337.1 156.9,338.3 157.8,339.8 158.8,340.9 159.8,341.7 160.8,342.4 161.8,342.8 162.8,342.9 163.8,343.1 164.7,343.4 165.7,343.6 166.7,343.7 167.7,343.7 168.7,343.7 169.7,343.4 170.7,343.5 171.6,343.5 172.6,343.3 173.6,343.3 174.6,343.3V480H26.7Z" fill="url(#g38)"/>
<path d="M26.7,341.7 27.7,341.6 28.7,342.0 29.7,341.8 30.6,341.8 31.6,341.9 32.6,342.1 33.6,342.6 34.6,342.8 35.6,343.2 36.6,343.4 37.5,343.7 38.5,344.3 39.5,344.8 40.5,345.3 41.5,345.4 42.5,345.4 43.5,345.9 44.4,346.1 45.4,346.5 46.4,346.5 47.4,346.2 48.4,346.2 49.4,345.8 50.4,345.6 51.3,345.1 52.3,344.3 53.3,343.7 54.3,342.9 55.3,342.2 56.3,341.3 57.3,340.7 58.3,340.5 59.2,340.3 60.2,340.3 61.2,340.9 62.2,341.9 63.2,343.0 64.2,344.8 65.2,346.3 66.1,347.4 67.1,348.8 68.1,350.1 69.1,351.5 70.1,352.8 71.1,353.8 72.1,354.8 73.0,355.3 74.0,356.2 75.0,357.4 76.0,358.1 77.0,359.3 78.0,360.0 79.0,360.9 79.9,361.8 80.9,362.6 81.9,363.6 82.9,364.1 83.9,365.0 84.9,365.7 85.9,366.5 86.8,367.1 87.8,367.6 88.8,368.8 89.8,369.5 90.8,370.2 91.8,370.9 92.8,371.6 93.7,372.3 94.7,372.9 95.7,373.5 96.7,374.1 97.7,374.6 98.7,375.1 99.7,375.5 100.7,375.8 101.6,375.5 102.6,375.1 103.6,374.6 104.6,374.1 105.6,373.5 106.6,372.9 107.6,372.2 108.5,371.6 109.5,370.9 110.5,370.2 111.5,369.4 112.5,368.7 113.5,367.8 114.5,367.1 115.4,366.3 116.4,365.6 117.4,364.8 118.4,363.7 119.4,362.9 120.4,362.0 121.4,361.2 122.3,360.5 123.3,359.5 124.3,358.7 125.3,357.8 126.3,357.0 127.3,356.2 128.3,355.0 129.2,354.3 130.2,353.6 131.2,352.8 132.2,352.4 133.2,351.5 134.2,350.6 135.2,349.7 136.1,348.7 137.1,347.9 138.1,347.1 139.1,346.0 140.1,344.4 141.1,342.4 142.1,339.4 143.0,335.9 144.0,331.9 145.0,327.9 146.0,325.3 147.0,323.8 148.0,323.9 149.0,324.3 150.0,324.7 150.9,325.7 151.9,326.8 152.9,328.2 153.9,329.6 154.9,331.0 155.9,332.4 156.9,333.7 157.8,335.0 158.8,336.3 159.8,337.2 160.8,338.1 161.8,338.7 162.8,338.9 163.8,339.3 164.7,339.6 165.7,339.6 166.7,339.9 167.7,339.9 168.7,340.0 169.7,340.0 170.7,340.1 171.6,340.1 172.6,339.6 173.6,339.6 174.6,339.3" fill="none" stroke="#000" stroke-width="1.05"/>
<path d="M26.7,350.7 27.7,351.0 28.7,351.1 29.7,351.1 30.6,351.1 31.6,351.3 32.6,351.5 33.6,352.0 34.6,352.1 35.6,352.3 36.6,352.5 37.5,352.7 38.5,353.1 39.5,353.5 40.5,353.6 41.5,353.7 42.5,353.7 43.5,353.8 44.4,354.2 45.4,354.2 46.4,353.9 47.4,353.4 48.4,352.8 49.4,352.5 50.4,352.3 51.3,351.6 52.3,351.1 53.3,350.6 54.3,350.1 55.3,350.2 56.3,350.2 57.3,350.2 58.3,350.3 59.2,350.9 60.2,351.4 61.2,352.4 62.2,353.7 63.2,354.7 64.2,356.0 65.2,356.9 66.1,357.8 67.1,358.7 68.1,359.8 69.1,361.1 70.1,361.8 71.1,362.9 72.1,363.3 73.0,364.1 74.0,364.9 75.0,365.5 76.0,366.4 77.0,367.3 78.0,368.1 79.0,368.8 79.9,369.6 80.9,370.4 81.9,371.2 82.9,372.3 83.9,372.9 84.9,373.8 85.9,375.0 86.8,375.6 87.8,376.4 88.8,377.0 89.8,377.7 90.8,378.5 91.8,379.2 92.8,379.9 93.7,380.5 94.7,381.2 95.7,381.8 96.7,382.4 97.7,382.9 98.7,383.4 99.7,383.8 100.7,384.2 101.6,383.8 102.6,383.4 103.6,382.9 104.6,382.4 105.6,381.8 106.6,381.1 107.6,380.5 108.5,379.8 109.5,379.1 110.5,378.4 111.5,377.7 112.5,376.9 113.5,376.1 114.5,375.2 115.4,374.7 116.4,373.9 117.4,373.0 118.4,371.9 119.4,370.7 120.4,369.8 121.4,368.8 122.3,368.1 123.3,367.4 124.3,366.4 125.3,365.5 126.3,364.5 127.3,363.6 128.3,362.9 129.2,362.4 130.2,361.7 131.2,361.0 132.2,360.2 133.2,359.1 134.2,358.3 135.2,357.4 136.1,356.7 137.1,356.2 138.1,355.5 139.1,354.5 140.1,352.8 141.1,350.3 142.1,346.3 143.0,341.1 144.0,335.5 145.0,330.9 146.0,329.2 147.0,329.1 148.0,329.9 149.0,330.8 150.0,332.1 150.9,333.5 151.9,335.3 152.9,337.0 153.9,338.4 154.9,340.2 155.9,341.8 156.9,343.0 157.8,344.7 158.8,345.5 159.8,346.2 160.8,346.7 161.8,346.8 162.8,346.9 163.8,346.9 164.7,347.2 165.7,347.5 166.7,347.6 167.7,347.5 168.7,347.4 169.7,346.9 170.7,346.9 171.6,346.9 172.6,347.0 173.6,347.1 174.6,347.3V480H26.7Z" fill="url(#g38)"/>
<path d="M26.7,354.8 27.7,355.0 28.7,355.0 29.7,355.0 30.6,355.0 31.6,355.1 32.6,355.4 33.6,355.6 34.6,355.8 35.6,355.8 36.6,355.9 37.5,356.1 38.5,356.5 39.5,356.9 40.5,356.9 41.5,357.1 42.5,357.0 43.5,357.2 44.4,357.5 45.4,357.5 46.4,357.2 47.4,357.0 48.4,356.4 49.4,356.0 50.4,355.6 51.3,354.8 52.3,354.1 53.3,353.6 54.3,353.1 55.3,352.8 56.3,352.7 57.3,352.6 58.3,352.7 59.2,353.6 60.2,354.7 61.2,355.8 62.2,357.3 63.2,358.6 64.2,359.9 65.2,361.1 66.1,362.2 67.1,363.2 68.1,364.3 69.1,365.4 70.1,366.2 71.1,367.1 72.1,367.6 73.0,368.3 74.0,369.1 75.0,369.9 76.0,370.7 77.0,371.5 78.0,372.4 79.0,373.1 79.9,374.0 80.9,374.9 81.9,375.6 82.9,376.5 83.9,377.1 84.9,377.8 85.9,378.8 86.8,379.5 87.8,380.3 88.8,381.1 89.8,381.9 90.8,382.6 91.8,383.3 92.8,384.0 93.7,384.7 94.7,385.3 95.7,385.9 96.7,386.5 97.7,387.1 98.7,387.6 99.7,388.0 100.7,388.3 101.6,388.0 102.6,387.6 103.6,387.1 104.6,386.5 105.6,385.9 106.6,385.3 107.6,384.6 108.5,384.0 109.5,383.3 110.5,382.5 111.5,381.8 112.5,381.1 113.5,380.4 114.5,379.5 115.4,378.7 116.4,377.9 117.4,376.9 118.4,375.9 119.4,375.0 120.4,374.2 121.4,373.4 122.3,372.6 123.3,371.8 124.3,370.8 125.3,369.9 126.3,369.0 127.3,368.1 128.3,367.3 129.2,366.6 130.2,365.9 131.2,365.2 132.2,364.4 133.2,363.6 134.2,362.8 135.2,362.0 136.1,361.3 137.1,360.5 138.1,359.6 139.1,358.4 140.1,356.5 141.1,353.5 142.1,348.9 143.0,343.3 144.0,337.5 145.0,333.4 146.0,332.4 147.0,332.5 148.0,333.3 149.0,334.5 150.0,335.8 150.9,337.4 151.9,339.2 152.9,341.0 153.9,342.3 154.9,344.2 155.9,345.8 156.9,347.3 157.8,349.0 158.8,350.0 159.8,350.9 160.8,351.6 161.8,352.1 162.8,352.6 163.8,352.7 164.7,353.0 165.7,353.3 166.7,353.2 167.7,353.1 168.7,352.9 169.7,352.5 170.7,352.3 171.6,352.1 172.6,352.0 173.6,351.9 174.6,351.8V480H26.7Z" fill="url(#g39)"/>
<path d="M26.7,350.7 27.7,351.0 28.7,351.1 29.7,351.1 30.6,351.1 31.6,351.3 32.6,351.5 33.6,352.0 34.6,352.1 35.6,352.3 36.6,352.5 37.5,352.7 38.5,353.1 39.5,353.5 40.5,353.6 41.5,353.7 42.5,353.7 43.5,353.8 44.4,354.2 45.4,354.2 46.4,353.9 47.4,353.4 48.4,352.8 49.4,352.5 50.4,352.3 51.3,351.6 52.3,351.1 53.3,350.6 54.3,350.1 55.3,350.2 56.3,350.2 57.3,350.2 58.3,350.3 59.2,350.9 60.2,351.4 61.2,352.4 62.2,353.7 63.2,354.7 64.2,356.0 65.2,356.9 66.1,357.8 67.1,358.7 68.1,359.8 69.1,361.1 70.1,361.8 71.1,362.9 72.1,363.3 73.0,364.1 74.0,364.9 75.0,365.5 76.0,366.4 77.0,367.3 78.0,368.1 79.0,368.8 79.9,369.6 80.9,370.4 81.9,371.2 82.9,372.3 83.9,372.9 84.9,373.8 85.9,375.0 86.8,375.6 87.8,376.4 88.8,377.0 89.8,377.7 90.8,378.5 91.8,379.2 92.8,379.9 93.7,380.5 94.7,381.2 95.7,381.8 96.7,382.4 97.7,382.9 98.7,383.4 99.7,383.8 100.7,384.2 101.6,383.8 102.6,383.4 103.6,382.9 104.6,382.4 105.6,381.8 106.6,381.1 107.6,380.5 108.5,379.8 109.5,379.1 110.5,378.4 111.5,377.7 112.5,376.9 113.5,376.1 114.5,375.2 115.4,374.7 116.4,373.9 117.4,373.0 118.4,371.9 119.4,370.7 120.4,369.8 121.4,368.8 122.3,368.1 123.3,367.4 124.3,366.4 125.3,365.5 126.3,364.5 127.3,363.6 128.3,362.9 129.2,362.4 130.2,361.7 131.2,361.0 132.2,360.2 133.2,359.1 134.2,358.3 135.2,357.4 136.1,356.7 137.1,356.2 138.1,355.5 139.1,354.5 140.1,352.8 141.1,350.3 142.1,346.3 143.0,341.1 144.0,335.5 145.0,330.9 146.0,329.2 147.0,329.1 148.0,329.9 149.0,330.8 150.0,332.1 150.9,333.5 151.9,335.3 152.9,337.0 153.9,338.4 154.9,340.2 155.9,341.8 156.9,343.0 157.8,344.7 158.8,345.5 159.8,346.2 160.8,346.7 161.8,346.8 162.8,346.9 163.8,346.9 164.7,347.2 165.7,347.5 166.7,347.6 167.7,347.5 168.7,347.4 169.7,346.9 170.7,346.9 171.6,346.9 172.6,347.0 173.6,347.1 174.6,347.3" fill="none" stroke="#000" stroke-width="1.05"/>
<path d="M26.7,358.8 27.7,358.9 28.7,359.0 29.7,359.0 30.6,358.9 31.6,359.0 32.6,359.2 33.6,359.2 34.6,359.6 35.6,359.4 36.6,359.4 37.5,359.6 38.5,359.9 39.5,360.3 40.5,360.3 41.5,360.5 42.5,360.4 43.5,360.5 44.4,360.9 45.4,360.8 46.4,360.5 47.4,360.5 48.4,359.9 49.4,359.4 50.4,358.9 51.3,358.0 52.3,357.1 53.3,356.6 54.3,356.0 55.3,355.5 56.3,355.2 57.3,355.0 58.3,355.2 59.2,356.2 60.2,357.9 61.2,359.2 62.2,360.8 63.2,362.5 64.2,363.8 65.2,365.4 66.1,366.6 67.1,367.6 68.1,368.7 69.1,369.7 70.1,370.6 71.1,371.2 72.1,371.8 73.0,372.5 74.0,373.2 75.0,374.2 76.0,374.9 77.0,375.6 78.0,376.7 79.0,377.5 79.9,378.4 80.9,379.4 81.9,380.0 82.9,380.7 83.9,381.4 84.9,381.8 85.9,382.6 86.8,383.4 87.8,384.2 88.8,385.3 89.8,386.0 90.8,386.7 91.8,387.5 92.8,388.1 93.7,388.8 94.7,389.4 95.7,390.1 96.7,390.7 97.7,391.2 98.7,391.7 99.7,392.2 100.7,392.5 101.6,392.2 102.6,391.7 103.6,391.2 104.6,390.6 105.6,390.1 106.6,389.4 107.6,388.8 108.5,388.1 109.5,387.4 110.5,386.7 111.5,386.0 112.5,385.2 113.5,384.7 114.5,383.9 115.4,382.8 116.4,381.9 117.4,380.8 118.4,379.8 119.4,379.3 120.4,378.5 121.4,378.1 122.3,377.2 123.3,376.3 124.3,375.3 125.3,374.3 126.3,373.4 127.3,372.5 128.3,371.8 129.2,370.9 130.2,370.2 131.2,369.4 132.2,368.6 133.2,368.0 134.2,367.3 135.2,366.5 136.1,365.8 137.1,364.7 138.1,363.7 139.1,362.3 140.1,360.2 141.1,356.7 142.1,351.5 143.0,345.4 144.0,339.6 145.0,335.9 146.0,335.6 147.0,335.8 148.0,336.7 149.0,338.1 150.0,339.6 150.9,341.3 151.9,343.0 152.9,344.9 153.9,346.3 154.9,348.1 155.9,349.9 156.9,351.5 157.8,353.3 158.8,354.4 159.8,355.6 160.8,356.5 161.8,357.3 162.8,358.3 163.8,358.5 164.7,358.9 165.7,359.1 166.7,358.8 167.7,358.7 168.7,358.5 169.7,358.1 170.7,357.7 171.6,357.2 172.6,356.9 173.6,356.6 174.6,356.4V480H26.7Z" fill="#fff"/>
<path d="M26.7,358.8 27.7,358.9 28.7,359.0 29.7,359.0 30.6,358.9 31.6,359.0 32.6,359.2 33.6,359.2 34.6,359.6 35.6,359.4 36.6,359.4 37.5,359.6 38.5,359.9 39.5,360.3 40.5,360.3 41.5,360.5 42.5,360.4 43.5,360.5 44.4,360.9 45.4,360.8 46.4,360.5 47.4,360.5 48.4,359.9 49.4,359.4 50.4,358.9 51.3,358.0 52.3,357.1 53.3,356.6 54.3,356.0 55.3,355.5 56.3,355.2 57.3,355.0 58.3,355.2 59.2,356.2 60.2,357.9 61.2,359.2 62.2,360.8 63.2,362.5 64.2,363.8 65.2,365.4 66.1,366.6 67.1,367.6 68.1,368.7 69.1,369.7 70.1,370.6 71.1,371.2 72.1,371.8 73.0,372.5 74.0,373.2 75.0,374.2 76.0,374.9 77.0,375.6 78.0,376.7 79.0,377.5 79.9,378.4 80.9,379.4 81.9,380.0 82.9,380.7 83.9,381.4 84.9,381.8 85.9,382.6 86.8,383.4 87.8,384.2 88.8,385.3 89.8,386.0 90.8,386.7 91.8,387.5 92.8,388.1 93.7,388.8 94.7,389.4 95.7,390.1 96.7,390.7 97.7,391.2 98.7,391.7 99.7,392.2 100.7,392.5 101.6,392.2 102.6,391.7 103.6,391.2 104.6,390.6 105.6,390.1 106.6,389.4 107.6,388.8 108.5,388.1 109.5,387.4 110.5,386.7 111.5,386.0 112.5,385.2 113.5,384.7 114.5,383.9 115.4,382.8 116.4,381.9 117.4,380.8 118.4,379.8 119.4,379.3 120.4,378.5 121.4,378.1 122.3,377.2 123.3,376.3 124.3,375.3 125.3,374.3 126.3,373.4 127.3,372.5 128.3,371.8 129.2,370.9 130.2,370.2 131.2,369.4 132.2,368.6 133.2,368.0 134.2,367.3 135.2,366.5 136.1,365.8 137.1,364.7 138.1,363.7 139.1,362.3 140.1,360.2 141.1,356.7 142.1,351.5 143.0,345.4 144.0,339.6 145.0,335.9 146.0,335.6 147.0,335.8 148.0,336.7 149.0,338.1 150.0,339.6 150.9,341.3 151.9,343.0 152.9,344.9 153.9,346.3 154.9,348.1 155.9,349.9 156.9,351.5 157.8,353.3 158.8,354.4 159.8,355.6 160.8,356.5 161.8,357.3 162.8,358.3 163.8,358.5 164.7,358.9 165.7,359.1 166.7,358.8 167.7,358.7 168.7,358.5 169.7,358.1 170.7,357.7 171.6,357.2 172.6,356.9 173.6,356.6 174.6,356.4" fill="none" stroke="#000" stroke-width="1.05"/>
<rect x="0" y="395" width="215" height="40" fill="#fff"/>
<path d="M26.7,33.6V394.4H175.2M174.5,37.6V394.4" fill="none" stroke="#000" stroke-width="1.5"/>
<path d="M26.7,394.4v-5.0M45.2,394.4v-3.0M63.7,394.4v-5.0M82.2,394.4v-3.0M100.7,394.4v-5.0M119.1,394.4v-3.0M137.6,394.4v-5.0M156.1,394.4v-3.0M174.6,394.4v-5.0" stroke="#000" stroke-width="1.5"/>
<line x1="180.6" y1="46" x2="180.6" y2="362" stroke="#ff2010" stroke-width="1.8"/>
<polygon points="180.6,41.5 177.4,48 183.8,48" fill="#ff2010"/>
<defs><linearGradient id="cb" x1="0" y1="0" x2="0" y2="1"><stop offset="0.000" stop-color="#8c0505"/><stop offset="0.050" stop-color="#b3150b"/><stop offset="0.100" stop-color="#da2511"/><stop offset="0.150" stop-color="#f04416"/><stop offset="0.200" stop-color="#f5721b"/><stop offset="0.250" stop-color="#faa020"/><stop offset="0.300" stop-color="#f7c025"/><stop offset="0.350" stop-color="#f4e02a"/><stop offset="0.400" stop-color="#e3f03c"/><stop offset="0.450" stop-color="#c6f15a"/><stop offset="0.500" stop-color="#a8f278"/><stop offset="0.550" stop-color="#8beea9"/><stop offset="0.600" stop-color="#6eeada"/><stop offset="0.650" stop-color="#54d1f3"/><stop offset="0.700" stop-color="#3ea2f6"/><stop offset="0.750" stop-color="#2c74f7"/><stop offset="0.800" stop-color="#2649f5"/><stop offset="0.850" stop-color="#201ef2"/><stop offset="0.900" stop-color="#1a11e4"/><stop offset="0.950" stop-color="#120dc0"/><stop offset="1.000" stop-color="#0a0a96"/></linearGradient></defs>
<rect x="198.6" y="294.6" width="4.2" height="83.4" fill="url(#cb)"/>
<g font-family="Liberation Sans, sans-serif" fill="#000">
<text transform="translate(200.3,291.5) scale(1.050,1)" font-size="10.5" text-anchor="middle">8.1</text>
<text transform="translate(200.3,390.2) scale(1.050,1)" font-size="10.5" text-anchor="middle">1.5</text>
<text transform="translate(189.1,198.8) rotate(90) scale(1.120,1)" font-size="11.3" text-anchor="middle">92.7 nm</text>
<text transform="translate(26.1,412.6) scale(1.060,1)" font-size="11.2" text-anchor="middle">-150</text>
<text transform="translate(63.1,412.6) scale(1.060,1)" font-size="11.2" text-anchor="middle">-75</text>
<text transform="translate(100.1,412.6) scale(1.060,1)" font-size="11.2" text-anchor="middle">0</text>
<text transform="translate(137.0,412.6) scale(1.060,1)" font-size="11.2" text-anchor="middle">75</text>
<text transform="translate(174.0,412.6) scale(1.060,1)" font-size="11.2" text-anchor="middle">150</text>
<text transform="translate(98.1,427.5) scale(1.050,1)" font-size="12" text-anchor="middle">Bias (mV)</text>
<text transform="translate(12.6,197.8) rotate(-90) scale(1.080,1)" font-size="12" text-anchor="middle">d<tspan font-style="italic">I</tspan>/d<tspan font-style="italic">V</tspan> (a.u.)</text>
<text x="1" y="12.8" font-size="14">a</text>
</g>
<line x1="336.3" y1="14" x2="336.3" y2="394.6" stroke="#b8b8b8" stroke-width="1"/>
<g fill="none" stroke-width="2.2" stroke-linejoin="round" stroke-linecap="round">
<path d="M253.6,64.9C255.0,65.7 258.9,68.2 262.2,69.7C265.4,71.2 270.3,73.6 273.1,74.1C275.9,74.6 277.2,74.7 279.2,72.9C281.2,71.2 283.5,67.4 285.3,63.6C287.1,59.8 288.7,53.5 290.1,50.3C291.5,47.1 292.6,44.2 293.8,44.2C295.0,44.2 296.0,47.1 297.4,50.3C298.8,53.5 300.5,59.4 302.3,63.6C304.1,67.8 306.2,71.5 308.4,75.8C310.6,80.1 312.9,85.2 315.7,89.2C318.5,93.2 322.4,97.1 325.4,100.1C328.4,103.1 331.9,105.7 333.9,107.0C335.9,108.3 336.0,108.7 337.6,108.2C339.2,107.7 341.3,105.9 343.8,104.1C346.3,102.3 349.7,99.9 352.6,97.5C355.5,95.1 358.8,93.6 361.4,89.8C364.0,86.0 366.0,80.6 368.0,74.4C370.0,68.2 371.9,59.9 373.5,52.4C375.1,44.9 376.8,33.9 377.9,29.3C379.0,24.7 379.4,24.7 380.1,24.9C380.8,25.1 381.2,26.2 382.3,30.4C383.4,34.6 385.1,44.7 386.7,50.2C388.3,55.7 390.2,60.3 392.2,63.4C394.2,66.5 396.2,67.6 398.8,68.9C401.4,70.2 404.4,70.9 407.6,71.1C410.8,71.3 416.4,70.2 418.2,70.0" stroke="#ff2412"/>
<path d="M253.3,103.2C254.6,103.9 257.9,106.5 261.0,107.6C264.1,108.7 268.7,110.2 272.0,109.8C275.3,109.4 278.2,107.4 280.8,105.4C283.4,103.4 285.8,99.6 287.4,97.7C289.0,95.8 289.6,94.0 290.7,94.0C291.8,94.0 292.7,95.4 294.0,97.7C295.3,100.0 296.9,105.2 298.4,107.6C299.9,110.0 301.0,109.8 302.8,112.0C304.6,114.2 307.2,117.9 309.4,120.8C311.6,123.7 313.8,126.8 316.0,129.6C318.2,132.3 320.4,134.9 322.6,137.3C324.8,139.7 327.0,142.2 329.2,143.9C331.4,145.6 333.4,147.8 335.8,147.6C338.2,147.4 341.0,144.9 343.8,142.8C346.6,140.7 349.7,138.0 352.6,135.1C355.5,132.2 358.5,128.5 361.4,125.2C364.3,121.9 368.0,119.0 370.2,115.3C372.4,111.6 373.5,107.5 374.6,103.2C375.7,99.0 376.1,93.8 376.8,89.8C377.5,85.8 378.3,82.2 379.0,79.5C379.7,76.8 380.5,73.6 381.2,73.3C381.9,73.0 382.7,76.0 383.4,77.5C384.1,79.0 384.5,80.0 385.6,82.1C386.7,84.1 388.2,86.8 390.0,89.8C391.8,92.8 394.4,97.2 396.6,99.8C398.8,102.4 400.6,103.9 403.2,105.2C405.8,106.5 409.5,107.0 412.0,107.4C414.5,107.8 417.2,107.7 418.2,107.8" stroke="#f5821f"/>
<path d="M253.3,141.2C254.2,141.2 256.8,140.4 258.8,141.0C260.8,141.6 262.6,143.4 265.4,144.5C268.1,145.6 272.4,147.7 275.3,147.6C278.2,147.5 280.8,146.2 283.0,143.9C285.2,141.6 287.0,136.4 288.5,134.0C290.0,131.6 290.7,129.6 291.8,129.6C292.9,129.6 293.9,133.1 295.0,134.0C296.1,134.9 297.3,135.2 298.4,135.1C299.5,135.0 300.4,132.2 301.7,133.5C303.0,134.8 304.6,139.4 306.1,142.8C307.6,146.2 308.9,150.1 310.5,153.8C312.1,157.5 314.0,161.3 316.0,164.8C318.0,168.3 320.4,172.1 322.6,174.7C324.8,177.3 327.0,178.7 329.2,180.2C331.4,181.7 333.4,183.7 335.8,183.5C338.2,183.3 341.0,181.5 343.8,179.1C346.6,176.7 350.0,172.3 352.6,169.2C355.2,166.1 357.2,164.1 359.2,160.4C361.2,156.7 363.0,151.2 364.7,147.2C366.4,143.2 367.6,138.2 369.1,136.2C370.6,134.2 372.2,137.3 373.5,135.1C374.8,132.9 375.8,126.1 376.8,123.0C377.8,119.9 378.6,116.0 379.6,116.4C380.6,116.8 381.5,121.2 382.9,125.2C384.3,129.2 385.9,137.0 387.8,140.6C389.7,144.2 391.8,145.4 394.4,146.7C397.0,148.0 400.3,148.2 403.2,148.3C406.1,148.4 409.5,147.1 412.0,147.2C414.5,147.3 417.2,148.6 418.2,148.9" stroke="#eef030"/>
<path d="M253.3,178.8C255.0,179.5 259.2,181.8 263.2,183.2C267.2,184.6 273.8,187.4 277.5,187.2C281.2,187.0 283.0,183.6 285.2,182.1C287.4,180.6 288.7,178.8 290.7,178.4C292.7,178.0 295.1,180.6 297.3,179.9C299.5,179.2 302.2,174.4 303.9,174.4C305.6,174.4 306.3,176.2 307.6,179.9C308.9,183.6 309.8,191.5 311.6,196.4C313.4,201.3 315.8,205.8 318.2,209.6C320.6,213.4 323.5,217.0 325.9,219.5C328.3,222.0 330.3,223.6 332.5,224.5C334.7,225.4 337.2,225.5 339.1,225.0C341.0,224.5 341.6,223.5 343.8,221.7C346.1,219.9 350.0,216.6 352.6,214.0C355.2,211.4 357.2,210.0 359.2,206.3C361.2,202.6 363.0,197.0 364.7,192.0C366.4,187.0 368.0,178.3 369.5,176.4C371.0,174.5 372.4,181.2 373.8,180.8C375.2,180.4 376.6,176.2 378.0,174.0C379.4,171.8 380.6,166.8 382.0,167.5C383.4,168.2 385.0,174.8 386.7,178.0C388.4,181.2 389.8,184.7 392.2,187.0C394.6,189.3 398.1,190.9 401.0,192.0C403.9,193.1 406.9,193.5 409.8,193.8C412.7,194.1 416.8,193.8 418.2,193.8" stroke="#84f064"/>
<path d="M253.3,216.2C254.6,216.9 258.2,219.1 261.0,220.6C263.8,222.1 267.1,224.0 269.8,225.0C272.6,226.0 274.9,227.4 277.5,226.7C280.1,226.0 282.8,223.1 285.2,220.6C287.6,218.1 290.0,213.5 291.8,211.8C293.6,210.2 294.7,211.4 296.2,210.7C297.7,210.0 299.5,206.9 301.0,207.8C302.5,208.7 303.4,212.2 305.0,216.2C306.6,220.2 308.5,226.8 310.5,231.6C312.5,236.4 314.7,241.1 317.1,244.8C319.5,248.5 322.4,251.4 324.8,253.6C327.2,255.8 329.2,256.7 331.4,258.0C333.6,259.3 335.9,261.3 338.0,261.3C340.1,261.3 341.4,260.0 343.8,258.0C346.2,256.0 349.7,252.9 352.6,249.2C355.5,245.5 358.8,240.8 361.4,236.0C364.0,231.2 366.5,225.0 368.0,220.6C369.5,216.2 369.5,211.6 370.6,209.6C371.7,207.6 373.0,209.8 374.6,208.5C376.2,207.2 378.6,202.1 380.1,201.9C381.6,201.7 382.1,204.5 383.4,207.4C384.7,210.3 386.0,216.4 387.8,219.5C389.6,222.6 391.8,224.5 394.4,226.1C397.0,227.7 400.3,228.4 403.2,228.9C406.1,229.4 409.5,229.1 412.0,228.9C414.5,228.7 417.2,227.8 418.2,227.6" stroke="#58eef8"/>
<path d="M253.3,254.7C255.0,255.5 259.2,258.1 263.2,259.7C267.2,261.3 273.8,264.5 277.5,264.5C281.2,264.5 283.0,262.2 285.2,259.5C287.4,256.8 289.2,250.4 290.7,248.0C292.2,245.6 293.0,245.8 294.0,245.0C295.0,244.2 295.8,244.1 296.5,243.5C297.2,242.9 297.2,239.8 298.4,241.5C299.6,243.2 302.4,249.8 303.9,253.6C305.4,257.4 305.5,259.8 307.2,264.0C308.9,268.2 311.2,274.0 313.8,278.6C316.4,283.2 319.7,288.4 322.6,291.8C325.5,295.2 328.7,297.5 331.4,298.8C334.1,300.1 336.9,299.9 339.0,299.5C341.1,299.1 341.5,298.0 343.8,296.2C346.1,294.4 350.0,291.4 352.6,288.5C355.2,285.6 357.2,282.5 359.2,278.6C361.2,274.8 363.2,269.4 364.7,265.4C366.2,261.4 367.1,257.5 368.0,254.4C368.9,251.3 369.2,250.2 370.2,247.0C371.2,243.8 372.8,237.2 374.1,235.5C375.4,233.8 376.7,237.1 377.9,237.1C379.1,237.1 380.1,234.2 381.2,235.5C382.3,236.8 383.2,241.1 384.5,244.8C385.8,248.5 387.2,254.7 388.9,257.8C390.5,260.9 392.0,261.9 394.4,263.3C396.8,264.8 400.3,266.1 403.2,266.5C406.1,266.9 409.5,265.6 412.0,265.4C414.5,265.1 417.2,265.1 418.2,265.0" stroke="#2214f0"/>
<path d="M253.3,294.0C255.0,294.4 260.1,295.3 263.2,296.2C266.3,297.1 269.2,298.4 272.0,299.5C274.8,300.6 277.5,302.8 279.7,302.8C281.9,302.8 283.2,301.5 285.2,299.5C287.2,297.5 289.6,293.1 291.8,290.7C294.0,288.3 296.3,288.3 298.4,285.2C300.5,282.1 303.0,272.0 304.5,272.0C306.0,272.0 306.2,279.3 307.6,285.2C309.0,291.1 310.6,300.6 312.7,307.2C314.8,313.8 317.6,320.0 320.4,324.8C323.1,329.6 326.1,333.4 329.2,335.8C332.3,338.2 336.6,339.0 339.0,339.0C341.4,339.0 341.5,337.8 343.8,335.8C346.1,333.8 350.0,330.7 352.6,327.0C355.2,323.3 357.4,318.6 359.2,313.8C361.0,309.0 362.5,303.9 363.6,298.4C364.7,292.9 365.2,284.5 365.8,280.8C366.4,277.1 366.8,275.8 367.5,276.0C368.2,276.2 369.0,279.9 370.2,281.9C371.4,283.9 373.1,287.1 374.6,287.8C376.1,288.5 377.5,285.8 379.0,286.3C380.5,286.8 381.8,288.3 383.4,290.7C385.0,293.1 386.9,298.0 388.9,300.6C390.9,303.2 392.8,304.9 395.5,306.1C398.2,307.3 401.6,307.6 405.4,307.6C409.2,307.6 416.1,306.4 418.2,306.1" stroke="#7a12f5"/>
<path d="M253.5,331.7C254.8,332.2 258.0,333.4 261.1,334.8C264.2,336.2 268.9,339.0 272.2,340.4C275.4,341.8 278.1,343.1 280.6,343.1C283.1,343.1 284.4,341.8 287.0,340.4C289.6,339.0 293.8,337.0 296.3,334.8C298.8,332.6 300.4,330.5 301.9,327.4C303.3,324.3 304.1,319.3 305.0,316.0C305.9,312.7 306.5,307.6 307.2,307.6C307.9,307.6 308.8,312.1 309.4,316.0C310.0,319.9 310.4,325.8 311.1,331.1C311.9,336.4 312.3,342.9 313.9,347.8C315.4,352.7 318.1,356.7 320.4,360.7C322.7,364.7 325.6,369.4 327.8,371.9C330.0,374.4 331.5,374.9 333.3,375.6C335.1,376.3 337.4,376.2 338.9,375.9C340.4,375.6 340.6,375.1 342.4,373.7C344.2,372.2 347.6,369.4 349.8,367.2C352.0,365.0 353.7,363.6 355.4,360.7C357.1,357.8 358.8,353.9 360.0,349.6C361.2,345.3 361.8,339.3 362.4,334.8C363.0,330.3 363.1,326.3 363.6,322.6C364.1,318.9 364.7,313.1 365.3,312.7C365.9,312.3 366.8,317.3 367.5,320.4C368.2,323.5 368.2,328.4 369.3,331.1C370.4,333.8 372.2,335.9 373.9,336.7C375.6,337.5 377.7,336.2 379.4,335.7C381.1,335.2 382.2,333.6 384.1,333.9C386.0,334.2 388.0,336.8 390.6,337.6C393.2,338.4 396.4,338.2 399.8,338.5C403.2,338.8 407.8,339.3 410.9,339.4C414.0,339.5 417.0,339.3 418.2,339.3" stroke="#e222f5"/>
</g>
<rect x="254.2" y="14.0" width="164.0" height="380.6" fill="none" stroke="#000" stroke-width="1.6"/>
<path d="M254.2,394.6h6.5M254.2,362.9h4.0M254.2,331.2h6.5M254.2,299.4h4.0M254.2,267.7h6.5M254.2,236.0h4.0M254.2,204.3h6.5M254.2,172.6h4.0M254.2,140.9h6.5M254.2,109.2h4.0M254.2,77.4h6.5M254.2,45.7h4.0M254.2,14.0h6.5M254.2,394.6v-6.0M274.7,394.6v-3.5M295.2,394.6v-6.0M315.7,394.6v-3.5M336.2,394.6v-6.0M356.7,394.6v-3.5M377.2,394.6v-6.0M397.7,394.6v-3.5M418.2,394.6v-6.0" stroke="#000" stroke-width="1.6" fill="none"/>
<g font-family="Liberation Sans, sans-serif" fill="#000">
<text transform="translate(243.2,398.6) scale(1.050,1)" font-size="11.5" text-anchor="middle">0</text>
<text transform="translate(243.2,335.2) scale(1.050,1)" font-size="11.5" text-anchor="middle">1</text>
<text transform="translate(243.2,271.7) scale(1.050,1)" font-size="11.5" text-anchor="middle">2</text>
<text transform="translate(243.2,208.3) scale(1.050,1)" font-size="11.5" text-anchor="middle">3</text>
<text transform="translate(243.2,144.9) scale(1.050,1)" font-size="11.5" text-anchor="middle">4</text>
<text transform="translate(243.2,81.4) scale(1.050,1)" font-size="11.5" text-anchor="middle">5</text>
<text transform="translate(243.2,18.0) scale(1.050,1)" font-size="11.5" text-anchor="middle">6</text>
<text transform="translate(253.9,412.6) scale(1.060,1)" font-size="11.5" text-anchor="middle">-150</text>
<text transform="translate(294.9,412.6) scale(1.060,1)" font-size="11.5" text-anchor="middle">-75</text>
<text transform="translate(335.9,412.6) scale(1.060,1)" font-size="11.5" text-anchor="middle">0</text>
<text transform="translate(376.9,412.6) scale(1.060,1)" font-size="11.5" text-anchor="middle">75</text>
<text transform="translate(417.9,412.6) scale(1.060,1)" font-size="11.5" text-anchor="middle">150</text>
<text transform="translate(335.4,427.0) scale(1.045,1)" font-size="12" text-anchor="middle">Bias (mV)</text>
<text transform="translate(230.0,199.0) rotate(-90) scale(1.060,1)" font-size="12" text-anchor="middle">d<tspan font-style="italic">I</tspan>/d<tspan font-style="italic">V</tspan> (a.u.)</text>
<text transform="translate(226.0,12.7)" font-size="14" text-anchor="start">b</text>
</g>
<g stroke-width="0.6">
<rect x="476.77" y="182.6" width="4.87" height="2.3" fill="#264469" stroke="#1b3150"/>
<rect x="486.51" y="183.0" width="4.87" height="1.9" fill="#264469" stroke="#1b3150"/>
<rect x="491.38" y="180.8" width="4.87" height="4.1" fill="#264469" stroke="#1b3150"/>
<rect x="496.25" y="175.5" width="4.87" height="9.4" fill="#264469" stroke="#1b3150"/>
<rect x="501.12" y="165.6" width="4.87" height="19.3" fill="#264469" stroke="#1b3150"/>
<rect x="505.99" y="133.0" width="4.87" height="51.9" fill="#264469" stroke="#1b3150"/>
<rect x="510.86" y="113.6" width="4.87" height="71.3" fill="#264469" stroke="#1b3150"/>
<rect x="515.73" y="110.0" width="4.87" height="74.9" fill="#264469" stroke="#1b3150"/>
<rect x="520.60" y="55.0" width="4.87" height="129.9" fill="#264469" stroke="#1b3150"/>
<rect x="525.47" y="48.5" width="4.87" height="136.4" fill="#264469" stroke="#1b3150"/>
<rect x="530.34" y="25.8" width="4.87" height="159.1" fill="#264469" stroke="#1b3150"/>
<rect x="535.21" y="97.4" width="4.87" height="87.5" fill="#264469" stroke="#1b3150"/>
<rect x="540.08" y="81.2" width="4.87" height="103.7" fill="#264469" stroke="#1b3150"/>
<rect x="544.95" y="132.3" width="4.87" height="52.6" fill="#264469" stroke="#1b3150"/>
<rect x="549.82" y="126.7" width="4.87" height="58.2" fill="#264469" stroke="#1b3150"/>
<rect x="554.69" y="152.9" width="4.87" height="32.0" fill="#264469" stroke="#1b3150"/>
<rect x="559.56" y="146.4" width="4.87" height="38.5" fill="#264469" stroke="#1b3150"/>
<rect x="564.43" y="174.0" width="4.87" height="10.9" fill="#264469" stroke="#1b3150"/>
<rect x="569.30" y="162.2" width="4.87" height="22.7" fill="#264469" stroke="#1b3150"/>
<rect x="554.69" y="175.8" width="4.87" height="9.1" fill="#f0a43c" stroke="#b9782c"/>
<rect x="559.56" y="165.0" width="4.87" height="19.9" fill="#f0a43c" stroke="#b9782c"/>
<rect x="564.43" y="171.7" width="4.87" height="13.2" fill="#f0a43c" stroke="#b9782c"/>
<rect x="569.30" y="164.7" width="4.87" height="20.2" fill="#f0a43c" stroke="#b9782c"/>
<rect x="574.17" y="151.1" width="4.87" height="33.8" fill="#f0a43c" stroke="#b9782c"/>
<rect x="579.04" y="154.3" width="4.87" height="30.6" fill="#f0a43c" stroke="#b9782c"/>
<rect x="583.91" y="144.2" width="4.87" height="40.7" fill="#f0a43c" stroke="#b9782c"/>
<rect x="588.78" y="151.1" width="4.87" height="33.8" fill="#f0a43c" stroke="#b9782c"/>
<rect x="593.65" y="130.5" width="4.87" height="54.4" fill="#f0a43c" stroke="#b9782c"/>
<rect x="598.52" y="106.1" width="4.87" height="78.8" fill="#f0a43c" stroke="#b9782c"/>
<rect x="603.39" y="90.0" width="4.87" height="94.9" fill="#f0a43c" stroke="#b9782c"/>
<rect x="608.26" y="90.0" width="4.87" height="94.9" fill="#f0a43c" stroke="#b9782c"/>
<rect x="613.13" y="86.1" width="4.87" height="98.8" fill="#f0a43c" stroke="#b9782c"/>
<rect x="618.00" y="106.1" width="4.87" height="78.8" fill="#f0a43c" stroke="#b9782c"/>
<rect x="622.87" y="86.1" width="4.87" height="98.8" fill="#f0a43c" stroke="#b9782c"/>
<rect x="627.74" y="130.5" width="4.87" height="54.4" fill="#f0a43c" stroke="#b9782c"/>
<rect x="632.61" y="124.2" width="4.87" height="60.7" fill="#f0a43c" stroke="#b9782c"/>
<rect x="637.48" y="147.8" width="4.87" height="37.1" fill="#f0a43c" stroke="#b9782c"/>
<rect x="642.35" y="136.7" width="4.87" height="48.2" fill="#f0a43c" stroke="#b9782c"/>
<rect x="647.22" y="165.0" width="4.87" height="19.9" fill="#f0a43c" stroke="#b9782c"/>
<rect x="652.09" y="167.8" width="4.87" height="17.1" fill="#f0a43c" stroke="#b9782c"/>
<rect x="656.96" y="164.4" width="4.87" height="20.5" fill="#f0a43c" stroke="#b9782c"/>
<rect x="661.83" y="178.3" width="4.87" height="6.6" fill="#f0a43c" stroke="#b9782c"/>
<rect x="666.70" y="178.3" width="4.87" height="6.6" fill="#f0a43c" stroke="#b9782c"/>
</g>
<path d="M478.0,183.9 L479.0,183.9 L480.0,183.8 L481.0,183.8 L482.0,183.7 L483.0,183.6 L484.0,183.4 L485.0,183.3 L486.0,183.1 L487.0,182.8 L488.0,182.5 L489.0,182.1 L490.0,181.7 L491.0,181.2 L492.0,180.6 L493.0,179.8 L494.0,179.0 L495.0,178.0 L496.0,176.9 L497.0,175.6 L498.0,174.1 L499.0,172.4 L500.0,170.5 L501.0,168.4 L502.0,166.0 L503.0,163.4 L504.0,160.4 L505.0,157.3 L506.0,153.8 L507.0,150.0 L508.0,146.0 L509.0,141.7 L510.0,137.1 L511.0,132.3 L512.0,127.3 L513.0,122.1 L514.0,116.8 L515.0,111.3 L516.0,105.8 L517.0,100.3 L518.0,94.8 L519.0,89.5 L520.0,84.3 L521.0,79.4 L522.0,74.7 L523.0,70.4 L524.0,66.5 L525.0,63.0 L526.0,60.1 L527.0,57.7 L528.0,55.9 L529.0,54.7 L530.0,54.2 L531.0,54.2 L532.0,54.9 L533.0,56.2 L534.0,58.2 L535.0,60.7 L536.0,63.7 L537.0,67.2 L538.0,71.2 L539.0,75.6 L540.0,80.3 L541.0,85.3 L542.0,90.5 L543.0,95.9 L544.0,101.4 L545.0,106.9 L546.0,112.4 L547.0,117.8 L548.0,123.1 L549.0,128.3 L550.0,133.3 L551.0,138.0 L552.0,142.6 L553.0,146.8 L554.0,150.8 L555.0,154.5 L556.0,157.9 L557.0,161.1 L558.0,163.9 L559.0,166.5 L560.0,168.8 L561.0,170.9 L562.0,172.8 L563.0,174.4 L564.0,175.9 L565.0,177.1 L566.0,178.2 L567.0,179.2 L568.0,180.0 L569.0,180.7 L570.0,181.3 L571.0,181.8 L572.0,182.2 L573.0,182.6 L574.0,182.9 L575.0,183.1 L576.0,183.3 L577.0,183.5 L578.0,183.6 L579.0,183.7 L580.0,183.8 L581.0,183.9 L582.0,183.9 L583.0,184.0 L584.0,184.0 L585.0,184.0 L586.0,184.0 L587.0,184.0 L588.0,184.1" fill="none" stroke="#1414ff" stroke-width="2.3"/>
<path d="M557.0,182.1 L558.0,181.9 L559.0,181.6 L560.0,181.2 L561.0,180.8 L562.0,180.4 L563.0,180.0 L564.0,179.5 L565.0,178.9 L566.0,178.3 L567.0,177.6 L568.0,176.9 L569.0,176.1 L570.0,175.2 L571.0,174.3 L572.0,173.3 L573.0,172.2 L574.0,171.0 L575.0,169.8 L576.0,168.4 L577.0,167.0 L578.0,165.5 L579.0,163.9 L580.0,162.2 L581.0,160.5 L582.0,158.6 L583.0,156.7 L584.0,154.7 L585.0,152.6 L586.0,150.5 L587.0,148.2 L588.0,146.0 L589.0,143.6 L590.0,141.2 L591.0,138.8 L592.0,136.4 L593.0,133.9 L594.0,131.4 L595.0,129.0 L596.0,126.5 L597.0,124.1 L598.0,121.7 L599.0,119.4 L600.0,117.1 L601.0,114.9 L602.0,112.8 L603.0,110.8 L604.0,108.9 L605.0,107.2 L606.0,105.5 L607.0,104.1 L608.0,102.7 L609.0,101.6 L610.0,100.6 L611.0,99.8 L612.0,99.2 L613.0,98.8 L614.0,98.5 L615.0,98.5 L616.0,98.7 L617.0,99.0 L618.0,99.6 L619.0,100.3 L620.0,101.2 L621.0,102.3 L622.0,103.5 L623.0,104.9 L624.0,106.5 L625.0,108.2 L626.0,110.0 L627.0,112.0 L628.0,114.1 L629.0,116.2 L630.0,118.5 L631.0,120.8 L632.0,123.1 L633.0,125.5 L634.0,128.0 L635.0,130.5 L636.0,132.9 L637.0,135.4 L638.0,137.8 L639.0,140.3 L640.0,142.7 L641.0,145.0 L642.0,147.3 L643.0,149.6 L644.0,151.8 L645.0,153.9 L646.0,155.9 L647.0,157.9 L648.0,159.8 L649.0,161.5 L650.0,163.3 L651.0,164.9 L652.0,166.4 L653.0,167.9 L654.0,169.2 L655.0,170.5 L656.0,171.7 L657.0,172.8 L658.0,173.9 L659.0,174.8 L660.0,175.7 L661.0,176.6 L662.0,177.3 L663.0,178.0 L664.0,178.7 L665.0,179.2 L666.0,179.8 L667.0,180.2 L668.0,180.7 L669.0,181.1 L670.0,181.4 L671.0,181.7" fill="none" stroke="#ff1e14" stroke-width="2.3"/>
<rect x="476.5" y="12.8" width="198.5" height="172.1" fill="none" stroke="#000" stroke-width="1.6"/>
<path d="M476.5,184.9h4.5M476.5,163.4h2.5M476.5,141.9h4.5M476.5,120.4h2.5M476.5,98.9h4.5M476.5,77.3h2.5M476.5,55.8h4.5M476.5,34.3h2.5M476.5,12.8h4.5M480.2,184.9v-4.0M496.4,184.9v-2.5M512.6,184.9v-4.0M528.8,184.9v-2.5M545.0,184.9v-4.0M561.2,184.9v-2.5M577.4,184.9v-4.0M593.6,184.9v-2.5M609.8,184.9v-4.0M626.0,184.9v-2.5M642.2,184.9v-4.0M658.4,184.9v-2.5M674.6,184.9v-4.0" stroke="#000" stroke-width="1.5" fill="none"/>
<rect x="558.4" y="18" width="22.2" height="11" fill="#264469" stroke="#555" stroke-width="0.6"/>
<rect x="558.4" y="30.5" width="22.2" height="11" fill="#f0a43c" stroke="#777" stroke-width="0.6"/>
<line x1="557" y1="48.5" x2="582.5" y2="48.5" stroke="#1414ff" stroke-width="2.2"/>
<line x1="557" y1="61" x2="582.5" y2="61" stroke="#ff1e14" stroke-width="2"/>
<g font-family="Liberation Sans, sans-serif" fill="#000">
<text transform="translate(584.0,26.3) scale(1.080,1)" font-size="9.7" text-anchor="start">Gap 1</text>
<text transform="translate(584.0,38.0) scale(1.080,1)" font-size="9.7" text-anchor="start">Gap 2</text>
<text transform="translate(584.0,51.7) scale(1.080,1)" font-size="9.7" text-anchor="start">Gap 1 Gaussian fit</text>
<text transform="translate(584.0,63.4) scale(1.080,1)" font-size="9.7" text-anchor="start">Gap 2 Gaussian fit</text>
<text transform="translate(473.4,188.1) scale(1.100,1)" font-size="11.3" text-anchor="end">0.00</text>
<text transform="translate(473.4,145.1) scale(1.100,1)" font-size="11.3" text-anchor="end">0.04</text>
<text transform="translate(473.4,102.1) scale(1.100,1)" font-size="11.3" text-anchor="end">0.08</text>
<text transform="translate(473.4,59.0) scale(1.100,1)" font-size="11.3" text-anchor="end">0.12</text>
<text transform="translate(473.4,16.0) scale(1.100,1)" font-size="11.3" text-anchor="end">0.16</text>
<text transform="translate(480.2,198.6) scale(1.050,1)" font-size="11.3" text-anchor="middle">40</text>
<text transform="translate(512.6,198.6) scale(1.050,1)" font-size="11.3" text-anchor="middle">50</text>
<text transform="translate(545.0,198.6) scale(1.050,1)" font-size="11.3" text-anchor="middle">60</text>
<text transform="translate(577.4,198.6) scale(1.050,1)" font-size="11.3" text-anchor="middle">70</text>
<text transform="translate(609.8,198.6) scale(1.050,1)" font-size="11.3" text-anchor="middle">80</text>
<text transform="translate(642.2,198.6) scale(1.050,1)" font-size="11.3" text-anchor="middle">90</text>
<text transform="translate(674.6,198.6) scale(1.050,1)" font-size="11.3" text-anchor="middle">100</text>
<text transform="translate(566.0,212.4) scale(1.100,1)" font-size="11.3" text-anchor="middle"><tspan font-style="italic">Δ</tspan> (meV)</text>
<text transform="translate(445.6,92.0) rotate(-90) scale(1.080,1)" font-size="12" text-anchor="middle">probability (%)</text>
<text transform="translate(438.5,8.4)" font-size="14" text-anchor="start">c</text>
</g>
<path d="M476.2,299.2C477.6,300.0 481.5,302.8 484.6,304.0C487.7,305.2 491.5,306.7 494.6,306.5C497.7,306.3 500.6,304.3 503.3,302.9C506.0,301.5 508.7,298.2 510.6,297.9C512.5,297.5 513.2,298.9 514.8,300.8C516.4,302.7 518.1,306.2 520.0,309.2C521.9,312.1 524.2,316.0 526.2,318.5C528.3,321.0 530.1,322.4 532.5,324.2C534.9,325.9 538.0,327.1 540.8,329.0C543.6,330.9 546.8,332.9 549.2,335.8C551.6,338.8 553.0,343.1 555.4,346.7C557.8,350.2 561.3,354.4 563.8,357.1C566.2,359.8 568.4,361.7 570.0,362.9C571.6,364.1 572.0,364.4 573.1,364.5C574.2,364.6 574.6,364.6 576.5,363.5C578.4,362.4 581.9,360.0 584.6,358.0C587.3,356.0 590.0,354.2 592.7,351.5C595.4,348.8 598.4,344.1 600.8,341.8C603.2,339.5 605.1,338.6 607.3,337.9C609.4,337.2 611.6,338.8 613.7,337.6C615.9,336.4 618.3,333.9 620.2,330.5C622.1,327.1 623.5,324.0 625.1,317.5C626.7,311.0 628.5,300.8 630.0,291.6C631.5,282.4 632.9,270.9 634.2,262.4C635.5,253.9 636.7,243.4 638.0,240.4C639.3,237.4 640.5,240.9 641.9,244.6C643.2,248.3 644.6,257.0 646.1,262.4C647.6,267.8 649.1,272.9 651.0,277.0C652.9,281.1 655.3,284.3 657.5,286.7C659.7,289.1 661.4,290.5 664.0,291.6C666.6,292.7 671.5,292.9 673.0,293.2" fill="none" stroke="#ff2418" stroke-width="2.3" stroke-linejoin="round"/>
<rect x="475.9" y="222.7" width="197.3" height="171.9" fill="none" stroke="#000" stroke-width="1.6"/>
<path d="M475.9,394.6h6.5M475.9,375.6h3.8M475.9,356.6h6.5M475.9,337.6h3.8M475.9,318.6h6.5M475.9,299.6h3.8M475.9,280.6h6.5M475.9,261.6h3.8M475.9,242.6h6.5M475.9,394.6v-6.0M500.6,394.6v-3.5M525.2,394.6v-6.0M549.9,394.6v-3.5M574.5,394.6v-6.0M599.2,394.6v-3.5M623.9,394.6v-6.0M648.5,394.6v-3.5M673.2,394.6v-6.0" stroke="#000" stroke-width="1.6" fill="none"/>
<line x1="492" y1="250.4" x2="517" y2="250.4" stroke="#ff2418" stroke-width="2.3"/>
<g font-family="Liberation Sans, sans-serif" fill="#000">
<text transform="translate(465.0,398.4)" font-size="12" text-anchor="middle">0</text>
<text transform="translate(465.0,360.4)" font-size="12" text-anchor="middle">2</text>
<text transform="translate(465.0,322.4)" font-size="12" text-anchor="middle">4</text>
<text transform="translate(465.0,284.4)" font-size="12" text-anchor="middle">6</text>
<text transform="translate(465.0,246.4)" font-size="12" text-anchor="middle">8</text>
<text transform="translate(475.4,413.4) scale(1.060,1)" font-size="11.5" text-anchor="middle">-150</text>
<text transform="translate(524.7,413.4) scale(1.060,1)" font-size="11.5" text-anchor="middle">-75</text>
<text transform="translate(574.0,413.4) scale(1.060,1)" font-size="11.5" text-anchor="middle">0</text>
<text transform="translate(623.4,413.4) scale(1.060,1)" font-size="11.5" text-anchor="middle">75</text>
<text transform="translate(672.7,413.4) scale(1.060,1)" font-size="11.5" text-anchor="middle">150</text>
<text transform="translate(574.8,427.0) scale(1.035,1)" font-size="12" text-anchor="middle">Bias (mV)</text>
<text transform="translate(452.0,309.2) rotate(-90) scale(1.050,1)" font-size="12" text-anchor="middle">d<tspan font-style="italic">I</tspan>/d<tspan font-style="italic">V</tspan> (a.u.)</text>
<text transform="translate(519.4,253.8) scale(1.03,1)" font-size="10"><tspan font-style="italic">Δ</tspan><tspan font-size="7" dy="3">2max</tspan><tspan dy="-3"> = 98 meV</tspan></text>
<text transform="translate(438.5,225.5)" font-size="14" text-anchor="start">d</text>
</g>
</svg>
</body></html>
